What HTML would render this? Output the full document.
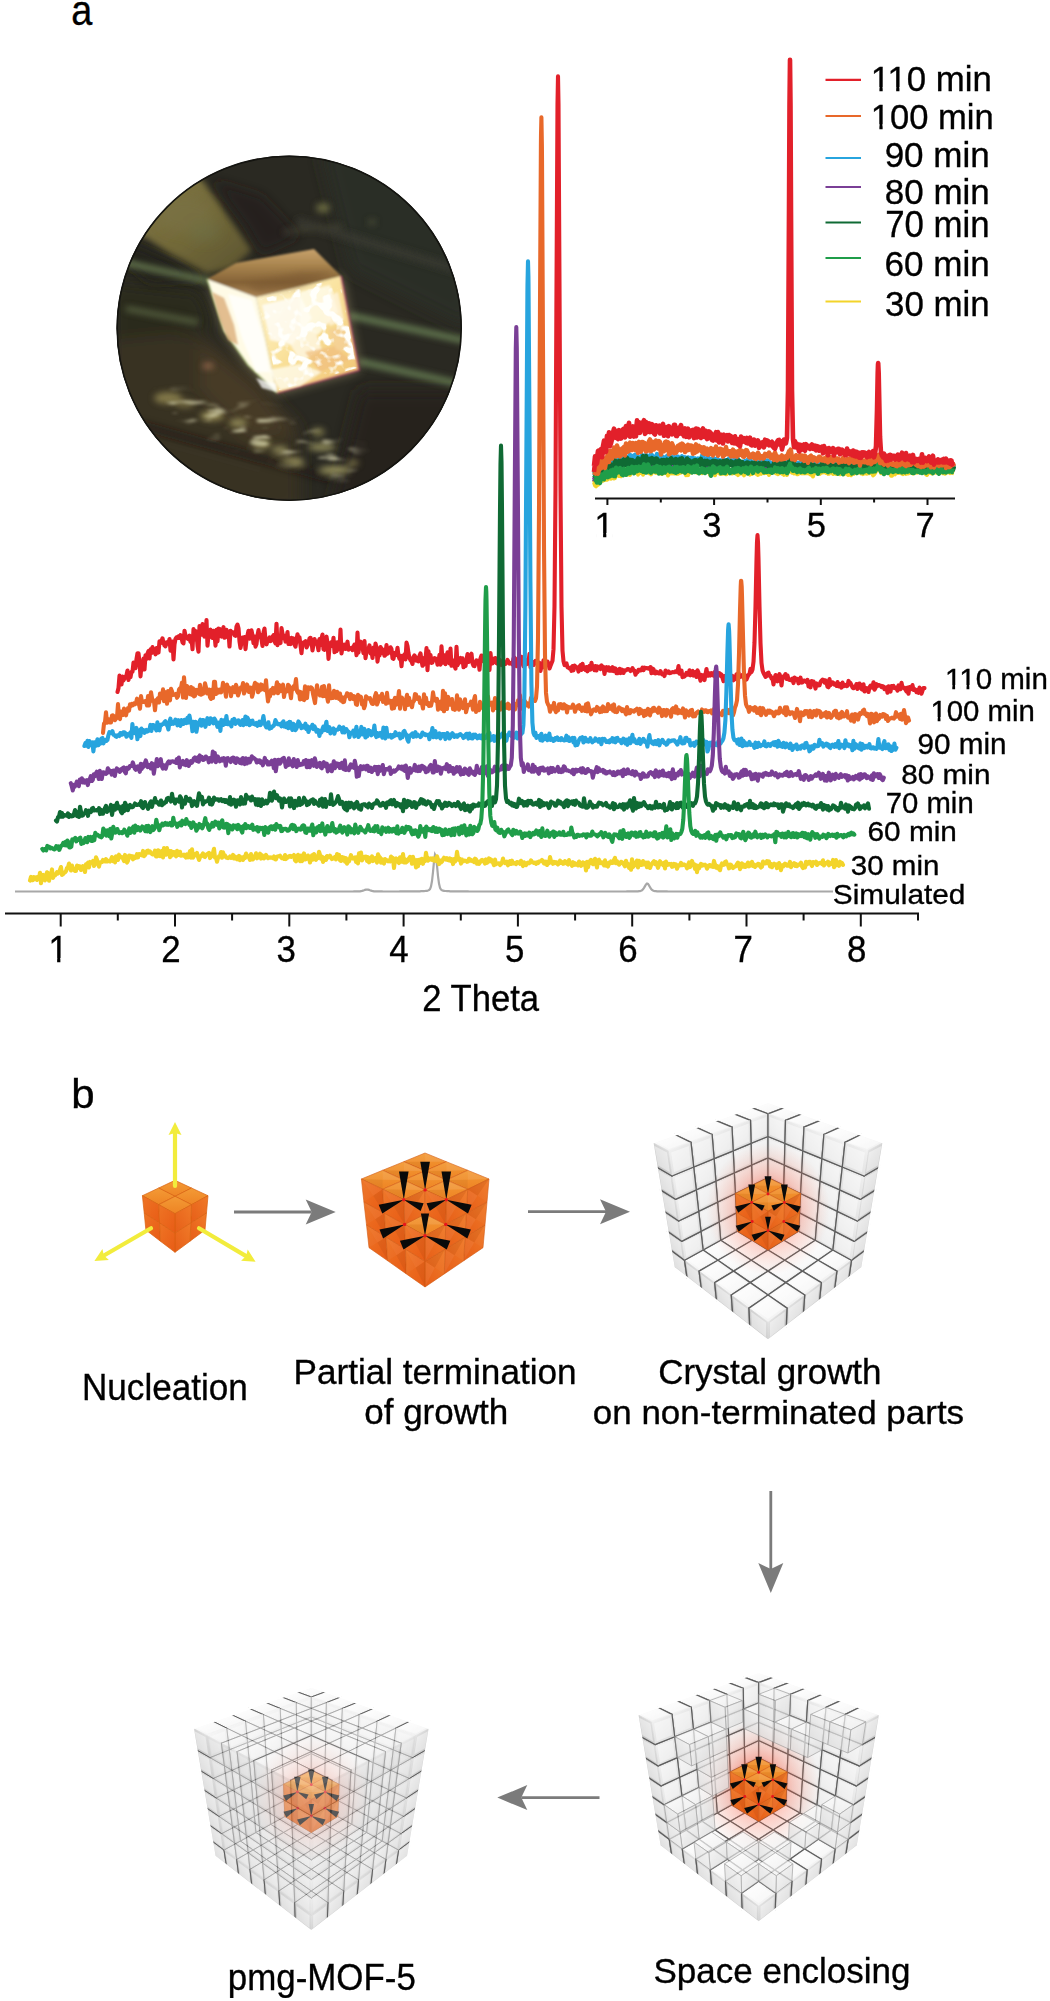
<!DOCTYPE html><html><head><meta charset="utf-8"><style>html,body{margin:0;padding:0;background:#fff;width:1050px;height:2001px;overflow:hidden}svg{display:block}text{font-family:"Liberation Sans",sans-serif;fill:#000;stroke:#000;stroke-width:0.35px}</style></head><body>
<svg width="1050" height="2001" viewBox="0 0 1050 2001">
<defs><linearGradient id="ot" x1="0" y1="0" x2="0" y2="1"><stop offset="0" stop-color="#f39a35"/><stop offset="1" stop-color="#ee8424"/></linearGradient>
<linearGradient id="ol" x1="0" y1="0" x2="1" y2="1"><stop offset="0" stop-color="#ee7424"/><stop offset="1" stop-color="#e85c16"/></linearGradient>
<linearGradient id="or" x1="1" y1="0" x2="0" y2="1"><stop offset="0" stop-color="#f07a28"/><stop offset="1" stop-color="#e65e18"/></linearGradient>
<linearGradient id="wt" x1="0" y1="0" x2="1" y2="1"><stop offset="0" stop-color="#ffffff"/><stop offset="1" stop-color="#eeeeee"/></linearGradient>
<linearGradient id="wl" x1="1" y1="0" x2="0" y2="1"><stop offset="0" stop-color="#f4f4f4"/><stop offset="1" stop-color="#d8d8d8"/></linearGradient>
<linearGradient id="wr" x1="0" y1="0" x2="1" y2="1"><stop offset="0" stop-color="#f4f4f4"/><stop offset="1" stop-color="#d8d8d8"/></linearGradient>
<linearGradient id="wlo" x1="1" y1="0" x2="0" y2="1"><stop offset="0" stop-color="#ececec"/><stop offset="1" stop-color="#b4b4b4"/></linearGradient>
<linearGradient id="wro" x1="0" y1="0" x2="1" y2="1"><stop offset="0" stop-color="#efefef"/><stop offset="1" stop-color="#b8b8b8"/></linearGradient>
<radialGradient id="glow" cx="0.5" cy="0.5" r="0.5"><stop offset="0" stop-color="#ff3010" stop-opacity="0.7"/><stop offset="0.55" stop-color="#ff5030" stop-opacity="0.25"/><stop offset="1" stop-color="#ff8060" stop-opacity="0"/></radialGradient></defs>
<rect width="1050" height="2001" fill="#fff"/>
<text x="71.29" y="25.00" font-size="42.05" textLength="21.06" lengthAdjust="spacingAndGlyphs">a</text>
<defs>
<clipPath id="pc"><circle cx="289.2" cy="328.2" r="172.6"/></clipPath>
<filter id="b12" x="-50%" y="-50%" width="200%" height="200%"><feGaussianBlur stdDeviation="12"/></filter>
<filter id="b8" x="-50%" y="-50%" width="200%" height="200%"><feGaussianBlur stdDeviation="8"/></filter>
<filter id="b6" x="-50%" y="-50%" width="200%" height="200%"><feGaussianBlur stdDeviation="6"/></filter>
<filter id="b4" x="-50%" y="-50%" width="200%" height="200%"><feGaussianBlur stdDeviation="4"/></filter>
<filter id="b3" x="-50%" y="-50%" width="200%" height="200%"><feGaussianBlur stdDeviation="3"/></filter>
<filter id="b2" x="-50%" y="-50%" width="200%" height="200%"><feGaussianBlur stdDeviation="1.8"/></filter>
<filter id="b1" x="-50%" y="-50%" width="200%" height="200%"><feGaussianBlur stdDeviation="1.0"/></filter>
<linearGradient id="fface" x1="0" y1="0" x2="1" y2="1"><stop offset="0" stop-color="#fff6d4"/><stop offset="0.5" stop-color="#f9e098"/><stop offset="1" stop-color="#f0c070"/></linearGradient>
<linearGradient id="tface" x1="0" y1="0" x2="0" y2="1"><stop offset="0" stop-color="#c8a26c"/><stop offset="0.35" stop-color="#a8844e"/><stop offset="0.7" stop-color="#846236"/><stop offset="1" stop-color="#b08a5a"/></linearGradient>
<linearGradient id="hold" x1="0" y1="0" x2="1" y2="1"><stop offset="0" stop-color="#857a46"/><stop offset="0.6" stop-color="#716838"/><stop offset="1" stop-color="#5a5230"/></linearGradient>
<filter id="blotch" x="0" y="0" width="100%" height="100%"><feTurbulence type="fractalNoise" baseFrequency="0.09" numOctaves="2" seed="7" result="t"/><feColorMatrix in="t" type="matrix" values="0 0 0 0 1  0 0 0 0 1  0 0 0 0 0.96  9 0 0 0 -4.6" result="m"/><feComposite in="m" in2="SourceGraphic" operator="in"/><feGaussianBlur stdDeviation="0.6"/></filter>
<filter id="grain" x="0" y="0" width="100%" height="100%"><feTurbulence type="fractalNoise" baseFrequency="0.5" numOctaves="1" seed="2" result="t"/><feColorMatrix in="t" type="matrix" values="0 0 0 0 0.5  0 0 0 0 0.5  0 0 0 0 0.4  0 0 0 0.5 -0.15" result="m"/><feComposite in="m" in2="SourceGraphic" operator="in"/></filter>
<filter id="streak" x="-10%" y="-10%" width="120%" height="120%"><feGaussianBlur in="SourceAlpha" stdDeviation="7" result="msk"/><feTurbulence type="fractalNoise" baseFrequency="0.04 0.13" numOctaves="2" seed="11" result="t"/><feColorMatrix in="t" type="matrix" values="0 0 0 0 0.64  0 0 0 0 0.62  0 0 0 0 0.40  6 0 0 0 -3.45" result="m"/><feComposite in="m" in2="msk" operator="in"/><feGaussianBlur stdDeviation="1.6"/></filter>
</defs>
<g clip-path="url(#pc)">
<rect x="110" y="150" width="360" height="360" fill="#2a2922"/>
<g filter="url(#b8)">
<path d="M110 330 L200 335 L260 380 L300 440 L300 510 L110 510Z" fill="#383022"/>
<path d="M200 340 L260 390 L300 430 L250 440 L200 390 Z" fill="#463a26"/>
<path d="M320 150 L470 150 L470 330 L350 270 Z" fill="#2c2d28"/>
<path d="M360 390 L470 390 L470 510 L330 510 Z" fill="#26241d"/>
<path d="M110 280 L200 290 L215 330 L110 340 Z" fill="#2b2a1f"/>
</g>
<g filter="url(#b3)">
<path d="M120 205 L150 180 L180 165 L204 182 L232 222 L252 250 L232 268 L206 274 L172 256 L146 238 L120 232 Z" fill="url(#hold)"/>
</g>
<g filter="url(#b6)">
<ellipse cx="185" cy="215" rx="28" ry="18" fill="#7a7448" opacity="0.5"/>
<ellipse cx="205" cy="232" rx="16" ry="10" fill="#6e7048" opacity="0.5"/>
<path d="M130 242 L175 262 L206 280 L150 282 L125 262 Z" fill="#221e15" opacity="0.8"/>
<path d="M212 180 L262 196 L300 236 L262 254 L245 225 Z" fill="#241f17" opacity="0.7"/>
</g>
<g filter="url(#b3)" stroke-linecap="round" fill="none">
<path d="M122 262 L208 281" stroke="#718658" stroke-width="6" opacity="0.85"/>
<path d="M128 309 L196 322" stroke="#66744c" stroke-width="5" opacity="0.75"/>
<path d="M352 316 L462 340" stroke="#728c5c" stroke-width="6" opacity="0.85"/>
<path d="M362 362 L460 384" stroke="#728c5c" stroke-width="6" opacity="0.85"/>
<path d="M285 232 L340 226" stroke="#50503c" stroke-width="4" opacity="0.6"/>
<path d="M300 222 L465 272" stroke="#3c3c32" stroke-width="9" opacity="0.7"/>
<ellipse cx="323" cy="208" rx="7" ry="5" fill="#6e6e42" opacity="0.9"/>
<ellipse cx="372" cy="222" rx="4" ry="3" fill="#4e5038" opacity="0.8"/>
</g>
<g filter="url(#b3)">
<ellipse cx="168" cy="398" rx="14" ry="6" fill="#8e8450" opacity="0.85"/>
<ellipse cx="185" cy="404" rx="10" ry="4" fill="#7a7044" opacity="0.85"/>
<ellipse cx="212" cy="416" rx="12" ry="5" fill="#9c9258" opacity="0.85"/>
<ellipse cx="238" cy="423" rx="9" ry="4" fill="#a09a60" opacity="0.85"/>
<ellipse cx="262" cy="444" rx="9" ry="4" fill="#a8a266" opacity="0.85"/>
<ellipse cx="280" cy="450" rx="8" ry="4" fill="#9a9460" opacity="0.85"/>
<ellipse cx="292" cy="462" rx="12" ry="4" fill="#b0a86c" opacity="0.85"/>
<ellipse cx="322" cy="447" rx="14" ry="4" fill="#9c9660" opacity="0.85"/>
<ellipse cx="335" cy="470" rx="16" ry="4" fill="#aca66a" opacity="0.85"/>
<ellipse cx="318" cy="432" rx="7" ry="4" fill="#8a8452" opacity="0.85"/>
<ellipse cx="208" cy="366" rx="6" ry="3" fill="#a06c52" opacity="0.85"/>
<ellipse cx="353" cy="463" rx="6" ry="3" fill="#8a8050" opacity="0.85"/>
<path d="M140 425 L330 478" stroke="#1c1a14" stroke-width="9" opacity="0.55"/>
</g>
<g>
<path d="M160 392 L260 410 L360 452 L352 478 L250 448 L160 410 Z" fill="#000" filter="url(#streak)" opacity="0.85"/>
<path d="M150 440 L260 470" stroke="#3a3426" stroke-width="6" opacity="0.5"/>
</g>
<path d="M210 282 L256 297 L341 276 L359 370 L277 393 L248 365 L224 331 Z" fill="#f0e0a0" opacity="0.45" filter="url(#b6)"/>
<g filter="url(#b1)">
<path d="M207 279 L236 263 L314 249 L341 276 L256 297 Z" fill="url(#tface)"/>
<path d="M256 297 L341 276 L359 370 L277 393 Z" fill="url(#fface)"/>
<path d="M207 279 L256 297 L277 393 L248 365 L224 331 Z" fill="#fffbe6"/>
<path d="M207 279 L224 331 L248 365 L277 393" stroke="#a8c070" stroke-width="1.6" fill="none" opacity="0.8"/>
<path d="M341 276 L359 370 L277 393" stroke="#b03466" stroke-width="1.8" fill="none" opacity="0.85"/>
</g>
<path d="M245 284 L300 272 L335 272 L300 287 L258 293 Z" fill="#7a5830" opacity="0.55" filter="url(#b3)"/>
<g filter="url(#b1)">
<path d="M212 292 L224 298 L234 325 L238 345 L228 340 L220 320 Z" fill="#d9aa74" opacity="0.75"/>
<path d="M228 294 L252 300 L264 340 L270 372 L256 372 L242 338 Z" fill="#ffffff" opacity="0.75"/>
<path d="M262 305 L300 296 L312 318 L292 345 L270 340 Z" fill="#ffffff" opacity="0.75"/>
<path d="M300 292 L330 285 L338 312 L318 335 L300 325 Z" fill="#fffdf2" opacity="0.75"/>
<path d="M285 335 L315 330 L322 350 L300 362 Z" fill="#fffaea" opacity="0.75"/>
<path d="M318 300 L338 292 L344 320 L330 326 Z" fill="#fff6e0" opacity="0.75"/>
<path d="M268 370 L300 364 L322 372 L300 386 L280 390 Z" fill="#fffdf2" opacity="0.75"/>
<path d="M305 352 L335 346 L350 360 L320 372 Z" fill="#f0c080" opacity="0.75"/>
<path d="M328 330 L345 326 L352 352 L336 350 Z" fill="#f4d098" opacity="0.75"/>
<path d="M256 378 L276 384 L277 392 L262 388 Z" fill="#ffffff" opacity="0.75"/>
</g>
<path d="M258 300 L339 278 L357 368 L279 390 Z" fill="#000" filter="url(#blotch)"/>
</g>
<circle cx="289.2" cy="328.2" r="172.0" fill="none" stroke="#141410" stroke-width="1.6"/>
<path d="M594.0 480.4L595.0 483.4L596.0 484.3L597.0 481.5L598.0 483.0L599.0 481.6L600.0 480.5L601.0 477.9L602.0 478.7L603.0 478.8L604.0 477.2L605.0 478.1L606.0 476.0L607.0 477.8L608.0 477.2L609.0 475.6L610.0 474.5L611.0 476.7L612.0 474.0L613.0 472.6L614.0 476.6L615.0 476.1L616.0 473.0L617.0 471.8L618.0 473.1L619.0 474.0L620.0 473.5L621.0 474.3L622.0 471.5L623.0 472.0L624.0 472.1L625.0 469.4L626.0 470.4L627.0 472.8L628.0 472.6L629.0 470.7L630.0 473.2L631.0 468.6L632.0 469.1L633.0 469.2L634.0 470.2L635.0 469.9L636.0 470.9L637.0 469.9L638.0 472.8L639.0 468.1L640.0 469.2L641.0 471.2L642.0 468.2L643.0 472.9L644.0 468.8L645.0 469.8L646.0 469.2L647.0 469.4L648.0 470.8L649.0 471.4L650.0 469.4L651.0 472.6L652.0 470.6L653.0 469.4L654.0 469.4L655.0 470.8L656.0 471.1L657.0 470.8L658.0 468.3L659.0 469.2L660.0 471.7L661.0 471.9L662.0 472.4L663.0 468.7L664.0 468.2L665.0 471.4L666.0 470.4L667.0 469.9L668.0 473.9L669.0 470.1L670.0 472.0L671.0 469.1L672.0 471.8L673.0 469.4L674.0 472.0L675.0 472.0L676.0 468.8L677.0 472.3L678.0 472.1L679.0 471.7L680.0 471.2L681.0 471.1L682.0 470.3L683.0 469.4L684.0 468.7L685.0 471.6L686.0 473.8L687.0 470.6L688.0 473.7L689.0 471.2L690.0 471.1L691.0 471.2L692.0 471.0L693.0 467.8L694.0 468.9L695.0 469.7L696.0 467.3L697.0 471.3L698.0 471.0L699.0 470.7L700.0 471.5L701.0 471.4L702.0 471.8L703.0 470.4L704.0 469.7L705.0 471.5L706.0 470.8L707.0 469.8L708.0 470.9L709.0 469.8L710.0 473.5L711.0 472.3L712.0 468.9L713.0 471.3L714.0 469.5L715.0 474.1L716.0 469.7L717.0 470.1L718.0 471.2L719.0 469.7L720.0 472.7L721.0 471.5L722.0 472.7L723.0 472.5L724.0 469.7L725.0 470.1L726.0 473.2L727.0 472.8L728.0 470.1L729.0 471.4L730.0 469.8L731.0 471.8L732.0 472.6L733.0 472.2L734.0 470.0L735.0 470.9L736.0 472.6L737.0 471.2L738.0 474.2L739.0 471.3L740.0 471.0L741.0 472.7L742.0 472.0L743.0 471.4L744.0 474.5L745.0 471.6L746.0 472.4L747.0 472.1L748.0 471.5L749.0 470.5L750.0 473.8L751.0 471.0L752.0 473.1L753.0 471.6L754.0 471.9L755.0 471.3L756.0 472.8L757.0 470.1L758.0 474.1L759.0 470.3L760.0 472.1L761.0 473.0L762.0 469.7L763.0 471.9L764.0 472.3L765.0 470.1L766.0 472.2L767.0 471.2L768.0 471.9L769.0 474.2L770.0 472.6L771.0 472.0L772.0 471.6L773.0 470.5L774.0 471.5L775.0 471.8L776.0 472.5L777.0 470.9L778.0 473.4L779.0 471.8L780.0 471.3L781.0 471.4L782.0 472.9L783.0 472.6L784.0 474.1L785.0 472.7L786.0 473.4L787.0 474.3L788.0 470.8L789.0 469.2L789.5 466.6L790.0 467.2L790.5 466.2L791.0 470.2L792.0 471.9L793.0 471.0L794.0 472.7L795.0 471.6L796.0 472.2L797.0 473.5L798.0 473.6L799.0 470.2L800.0 472.4L801.0 471.7L802.0 472.7L803.0 471.7L804.0 472.6L805.0 470.5L806.0 472.5L807.0 471.2L808.0 472.5L809.0 471.9L810.0 473.4L811.0 473.9L812.0 471.4L813.0 475.8L814.0 472.5L815.0 472.4L816.0 471.7L817.0 470.5L818.0 471.4L819.0 471.9L820.0 473.1L821.0 471.0L822.0 470.9L823.0 471.8L824.0 471.4L825.0 471.0L826.0 472.1L827.0 471.4L828.0 473.2L829.0 473.0L830.0 469.6L831.0 471.7L832.0 471.9L833.0 473.3L834.0 471.4L835.0 471.7L836.0 473.2L837.0 473.3L838.0 472.8L839.0 470.7L840.0 473.6L841.0 471.8L842.0 471.6L843.0 472.5L844.0 473.5L845.0 472.3L846.0 472.0L847.0 472.9L848.0 474.4L849.0 471.0L850.0 472.1L851.0 474.7L852.0 472.4L853.0 470.0L854.0 473.3L855.0 471.5L856.0 470.7L857.0 472.6L858.0 471.7L859.0 471.6L860.0 471.4L861.0 472.8L862.0 472.0L863.0 473.5L864.0 472.4L865.0 471.5L866.0 473.0L867.0 473.1L868.0 469.8L869.0 472.7L870.0 471.7L871.0 472.4L872.0 472.4L873.0 474.7L874.0 474.0L875.0 472.6L876.0 470.8L877.0 468.2L877.7 466.5L878.0 466.6L878.2 465.7L878.7 465.8L879.0 469.2L880.0 469.6L881.0 472.6L882.0 470.7L883.0 472.1L884.0 471.0L885.0 472.0L886.0 471.0L887.0 470.0L888.0 472.1L889.0 471.4L890.0 471.9L891.0 475.1L892.0 475.3L893.0 473.5L894.0 472.9L895.0 473.8L896.0 471.6L897.0 472.4L898.0 470.8L899.0 472.5L900.0 472.0L901.0 472.3L902.0 473.2L903.0 473.6L904.0 471.6L905.0 472.0L906.0 473.4L907.0 471.8L908.0 472.9L909.0 472.8L910.0 472.0L911.0 470.6L912.0 472.1L913.0 473.1L914.0 471.4L915.0 470.7L916.0 472.1L917.0 472.2L918.0 471.7L919.0 471.3L920.0 471.3L921.0 470.9L922.0 472.3L923.0 470.5L924.0 470.2L925.0 472.0L926.0 474.0L927.0 474.5L928.0 469.9L929.0 472.4L930.0 472.4L931.0 472.8L932.0 473.1L933.0 471.6L934.0 471.6L935.0 471.8L936.0 472.3L937.0 469.9L938.0 471.3L939.0 470.7L940.0 471.8L941.0 472.1L942.0 471.5L943.0 472.7L944.0 471.6L945.0 473.3L946.0 471.4L947.0 472.1L948.0 471.2L949.0 471.8L950.0 472.8L951.0 471.7L952.0 471.6L953.0 472.6L954.0 472.9M594.0 482.4L595.0 485.4L596.0 486.3L597.0 483.5L598.0 484.9L599.0 483.6L600.0 482.5L601.0 479.9L602.0 480.7L603.0 480.8L604.0 479.1L605.0 480.0L606.0 477.9L607.0 479.7L608.0 479.1L609.0 477.5L610.0 476.5L611.0 478.6L612.0 475.9L613.0 474.5L614.0 478.5L615.0 478.1L616.0 474.9L617.0 473.7L618.0 475.0L619.0 475.9L620.0 475.4L621.0 476.2L622.0 473.4L623.0 473.9L624.0 474.0L625.0 471.3L626.0 472.3L627.0 474.7L628.0 474.5L629.0 472.6L630.0 475.0L631.0 470.5L632.0 470.9L633.0 471.1L634.0 472.0L635.0 471.8L636.0 472.7L637.0 471.7L638.0 474.6L639.0 469.9L640.0 471.0L641.0 473.0L642.0 470.0L643.0 474.7L644.0 470.6L645.0 471.6L646.0 471.0L647.0 471.2L648.0 472.6L649.0 473.2L650.0 471.2L651.0 474.4L652.0 472.4L653.0 471.2L654.0 471.2L655.0 472.5L656.0 472.9L657.0 472.5L658.0 470.1L659.0 471.0L660.0 473.4L661.0 473.6L662.0 474.0L663.0 470.4L664.0 469.8L665.0 473.1L666.0 472.1L667.0 471.5L668.0 475.5L669.0 471.8L670.0 473.6L671.0 470.7L672.0 473.4L673.0 471.0L674.0 473.6L675.0 473.6L676.0 470.3L677.0 473.9L678.0 473.7L679.0 473.2L680.0 472.8L681.0 472.6L682.0 471.8L683.0 470.9L684.0 470.2L685.0 473.1L686.0 475.2L687.0 472.1L688.0 475.2L689.0 472.6L690.0 472.5L691.0 472.6L692.0 472.4L693.0 469.3L694.0 470.3L695.0 471.1L696.0 468.6L697.0 472.7L698.0 472.3L699.0 472.1L700.0 472.8L701.0 472.7L702.0 473.1L703.0 471.7L704.0 471.0L705.0 472.8L706.0 472.1L707.0 471.1L708.0 472.2L709.0 471.0L710.0 474.8L711.0 473.6L712.0 470.2L713.0 472.5L714.0 470.7L715.0 475.3L716.0 470.9L717.0 471.3L718.0 472.4L719.0 470.9L720.0 473.9L721.0 472.7L722.0 473.8L723.0 473.7L724.0 470.8L725.0 471.2L726.0 474.3L727.0 473.9L728.0 471.2L729.0 472.5L730.0 470.9L731.0 472.8L732.0 473.6L733.0 473.2L734.0 471.0L735.0 471.9L736.0 473.7L737.0 472.2L738.0 475.2L739.0 472.3L740.0 472.0L741.0 473.6L742.0 473.0L743.0 472.3L744.0 475.4L745.0 472.5L746.0 473.3L747.0 473.1L748.0 472.4L749.0 471.4L750.0 474.7L751.0 471.9L752.0 474.0L753.0 472.5L754.0 472.7L755.0 472.1L756.0 473.6L757.0 470.9L758.0 474.9L759.0 471.1L760.0 472.9L761.0 473.8L762.0 470.5L763.0 472.7L764.0 473.1L765.0 470.9L766.0 473.0L767.0 472.0L768.0 472.7L769.0 475.0L770.0 473.4L771.0 472.8L772.0 472.3L773.0 471.3L774.0 472.2L775.0 472.6L776.0 473.3L777.0 471.6L778.0 474.2L779.0 472.6L780.0 472.1L781.0 472.2L782.0 473.7L783.0 473.3L784.0 474.8L785.0 473.4L786.0 474.1L787.0 475.0L788.0 471.5L789.0 469.9L789.5 467.4L790.0 468.0L790.5 466.9L791.0 470.9L792.0 472.7L793.0 471.7L794.0 473.5L795.0 472.3L796.0 472.9L797.0 474.2L798.0 474.3L799.0 470.9L800.0 473.1L801.0 472.4L802.0 473.4L803.0 472.4L804.0 473.3L805.0 471.2L806.0 473.2L807.0 471.9L808.0 473.2L809.0 472.6L810.0 474.1L811.0 474.6L812.0 472.1L813.0 476.5L814.0 473.2L815.0 473.1L816.0 472.4L817.0 471.2L818.0 472.1L819.0 472.6L820.0 473.8L821.0 471.7L822.0 471.6L823.0 472.5L824.0 472.1L825.0 471.7L826.0 472.8L827.0 472.1L828.0 473.9L829.0 473.7L830.0 470.3L831.0 472.3L832.0 472.5L833.0 474.0L834.0 472.0L835.0 472.4L836.0 473.9L837.0 473.9L838.0 473.4L839.0 471.3L840.0 474.3L841.0 472.5L842.0 472.3L843.0 473.1L844.0 474.2L845.0 472.9L846.0 472.6L847.0 473.5L848.0 475.0L849.0 471.6L850.0 472.7L851.0 475.3L852.0 473.0L853.0 470.6L854.0 473.9L855.0 472.1L856.0 471.3L857.0 473.2L858.0 472.3L859.0 472.2L860.0 472.0L861.0 473.4L862.0 472.6L863.0 474.1L864.0 472.9L865.0 472.1L866.0 473.6L867.0 473.7L868.0 470.3L869.0 473.3L870.0 472.2L871.0 473.0L872.0 473.0L873.0 475.3L874.0 474.6L875.0 473.2L876.0 471.3L877.0 468.8L877.7 467.0L878.0 467.1L878.2 466.2L878.7 466.3L879.0 469.7L880.0 470.2L881.0 473.1L882.0 471.2L883.0 472.6L884.0 471.6L885.0 472.6L886.0 471.5L887.0 470.6L888.0 472.6L889.0 471.9L890.0 472.4L891.0 475.7L892.0 475.8L893.0 474.1L894.0 473.5L895.0 474.3L896.0 472.1L897.0 472.9L898.0 471.3L899.0 473.0L900.0 472.5L901.0 472.8L902.0 473.7L903.0 474.1L904.0 472.1L905.0 472.5L906.0 473.9L907.0 472.3L908.0 473.4L909.0 473.3L910.0 472.5L911.0 471.1L912.0 472.6L913.0 473.6L914.0 471.9L915.0 471.2L916.0 472.6L917.0 472.7L918.0 472.2L919.0 471.8L920.0 471.8L921.0 471.4L922.0 472.7L923.0 471.0L924.0 470.6L925.0 472.5L926.0 474.4L927.0 475.0L928.0 470.4L929.0 472.8L930.0 472.8L931.0 473.2L932.0 473.5L933.0 472.1L934.0 472.0L935.0 472.3L936.0 472.7L937.0 470.4L938.0 471.7L939.0 471.1L940.0 472.2L941.0 472.6L942.0 471.9L943.0 473.1L944.0 472.0L945.0 473.7L946.0 471.8L947.0 472.5L948.0 471.6L949.0 472.2L950.0 473.2L951.0 472.1L952.0 472.0L953.0 473.0L954.0 473.3" stroke="#f3d42a" stroke-width="4.0" fill="none" stroke-linejoin="round"/>
<path d="M594.0 479.5L595.0 476.1L596.0 476.1L597.0 475.1L598.0 474.9L599.0 473.0L600.0 471.7L601.0 473.4L602.0 469.0L603.0 472.6L604.0 471.8L605.0 469.6L606.0 470.3L607.0 468.4L608.0 467.6L609.0 469.9L610.0 468.3L611.0 470.5L612.0 470.9L613.0 467.5L614.0 466.5L615.0 468.1L616.0 462.6L617.0 462.9L618.0 464.0L619.0 464.4L620.0 463.8L621.0 463.5L622.0 464.2L623.0 463.0L624.0 463.6L625.0 463.1L626.0 461.7L627.0 461.3L628.0 460.9L629.0 462.9L630.0 461.9L631.0 464.7L632.0 462.2L633.0 464.7L634.0 460.2L635.0 461.9L636.0 459.8L637.0 461.4L638.0 462.8L639.0 461.1L640.0 461.2L641.0 462.2L642.0 464.3L643.0 460.3L644.0 460.2L645.0 460.8L646.0 461.5L647.0 460.6L648.0 462.2L649.0 462.9L650.0 460.1L651.0 464.1L652.0 459.9L653.0 462.4L654.0 462.1L655.0 464.6L656.0 461.1L657.0 462.0L658.0 462.7L659.0 463.2L660.0 461.8L661.0 464.5L662.0 460.5L663.0 460.9L664.0 462.2L665.0 461.0L666.0 460.1L667.0 464.1L668.0 463.4L669.0 459.2L670.0 463.5L671.0 463.8L672.0 460.9L673.0 464.0L674.0 460.4L675.0 461.7L676.0 462.2L677.0 463.1L678.0 463.0L679.0 462.8L680.0 461.4L681.0 464.6L682.0 463.5L683.0 462.0L684.0 462.0L685.0 464.6L686.0 463.6L687.0 461.7L688.0 462.4L689.0 464.2L690.0 460.4L691.0 461.9L692.0 463.9L693.0 461.5L694.0 465.1L695.0 461.7L696.0 461.4L697.0 461.5L698.0 463.3L699.0 462.8L700.0 462.3L701.0 463.5L702.0 462.4L703.0 463.7L704.0 464.2L705.0 463.9L706.0 462.2L707.0 464.6L708.0 463.8L709.0 464.6L710.0 464.8L711.0 463.2L712.0 464.6L713.0 462.8L714.0 464.4L715.0 461.8L716.0 464.6L717.0 463.8L718.0 461.8L719.0 464.3L720.0 463.3L721.0 466.4L722.0 464.2L723.0 466.7L724.0 464.9L725.0 463.0L726.0 464.4L727.0 464.4L728.0 465.1L729.0 462.3L730.0 463.9L731.0 463.5L732.0 464.5L733.0 464.5L734.0 464.7L735.0 465.1L736.0 464.1L737.0 465.2L738.0 464.0L739.0 464.0L740.0 464.8L741.0 464.7L742.0 463.4L743.0 467.0L744.0 463.5L745.0 462.9L746.0 465.9L747.0 465.2L748.0 465.1L749.0 464.0L750.0 463.2L751.0 464.5L752.0 464.7L753.0 464.8L754.0 464.9L755.0 466.2L756.0 463.7L757.0 462.9L758.0 464.6L759.0 463.2L760.0 462.1L761.0 466.6L762.0 465.2L763.0 464.4L764.0 464.7L765.0 467.0L766.0 466.3L767.0 466.1L768.0 465.6L769.0 464.1L770.0 465.1L771.0 464.3L772.0 467.4L773.0 464.2L774.0 464.0L775.0 463.7L776.0 466.2L777.0 463.7L778.0 466.1L779.0 465.8L780.0 465.3L781.0 468.1L782.0 465.0L783.0 466.1L784.0 464.3L785.0 464.8L786.0 466.4L787.0 464.7L788.0 464.8L789.0 462.7L789.5 460.5L790.0 459.3L790.5 460.5L791.0 459.9L792.0 464.6L793.0 466.7L794.0 467.5L795.0 466.5L796.0 465.9L797.0 465.9L798.0 465.0L799.0 466.8L800.0 466.7L801.0 465.3L802.0 464.3L803.0 466.3L804.0 467.1L805.0 465.4L806.0 466.2L807.0 466.3L808.0 466.9L809.0 466.5L810.0 465.0L811.0 466.8L812.0 465.7L813.0 466.0L814.0 466.9L815.0 464.2L816.0 466.9L817.0 465.0L818.0 465.5L819.0 467.3L820.0 467.3L821.0 465.3L822.0 465.1L823.0 464.6L824.0 465.3L825.0 467.7L826.0 466.3L827.0 465.2L828.0 466.0L829.0 464.9L830.0 466.1L831.0 466.9L832.0 464.8L833.0 467.1L834.0 467.8L835.0 467.2L836.0 465.7L837.0 467.2L838.0 465.3L839.0 465.3L840.0 468.5L841.0 465.1L842.0 465.6L843.0 466.1L844.0 466.5L845.0 467.7L846.0 467.2L847.0 467.8L848.0 467.2L849.0 466.7L850.0 465.1L851.0 466.6L852.0 465.8L853.0 465.8L854.0 466.2L855.0 468.6L856.0 467.5L857.0 467.6L858.0 465.5L859.0 466.6L860.0 466.4L861.0 466.9L862.0 467.4L863.0 466.5L864.0 466.8L865.0 467.3L866.0 467.1L867.0 467.5L868.0 464.0L869.0 465.7L870.0 466.6L871.0 465.7L872.0 465.7L873.0 464.3L874.0 467.4L875.0 466.4L876.0 465.3L877.0 465.5L877.7 461.1L878.0 461.8L878.2 461.0L878.7 462.1L879.0 460.5L880.0 465.5L881.0 466.3L882.0 467.5L883.0 469.5L884.0 468.3L885.0 468.1L886.0 465.5L887.0 467.1L888.0 466.7L889.0 465.6L890.0 467.3L891.0 467.9L892.0 467.3L893.0 467.9L894.0 468.3L895.0 466.7L896.0 468.9L897.0 466.3L898.0 466.9L899.0 467.0L900.0 466.7L901.0 465.7L902.0 468.1L903.0 468.9L904.0 467.6L905.0 467.3L906.0 466.8L907.0 467.6L908.0 467.8L909.0 467.1L910.0 466.7L911.0 464.9L912.0 467.2L913.0 468.6L914.0 467.3L915.0 465.9L916.0 466.5L917.0 465.8L918.0 465.4L919.0 468.7L920.0 467.5L921.0 467.8L922.0 465.3L923.0 467.9L924.0 468.1L925.0 468.6L926.0 466.5L927.0 466.3L928.0 468.6L929.0 468.1L930.0 467.2L931.0 468.2L932.0 469.1L933.0 467.8L934.0 468.0L935.0 468.4L936.0 468.3L937.0 467.5L938.0 467.7L939.0 465.9L940.0 466.4L941.0 470.0L942.0 467.1L943.0 466.1L944.0 468.9L945.0 469.3L946.0 466.5L947.0 467.7L948.0 467.5L949.0 467.5L950.0 467.0L951.0 467.0L952.0 467.3L953.0 468.3L954.0 467.6M594.0 481.5L595.0 478.1L596.0 478.1L597.0 477.1L598.0 476.9L599.0 475.0L600.0 473.7L601.0 475.4L602.0 471.0L603.0 474.6L604.0 473.8L605.0 471.6L606.0 472.3L607.0 470.4L608.0 469.6L609.0 471.9L610.0 470.3L611.0 472.4L612.0 472.8L613.0 469.5L614.0 468.4L615.0 470.0L616.0 464.5L617.0 464.9L618.0 465.9L619.0 466.3L620.0 465.7L621.0 465.4L622.0 466.1L623.0 464.9L624.0 465.5L625.0 464.9L626.0 463.6L627.0 463.1L628.0 462.8L629.0 464.7L630.0 463.8L631.0 466.6L632.0 464.1L633.0 466.5L634.0 462.1L635.0 463.7L636.0 461.7L637.0 463.3L638.0 464.7L639.0 462.9L640.0 463.0L641.0 464.0L642.0 466.1L643.0 462.2L644.0 462.0L645.0 462.6L646.0 463.3L647.0 462.5L648.0 464.0L649.0 464.7L650.0 461.9L651.0 465.9L652.0 461.7L653.0 464.2L654.0 463.9L655.0 466.3L656.0 462.9L657.0 463.8L658.0 464.4L659.0 464.9L660.0 463.5L661.0 466.2L662.0 462.2L663.0 462.6L664.0 463.9L665.0 462.7L666.0 461.8L667.0 465.7L668.0 465.1L669.0 460.9L670.0 465.2L671.0 465.5L672.0 462.5L673.0 465.6L674.0 462.0L675.0 463.3L676.0 463.8L677.0 464.7L678.0 464.6L679.0 464.4L680.0 463.0L681.0 466.2L682.0 465.0L683.0 463.5L684.0 463.5L685.0 466.1L686.0 465.1L687.0 463.1L688.0 463.8L689.0 465.7L690.0 461.8L691.0 463.3L692.0 465.4L693.0 462.9L694.0 466.5L695.0 463.1L696.0 462.8L697.0 462.9L698.0 464.7L699.0 464.1L700.0 463.7L701.0 464.8L702.0 463.7L703.0 465.0L704.0 465.6L705.0 465.2L706.0 463.5L707.0 465.9L708.0 465.0L709.0 465.9L710.0 466.1L711.0 464.4L712.0 465.9L713.0 464.1L714.0 465.6L715.0 463.0L716.0 465.8L717.0 465.0L718.0 463.0L719.0 465.4L720.0 464.4L721.0 467.6L722.0 465.3L723.0 467.8L724.0 466.0L725.0 464.1L726.0 465.5L727.0 465.5L728.0 466.2L729.0 463.4L730.0 465.0L731.0 464.6L732.0 465.6L733.0 465.5L734.0 465.7L735.0 466.1L736.0 465.2L737.0 466.3L738.0 465.0L739.0 465.0L740.0 465.8L741.0 465.7L742.0 464.4L743.0 468.0L744.0 464.4L745.0 463.9L746.0 466.8L747.0 466.1L748.0 466.0L749.0 464.9L750.0 464.1L751.0 465.4L752.0 465.6L753.0 465.7L754.0 465.8L755.0 467.0L756.0 464.6L757.0 463.7L758.0 465.4L759.0 464.0L760.0 462.9L761.0 467.4L762.0 466.0L763.0 465.2L764.0 465.5L765.0 467.7L766.0 467.1L767.0 466.9L768.0 466.3L769.0 464.9L770.0 465.9L771.0 465.1L772.0 468.2L773.0 465.0L774.0 464.8L775.0 464.5L776.0 467.0L777.0 464.5L778.0 466.8L779.0 466.5L780.0 466.0L781.0 468.9L782.0 465.7L783.0 466.8L784.0 465.1L785.0 465.5L786.0 467.1L787.0 465.5L788.0 465.5L789.0 463.5L789.5 461.2L790.0 460.0L790.5 461.2L791.0 460.6L792.0 465.3L793.0 467.4L794.0 468.2L795.0 467.2L796.0 466.6L797.0 466.7L798.0 465.7L799.0 467.5L800.0 467.5L801.0 466.0L802.0 465.0L803.0 467.0L804.0 467.9L805.0 466.1L806.0 466.9L807.0 467.0L808.0 467.6L809.0 467.2L810.0 465.7L811.0 467.5L812.0 466.4L813.0 466.7L814.0 467.6L815.0 464.8L816.0 467.6L817.0 465.6L818.0 466.1L819.0 468.0L820.0 468.0L821.0 465.9L822.0 465.7L823.0 465.3L824.0 465.9L825.0 468.4L826.0 467.0L827.0 465.8L828.0 466.7L829.0 465.5L830.0 466.8L831.0 467.6L832.0 465.5L833.0 467.8L834.0 468.5L835.0 467.8L836.0 466.4L837.0 467.9L838.0 466.0L839.0 465.9L840.0 469.1L841.0 465.7L842.0 466.2L843.0 466.8L844.0 467.1L845.0 468.3L846.0 467.8L847.0 468.4L848.0 467.8L849.0 467.4L850.0 465.7L851.0 467.2L852.0 466.4L853.0 466.4L854.0 466.8L855.0 469.2L856.0 468.1L857.0 468.2L858.0 466.1L859.0 467.2L860.0 467.0L861.0 467.5L862.0 468.0L863.0 467.1L864.0 467.3L865.0 467.9L866.0 467.6L867.0 468.0L868.0 464.6L869.0 466.3L870.0 467.1L871.0 466.3L872.0 466.3L873.0 464.8L874.0 467.9L875.0 467.0L876.0 465.9L877.0 466.1L877.7 461.6L878.0 462.3L878.2 461.6L878.7 462.7L879.0 461.1L880.0 466.0L881.0 466.8L882.0 468.0L883.0 470.1L884.0 468.9L885.0 468.7L886.0 466.1L887.0 467.7L888.0 467.3L889.0 466.1L890.0 467.8L891.0 468.5L892.0 467.8L893.0 468.4L894.0 468.8L895.0 467.2L896.0 469.4L897.0 466.8L898.0 467.4L899.0 467.6L900.0 467.2L901.0 466.2L902.0 468.6L903.0 469.4L904.0 468.1L905.0 467.8L906.0 467.3L907.0 468.1L908.0 468.3L909.0 467.5L910.0 467.2L911.0 465.4L912.0 467.7L913.0 469.1L914.0 467.8L915.0 466.3L916.0 467.0L917.0 466.3L918.0 465.9L919.0 469.2L920.0 468.0L921.0 468.3L922.0 465.8L923.0 468.4L924.0 468.5L925.0 469.0L926.0 466.9L927.0 466.7L928.0 469.1L929.0 468.5L930.0 467.7L931.0 468.6L932.0 469.6L933.0 468.3L934.0 468.5L935.0 468.9L936.0 468.7L937.0 467.9L938.0 468.1L939.0 466.3L940.0 466.9L941.0 470.4L942.0 467.5L943.0 466.5L944.0 469.3L945.0 469.7L946.0 466.9L947.0 468.2L948.0 467.9L949.0 467.9L950.0 467.4L951.0 467.4L952.0 467.7L953.0 468.7L954.0 468.0" stroke="#7a3f96" stroke-width="4.0" fill="none" stroke-linejoin="round"/>
<path d="M594.0 473.4L595.0 471.9L596.0 471.6L597.0 468.0L598.0 470.7L599.0 468.6L600.0 466.6L601.0 465.4L602.0 465.8L603.0 462.1L604.0 466.2L605.0 464.2L606.0 463.0L607.0 461.6L608.0 461.9L609.0 463.9L610.0 459.4L611.0 461.8L612.0 460.5L613.0 460.9L614.0 462.6L615.0 461.0L616.0 458.7L617.0 458.5L618.0 460.5L619.0 459.1L620.0 455.0L621.0 459.0L622.0 459.3L623.0 458.1L624.0 457.5L625.0 458.3L626.0 459.2L627.0 462.6L628.0 456.7L629.0 457.1L630.0 454.6L631.0 459.3L632.0 457.7L633.0 456.0L634.0 458.6L635.0 454.6L636.0 457.9L637.0 455.9L638.0 458.8L639.0 457.6L640.0 458.0L641.0 456.3L642.0 455.0L643.0 458.2L644.0 458.4L645.0 455.4L646.0 454.7L647.0 457.4L648.0 456.6L649.0 457.0L650.0 455.3L651.0 458.3L652.0 455.0L653.0 458.9L654.0 456.5L655.0 456.8L656.0 456.7L657.0 453.9L658.0 454.8L659.0 455.3L660.0 456.3L661.0 457.1L662.0 456.5L663.0 456.7L664.0 458.1L665.0 458.7L666.0 457.5L667.0 455.9L668.0 456.4L669.0 458.8L670.0 455.1L671.0 455.7L672.0 457.6L673.0 458.2L674.0 457.1L675.0 457.4L676.0 458.0L677.0 456.6L678.0 456.5L679.0 459.4L680.0 458.9L681.0 458.7L682.0 456.3L683.0 457.6L684.0 458.4L685.0 457.1L686.0 458.7L687.0 460.7L688.0 457.3L689.0 457.9L690.0 458.3L691.0 457.7L692.0 458.5L693.0 457.9L694.0 458.8L695.0 458.4L696.0 460.1L697.0 459.7L698.0 458.4L699.0 458.7L700.0 459.7L701.0 459.9L702.0 455.5L703.0 458.4L704.0 458.0L705.0 459.1L706.0 458.4L707.0 457.9L708.0 456.9L709.0 459.8L710.0 460.2L711.0 458.9L712.0 459.5L713.0 458.6L714.0 458.7L715.0 460.5L716.0 459.9L717.0 458.5L718.0 460.6L719.0 461.3L720.0 460.2L721.0 460.4L722.0 460.4L723.0 460.7L724.0 459.6L725.0 461.4L726.0 462.3L727.0 459.8L728.0 459.8L729.0 458.4L730.0 460.7L731.0 460.1L732.0 460.5L733.0 461.9L734.0 460.5L735.0 456.8L736.0 461.2L737.0 460.4L738.0 459.0L739.0 461.0L740.0 462.4L741.0 462.1L742.0 462.9L743.0 463.5L744.0 461.8L745.0 460.9L746.0 462.1L747.0 462.1L748.0 459.3L749.0 462.5L750.0 459.9L751.0 462.8L752.0 462.4L753.0 461.6L754.0 462.4L755.0 460.2L756.0 460.0L757.0 462.6L758.0 462.3L759.0 462.0L760.0 461.2L761.0 461.4L762.0 462.1L763.0 462.8L764.0 460.6L765.0 461.8L766.0 462.3L767.0 460.4L768.0 460.5L769.0 462.3L770.0 462.0L771.0 463.3L772.0 463.2L773.0 463.1L774.0 462.9L775.0 465.0L776.0 463.2L777.0 461.5L778.0 462.6L779.0 464.5L780.0 463.7L781.0 463.3L782.0 464.7L783.0 463.3L784.0 464.2L785.0 462.6L786.0 463.5L787.0 463.7L788.0 461.4L789.0 457.7L789.5 456.3L790.0 456.1L790.5 458.7L791.0 459.2L792.0 462.5L793.0 462.4L794.0 463.0L795.0 463.5L796.0 462.5L797.0 463.0L798.0 463.0L799.0 462.6L800.0 462.9L801.0 463.5L802.0 460.5L803.0 464.7L804.0 465.4L805.0 463.2L806.0 462.4L807.0 463.1L808.0 464.0L809.0 464.0L810.0 461.6L811.0 463.6L812.0 463.2L813.0 464.8L814.0 462.5L815.0 464.0L816.0 462.7L817.0 462.9L818.0 463.3L819.0 464.3L820.0 464.6L821.0 462.2L822.0 462.2L823.0 462.7L824.0 464.5L825.0 462.8L826.0 465.1L827.0 461.3L828.0 463.6L829.0 463.7L830.0 463.4L831.0 463.8L832.0 465.2L833.0 463.1L834.0 463.6L835.0 463.4L836.0 462.7L837.0 465.1L838.0 464.9L839.0 463.6L840.0 464.0L841.0 465.3L842.0 463.0L843.0 464.2L844.0 464.7L845.0 462.8L846.0 463.5L847.0 463.6L848.0 462.8L849.0 463.8L850.0 464.1L851.0 463.3L852.0 465.2L853.0 464.6L854.0 464.7L855.0 464.6L856.0 465.6L857.0 464.0L858.0 464.0L859.0 462.6L860.0 464.9L861.0 464.0L862.0 464.3L863.0 464.5L864.0 464.1L865.0 465.6L866.0 463.8L867.0 463.2L868.0 464.1L869.0 463.5L870.0 464.1L871.0 464.7L872.0 464.8L873.0 465.3L874.0 466.8L875.0 463.2L876.0 463.7L877.0 462.3L877.7 458.9L878.0 459.1L878.2 457.1L878.7 459.3L879.0 462.4L880.0 463.0L881.0 464.1L882.0 465.5L883.0 465.5L884.0 466.4L885.0 466.2L886.0 465.1L887.0 466.7L888.0 463.1L889.0 464.7L890.0 466.0L891.0 465.0L892.0 465.1L893.0 465.7L894.0 465.1L895.0 465.0L896.0 465.2L897.0 464.3L898.0 464.6L899.0 466.3L900.0 463.9L901.0 464.9L902.0 464.7L903.0 465.6L904.0 465.0L905.0 465.7L906.0 464.6L907.0 465.4L908.0 464.3L909.0 464.5L910.0 465.7L911.0 466.1L912.0 467.2L913.0 464.8L914.0 465.7L915.0 465.0L916.0 464.8L917.0 464.0L918.0 464.8L919.0 464.6L920.0 465.6L921.0 465.1L922.0 465.5L923.0 463.7L924.0 465.0L925.0 464.7L926.0 464.8L927.0 465.9L928.0 465.6L929.0 464.7L930.0 463.5L931.0 465.3L932.0 464.5L933.0 464.7L934.0 465.2L935.0 465.3L936.0 464.5L937.0 464.8L938.0 466.6L939.0 465.0L940.0 466.2L941.0 467.0L942.0 465.0L943.0 466.5L944.0 464.8L945.0 465.9L946.0 465.7L947.0 465.6L948.0 465.4L949.0 465.6L950.0 465.1L951.0 465.1L952.0 467.2L953.0 465.2L954.0 467.1M594.0 475.9L595.0 474.4L596.0 474.1L597.0 470.5L598.0 473.2L599.0 471.1L600.0 469.1L601.0 467.8L602.0 468.3L603.0 464.5L604.0 468.7L605.0 466.6L606.0 465.4L607.0 464.0L608.0 464.4L609.0 466.3L610.0 461.9L611.0 464.2L612.0 463.0L613.0 463.4L614.0 465.0L615.0 463.4L616.0 461.1L617.0 460.9L618.0 462.8L619.0 461.5L620.0 457.3L621.0 461.4L622.0 461.7L623.0 460.5L624.0 459.9L625.0 460.7L626.0 461.5L627.0 465.0L628.0 459.0L629.0 459.5L630.0 457.0L631.0 461.7L632.0 460.0L633.0 458.4L634.0 461.0L635.0 456.9L636.0 460.2L637.0 458.2L638.0 461.1L639.0 459.9L640.0 460.3L641.0 458.6L642.0 457.2L643.0 460.5L644.0 460.7L645.0 457.7L646.0 457.0L647.0 459.7L648.0 458.8L649.0 459.3L650.0 457.6L651.0 460.5L652.0 457.2L653.0 461.1L654.0 458.7L655.0 459.0L656.0 458.9L657.0 456.1L658.0 457.0L659.0 457.4L660.0 458.5L661.0 459.3L662.0 458.6L663.0 458.8L664.0 460.2L665.0 460.8L666.0 459.5L667.0 457.9L668.0 458.4L669.0 460.9L670.0 457.1L671.0 457.7L672.0 459.6L673.0 460.2L674.0 459.0L675.0 459.4L676.0 460.0L677.0 458.5L678.0 458.4L679.0 461.3L680.0 460.8L681.0 460.6L682.0 458.2L683.0 459.5L684.0 460.2L685.0 458.9L686.0 460.6L687.0 462.5L688.0 459.1L689.0 459.7L690.0 460.0L691.0 459.5L692.0 460.3L693.0 459.6L694.0 460.5L695.0 460.1L696.0 461.8L697.0 461.4L698.0 460.1L699.0 460.4L700.0 461.3L701.0 461.6L702.0 457.1L703.0 460.1L704.0 459.6L705.0 460.7L706.0 460.0L707.0 459.5L708.0 458.5L709.0 461.4L710.0 461.8L711.0 460.5L712.0 461.0L713.0 460.2L714.0 460.2L715.0 462.0L716.0 461.4L717.0 460.0L718.0 462.1L719.0 462.8L720.0 461.7L721.0 461.9L722.0 461.9L723.0 462.1L724.0 461.0L725.0 462.8L726.0 463.7L727.0 461.2L728.0 461.2L729.0 459.7L730.0 462.1L731.0 461.4L732.0 461.8L733.0 463.2L734.0 461.7L735.0 458.1L736.0 462.5L737.0 461.7L738.0 460.2L739.0 462.3L740.0 463.6L741.0 463.3L742.0 464.1L743.0 464.7L744.0 463.0L745.0 462.1L746.0 463.3L747.0 463.2L748.0 460.4L749.0 463.7L750.0 461.0L751.0 463.9L752.0 463.5L753.0 462.7L754.0 463.5L755.0 461.2L756.0 461.1L757.0 463.6L758.0 463.3L759.0 463.0L760.0 462.2L761.0 462.4L762.0 463.1L763.0 463.8L764.0 461.6L765.0 462.8L766.0 463.3L767.0 461.4L768.0 461.4L769.0 463.3L770.0 462.9L771.0 464.3L772.0 464.1L773.0 464.1L774.0 463.8L775.0 466.0L776.0 464.1L777.0 462.5L778.0 463.6L779.0 465.4L780.0 464.7L781.0 464.3L782.0 465.6L783.0 464.3L784.0 465.1L785.0 463.5L786.0 464.4L787.0 464.6L788.0 462.3L789.0 458.7L789.5 457.2L790.0 457.0L790.5 459.6L791.0 460.1L792.0 463.4L793.0 463.3L794.0 463.9L795.0 464.4L796.0 463.4L797.0 463.9L798.0 463.9L799.0 463.5L800.0 463.8L801.0 464.4L802.0 461.4L803.0 465.6L804.0 466.3L805.0 464.1L806.0 463.3L807.0 464.0L808.0 464.9L809.0 464.9L810.0 462.5L811.0 464.4L812.0 464.1L813.0 465.7L814.0 463.4L815.0 464.8L816.0 463.5L817.0 463.7L818.0 464.2L819.0 465.1L820.0 465.4L821.0 463.1L822.0 463.0L823.0 463.5L824.0 465.3L825.0 463.7L826.0 466.0L827.0 462.2L828.0 464.4L829.0 464.5L830.0 464.2L831.0 464.7L832.0 466.0L833.0 463.9L834.0 464.4L835.0 464.2L836.0 463.5L837.0 465.9L838.0 465.7L839.0 464.4L840.0 464.8L841.0 466.1L842.0 463.8L843.0 464.9L844.0 465.5L845.0 463.6L846.0 464.3L847.0 464.4L848.0 463.6L849.0 464.6L850.0 464.9L851.0 464.1L852.0 466.0L853.0 465.3L854.0 465.5L855.0 465.4L856.0 466.4L857.0 464.8L858.0 464.8L859.0 463.3L860.0 465.7L861.0 464.8L862.0 465.1L863.0 465.2L864.0 464.9L865.0 466.3L866.0 464.6L867.0 464.0L868.0 464.8L869.0 464.2L870.0 464.8L871.0 465.4L872.0 465.5L873.0 466.0L874.0 467.5L875.0 464.0L876.0 464.4L877.0 463.0L877.7 459.6L878.0 459.8L878.2 457.8L878.7 460.0L879.0 463.1L880.0 463.7L881.0 464.8L882.0 466.2L883.0 466.2L884.0 467.0L885.0 466.9L886.0 465.8L887.0 467.4L888.0 463.8L889.0 465.4L890.0 466.7L891.0 465.6L892.0 465.8L893.0 466.3L894.0 465.7L895.0 465.7L896.0 465.8L897.0 465.0L898.0 465.2L899.0 466.9L900.0 464.5L901.0 465.5L902.0 465.3L903.0 466.2L904.0 465.6L905.0 466.3L906.0 465.2L907.0 466.0L908.0 464.9L909.0 465.1L910.0 466.3L911.0 466.7L912.0 467.8L913.0 465.4L914.0 466.3L915.0 465.6L916.0 465.4L917.0 464.6L918.0 465.4L919.0 465.2L920.0 466.2L921.0 465.6L922.0 466.1L923.0 464.3L924.0 465.6L925.0 465.2L926.0 465.4L927.0 466.4L928.0 466.2L929.0 465.3L930.0 464.0L931.0 465.9L932.0 465.1L933.0 465.2L934.0 465.7L935.0 465.9L936.0 465.0L937.0 465.4L938.0 467.1L939.0 465.6L940.0 466.8L941.0 467.5L942.0 465.6L943.0 467.0L944.0 465.3L945.0 466.4L946.0 466.3L947.0 466.1L948.0 465.9L949.0 466.2L950.0 465.6L951.0 465.6L952.0 467.7L953.0 465.7L954.0 467.6" stroke="#27a4de" stroke-width="4.2" fill="none" stroke-linejoin="round"/>
<path d="M594.0 471.3L595.0 472.5L596.0 473.1L597.0 471.3L598.0 469.4L599.0 474.5L600.0 470.6L601.0 470.0L602.0 466.9L603.0 466.9L604.0 468.3L605.0 466.6L606.0 468.0L607.0 468.6L608.0 463.5L609.0 462.8L610.0 466.6L611.0 464.4L612.0 465.3L613.0 466.1L614.0 465.8L615.0 460.4L616.0 464.1L617.0 465.3L618.0 462.2L619.0 460.9L620.0 460.5L621.0 462.2L622.0 460.7L623.0 461.3L624.0 459.4L625.0 461.7L626.0 459.5L627.0 457.9L628.0 462.2L629.0 459.5L630.0 459.9L631.0 460.6L632.0 460.0L633.0 460.5L634.0 461.2L635.0 462.8L636.0 461.6L637.0 460.3L638.0 458.4L639.0 459.8L640.0 460.0L641.0 462.3L642.0 458.9L643.0 456.1L644.0 458.5L645.0 458.7L646.0 456.0L647.0 458.9L648.0 459.1L649.0 460.1L650.0 458.9L651.0 460.5L652.0 458.1L653.0 460.1L654.0 460.8L655.0 459.3L656.0 458.4L657.0 458.8L658.0 461.5L659.0 462.4L660.0 460.8L661.0 462.7L662.0 460.1L663.0 461.4L664.0 460.0L665.0 461.8L666.0 461.0L667.0 459.6L668.0 460.1L669.0 463.1L670.0 461.4L671.0 458.2L672.0 459.5L673.0 460.1L674.0 459.7L675.0 461.2L676.0 459.1L677.0 460.5L678.0 460.7L679.0 462.2L680.0 458.8L681.0 460.6L682.0 458.2L683.0 461.7L684.0 461.3L685.0 460.9L686.0 461.7L687.0 458.4L688.0 461.5L689.0 460.1L690.0 463.4L691.0 461.4L692.0 463.6L693.0 463.6L694.0 460.4L695.0 460.3L696.0 460.3L697.0 461.9L698.0 463.5L699.0 460.3L700.0 461.1L701.0 458.9L702.0 463.4L703.0 461.9L704.0 465.9L705.0 460.8L706.0 461.4L707.0 460.7L708.0 462.1L709.0 461.7L710.0 463.2L711.0 461.8L712.0 461.5L713.0 460.7L714.0 461.6L715.0 461.0L716.0 461.7L717.0 461.4L718.0 463.2L719.0 463.9L720.0 461.2L721.0 463.2L722.0 463.0L723.0 461.1L724.0 461.0L725.0 465.0L726.0 464.4L727.0 460.3L728.0 461.8L729.0 463.4L730.0 462.7L731.0 461.3L732.0 463.5L733.0 462.4L734.0 465.5L735.0 465.2L736.0 461.3L737.0 463.0L738.0 462.4L739.0 460.6L740.0 462.3L741.0 463.6L742.0 461.7L743.0 464.0L744.0 463.5L745.0 463.4L746.0 465.6L747.0 462.4L748.0 462.7L749.0 464.4L750.0 463.5L751.0 464.4L752.0 462.8L753.0 464.4L754.0 466.0L755.0 462.8L756.0 463.1L757.0 465.1L758.0 464.5L759.0 463.3L760.0 463.4L761.0 463.7L762.0 464.8L763.0 464.5L764.0 462.6L765.0 463.6L766.0 463.2L767.0 463.9L768.0 463.4L769.0 466.0L770.0 465.7L771.0 467.6L772.0 465.7L773.0 466.5L774.0 462.7L775.0 464.9L776.0 463.3L777.0 468.1L778.0 466.3L779.0 466.3L780.0 463.4L781.0 463.1L782.0 465.0L783.0 465.2L784.0 461.6L785.0 464.8L786.0 464.2L787.0 463.5L788.0 465.4L789.0 461.3L789.5 458.8L790.0 459.6L790.5 460.1L791.0 461.6L792.0 464.2L793.0 466.0L794.0 463.3L795.0 466.9L796.0 465.4L797.0 464.9L798.0 466.3L799.0 464.9L800.0 466.5L801.0 465.5L802.0 466.9L803.0 463.9L804.0 464.1L805.0 465.3L806.0 465.1L807.0 466.2L808.0 466.0L809.0 466.7L810.0 465.4L811.0 464.4L812.0 466.1L813.0 467.6L814.0 464.9L815.0 467.0L816.0 466.2L817.0 465.6L818.0 468.1L819.0 466.9L820.0 465.8L821.0 468.2L822.0 463.6L823.0 465.4L824.0 466.2L825.0 465.4L826.0 464.2L827.0 466.3L828.0 465.0L829.0 467.5L830.0 464.5L831.0 465.9L832.0 465.2L833.0 467.4L834.0 466.4L835.0 467.0L836.0 464.8L837.0 466.5L838.0 465.0L839.0 465.7L840.0 467.8L841.0 463.4L842.0 467.8L843.0 467.8L844.0 464.4L845.0 466.7L846.0 465.9L847.0 465.0L848.0 466.9L849.0 467.6L850.0 466.7L851.0 465.8L852.0 467.3L853.0 467.6L854.0 466.1L855.0 466.4L856.0 466.7L857.0 467.4L858.0 464.8L859.0 465.1L860.0 465.0L861.0 466.8L862.0 465.1L863.0 467.4L864.0 467.4L865.0 466.0L866.0 466.9L867.0 467.5L868.0 466.6L869.0 467.2L870.0 464.3L871.0 467.5L872.0 463.4L873.0 466.3L874.0 467.8L875.0 465.1L876.0 466.1L877.0 462.0L877.7 462.2L878.0 461.0L878.2 462.0L878.7 462.1L879.0 462.6L880.0 465.9L881.0 464.6L882.0 468.8L883.0 466.4L884.0 467.6L885.0 465.5L886.0 466.8L887.0 466.2L888.0 467.7L889.0 466.0L890.0 467.2L891.0 466.4L892.0 466.3L893.0 467.0L894.0 466.7L895.0 467.9L896.0 468.0L897.0 467.3L898.0 465.8L899.0 467.4L900.0 467.5L901.0 467.5L902.0 468.2L903.0 467.8L904.0 467.0L905.0 469.0L906.0 466.2L907.0 466.5L908.0 468.8L909.0 466.5L910.0 465.8L911.0 468.2L912.0 468.1L913.0 466.7L914.0 467.8L915.0 467.6L916.0 468.1L917.0 467.3L918.0 468.0L919.0 468.0L920.0 467.5L921.0 468.6L922.0 467.0L923.0 467.3L924.0 469.0L925.0 467.8L926.0 467.8L927.0 467.3L928.0 467.8L929.0 468.6L930.0 466.8L931.0 467.7L932.0 467.7L933.0 467.1L934.0 467.5L935.0 468.1L936.0 468.7L937.0 466.5L938.0 466.8L939.0 466.5L940.0 467.6L941.0 466.3L942.0 467.9L943.0 467.5L944.0 467.5L945.0 470.6L946.0 469.5L947.0 468.6L948.0 468.4L949.0 468.3L950.0 469.4L951.0 468.9L952.0 467.5L953.0 469.1L954.0 466.0M594.0 474.8L595.0 476.0L596.0 476.6L597.0 474.7L598.0 472.9L599.0 478.0L600.0 474.1L601.0 473.4L602.0 470.4L603.0 470.3L604.0 471.7L605.0 470.0L606.0 471.4L607.0 472.0L608.0 466.9L609.0 466.2L610.0 470.0L611.0 467.8L612.0 468.7L613.0 469.5L614.0 469.1L615.0 463.8L616.0 467.4L617.0 468.6L618.0 465.5L619.0 464.2L620.0 463.8L621.0 465.5L622.0 464.0L623.0 464.6L624.0 462.7L625.0 465.0L626.0 462.8L627.0 461.2L628.0 465.5L629.0 462.8L630.0 463.2L631.0 463.8L632.0 463.2L633.0 463.8L634.0 464.5L635.0 466.0L636.0 464.9L637.0 463.5L638.0 461.6L639.0 463.0L640.0 463.2L641.0 465.5L642.0 462.1L643.0 459.3L644.0 461.7L645.0 461.9L646.0 459.2L647.0 462.1L648.0 462.3L649.0 463.2L650.0 462.1L651.0 463.6L652.0 461.2L653.0 463.2L654.0 463.8L655.0 462.4L656.0 461.5L657.0 461.8L658.0 464.6L659.0 465.4L660.0 463.8L661.0 465.7L662.0 463.0L663.0 464.4L664.0 462.9L665.0 464.7L666.0 463.8L667.0 462.5L668.0 463.0L669.0 466.0L670.0 464.2L671.0 461.0L672.0 462.3L673.0 462.8L674.0 462.4L675.0 464.0L676.0 461.9L677.0 463.2L678.0 463.4L679.0 464.9L680.0 461.5L681.0 463.2L682.0 460.8L683.0 464.4L684.0 463.9L685.0 463.5L686.0 464.3L687.0 460.9L688.0 464.1L689.0 462.6L690.0 465.9L691.0 463.9L692.0 466.1L693.0 466.1L694.0 462.9L695.0 462.7L696.0 462.7L697.0 464.3L698.0 465.9L699.0 462.7L700.0 463.4L701.0 461.2L702.0 465.7L703.0 464.2L704.0 468.2L705.0 463.0L706.0 463.7L707.0 463.0L708.0 464.4L709.0 463.9L710.0 465.4L711.0 464.0L712.0 463.6L713.0 462.8L714.0 463.8L715.0 463.1L716.0 463.8L717.0 463.5L718.0 465.3L719.0 466.0L720.0 463.2L721.0 465.2L722.0 465.0L723.0 463.1L724.0 462.9L725.0 467.0L726.0 466.3L727.0 462.3L728.0 463.7L729.0 465.3L730.0 464.6L731.0 463.2L732.0 465.3L733.0 464.2L734.0 467.3L735.0 467.0L736.0 463.0L737.0 464.7L738.0 464.2L739.0 462.3L740.0 464.0L741.0 465.3L742.0 463.4L743.0 465.7L744.0 465.2L745.0 465.1L746.0 467.2L747.0 464.0L748.0 464.3L749.0 466.0L750.0 465.0L751.0 466.0L752.0 464.4L753.0 465.9L754.0 467.5L755.0 464.3L756.0 464.6L757.0 466.5L758.0 465.9L759.0 464.7L760.0 464.8L761.0 465.1L762.0 466.1L763.0 465.9L764.0 463.9L765.0 465.0L766.0 464.6L767.0 465.3L768.0 464.8L769.0 467.4L770.0 467.0L771.0 469.0L772.0 467.0L773.0 467.9L774.0 464.1L775.0 466.2L776.0 464.6L777.0 469.5L778.0 467.7L779.0 467.7L780.0 464.8L781.0 464.5L782.0 466.3L783.0 466.6L784.0 462.9L785.0 466.1L786.0 465.5L787.0 464.8L788.0 466.7L789.0 462.6L789.5 460.1L790.0 460.9L790.5 461.4L791.0 462.9L792.0 465.5L793.0 467.3L794.0 464.5L795.0 468.2L796.0 466.6L797.0 466.1L798.0 467.6L799.0 466.2L800.0 467.8L801.0 466.8L802.0 468.1L803.0 465.1L804.0 465.3L805.0 466.5L806.0 466.3L807.0 467.4L808.0 467.2L809.0 467.9L810.0 466.6L811.0 465.6L812.0 467.3L813.0 468.8L814.0 466.1L815.0 468.2L816.0 467.4L817.0 466.8L818.0 469.3L819.0 468.1L820.0 467.0L821.0 469.4L822.0 464.8L823.0 466.5L824.0 467.3L825.0 466.6L826.0 465.4L827.0 467.4L828.0 466.2L829.0 468.6L830.0 465.6L831.0 467.0L832.0 466.3L833.0 468.6L834.0 467.6L835.0 468.1L836.0 466.0L837.0 467.6L838.0 466.1L839.0 466.8L840.0 468.9L841.0 464.5L842.0 468.9L843.0 468.9L844.0 465.5L845.0 467.8L846.0 467.0L847.0 466.1L848.0 467.9L849.0 468.7L850.0 467.8L851.0 466.9L852.0 468.3L853.0 468.7L854.0 467.2L855.0 467.4L856.0 467.8L857.0 468.5L858.0 465.9L859.0 466.2L860.0 466.0L861.0 467.8L862.0 466.1L863.0 468.4L864.0 468.4L865.0 467.1L866.0 467.9L867.0 468.5L868.0 467.6L869.0 468.2L870.0 465.3L871.0 468.5L872.0 464.3L873.0 467.3L874.0 468.8L875.0 466.1L876.0 467.1L877.0 463.0L877.7 463.2L878.0 462.0L878.2 463.0L878.7 463.1L879.0 463.6L880.0 466.9L881.0 465.6L882.0 469.8L883.0 467.3L884.0 468.6L885.0 466.5L886.0 467.7L887.0 467.2L888.0 468.7L889.0 466.9L890.0 468.1L891.0 467.3L892.0 467.2L893.0 467.9L894.0 467.6L895.0 468.8L896.0 468.9L897.0 468.2L898.0 466.7L899.0 468.3L900.0 468.4L901.0 468.4L902.0 469.1L903.0 468.7L904.0 467.9L905.0 469.9L906.0 467.1L907.0 467.3L908.0 469.6L909.0 467.3L910.0 466.6L911.0 469.0L912.0 468.9L913.0 467.6L914.0 468.6L915.0 468.5L916.0 468.9L917.0 468.2L918.0 468.8L919.0 468.8L920.0 468.3L921.0 469.4L922.0 467.9L923.0 468.2L924.0 469.8L925.0 468.6L926.0 468.6L927.0 468.1L928.0 468.6L929.0 469.4L930.0 467.6L931.0 468.5L932.0 468.5L933.0 467.9L934.0 468.3L935.0 468.9L936.0 469.5L937.0 467.2L938.0 467.5L939.0 467.3L940.0 468.3L941.0 467.0L942.0 468.6L943.0 468.3L944.0 468.3L945.0 471.3L946.0 470.2L947.0 469.3L948.0 469.1L949.0 469.0L950.0 470.1L951.0 469.7L952.0 468.2L953.0 469.8L954.0 466.7" stroke="#0f6a34" stroke-width="4.4" fill="none" stroke-linejoin="round"/>
<path d="M594.0 477.9L595.0 477.4L596.0 476.9L597.0 479.1L598.0 478.0L599.0 475.4L600.0 479.7L601.0 475.1L602.0 474.4L603.0 474.6L604.0 475.7L605.0 472.7L606.0 470.7L607.0 472.3L608.0 473.8L609.0 472.0L610.0 472.8L611.0 470.6L612.0 472.0L613.0 469.8L614.0 472.6L615.0 472.8L616.0 467.7L617.0 469.4L618.0 468.9L619.0 468.7L620.0 468.0L621.0 469.5L622.0 471.3L623.0 471.8L624.0 468.8L625.0 469.5L626.0 471.5L627.0 470.8L628.0 467.9L629.0 468.3L630.0 469.9L631.0 469.3L632.0 466.8L633.0 467.2L634.0 469.9L635.0 467.1L636.0 467.0L637.0 467.9L638.0 467.6L639.0 466.6L640.0 467.1L641.0 467.6L642.0 466.8L643.0 468.6L644.0 464.3L645.0 468.9L646.0 469.4L647.0 468.9L648.0 464.4L649.0 466.9L650.0 468.1L651.0 469.6L652.0 468.3L653.0 467.9L654.0 467.2L655.0 468.4L656.0 468.6L657.0 466.0L658.0 467.4L659.0 470.5L660.0 466.9L661.0 469.6L662.0 470.4L663.0 469.3L664.0 467.4L665.0 469.5L666.0 467.9L667.0 467.7L668.0 467.3L669.0 466.8L670.0 468.8L671.0 468.0L672.0 468.7L673.0 468.3L674.0 469.1L675.0 467.1L676.0 470.0L677.0 466.9L678.0 469.0L679.0 468.1L680.0 467.6L681.0 467.9L682.0 468.8L683.0 467.2L684.0 467.4L685.0 470.1L686.0 468.5L687.0 468.5L688.0 466.3L689.0 467.3L690.0 469.0L691.0 467.7L692.0 469.9L693.0 468.9L694.0 466.5L695.0 469.5L696.0 468.5L697.0 465.5L698.0 470.0L699.0 470.8L700.0 470.0L701.0 469.6L702.0 468.3L703.0 469.8L704.0 469.2L705.0 470.6L706.0 469.6L707.0 469.2L708.0 469.5L709.0 468.5L710.0 469.0L711.0 473.6L712.0 469.6L713.0 466.4L714.0 467.2L715.0 470.4L716.0 468.7L717.0 468.8L718.0 468.5L719.0 468.0L720.0 467.4L721.0 471.2L722.0 470.2L723.0 468.5L724.0 470.9L725.0 471.1L726.0 467.8L727.0 466.8L728.0 468.4L729.0 469.3L730.0 471.2L731.0 470.4L732.0 469.6L733.0 470.3L734.0 470.7L735.0 468.4L736.0 468.5L737.0 469.6L738.0 468.1L739.0 468.4L740.0 469.9L741.0 470.8L742.0 469.5L743.0 468.4L744.0 469.5L745.0 470.3L746.0 467.5L747.0 468.9L748.0 471.9L749.0 468.5L750.0 468.8L751.0 466.8L752.0 467.9L753.0 471.5L754.0 468.8L755.0 468.3L756.0 468.5L757.0 467.4L758.0 470.2L759.0 468.7L760.0 468.4L761.0 468.0L762.0 468.9L763.0 468.6L764.0 470.9L765.0 470.4L766.0 470.2L767.0 470.6L768.0 470.4L769.0 469.8L770.0 470.6L771.0 469.7L772.0 471.5L773.0 470.9L774.0 470.0L775.0 467.6L776.0 468.6L777.0 470.0L778.0 468.2L779.0 469.8L780.0 470.8L781.0 468.8L782.0 468.2L783.0 470.8L784.0 469.6L785.0 470.2L786.0 468.8L787.0 471.8L788.0 470.4L789.0 466.1L789.5 466.6L790.0 463.8L790.5 465.7L791.0 467.0L792.0 467.2L793.0 469.6L794.0 469.4L795.0 468.9L796.0 469.3L797.0 470.8L798.0 470.1L799.0 469.2L800.0 468.5L801.0 470.8L802.0 469.7L803.0 470.1L804.0 470.8L805.0 471.0L806.0 470.0L807.0 469.9L808.0 468.6L809.0 467.9L810.0 470.6L811.0 470.8L812.0 470.6L813.0 469.5L814.0 469.8L815.0 469.6L816.0 468.0L817.0 470.0L818.0 472.7L819.0 468.7L820.0 469.2L821.0 469.9L822.0 469.9L823.0 468.2L824.0 469.6L825.0 469.7L826.0 468.0L827.0 468.0L828.0 471.0L829.0 469.8L830.0 469.8L831.0 470.1L832.0 469.2L833.0 468.4L834.0 469.1L835.0 471.1L836.0 470.2L837.0 468.7L838.0 472.6L839.0 469.2L840.0 469.3L841.0 470.9L842.0 470.7L843.0 473.1L844.0 470.7L845.0 470.9L846.0 468.7L847.0 470.3L848.0 469.9L849.0 469.1L850.0 470.1L851.0 470.4L852.0 472.3L853.0 471.8L854.0 470.8L855.0 469.9L856.0 470.7L857.0 471.9L858.0 468.9L859.0 470.1L860.0 468.0L861.0 471.3L862.0 470.6L863.0 471.4L864.0 470.2L865.0 470.4L866.0 469.8L867.0 469.6L868.0 469.9L869.0 471.2L870.0 468.0L871.0 469.4L872.0 470.5L873.0 470.6L874.0 468.6L875.0 470.3L876.0 468.7L877.0 467.6L877.7 467.9L878.0 463.9L878.2 461.7L878.7 465.5L879.0 466.1L880.0 468.4L881.0 470.9L882.0 469.0L883.0 469.5L884.0 473.1L885.0 470.6L886.0 471.7L887.0 471.5L888.0 472.1L889.0 468.5L890.0 469.0L891.0 470.2L892.0 470.0L893.0 471.0L894.0 470.6L895.0 469.8L896.0 468.6L897.0 470.5L898.0 471.0L899.0 470.7L900.0 468.6L901.0 469.7L902.0 471.4L903.0 468.6L904.0 470.0L905.0 471.4L906.0 470.0L907.0 469.0L908.0 470.8L909.0 470.0L910.0 470.1L911.0 470.0L912.0 471.9L913.0 470.0L914.0 472.1L915.0 471.1L916.0 470.9L917.0 470.6L918.0 471.0L919.0 470.5L920.0 471.7L921.0 470.6L922.0 472.2L923.0 471.7L924.0 471.1L925.0 471.0L926.0 472.0L927.0 470.6L928.0 470.7L929.0 468.6L930.0 470.8L931.0 470.9L932.0 469.0L933.0 472.4L934.0 470.8L935.0 469.6L936.0 470.0L937.0 469.2L938.0 472.2L939.0 472.9L940.0 470.8L941.0 469.2L942.0 470.1L943.0 471.5L944.0 471.0L945.0 470.7L946.0 471.8L947.0 469.4L948.0 470.7L949.0 470.8L950.0 469.9L951.0 470.5L952.0 471.3L953.0 470.7L954.0 471.2M594.0 481.4L595.0 480.9L596.0 480.4L597.0 482.5L598.0 481.4L599.0 478.9L600.0 483.1L601.0 478.6L602.0 477.9L603.0 478.0L604.0 479.2L605.0 476.1L606.0 474.1L607.0 475.7L608.0 477.2L609.0 475.4L610.0 476.2L611.0 474.0L612.0 475.4L613.0 473.2L614.0 476.0L615.0 476.2L616.0 471.1L617.0 472.7L618.0 472.2L619.0 472.0L620.0 471.3L621.0 472.8L622.0 474.6L623.0 475.2L624.0 472.1L625.0 472.8L626.0 474.8L627.0 474.0L628.0 471.2L629.0 471.6L630.0 473.2L631.0 472.5L632.0 470.0L633.0 470.4L634.0 473.2L635.0 470.3L636.0 470.3L637.0 471.2L638.0 470.8L639.0 469.8L640.0 470.3L641.0 470.8L642.0 470.0L643.0 471.8L644.0 467.5L645.0 472.0L646.0 472.6L647.0 472.1L648.0 467.6L649.0 470.1L650.0 471.2L651.0 472.7L652.0 471.5L653.0 471.0L654.0 470.3L655.0 471.5L656.0 471.6L657.0 469.0L658.0 470.4L659.0 473.5L660.0 469.9L661.0 472.6L662.0 473.4L663.0 472.3L664.0 470.3L665.0 472.4L666.0 470.8L667.0 470.6L668.0 470.1L669.0 469.7L670.0 471.6L671.0 470.8L672.0 471.5L673.0 471.0L674.0 471.9L675.0 469.9L676.0 472.7L677.0 469.6L678.0 471.7L679.0 470.8L680.0 470.3L681.0 470.6L682.0 471.5L683.0 469.9L684.0 470.1L685.0 472.7L686.0 471.0L687.0 471.0L688.0 468.9L689.0 469.8L690.0 471.5L691.0 470.2L692.0 472.4L693.0 471.4L694.0 468.9L695.0 472.0L696.0 470.9L697.0 467.9L698.0 472.4L699.0 473.2L700.0 472.4L701.0 471.9L702.0 470.7L703.0 472.1L704.0 471.5L705.0 472.9L706.0 471.9L707.0 471.5L708.0 471.7L709.0 470.7L710.0 471.2L711.0 475.8L712.0 471.8L713.0 468.5L714.0 469.3L715.0 472.5L716.0 470.8L717.0 470.8L718.0 470.6L719.0 470.1L720.0 469.4L721.0 473.2L722.0 472.2L723.0 470.4L724.0 472.9L725.0 473.0L726.0 469.7L727.0 468.8L728.0 470.3L729.0 471.2L730.0 473.1L731.0 472.3L732.0 471.5L733.0 472.2L734.0 472.5L735.0 470.2L736.0 470.3L737.0 471.4L738.0 469.9L739.0 470.1L740.0 471.6L741.0 472.5L742.0 471.2L743.0 470.0L744.0 471.1L745.0 471.9L746.0 469.1L747.0 470.5L748.0 473.5L749.0 470.1L750.0 470.3L751.0 468.4L752.0 469.4L753.0 473.0L754.0 470.3L755.0 469.8L756.0 470.0L757.0 468.9L758.0 471.6L759.0 470.1L760.0 469.8L761.0 469.4L762.0 470.3L763.0 470.0L764.0 472.3L765.0 471.8L766.0 471.6L767.0 472.0L768.0 471.7L769.0 471.2L770.0 471.9L771.0 471.0L772.0 472.8L773.0 472.2L774.0 471.3L775.0 468.9L776.0 470.0L777.0 471.3L778.0 469.5L779.0 471.1L780.0 472.1L781.0 470.1L782.0 469.5L783.0 472.1L784.0 470.9L785.0 471.5L786.0 470.1L787.0 473.1L788.0 471.7L789.0 467.4L789.5 467.9L790.0 465.1L790.5 467.0L791.0 468.3L792.0 468.4L793.0 470.9L794.0 470.7L795.0 470.2L796.0 470.6L797.0 472.1L798.0 471.4L799.0 470.4L800.0 469.8L801.0 472.1L802.0 470.9L803.0 471.3L804.0 472.1L805.0 472.2L806.0 471.2L807.0 471.1L808.0 469.9L809.0 469.1L810.0 471.8L811.0 472.0L812.0 471.9L813.0 470.7L814.0 471.0L815.0 470.8L816.0 469.2L817.0 471.1L818.0 473.8L819.0 469.8L820.0 470.4L821.0 471.1L822.0 471.0L823.0 469.4L824.0 470.7L825.0 470.9L826.0 469.2L827.0 469.2L828.0 472.1L829.0 470.9L830.0 471.0L831.0 471.2L832.0 470.3L833.0 469.6L834.0 470.2L835.0 472.3L836.0 471.3L837.0 469.8L838.0 473.7L839.0 470.3L840.0 470.4L841.0 472.0L842.0 471.8L843.0 474.2L844.0 471.8L845.0 472.0L846.0 469.8L847.0 471.3L848.0 471.0L849.0 470.2L850.0 471.2L851.0 471.5L852.0 473.4L853.0 472.9L854.0 471.8L855.0 470.9L856.0 471.8L857.0 472.9L858.0 470.0L859.0 471.1L860.0 469.1L861.0 472.3L862.0 471.6L863.0 472.4L864.0 471.2L865.0 471.4L866.0 470.8L867.0 470.6L868.0 470.9L869.0 472.2L870.0 469.0L871.0 470.4L872.0 471.5L873.0 471.6L874.0 469.6L875.0 471.3L876.0 469.7L877.0 468.6L877.7 468.9L878.0 464.9L878.2 462.7L878.7 466.4L879.0 467.0L880.0 469.4L881.0 471.9L882.0 469.9L883.0 470.5L884.0 474.1L885.0 471.5L886.0 472.7L887.0 472.5L888.0 473.0L889.0 469.5L890.0 469.9L891.0 471.2L892.0 470.9L893.0 471.9L894.0 471.5L895.0 470.8L896.0 469.5L897.0 471.4L898.0 471.9L899.0 471.6L900.0 469.5L901.0 470.6L902.0 472.3L903.0 469.5L904.0 470.9L905.0 472.3L906.0 470.9L907.0 469.9L908.0 471.6L909.0 470.8L910.0 470.9L911.0 470.9L912.0 472.8L913.0 470.8L914.0 472.9L915.0 471.9L916.0 471.7L917.0 471.4L918.0 471.8L919.0 471.3L920.0 472.5L921.0 471.4L922.0 473.0L923.0 472.5L924.0 471.9L925.0 471.8L926.0 472.8L927.0 471.4L928.0 471.5L929.0 469.4L930.0 471.6L931.0 471.7L932.0 469.8L933.0 473.2L934.0 471.5L935.0 470.3L936.0 470.7L937.0 470.0L938.0 472.9L939.0 473.7L940.0 471.5L941.0 469.9L942.0 470.9L943.0 472.2L944.0 471.7L945.0 471.5L946.0 472.5L947.0 470.1L948.0 471.4L949.0 471.6L950.0 470.6L951.0 471.2L952.0 472.0L953.0 471.5L954.0 471.9" stroke="#1f9d49" stroke-width="4.4" fill="none" stroke-linejoin="round"/>
<path d="M594.0 470.2L595.0 468.6L596.0 467.4L597.0 467.9L598.0 468.7L599.0 464.9L600.0 460.5L601.0 463.5L602.0 459.9L603.0 459.4L604.0 462.3L605.0 463.1L606.0 457.7L607.0 457.7L608.0 451.8L609.0 457.2L610.0 450.7L611.0 453.1L612.0 453.6L613.0 450.9L614.0 447.5L615.0 450.9L616.0 451.6L617.0 445.4L618.0 448.4L619.0 451.2L620.0 451.6L621.0 450.6L622.0 448.3L623.0 448.1L624.0 446.8L625.0 450.8L626.0 443.4L627.0 446.2L628.0 447.1L629.0 446.2L630.0 442.6L631.0 445.6L632.0 445.4L633.0 443.1L634.0 444.0L635.0 445.3L636.0 443.0L637.0 444.8L638.0 448.3L639.0 441.8L640.0 443.7L641.0 447.2L642.0 441.9L643.0 442.2L644.0 444.5L645.0 443.2L646.0 447.1L647.0 444.4L648.0 446.2L649.0 441.1L650.0 439.4L651.0 446.9L652.0 443.2L653.0 441.8L654.0 445.1L655.0 443.0L656.0 440.5L657.0 441.2L658.0 444.1L659.0 441.0L660.0 442.1L661.0 450.4L662.0 445.1L663.0 446.5L664.0 447.0L665.0 442.3L666.0 441.5L667.0 445.9L668.0 442.1L669.0 450.3L670.0 449.9L671.0 445.2L672.0 443.3L673.0 445.7L674.0 449.3L675.0 449.1L676.0 449.0L677.0 447.3L678.0 445.7L679.0 445.9L680.0 444.5L681.0 446.6L682.0 443.5L683.0 444.4L684.0 445.3L685.0 448.4L686.0 447.1L687.0 446.8L688.0 444.8L689.0 446.2L690.0 445.7L691.0 445.4L692.0 446.0L693.0 450.3L694.0 448.0L695.0 449.3L696.0 444.3L697.0 448.3L698.0 446.6L699.0 445.9L700.0 447.0L701.0 447.1L702.0 448.5L703.0 449.8L704.0 447.3L705.0 450.8L706.0 449.6L707.0 448.6L708.0 451.6L709.0 450.1L710.0 450.9L711.0 448.0L712.0 450.4L713.0 452.4L714.0 449.0L715.0 449.1L716.0 446.5L717.0 450.4L718.0 452.7L719.0 449.9L720.0 448.7L721.0 448.9L722.0 449.4L723.0 453.9L724.0 451.2L725.0 452.1L726.0 446.9L727.0 451.1L728.0 451.7L729.0 451.3L730.0 451.3L731.0 453.8L732.0 451.4L733.0 449.6L734.0 453.8L735.0 451.2L736.0 452.7L737.0 454.1L738.0 451.3L739.0 452.7L740.0 449.8L741.0 452.3L742.0 450.8L743.0 454.3L744.0 454.6L745.0 451.4L746.0 450.0L747.0 450.4L748.0 452.8L749.0 454.9L750.0 455.3L751.0 454.5L752.0 454.5L753.0 453.5L754.0 456.0L755.0 454.7L756.0 456.8L757.0 454.4L758.0 452.7L759.0 454.6L760.0 456.6L761.0 456.1L762.0 456.1L763.0 456.7L764.0 456.0L765.0 453.8L766.0 454.1L767.0 454.1L768.0 454.4L769.0 452.5L770.0 454.9L771.0 456.1L772.0 454.9L773.0 456.8L774.0 458.0L775.0 452.4L776.0 455.2L777.0 458.6L778.0 456.6L779.0 456.7L780.0 457.2L781.0 457.6L782.0 455.4L783.0 457.3L784.0 457.1L785.0 457.1L786.0 456.0L787.0 456.2L788.0 453.7L789.0 451.2L789.5 453.5L790.0 451.9L790.5 449.6L791.0 450.5L792.0 457.6L793.0 457.6L794.0 456.8L795.0 458.3L796.0 455.2L797.0 456.4L798.0 456.1L799.0 456.4L800.0 455.2L801.0 457.6L802.0 455.5L803.0 456.0L804.0 459.1L805.0 455.5L806.0 458.1L807.0 457.9L808.0 461.1L809.0 457.0L810.0 456.6L811.0 455.7L812.0 458.2L813.0 458.8L814.0 457.3L815.0 458.3L816.0 458.5L817.0 459.8L818.0 459.0L819.0 456.7L820.0 456.7L821.0 458.5L822.0 458.8L823.0 458.7L824.0 458.5L825.0 459.4L826.0 457.7L827.0 456.5L828.0 460.7L829.0 458.6L830.0 457.2L831.0 457.1L832.0 459.4L833.0 460.1L834.0 457.3L835.0 458.1L836.0 458.6L837.0 458.4L838.0 458.7L839.0 461.0L840.0 459.6L841.0 459.7L842.0 460.2L843.0 457.9L844.0 459.1L845.0 460.2L846.0 460.0L847.0 459.2L848.0 459.1L849.0 461.6L850.0 458.3L851.0 459.0L852.0 459.1L853.0 460.7L854.0 461.1L855.0 457.3L856.0 460.7L857.0 459.9L858.0 458.3L859.0 458.5L860.0 464.0L861.0 457.6L862.0 460.4L863.0 460.5L864.0 460.8L865.0 460.9L866.0 460.6L867.0 458.3L868.0 461.8L869.0 458.4L870.0 460.4L871.0 462.7L872.0 461.3L873.0 459.0L874.0 460.8L875.0 460.5L876.0 457.8L877.0 458.5L877.7 457.2L878.0 455.4L878.2 457.2L878.7 454.8L879.0 457.4L880.0 461.5L881.0 459.0L882.0 461.9L883.0 458.3L884.0 463.4L885.0 461.5L886.0 461.9L887.0 458.6L888.0 464.2L889.0 462.1L890.0 461.5L891.0 462.7L892.0 463.3L893.0 463.5L894.0 463.8L895.0 463.3L896.0 464.6L897.0 464.9L898.0 461.5L899.0 462.8L900.0 463.8L901.0 462.3L902.0 462.8L903.0 462.8L904.0 463.6L905.0 462.1L906.0 464.8L907.0 460.1L908.0 463.5L909.0 463.8L910.0 461.3L911.0 463.4L912.0 462.3L913.0 461.7L914.0 461.9L915.0 462.4L916.0 463.6L917.0 464.2L918.0 464.8L919.0 462.6L920.0 462.4L921.0 465.9L922.0 465.3L923.0 461.1L924.0 465.5L925.0 461.7L926.0 464.2L927.0 463.1L928.0 464.1L929.0 463.6L930.0 463.3L931.0 466.1L932.0 464.2L933.0 465.0L934.0 466.3L935.0 464.6L936.0 462.8L937.0 463.5L938.0 463.5L939.0 464.8L940.0 463.9L941.0 463.5L942.0 464.3L943.0 462.5L944.0 462.9L945.0 464.1L946.0 466.8L947.0 464.5L948.0 464.5L949.0 466.2L950.0 465.9L951.0 464.7L952.0 464.0L953.0 463.7L954.0 465.8M594.0 475.2L595.0 473.6L596.0 472.3L597.0 472.9L598.0 473.7L599.0 469.9L600.0 465.4L601.0 468.4L602.0 464.8L603.0 464.3L604.0 467.2L605.0 468.0L606.0 462.6L607.0 462.6L608.0 456.7L609.0 462.1L610.0 455.5L611.0 457.9L612.0 458.5L613.0 455.7L614.0 452.3L615.0 455.7L616.0 456.4L617.0 450.2L618.0 453.2L619.0 456.0L620.0 456.4L621.0 455.4L622.0 453.0L623.0 452.9L624.0 451.5L625.0 455.5L626.0 448.1L627.0 450.9L628.0 451.8L629.0 450.8L630.0 447.2L631.0 450.2L632.0 450.0L633.0 447.7L634.0 448.6L635.0 449.9L636.0 447.6L637.0 449.4L638.0 452.9L639.0 446.4L640.0 448.2L641.0 451.8L642.0 446.5L643.0 446.8L644.0 449.0L645.0 447.8L646.0 451.6L647.0 448.9L648.0 450.7L649.0 445.6L650.0 443.9L651.0 451.4L652.0 447.6L653.0 446.3L654.0 449.6L655.0 447.4L656.0 444.8L657.0 445.6L658.0 448.4L659.0 445.3L660.0 446.4L661.0 454.6L662.0 449.3L663.0 450.7L664.0 451.2L665.0 446.5L666.0 445.6L667.0 450.0L668.0 446.2L669.0 454.4L670.0 453.9L671.0 449.2L672.0 447.3L673.0 449.7L674.0 453.2L675.0 453.0L676.0 452.9L677.0 451.2L678.0 449.6L679.0 449.8L680.0 448.3L681.0 450.4L682.0 447.2L683.0 448.1L684.0 449.0L685.0 452.1L686.0 450.8L687.0 450.4L688.0 448.5L689.0 449.9L690.0 449.3L691.0 449.0L692.0 449.5L693.0 453.8L694.0 451.5L695.0 452.8L696.0 447.8L697.0 451.7L698.0 450.0L699.0 449.3L700.0 450.3L701.0 450.4L702.0 451.8L703.0 453.1L704.0 450.6L705.0 454.1L706.0 452.8L707.0 451.8L708.0 454.8L709.0 453.2L710.0 454.0L711.0 451.1L712.0 453.5L713.0 455.5L714.0 452.1L715.0 452.1L716.0 449.5L717.0 453.4L718.0 455.7L719.0 452.8L720.0 451.6L721.0 451.8L722.0 452.3L723.0 456.7L724.0 454.0L725.0 454.9L726.0 449.7L727.0 453.8L728.0 454.4L729.0 454.0L730.0 454.0L731.0 456.5L732.0 454.0L733.0 452.2L734.0 456.4L735.0 453.8L736.0 455.2L737.0 456.6L738.0 453.8L739.0 455.2L740.0 452.3L741.0 454.7L742.0 453.2L743.0 456.7L744.0 456.9L745.0 453.8L746.0 452.3L747.0 452.7L748.0 455.0L749.0 457.1L750.0 457.5L751.0 456.8L752.0 456.7L753.0 455.7L754.0 458.1L755.0 456.8L756.0 458.9L757.0 456.4L758.0 454.8L759.0 456.6L760.0 458.6L761.0 458.1L762.0 458.1L763.0 458.6L764.0 458.0L765.0 455.8L766.0 456.1L767.0 456.0L768.0 456.3L769.0 454.4L770.0 456.8L771.0 458.0L772.0 456.8L773.0 458.8L774.0 459.9L775.0 454.4L776.0 457.1L777.0 460.5L778.0 458.6L779.0 458.6L780.0 459.1L781.0 459.5L782.0 457.2L783.0 459.2L784.0 458.9L785.0 458.9L786.0 457.9L787.0 458.1L788.0 455.5L789.0 453.1L789.5 455.3L790.0 453.8L790.5 451.4L791.0 452.3L792.0 459.4L793.0 459.4L794.0 458.6L795.0 460.2L796.0 457.0L797.0 458.2L798.0 458.0L799.0 458.2L800.0 456.9L801.0 459.4L802.0 457.3L803.0 457.7L804.0 460.9L805.0 457.3L806.0 459.9L807.0 459.6L808.0 462.8L809.0 458.7L810.0 458.4L811.0 457.4L812.0 459.9L813.0 460.6L814.0 459.1L815.0 460.0L816.0 460.2L817.0 461.5L818.0 460.7L819.0 458.4L820.0 458.4L821.0 460.2L822.0 460.5L823.0 460.3L824.0 460.2L825.0 461.1L826.0 459.4L827.0 458.1L828.0 462.4L829.0 460.3L830.0 458.8L831.0 458.7L832.0 461.0L833.0 461.7L834.0 458.9L835.0 459.7L836.0 460.2L837.0 460.0L838.0 460.3L839.0 462.6L840.0 461.2L841.0 461.3L842.0 461.8L843.0 459.4L844.0 460.7L845.0 461.8L846.0 461.6L847.0 460.7L848.0 460.6L849.0 463.2L850.0 459.9L851.0 460.5L852.0 460.6L853.0 462.2L854.0 462.6L855.0 458.8L856.0 462.2L857.0 461.4L858.0 459.8L859.0 460.0L860.0 465.5L861.0 459.1L862.0 461.9L863.0 462.0L864.0 462.2L865.0 462.3L866.0 462.1L867.0 459.7L868.0 463.3L869.0 459.8L870.0 461.8L871.0 464.2L872.0 462.8L873.0 460.4L874.0 462.2L875.0 461.9L876.0 459.2L877.0 459.9L877.7 458.6L878.0 456.8L878.2 458.6L878.7 456.2L879.0 458.8L880.0 462.9L881.0 460.4L882.0 463.3L883.0 459.7L884.0 464.8L885.0 462.9L886.0 463.3L887.0 459.9L888.0 465.6L889.0 463.5L890.0 462.9L891.0 464.0L892.0 464.6L893.0 464.8L894.0 465.1L895.0 464.6L896.0 465.9L897.0 466.2L898.0 462.8L899.0 464.0L900.0 465.1L901.0 463.5L902.0 464.1L903.0 464.1L904.0 464.9L905.0 463.4L906.0 466.1L907.0 461.3L908.0 464.7L909.0 465.1L910.0 462.5L911.0 464.7L912.0 463.5L913.0 462.9L914.0 463.1L915.0 463.6L916.0 464.8L917.0 465.4L918.0 466.0L919.0 463.8L920.0 463.6L921.0 467.1L922.0 466.4L923.0 462.3L924.0 466.7L925.0 462.8L926.0 465.4L927.0 464.2L928.0 465.2L929.0 464.7L930.0 464.4L931.0 467.2L932.0 465.3L933.0 466.1L934.0 467.4L935.0 465.7L936.0 463.9L937.0 464.6L938.0 464.5L939.0 465.9L940.0 464.9L941.0 464.5L942.0 465.3L943.0 463.6L944.0 464.0L945.0 465.2L946.0 467.9L947.0 465.6L948.0 465.5L949.0 467.2L950.0 466.9L951.0 465.7L952.0 465.1L953.0 464.7L954.0 466.8" stroke="#e8682a" stroke-width="4.4" fill="none" stroke-linejoin="round"/>
<path d="M594.0 465.9L595.0 456.4L596.0 458.6L597.0 457.5L598.0 450.9L599.0 450.5L600.0 451.0L601.0 449.2L602.0 451.3L603.0 446.0L604.0 440.7L605.0 443.0L606.0 446.0L607.0 435.8L608.0 440.5L609.0 432.3L610.0 440.5L611.0 437.5L612.0 433.7L613.0 432.3L614.0 428.7L615.0 430.9L616.0 432.0L617.0 431.1L618.0 433.4L619.0 430.1L620.0 431.1L621.0 432.9L622.0 430.9L623.0 429.4L624.0 428.6L625.0 431.8L626.0 426.0L627.0 429.4L628.0 429.7L629.0 422.8L630.0 431.2L631.0 428.8L632.0 427.9L633.0 426.4L634.0 431.0L635.0 427.2L636.0 430.6L637.0 420.4L638.0 426.9L639.0 422.2L640.0 427.3L641.0 423.1L642.0 424.8L643.0 422.1L644.0 420.2L645.0 428.6L646.0 422.0L647.0 426.8L648.0 425.0L649.0 423.3L650.0 426.7L651.0 425.6L652.0 424.3L653.0 425.2L654.0 428.3L655.0 429.3L656.0 425.3L657.0 425.8L658.0 426.2L659.0 425.7L660.0 428.3L661.0 426.3L662.0 426.5L663.0 423.8L664.0 430.8L665.0 428.4L666.0 428.9L667.0 427.1L668.0 431.3L669.0 426.2L670.0 429.2L671.0 429.1L672.0 429.5L673.0 428.5L674.0 424.9L675.0 424.9L676.0 431.2L677.0 431.5L678.0 428.2L679.0 429.1L680.0 427.2L681.0 425.1L682.0 429.4L683.0 429.6L684.0 431.7L685.0 428.4L686.0 432.4L687.0 432.2L688.0 428.7L689.0 432.9L690.0 430.4L691.0 430.9L692.0 430.3L693.0 429.8L694.0 433.9L695.0 433.3L696.0 428.5L697.0 433.4L698.0 429.1L699.0 432.5L700.0 430.9L701.0 434.0L702.0 430.0L703.0 428.4L704.0 433.1L705.0 433.0L706.0 430.9L707.0 435.2L708.0 434.7L709.0 431.4L710.0 432.1L711.0 433.2L712.0 436.3L713.0 437.0L714.0 434.8L715.0 434.2L716.0 432.2L717.0 436.8L718.0 432.1L719.0 439.0L720.0 434.5L721.0 435.2L722.0 435.1L723.0 440.1L724.0 434.7L725.0 436.9L726.0 436.3L727.0 435.3L728.0 438.1L729.0 435.0L730.0 437.0L731.0 436.2L732.0 439.9L733.0 439.3L734.0 440.1L735.0 436.3L736.0 439.7L737.0 441.0L738.0 439.5L739.0 442.6L740.0 443.3L741.0 436.6L742.0 439.2L743.0 438.7L744.0 438.0L745.0 438.8L746.0 440.0L747.0 438.0L748.0 440.6L749.0 439.2L750.0 437.7L751.0 442.3L752.0 442.7L753.0 441.6L754.0 439.6L755.0 443.1L756.0 440.7L757.0 442.0L758.0 440.4L759.0 445.3L760.0 443.1L761.0 443.7L762.0 442.5L763.0 442.2L764.0 445.1L765.0 439.7L766.0 442.2L767.0 440.4L768.0 440.8L769.0 443.0L770.0 442.8L771.0 442.8L772.0 441.8L773.0 444.6L774.0 445.8L775.0 446.4L776.0 443.7L777.0 441.9L778.0 440.2L779.0 439.9L780.0 442.4L781.0 441.2L782.0 447.2L783.0 443.0L784.0 439.5L785.0 440.2L786.0 441.8L787.0 436.9L788.0 390.0L789.0 211.6L789.5 105.2L790.0 59.7L790.5 105.5L791.0 212.3L792.0 390.8L793.0 438.4L794.0 445.9L795.0 441.2L796.0 445.4L797.0 443.7L798.0 445.6L799.0 449.4L800.0 444.7L801.0 448.1L802.0 445.2L803.0 445.9L804.0 444.5L805.0 448.6L806.0 444.2L807.0 445.7L808.0 445.8L809.0 445.7L810.0 446.8L811.0 446.1L812.0 444.4L813.0 446.7L814.0 446.9L815.0 445.8L816.0 448.2L817.0 446.1L818.0 446.6L819.0 448.6L820.0 447.2L821.0 447.8L822.0 446.6L823.0 451.3L824.0 446.1L825.0 450.2L826.0 448.4L827.0 448.5L828.0 453.2L829.0 448.1L830.0 449.9L831.0 450.0L832.0 449.9L833.0 448.1L834.0 453.6L835.0 449.6L836.0 450.4L837.0 450.3L838.0 448.7L839.0 448.7L840.0 452.5L841.0 450.7L842.0 449.7L843.0 451.0L844.0 451.6L845.0 453.2L846.0 453.3L847.0 448.5L848.0 452.0L849.0 452.4L850.0 451.3L851.0 452.1L852.0 453.3L853.0 450.5L854.0 454.1L855.0 451.5L856.0 454.7L857.0 451.8L858.0 453.6L859.0 455.9L860.0 452.9L861.0 456.1L862.0 452.3L863.0 454.1L864.0 452.4L865.0 452.7L866.0 454.0L867.0 455.5L868.0 453.3L869.0 452.0L870.0 454.7L871.0 452.8L872.0 454.1L873.0 451.1L874.0 456.2L875.0 453.2L876.0 446.1L877.0 410.6L877.7 373.9L878.0 364.5L878.2 363.0L878.7 373.7L879.0 388.4L880.0 436.5L881.0 452.6L882.0 454.9L883.0 456.1L884.0 453.7L885.0 456.9L886.0 459.3L887.0 455.9L888.0 458.9L889.0 455.4L890.0 454.9L891.0 458.0L892.0 455.7L893.0 456.1L894.0 455.8L895.0 458.0L896.0 456.1L897.0 457.0L898.0 454.7L899.0 458.3L900.0 457.0L901.0 457.1L902.0 452.7L903.0 456.5L904.0 457.5L905.0 458.4L906.0 453.0L907.0 457.5L908.0 457.0L909.0 458.1L910.0 455.6L911.0 458.0L912.0 460.7L913.0 454.9L914.0 461.1L915.0 458.6L916.0 458.9L917.0 459.4L918.0 459.3L919.0 458.9L920.0 459.5L921.0 461.1L922.0 454.2L923.0 461.2L924.0 457.7L925.0 457.8L926.0 459.1L927.0 459.8L928.0 458.9L929.0 456.3L930.0 459.0L931.0 461.2L932.0 461.2L933.0 455.7L934.0 463.3L935.0 460.4L936.0 460.5L937.0 461.1L938.0 459.3L939.0 461.1L940.0 460.9L941.0 460.4L942.0 459.6L943.0 461.0L944.0 459.0L945.0 461.1L946.0 458.6L947.0 460.9L948.0 461.4L949.0 460.7L950.0 462.4L951.0 460.3L952.0 463.4L953.0 461.6L954.0 461.4M594.0 471.9L595.0 462.4L596.0 464.6L597.0 463.4L598.0 456.8L599.0 456.5L600.0 456.9L601.0 455.1L602.0 457.2L603.0 451.9L604.0 446.6L605.0 448.9L606.0 451.9L607.0 441.6L608.0 446.3L609.0 438.1L610.0 446.3L611.0 443.3L612.0 439.5L613.0 438.1L614.0 434.4L615.0 436.7L616.0 437.8L617.0 436.8L618.0 439.1L619.0 435.9L620.0 436.8L621.0 438.6L622.0 436.6L623.0 435.1L624.0 434.3L625.0 437.4L626.0 431.7L627.0 435.0L628.0 435.3L629.0 428.4L630.0 436.8L631.0 434.4L632.0 433.5L633.0 431.9L634.0 436.6L635.0 432.8L636.0 436.2L637.0 425.9L638.0 432.5L639.0 427.7L640.0 432.8L641.0 428.6L642.0 430.3L643.0 427.6L644.0 425.6L645.0 434.0L646.0 427.5L647.0 432.3L648.0 430.4L649.0 428.7L650.0 432.1L651.0 431.0L652.0 429.6L653.0 430.6L654.0 433.6L655.0 434.5L656.0 430.6L657.0 431.0L658.0 431.3L659.0 430.9L660.0 433.4L661.0 431.4L662.0 431.6L663.0 428.9L664.0 435.8L665.0 433.4L666.0 433.9L667.0 432.0L668.0 436.2L669.0 431.1L670.0 434.1L671.0 433.9L672.0 434.3L673.0 433.3L674.0 429.7L675.0 429.6L676.0 435.9L677.0 436.1L678.0 432.8L679.0 433.7L680.0 431.8L681.0 429.7L682.0 433.9L683.0 434.1L684.0 436.2L685.0 432.9L686.0 436.8L687.0 436.6L688.0 433.1L689.0 437.3L690.0 434.7L691.0 435.2L692.0 434.5L693.0 434.0L694.0 438.1L695.0 437.4L696.0 432.7L697.0 437.5L698.0 433.2L699.0 436.6L700.0 434.9L701.0 438.0L702.0 434.0L703.0 432.3L704.0 437.0L705.0 436.9L706.0 434.8L707.0 439.1L708.0 438.5L709.0 435.2L710.0 435.8L711.0 436.9L712.0 440.0L713.0 440.6L714.0 438.4L715.0 437.9L716.0 435.8L717.0 440.4L718.0 435.6L719.0 442.5L720.0 438.0L721.0 438.6L722.0 438.6L723.0 443.5L724.0 438.1L725.0 440.2L726.0 439.7L727.0 438.6L728.0 441.4L729.0 438.2L730.0 440.2L731.0 439.4L732.0 443.0L733.0 442.4L734.0 443.2L735.0 439.4L736.0 442.8L737.0 444.0L738.0 442.5L739.0 445.5L740.0 446.3L741.0 439.5L742.0 442.1L743.0 441.5L744.0 440.8L745.0 441.6L746.0 442.7L747.0 440.8L748.0 443.3L749.0 441.9L750.0 440.3L751.0 444.9L752.0 445.4L753.0 444.2L754.0 442.2L755.0 445.7L756.0 443.2L757.0 444.5L758.0 442.9L759.0 447.8L760.0 445.5L761.0 446.1L762.0 444.9L763.0 444.6L764.0 447.4L765.0 442.0L766.0 444.6L767.0 442.7L768.0 443.1L769.0 445.4L770.0 445.1L771.0 445.2L772.0 444.1L773.0 446.9L774.0 448.1L775.0 448.7L776.0 446.0L777.0 444.2L778.0 442.5L779.0 442.2L780.0 444.7L781.0 443.4L782.0 449.4L783.0 445.2L784.0 441.5L785.0 442.0L786.0 443.2L787.0 437.8L788.0 390.5L789.0 211.7L789.5 105.3L790.0 59.7L790.5 105.5L791.0 212.4L792.0 391.2L793.0 439.4L794.0 447.3L795.0 443.0L796.0 447.4L797.0 445.7L798.0 447.7L799.0 451.5L800.0 446.8L801.0 450.2L802.0 447.4L803.0 448.0L804.0 446.6L805.0 450.8L806.0 446.3L807.0 447.8L808.0 447.9L809.0 447.8L810.0 448.9L811.0 448.1L812.0 446.5L813.0 448.7L814.0 449.0L815.0 447.9L816.0 450.3L817.0 448.1L818.0 448.7L819.0 450.6L820.0 449.2L821.0 449.9L822.0 448.6L823.0 453.3L824.0 448.1L825.0 452.2L826.0 450.3L827.0 450.5L828.0 455.2L829.0 450.1L830.0 451.9L831.0 452.0L832.0 451.9L833.0 450.0L834.0 455.5L835.0 451.5L836.0 452.3L837.0 452.2L838.0 450.6L839.0 450.6L840.0 454.4L841.0 452.6L842.0 451.6L843.0 452.9L844.0 453.5L845.0 455.1L846.0 455.2L847.0 450.4L848.0 453.9L849.0 454.2L850.0 453.1L851.0 454.0L852.0 455.1L853.0 452.3L854.0 455.9L855.0 453.3L856.0 456.5L857.0 453.6L858.0 455.4L859.0 457.7L860.0 454.7L861.0 457.9L862.0 454.1L863.0 455.8L864.0 454.2L865.0 454.5L866.0 455.8L867.0 457.2L868.0 455.0L869.0 453.7L870.0 456.4L871.0 454.4L872.0 455.6L873.0 452.5L874.0 457.3L875.0 454.0L876.0 446.6L877.0 410.7L877.7 374.0L878.0 364.6L878.2 363.0L878.7 373.8L879.0 388.5L880.0 436.8L881.0 453.2L882.0 455.8L883.0 457.4L884.0 455.1L885.0 458.4L886.0 460.8L887.0 457.5L888.0 460.5L889.0 457.0L890.0 456.5L891.0 459.6L892.0 457.3L893.0 457.6L894.0 457.4L895.0 459.6L896.0 457.7L897.0 458.6L898.0 456.3L899.0 459.8L900.0 458.6L901.0 458.6L902.0 454.2L903.0 458.0L904.0 459.0L905.0 459.9L906.0 454.5L907.0 459.0L908.0 458.5L909.0 459.5L910.0 457.1L911.0 459.5L912.0 462.2L913.0 456.3L914.0 462.5L915.0 460.0L916.0 460.3L917.0 460.9L918.0 460.8L919.0 460.3L920.0 460.9L921.0 462.5L922.0 455.6L923.0 462.6L924.0 459.1L925.0 459.2L926.0 460.4L927.0 461.2L928.0 460.2L929.0 457.6L930.0 460.3L931.0 462.6L932.0 462.5L933.0 457.1L934.0 464.6L935.0 461.7L936.0 461.8L937.0 462.4L938.0 460.6L939.0 462.4L940.0 462.2L941.0 461.7L942.0 460.9L943.0 462.3L944.0 460.3L945.0 462.4L946.0 459.8L947.0 462.2L948.0 462.6L949.0 461.9L950.0 463.6L951.0 461.5L952.0 464.6L953.0 462.8L954.0 462.6" stroke="#e2202a" stroke-width="4.6" fill="none" stroke-linejoin="round"/>
<path d="M595 498.4H955" stroke="#111" stroke-width="2"/>
<path d="M607.4 498.4V505.0M660.8 498.4V502.5M714.1 498.4V505.0M767.5 498.4V502.5M820.8 498.4V505.0M874.1 498.4V502.5M927.5 498.4V505.0" stroke="#111" stroke-width="2"/>
<text x="594.54" y="537.30" font-size="34.50" textLength="19.19" lengthAdjust="spacingAndGlyphs">1</text><rect x="596.38" y="533" width="6.72" height="6" fill="#fff"/><rect x="606.33" y="533" width="6.55" height="6" fill="#fff"/>
<text x="702.21" y="537.30" font-size="34.50" textLength="19.19" lengthAdjust="spacingAndGlyphs">3</text>
<text x="806.73" y="537.30" font-size="34.50" textLength="19.19" lengthAdjust="spacingAndGlyphs">5</text>
<text x="915.43" y="537.30" font-size="34.50" textLength="19.19" lengthAdjust="spacingAndGlyphs">7</text>
<path d="M825.5 79.8H861" stroke="#e2202a" stroke-width="2.2"/>
<text x="870.79" y="91.10" font-size="35.93" textLength="121.12" lengthAdjust="spacingAndGlyphs">110 min</text><rect x="872.65" y="87" width="6.77" height="6" fill="#fff"/><rect x="882.68" y="87" width="6.60" height="6" fill="#fff"/><rect x="889.41" y="87" width="6.77" height="6" fill="#fff"/><rect x="899.43" y="87" width="6.60" height="6" fill="#fff"/>
<path d="M825.5 116.0H861" stroke="#e8682a" stroke-width="2.2"/>
<text x="870.81" y="128.80" font-size="35.93" textLength="122.96" lengthAdjust="spacingAndGlyphs">100 min</text><rect x="872.65" y="124" width="6.73" height="6" fill="#fff"/><rect x="882.62" y="124" width="6.56" height="6" fill="#fff"/>
<path d="M825.5 158.0H861" stroke="#27a4de" stroke-width="2.2"/>
<text x="884.64" y="166.50" font-size="35.84" textLength="105.11" lengthAdjust="spacingAndGlyphs">90 min</text>
<path d="M825.5 187.0H861" stroke="#7a3f96" stroke-width="2.2"/>
<text x="884.81" y="203.50" font-size="35.84" textLength="104.93" lengthAdjust="spacingAndGlyphs">80 min</text>
<path d="M825.5 222.5H861" stroke="#0f6a34" stroke-width="2.2"/>
<text x="885.16" y="236.80" font-size="36.36" textLength="104.57" lengthAdjust="spacingAndGlyphs">70 min</text>
<path d="M825.5 258.0H861" stroke="#1f9d49" stroke-width="2.2"/>
<text x="884.55" y="275.70" font-size="35.84" textLength="105.20" lengthAdjust="spacingAndGlyphs">60 min</text>
<path d="M825.5 301.5H861" stroke="#f3d42a" stroke-width="2.2"/>
<text x="884.99" y="316.20" font-size="35.84" textLength="104.74" lengthAdjust="spacingAndGlyphs">30 min</text>
<path d="M15.0 891.5L16.0 891.5L17.0 891.5L18.0 891.5L19.0 891.5L20.0 891.5L21.0 891.5L22.0 891.5L23.0 891.5L24.0 891.5L25.0 891.5L26.0 891.5L27.0 891.5L28.0 891.5L29.0 891.5L30.0 891.5L31.0 891.5L32.0 891.5L33.0 891.5L34.0 891.5L35.0 891.5L36.0 891.5L37.0 891.5L38.0 891.5L39.0 891.5L40.0 891.5L41.0 891.5L42.0 891.5L43.0 891.5L44.0 891.5L45.0 891.5L46.0 891.5L47.0 891.5L48.0 891.5L49.0 891.5L50.0 891.5L51.0 891.5L52.0 891.5L53.0 891.5L54.0 891.5L55.0 891.5L56.0 891.5L57.0 891.5L58.0 891.5L59.0 891.5L60.0 891.5L61.0 891.5L62.0 891.5L63.0 891.5L64.0 891.5L65.0 891.5L66.0 891.5L67.0 891.5L68.0 891.5L69.0 891.5L70.0 891.5L71.0 891.5L72.0 891.5L73.0 891.5L74.0 891.5L75.0 891.5L76.0 891.5L77.0 891.5L78.0 891.5L79.0 891.5L80.0 891.5L81.0 891.5L82.0 891.5L83.0 891.5L84.0 891.5L85.0 891.5L86.0 891.5L87.0 891.5L88.0 891.5L89.0 891.5L90.0 891.5L91.0 891.5L92.0 891.5L93.0 891.5L94.0 891.5L95.0 891.5L96.0 891.5L97.0 891.5L98.0 891.5L99.0 891.5L100.0 891.5L101.0 891.5L102.0 891.5L103.0 891.5L104.0 891.5L105.0 891.5L106.0 891.5L107.0 891.5L108.0 891.5L109.0 891.5L110.0 891.5L111.0 891.5L112.0 891.5L113.0 891.5L114.0 891.5L115.0 891.5L116.0 891.5L117.0 891.5L118.0 891.5L119.0 891.5L120.0 891.5L121.0 891.5L122.0 891.5L123.0 891.5L124.0 891.5L125.0 891.5L126.0 891.5L127.0 891.5L128.0 891.5L129.0 891.5L130.0 891.5L131.0 891.5L132.0 891.5L133.0 891.5L134.0 891.5L135.0 891.5L136.0 891.5L137.0 891.5L138.0 891.5L139.0 891.5L140.0 891.5L141.0 891.5L142.0 891.5L143.0 891.5L144.0 891.5L145.0 891.5L146.0 891.5L147.0 891.5L148.0 891.5L149.0 891.5L150.0 891.5L151.0 891.5L152.0 891.5L153.0 891.5L154.0 891.5L155.0 891.5L156.0 891.5L157.0 891.5L158.0 891.5L159.0 891.5L160.0 891.5L161.0 891.5L162.0 891.5L163.0 891.5L164.0 891.5L165.0 891.5L166.0 891.5L167.0 891.5L168.0 891.5L169.0 891.5L170.0 891.5L171.0 891.5L172.0 891.5L173.0 891.5L174.0 891.5L175.0 891.5L176.0 891.5L177.0 891.5L178.0 891.5L179.0 891.5L180.0 891.5L181.0 891.5L182.0 891.5L183.0 891.5L184.0 891.5L185.0 891.5L186.0 891.5L187.0 891.5L188.0 891.5L189.0 891.5L190.0 891.5L191.0 891.5L192.0 891.5L193.0 891.5L194.0 891.5L195.0 891.5L196.0 891.5L197.0 891.5L198.0 891.5L199.0 891.5L200.0 891.5L201.0 891.5L202.0 891.5L203.0 891.5L204.0 891.5L205.0 891.5L206.0 891.5L207.0 891.5L208.0 891.5L209.0 891.5L210.0 891.5L211.0 891.5L212.0 891.5L213.0 891.5L214.0 891.5L215.0 891.5L216.0 891.5L217.0 891.5L218.0 891.5L219.0 891.5L220.0 891.5L221.0 891.5L222.0 891.5L223.0 891.5L224.0 891.5L225.0 891.5L226.0 891.5L227.0 891.5L228.0 891.5L229.0 891.5L230.0 891.5L231.0 891.5L232.0 891.5L233.0 891.5L234.0 891.5L235.0 891.5L236.0 891.5L237.0 891.5L238.0 891.5L239.0 891.5L240.0 891.5L241.0 891.5L242.0 891.5L243.0 891.5L244.0 891.5L245.0 891.5L246.0 891.5L247.0 891.5L248.0 891.5L249.0 891.5L250.0 891.5L251.0 891.5L252.0 891.5L253.0 891.5L254.0 891.5L255.0 891.5L256.0 891.5L257.0 891.5L258.0 891.5L259.0 891.5L260.0 891.5L261.0 891.5L262.0 891.5L263.0 891.5L264.0 891.5L265.0 891.5L266.0 891.5L267.0 891.5L268.0 891.5L269.0 891.5L270.0 891.5L271.0 891.5L272.0 891.5L273.0 891.5L274.0 891.5L275.0 891.5L276.0 891.5L277.0 891.5L278.0 891.5L279.0 891.5L280.0 891.5L281.0 891.5L282.0 891.5L283.0 891.5L284.0 891.5L285.0 891.5L286.0 891.5L287.0 891.5L288.0 891.5L289.0 891.5L290.0 891.5L291.0 891.5L292.0 891.5L293.0 891.5L294.0 891.5L295.0 891.5L296.0 891.5L297.0 891.5L298.0 891.5L299.0 891.5L300.0 891.5L301.0 891.5L302.0 891.5L303.0 891.5L304.0 891.5L305.0 891.5L306.0 891.5L307.0 891.5L308.0 891.5L309.0 891.5L310.0 891.5L311.0 891.5L312.0 891.5L313.0 891.5L314.0 891.5L315.0 891.5L316.0 891.5L317.0 891.5L318.0 891.5L319.0 891.5L320.0 891.5L321.0 891.5L322.0 891.5L323.0 891.5L324.0 891.5L325.0 891.5L326.0 891.5L327.0 891.5L328.0 891.5L329.0 891.5L330.0 891.5L331.0 891.5L332.0 891.5L333.0 891.5L334.0 891.5L335.0 891.5L336.0 891.5L337.0 891.5L338.0 891.5L339.0 891.5L340.0 891.5L341.0 891.5L342.0 891.5L343.0 891.5L344.0 891.5L345.0 891.5L346.0 891.5L347.0 891.5L348.0 891.5L349.0 891.5L350.0 891.5L351.0 891.5L352.0 891.5L353.0 891.5L354.0 891.4L355.0 891.4L356.0 891.4L357.0 891.4L358.0 891.4L359.0 891.3L360.0 891.3L361.0 891.1L362.0 890.9L363.0 890.6L364.0 890.3L365.0 889.9L366.0 889.6L367.0 889.5L368.0 889.6L369.0 889.9L370.0 890.3L371.0 890.6L372.0 890.9L373.0 891.1L374.0 891.3L375.0 891.3L376.0 891.4L377.0 891.4L378.0 891.4L379.0 891.4L380.0 891.4L381.0 891.4L382.0 891.4L383.0 891.5L384.0 891.5L385.0 891.5L386.0 891.5L387.0 891.5L388.0 891.5L389.0 891.5L390.0 891.5L391.0 891.5L392.0 891.5L393.0 891.5L394.0 891.5L395.0 891.5L396.0 891.5L397.0 891.5L398.0 891.5L399.0 891.5L400.0 891.4L401.0 891.4L402.0 891.4L403.0 891.4L404.0 891.4L405.0 891.4L406.0 891.4L407.0 891.4L408.0 891.4L409.0 891.4L410.0 891.4L411.0 891.4L412.0 891.4L413.0 891.4L414.0 891.4L415.0 891.4L416.0 891.4L417.0 891.3L418.0 891.3L419.0 891.3L420.0 891.3L421.0 891.2L422.0 891.2L423.0 891.2L424.0 891.1L425.0 891.0L426.0 890.9L427.0 890.8L428.0 890.5L429.0 890.1L430.0 889.1L431.0 886.5L432.0 881.0L433.0 872.1L434.0 861.5L435.0 854.5L436.0 856.4L437.0 865.7L438.0 876.1L439.0 883.6L440.0 887.8L441.0 889.6L442.0 890.3L443.0 890.7L444.0 890.8L445.0 891.0L446.0 891.0L447.0 891.1L448.0 891.2L449.0 891.2L450.0 891.3L451.0 891.3L452.0 891.3L453.0 891.3L454.0 891.3L455.0 891.4L456.0 891.4L457.0 891.4L458.0 891.4L459.0 891.4L460.0 891.4L461.0 891.4L462.0 891.4L463.0 891.4L464.0 891.4L465.0 891.4L466.0 891.4L467.0 891.4L468.0 891.4L469.0 891.5L470.0 891.5L471.0 891.5L472.0 891.5L473.0 891.5L474.0 891.5L475.0 891.5L476.0 891.5L477.0 891.5L478.0 891.5L479.0 891.5L480.0 891.5L481.0 891.5L482.0 891.5L483.0 891.5L484.0 891.5L485.0 891.5L486.0 891.5L487.0 891.5L488.0 891.5L489.0 891.5L490.0 891.5L491.0 891.5L492.0 891.5L493.0 891.5L494.0 891.5L495.0 891.5L496.0 891.5L497.0 891.5L498.0 891.5L499.0 891.5L500.0 891.5L501.0 891.5L502.0 891.5L503.0 891.5L504.0 891.5L505.0 891.5L506.0 891.5L507.0 891.5L508.0 891.5L509.0 891.5L510.0 891.5L511.0 891.5L512.0 891.5L513.0 891.5L514.0 891.5L515.0 891.5L516.0 891.5L517.0 891.5L518.0 891.5L519.0 891.5L520.0 891.5L521.0 891.5L522.0 891.5L523.0 891.5L524.0 891.5L525.0 891.5L526.0 891.5L527.0 891.5L528.0 891.5L529.0 891.5L530.0 891.5L531.0 891.5L532.0 891.5L533.0 891.5L534.0 891.5L535.0 891.5L536.0 891.5L537.0 891.5L538.0 891.5L539.0 891.5L540.0 891.5L541.0 891.5L542.0 891.5L543.0 891.5L544.0 891.5L545.0 891.5L546.0 891.5L547.0 891.5L548.0 891.5L549.0 891.5L550.0 891.5L551.0 891.5L552.0 891.5L553.0 891.5L554.0 891.5L555.0 891.5L556.0 891.5L557.0 891.5L558.0 891.5L559.0 891.5L560.0 891.5L561.0 891.5L562.0 891.5L563.0 891.5L564.0 891.5L565.0 891.5L566.0 891.5L567.0 891.5L568.0 891.5L569.0 891.5L570.0 891.5L571.0 891.5L572.0 891.5L573.0 891.5L574.0 891.5L575.0 891.5L576.0 891.5L577.0 891.5L578.0 891.5L579.0 891.5L580.0 891.5L581.0 891.5L582.0 891.5L583.0 891.5L584.0 891.5L585.0 891.5L586.0 891.5L587.0 891.5L588.0 891.5L589.0 891.5L590.0 891.5L591.0 891.5L592.0 891.5L593.0 891.5L594.0 891.5L595.0 891.5L596.0 891.5L597.0 891.5L598.0 891.5L599.0 891.5L600.0 891.5L601.0 891.5L602.0 891.5L603.0 891.5L604.0 891.5L605.0 891.5L606.0 891.5L607.0 891.5L608.0 891.5L609.0 891.5L610.0 891.5L611.0 891.5L612.0 891.5L613.0 891.5L614.0 891.5L615.0 891.5L616.0 891.5L617.0 891.5L618.0 891.5L619.0 891.5L620.0 891.5L621.0 891.5L622.0 891.5L623.0 891.5L624.0 891.5L625.0 891.5L626.0 891.5L627.0 891.4L628.0 891.4L629.0 891.4L630.0 891.4L631.0 891.4L632.0 891.4L633.0 891.4L634.0 891.4L635.0 891.4L636.0 891.3L637.0 891.3L638.0 891.3L639.0 891.2L640.0 891.1L641.0 890.8L642.0 890.3L643.0 889.3L644.0 887.9L645.0 886.1L646.0 884.4L647.0 883.5L648.0 883.9L649.0 885.4L650.0 887.2L651.0 888.8L652.0 889.9L653.0 890.6L654.0 891.0L655.0 891.1L656.0 891.2L657.0 891.3L658.0 891.3L659.0 891.4L660.0 891.4L661.0 891.4L662.0 891.4L663.0 891.4L664.0 891.4L665.0 891.4L666.0 891.4L667.0 891.4L668.0 891.5L669.0 891.5L670.0 891.5L671.0 891.5L672.0 891.5L673.0 891.5L674.0 891.5L675.0 891.5L676.0 891.5L677.0 891.5L678.0 891.5L679.0 891.5L680.0 891.5L681.0 891.5L682.0 891.5L683.0 891.5L684.0 891.5L685.0 891.5L686.0 891.5L687.0 891.5L688.0 891.5L689.0 891.5L690.0 891.5L691.0 891.5L692.0 891.5L693.0 891.5L694.0 891.5L695.0 891.5L696.0 891.5L697.0 891.5L698.0 891.5L699.0 891.5L700.0 891.5L701.0 891.5L702.0 891.5L703.0 891.5L704.0 891.5L705.0 891.5L706.0 891.5L707.0 891.5L708.0 891.5L709.0 891.5L710.0 891.5L711.0 891.5L712.0 891.5L713.0 891.5L714.0 891.5L715.0 891.5L716.0 891.5L717.0 891.5L718.0 891.5L719.0 891.5L720.0 891.5L721.0 891.5L722.0 891.5L723.0 891.5L724.0 891.5L725.0 891.5L726.0 891.5L727.0 891.5L728.0 891.5L729.0 891.5L730.0 891.5L731.0 891.5L732.0 891.5L733.0 891.5L734.0 891.5L735.0 891.5L736.0 891.5L737.0 891.5L738.0 891.5L739.0 891.5L740.0 891.5L741.0 891.5L742.0 891.5L743.0 891.5L744.0 891.5L745.0 891.5L746.0 891.5L747.0 891.5L748.0 891.5L749.0 891.5L750.0 891.5L751.0 891.5L752.0 891.5L753.0 891.5L754.0 891.5L755.0 891.5L756.0 891.5L757.0 891.5L758.0 891.5L759.0 891.5L760.0 891.5L761.0 891.5L762.0 891.5L763.0 891.5L764.0 891.5L765.0 891.5L766.0 891.5L767.0 891.5L768.0 891.5L769.0 891.5L770.0 891.5L771.0 891.5L772.0 891.5L773.0 891.5L774.0 891.5L775.0 891.5L776.0 891.5L777.0 891.5L778.0 891.5L779.0 891.5L780.0 891.5L781.0 891.5L782.0 891.5L783.0 891.5L784.0 891.5L785.0 891.5L786.0 891.5L787.0 891.5L788.0 891.5L789.0 891.5L790.0 891.5L791.0 891.5L792.0 891.5L793.0 891.5L794.0 891.5L795.0 891.5L796.0 891.5L797.0 891.5L798.0 891.5L799.0 891.5L800.0 891.5L801.0 891.5L802.0 891.5L803.0 891.5L804.0 891.5L805.0 891.5L806.0 891.5L807.0 891.5L808.0 891.5L809.0 891.5L810.0 891.5L811.0 891.5L812.0 891.5L813.0 891.5L814.0 891.5L815.0 891.5L816.0 891.5L817.0 891.5L818.0 891.5L819.0 891.5L820.0 891.5L821.0 891.5L822.0 891.5L823.0 891.5L824.0 891.5L825.0 891.5L826.0 891.5L827.0 891.5L828.0 891.5L829.0 891.5L830.0 891.5L831.0 891.5L832.0 891.5L833.0 891.5" stroke="#a8a8a8" stroke-width="2.2" fill="none"/>
<path d="M117.5 692.0L118.5 688.0L119.5 675.6L120.5 682.3L121.5 684.4L122.5 676.5L123.5 680.4L124.5 678.5L125.5 677.0L126.5 675.1L127.5 670.5L128.5 680.0L129.5 674.5L130.5 677.0L131.5 671.8L132.5 671.7L133.5 662.5L134.5 667.7L135.5 668.2L136.5 659.0L137.5 653.2L138.5 653.2L139.5 662.3L140.5 676.4L141.5 665.0L142.5 667.2L143.5 658.6L144.5 669.5L145.5 655.2L146.5 658.9L147.5 653.5L148.5 651.1L149.5 658.5L150.5 649.4L151.5 653.1L152.5 647.1L153.5 651.3L154.5 651.3L155.5 654.4L156.5 648.1L157.5 650.4L158.5 652.5L159.5 641.3L160.5 643.1L161.5 641.0L162.5 638.3L163.5 642.6L164.5 645.5L165.5 646.3L166.5 642.3L167.5 642.5L168.5 643.6L169.5 639.0L170.5 650.7L171.5 645.2L172.5 641.6L173.5 659.4L174.5 644.4L175.5 638.9L176.5 637.4L177.5 637.9L178.5 636.3L179.5 637.9L180.5 635.1L181.5 638.1L182.5 642.3L183.5 643.4L184.5 630.7L185.5 635.7L186.5 636.6L187.5 638.6L188.5 639.1L189.5 635.6L190.5 641.8L191.5 638.4L192.5 649.3L193.5 629.0L194.5 639.6L195.5 631.0L196.5 632.0L197.5 645.9L198.5 651.7L199.5 626.1L200.5 630.0L201.5 634.7L202.5 624.1L203.5 634.4L204.5 636.5L205.5 635.4L206.5 620.1L207.5 645.7L208.5 635.2L209.5 633.4L210.5 629.7L211.5 637.0L212.5 637.9L213.5 630.8L214.5 633.8L215.5 645.6L216.5 629.9L217.5 641.4L218.5 628.6L219.5 629.0L220.5 635.9L221.5 636.6L222.5 631.4L223.5 627.2L224.5 637.8L225.5 637.2L226.5 629.9L227.5 635.5L228.5 631.8L229.5 646.5L230.5 630.7L231.5 632.9L232.5 632.7L233.5 632.3L234.5 635.2L235.5 635.9L236.5 626.4L237.5 624.6L238.5 628.2L239.5 641.4L240.5 647.9L241.5 642.6L242.5 637.6L243.5 641.2L244.5 637.0L245.5 649.1L246.5 639.7L247.5 635.3L248.5 630.8L249.5 638.7L250.5 638.2L251.5 630.3L252.5 635.3L253.5 643.2L254.5 636.6L255.5 646.6L256.5 644.0L257.5 635.3L258.5 630.1L259.5 636.9L260.5 634.9L261.5 639.5L262.5 646.0L263.5 632.4L264.5 628.5L265.5 640.1L266.5 644.3L267.5 641.2L268.5 640.7L269.5 637.4L270.5 641.1L271.5 637.4L272.5 638.9L273.5 635.0L274.5 641.3L275.5 643.4L276.5 623.7L277.5 645.2L278.5 639.0L279.5 641.8L280.5 643.0L281.5 628.1L282.5 633.8L283.5 638.2L284.5 636.0L285.5 641.6L286.5 637.8L287.5 632.0L288.5 644.0L289.5 638.6L290.5 644.1L291.5 637.8L292.5 640.1L293.5 638.5L294.5 644.5L295.5 646.6L296.5 639.9L297.5 634.2L298.5 638.0L299.5 637.4L300.5 645.5L301.5 653.3L302.5 642.9L303.5 643.9L304.5 642.1L305.5 641.2L306.5 647.5L307.5 645.5L308.5 642.8L309.5 638.5L310.5 637.8L311.5 642.1L312.5 650.4L313.5 644.5L314.5 639.0L315.5 643.7L316.5 641.4L317.5 644.9L318.5 650.3L319.5 639.0L320.5 645.0L321.5 638.5L322.5 634.5L323.5 649.4L324.5 649.8L325.5 640.5L326.5 636.7L327.5 642.8L328.5 658.9L329.5 647.2L330.5 643.4L331.5 642.1L332.5 646.1L333.5 637.7L334.5 652.3L335.5 642.2L336.5 651.3L337.5 642.3L338.5 649.4L339.5 648.6L340.5 629.5L341.5 653.4L342.5 647.5L343.5 647.4L344.5 644.7L345.5 649.0L346.5 646.6L347.5 641.7L348.5 649.8L349.5 648.0L350.5 648.3L351.5 647.8L352.5 650.1L353.5 646.9L354.5 644.5L355.5 645.6L356.5 655.2L357.5 632.6L358.5 652.6L359.5 642.5L360.5 641.6L361.5 644.5L362.5 648.2L363.5 653.2L364.5 641.0L365.5 658.1L366.5 651.8L367.5 649.3L368.5 648.6L369.5 645.4L370.5 653.4L371.5 651.0L372.5 658.0L373.5 647.5L374.5 654.0L375.5 643.5L376.5 647.4L377.5 661.6L378.5 653.6L379.5 655.5L380.5 647.1L381.5 648.9L382.5 653.1L383.5 649.8L384.5 655.8L385.5 655.0L386.5 645.0L387.5 653.7L388.5 652.8L389.5 652.1L390.5 647.3L391.5 649.1L392.5 658.4L393.5 658.8L394.5 652.9L395.5 654.3L396.5 654.9L397.5 647.7L398.5 655.9L399.5 658.9L400.5 655.8L401.5 666.2L402.5 655.9L403.5 658.8L404.5 654.4L405.5 659.4L406.5 642.5L407.5 646.1L408.5 653.2L409.5 657.9L410.5 660.3L411.5 661.2L412.5 664.0L413.5 657.1L414.5 655.4L415.5 657.2L416.5 660.7L417.5 660.5L418.5 661.3L419.5 655.7L420.5 653.3L421.5 660.5L422.5 665.8L423.5 664.7L424.5 657.7L425.5 658.9L426.5 648.1L427.5 670.2L428.5 651.4L429.5 662.4L430.5 655.0L431.5 662.9L432.5 662.5L433.5 659.0L434.5 658.1L435.5 658.5L436.5 659.0L437.5 664.7L438.5 661.1L439.5 654.8L440.5 664.6L441.5 646.3L442.5 659.9L443.5 662.7L444.5 655.2L445.5 664.2L446.5 657.1L447.5 652.3L448.5 657.2L449.5 663.4L450.5 648.6L451.5 665.8L452.5 664.8L453.5 660.6L454.5 665.5L455.5 668.6L456.5 646.9L457.5 665.3L458.5 663.0L459.5 658.9L460.5 657.9L461.5 662.4L462.5 658.3L463.5 667.3L464.5 661.5L465.5 666.1L466.5 659.9L467.5 654.0L468.5 662.0L469.5 660.0L470.5 655.6L471.5 653.7L472.5 663.2L473.5 665.8L474.5 666.2L475.5 662.6L476.5 660.4L477.5 661.2L478.5 660.6L479.5 669.7L480.5 658.5L481.5 655.5L482.5 659.6L483.5 661.3L484.5 659.5L485.5 660.7L486.5 669.2L487.5 664.2L488.5 655.6L489.5 670.0L490.5 653.0L491.5 663.7L492.5 663.3L493.5 661.8L494.5 658.2L495.5 658.1L496.5 663.2L497.5 659.5L498.5 664.8L499.5 659.7L500.5 660.9L501.5 665.0L502.5 662.4L503.5 662.0L504.5 663.6L505.5 664.0L506.5 662.3L507.5 660.0L508.5 662.0L509.5 663.6L510.5 663.0L511.5 663.6L512.5 664.5L513.5 658.5L514.5 657.6L515.5 661.3L516.5 666.2L517.5 663.7L518.5 658.2L519.5 662.6L520.5 663.2L521.5 656.7L522.5 663.2L523.5 666.3L524.5 662.7L525.5 660.0L526.5 664.3L527.5 663.0L528.5 661.8L529.5 653.8L530.5 667.3L531.5 661.4L532.5 662.0L533.5 665.0L534.5 662.9L535.5 661.0L536.5 662.3L537.5 664.2L538.5 664.5L539.5 662.7L540.5 670.9L541.5 665.4L542.5 667.4L543.5 660.4L544.5 663.8L545.5 664.3L546.5 661.5L547.5 661.5L548.5 664.0L549.5 668.5L550.5 665.8L551.5 663.2L552.5 660.7L553.5 649.4L554.5 606.3L555.5 488.8L556.5 286.4L557.5 104.0L558.0 76.3L558.5 104.9L559.5 287.0L560.5 489.5L561.5 606.9L562.5 650.6L563.5 661.2L564.5 665.1L565.5 664.0L566.5 663.4L567.5 667.3L568.5 667.7L569.5 668.6L570.5 667.6L571.5 670.9L572.5 666.1L573.5 670.3L574.5 665.6L575.5 666.4L576.5 667.1L577.5 667.5L578.5 671.6L579.5 666.6L580.5 665.2L581.5 669.9L582.5 663.7L583.5 669.0L584.5 668.8L585.5 670.1L586.5 667.0L587.5 671.3L588.5 667.5L589.5 666.0L590.5 669.6L591.5 662.8L592.5 668.1L593.5 666.1L594.5 670.2L595.5 666.1L596.5 670.5L597.5 666.4L598.5 667.3L599.5 666.7L600.5 669.0L601.5 665.4L602.5 666.9L603.5 667.1L604.5 673.9L605.5 668.3L606.5 667.2L607.5 670.2L608.5 667.3L609.5 670.7L610.5 668.4L611.5 670.7L612.5 667.2L613.5 671.1L614.5 668.3L615.5 668.5L616.5 673.3L617.5 673.2L618.5 672.2L619.5 668.8L620.5 673.1L621.5 669.5L622.5 670.1L623.5 673.0L624.5 670.4L625.5 670.6L626.5 670.0L627.5 669.1L628.5 669.0L629.5 669.8L630.5 671.0L631.5 670.0L632.5 668.1L633.5 670.6L634.5 670.6L635.5 674.7L636.5 672.4L637.5 672.2L638.5 669.7L639.5 669.8L640.5 670.5L641.5 669.8L642.5 667.7L643.5 670.1L644.5 667.7L645.5 668.0L646.5 668.0L647.5 668.4L648.5 668.3L649.5 668.9L650.5 667.1L651.5 673.3L652.5 668.6L653.5 669.3L654.5 673.3L655.5 673.4L656.5 671.7L657.5 672.7L658.5 673.5L659.5 673.5L660.5 671.1L661.5 673.5L662.5 674.5L663.5 674.0L664.5 676.0L665.5 670.6L666.5 672.2L667.5 672.7L668.5 671.4L669.5 673.1L670.5 673.0L671.5 672.4L672.5 672.1L673.5 672.2L674.5 672.3L675.5 671.3L676.5 671.2L677.5 672.2L678.5 666.0L679.5 673.7L680.5 672.5L681.5 670.6L682.5 677.2L683.5 675.2L684.5 676.5L685.5 675.3L686.5 672.8L687.5 674.6L688.5 674.6L689.5 670.3L690.5 675.3L691.5 671.5L692.5 671.0L693.5 675.6L694.5 672.7L695.5 672.0L696.5 677.0L697.5 670.3L698.5 672.6L699.5 677.0L700.5 680.7L701.5 674.9L702.5 677.0L703.5 675.5L704.5 680.1L705.5 674.1L706.5 669.0L707.5 675.7L708.5 675.6L709.5 673.3L710.5 675.5L711.5 673.1L712.5 674.0L713.5 675.5L714.5 672.0L715.5 677.5L716.5 675.3L717.5 672.8L718.5 674.6L719.5 673.2L720.5 675.8L721.5 674.5L722.5 677.8L723.5 681.2L724.5 676.1L725.5 677.6L726.5 676.7L727.5 675.0L728.5 677.5L729.5 678.7L730.5 678.5L731.5 679.7L732.5 675.9L733.5 680.3L734.5 678.0L735.5 679.0L736.5 674.3L737.5 679.2L738.5 672.7L739.5 677.3L740.5 676.3L741.5 676.5L742.5 675.0L743.5 677.8L744.5 676.6L745.5 675.5L746.5 679.6L747.5 677.0L748.5 674.8L749.5 674.0L750.5 668.9L751.5 672.1L752.5 669.5L753.5 661.8L754.5 642.7L755.5 606.4L756.5 560.0L757.0 541.9L757.5 535.1L758.0 542.4L758.5 559.4L759.5 606.6L760.5 643.1L761.5 663.0L762.5 670.3L763.5 673.1L764.5 674.9L765.5 676.9L766.5 676.1L767.5 673.1L768.5 672.7L769.5 675.8L770.5 675.9L771.5 678.6L772.5 678.1L773.5 684.5L774.5 678.3L775.5 675.0L776.5 679.7L777.5 681.3L778.5 676.6L779.5 674.1L780.5 676.9L781.5 685.4L782.5 676.9L783.5 677.5L784.5 675.9L785.5 674.1L786.5 678.9L787.5 675.5L788.5 679.4L789.5 679.9L790.5 679.5L791.5 680.3L792.5 678.6L793.5 683.1L794.5 677.6L795.5 678.4L796.5 680.1L797.5 678.8L798.5 683.3L799.5 680.1L800.5 677.7L801.5 682.6L802.5 682.4L803.5 680.8L804.5 680.5L805.5 681.0L806.5 682.1L807.5 679.9L808.5 686.5L809.5 682.1L810.5 687.3L811.5 681.1L812.5 681.7L813.5 681.5L814.5 684.5L815.5 688.6L816.5 683.4L817.5 685.4L818.5 685.5L819.5 685.3L820.5 682.2L821.5 680.6L822.5 679.6L823.5 680.0L824.5 682.6L825.5 680.3L826.5 683.0L827.5 686.7L828.5 687.3L829.5 679.0L830.5 685.3L831.5 682.9L832.5 682.3L833.5 682.9L834.5 684.7L835.5 683.8L836.5 685.9L837.5 682.1L838.5 686.2L839.5 686.5L840.5 684.0L841.5 687.6L842.5 682.6L843.5 686.2L844.5 684.8L845.5 685.0L846.5 686.2L847.5 685.9L848.5 680.9L849.5 682.5L850.5 683.1L851.5 685.1L852.5 687.5L853.5 688.2L854.5 687.5L855.5 686.5L856.5 684.0L857.5 689.0L858.5 686.6L859.5 683.5L860.5 684.9L861.5 689.1L862.5 689.6L863.5 684.3L864.5 691.4L865.5 688.8L866.5 688.1L867.5 688.9L868.5 692.0L869.5 687.1L870.5 685.7L871.5 686.7L872.5 687.7L873.5 682.2L874.5 689.7L875.5 688.0L876.5 684.2L877.5 685.9L878.5 685.0L879.5 685.3L880.5 685.7L881.5 687.2L882.5 686.1L883.5 686.6L884.5 689.3L885.5 689.2L886.5 687.3L887.5 692.8L888.5 686.4L889.5 688.5L890.5 691.6L891.5 686.0L892.5 686.4L893.5 685.9L894.5 688.0L895.5 687.5L896.5 688.6L897.5 690.6L898.5 685.4L899.5 687.2L900.5 689.2L901.5 682.7L902.5 687.5L903.5 687.9L904.5 687.7L905.5 689.8L906.5 691.6L907.5 687.7L908.5 693.8L909.5 687.0L910.5 688.4L911.5 689.0L912.5 685.1L913.5 689.9L914.5 689.1L915.5 689.7L916.5 692.1L917.5 690.1L918.5 692.9L919.5 687.5L920.5 690.1L921.5 693.7L922.5 690.6L923.5 688.0L924.5 688.1" stroke="#e2202a" stroke-width="4.1" fill="none" stroke-linejoin="round" stroke-linecap="round"/>
<path d="M103.0 732.9L104.0 723.6L105.0 722.1L106.0 712.3L107.0 722.8L108.0 720.9L109.0 719.5L110.0 722.5L111.0 722.4L112.0 715.5L113.0 715.4L114.0 716.3L115.0 720.2L116.0 718.7L117.0 717.3L118.0 704.1L119.0 716.5L120.0 719.1L121.0 711.6L122.0 712.0L123.0 715.0L124.0 708.6L125.0 712.4L126.0 715.4L127.0 711.0L128.0 708.2L129.0 710.6L130.0 704.4L131.0 706.0L132.0 703.9L133.0 705.1L134.0 703.5L135.0 704.2L136.0 702.9L137.0 698.7L138.0 703.8L139.0 704.4L140.0 708.7L141.0 696.1L142.0 702.1L143.0 701.3L144.0 701.9L145.0 701.1L146.0 701.8L147.0 705.5L148.0 696.1L149.0 705.5L150.0 700.1L151.0 692.2L152.0 698.2L153.0 701.1L154.0 701.3L155.0 710.3L156.0 700.3L157.0 699.6L158.0 698.2L159.0 702.5L160.0 693.6L161.0 696.2L162.0 698.0L163.0 689.4L164.0 701.1L165.0 692.0L166.0 694.7L167.0 703.8L168.0 691.0L169.0 697.8L170.0 700.3L171.0 688.8L172.0 691.2L173.0 694.9L174.0 694.5L175.0 694.9L176.0 693.8L177.0 697.8L178.0 696.1L179.0 689.6L180.0 688.3L181.0 687.8L182.0 682.5L183.0 697.5L184.0 677.2L185.0 690.1L186.0 698.0L187.0 686.0L188.0 687.7L189.0 688.7L190.0 694.2L191.0 687.1L192.0 694.9L193.0 688.3L194.0 696.4L195.0 695.7L196.0 689.7L197.0 690.5L198.0 691.3L199.0 693.8L200.0 684.9L201.0 694.8L202.0 692.0L203.0 693.8L204.0 690.4L205.0 683.3L206.0 687.4L207.0 693.5L208.0 690.1L209.0 689.6L210.0 697.2L211.0 698.9L212.0 689.6L213.0 698.0L214.0 681.8L215.0 681.7L216.0 694.0L217.0 689.3L218.0 692.7L219.0 692.3L220.0 689.5L221.0 692.4L222.0 690.0L223.0 682.8L224.0 690.1L225.0 689.9L226.0 696.8L227.0 684.5L228.0 689.3L229.0 687.5L230.0 688.8L231.0 696.2L232.0 690.8L233.0 687.2L234.0 689.6L235.0 692.2L236.0 684.8L237.0 687.9L238.0 695.5L239.0 692.8L240.0 689.1L241.0 687.3L242.0 688.7L243.0 683.0L244.0 693.5L245.0 691.0L246.0 690.3L247.0 684.4L248.0 686.9L249.0 692.0L250.0 690.9L251.0 687.7L252.0 696.8L253.0 693.4L254.0 686.5L255.0 682.8L256.0 685.4L257.0 684.1L258.0 692.3L259.0 686.6L260.0 690.5L261.0 684.4L262.0 685.0L263.0 689.2L264.0 687.8L265.0 690.1L266.0 680.2L267.0 692.2L268.0 701.4L269.0 695.9L270.0 696.2L271.0 689.7L272.0 693.3L273.0 687.9L274.0 693.4L275.0 688.1L276.0 687.8L277.0 682.2L278.0 693.2L279.0 684.9L280.0 691.3L281.0 691.0L282.0 687.1L283.0 684.7L284.0 697.0L285.0 690.4L286.0 691.9L287.0 690.8L288.0 684.8L289.0 685.8L290.0 691.7L291.0 698.2L292.0 687.5L293.0 689.4L294.0 685.8L295.0 685.7L296.0 679.1L297.0 691.2L298.0 692.8L299.0 691.4L300.0 699.4L301.0 692.2L302.0 694.4L303.0 699.5L304.0 700.0L305.0 686.3L306.0 696.5L307.0 698.0L308.0 687.4L309.0 689.3L310.0 687.6L311.0 687.3L312.0 688.2L313.0 693.7L314.0 698.4L315.0 703.1L316.0 693.4L317.0 685.3L318.0 693.5L319.0 692.5L320.0 695.5L321.0 693.7L322.0 686.9L323.0 696.3L324.0 686.0L325.0 691.9L326.0 696.2L327.0 696.5L328.0 701.7L329.0 685.3L330.0 696.7L331.0 698.2L332.0 693.9L333.0 698.0L334.0 690.8L335.0 693.5L336.0 697.9L337.0 691.7L338.0 693.2L339.0 698.9L340.0 693.5L341.0 700.7L342.0 697.3L343.0 702.2L344.0 701.8L345.0 697.3L346.0 696.3L347.0 693.3L348.0 694.0L349.0 694.2L350.0 699.2L351.0 694.2L352.0 698.4L353.0 698.9L354.0 696.1L355.0 697.4L356.0 704.2L357.0 704.9L358.0 694.8L359.0 697.3L360.0 696.5L361.0 696.9L362.0 704.4L363.0 700.9L364.0 708.3L365.0 705.5L366.0 696.3L367.0 697.4L368.0 698.5L369.0 698.6L370.0 698.2L371.0 701.4L372.0 703.8L373.0 704.0L374.0 701.2L375.0 696.2L376.0 693.1L377.0 704.5L378.0 701.9L379.0 696.3L380.0 698.4L381.0 698.8L382.0 693.8L383.0 701.9L384.0 697.6L385.0 699.5L386.0 703.7L387.0 692.9L388.0 702.8L389.0 702.4L390.0 700.8L391.0 701.1L392.0 708.8L393.0 700.5L394.0 708.2L395.0 697.8L396.0 704.8L397.0 702.6L398.0 698.9L399.0 691.0L400.0 708.7L401.0 697.2L402.0 697.8L403.0 702.2L404.0 701.6L405.0 709.3L406.0 700.0L407.0 694.8L408.0 704.9L409.0 697.7L410.0 702.8L411.0 704.5L412.0 707.2L413.0 701.4L414.0 701.0L415.0 694.1L416.0 694.4L417.0 698.9L418.0 697.9L419.0 697.3L420.0 702.9L421.0 701.0L422.0 703.9L423.0 708.5L424.0 694.3L425.0 702.6L426.0 697.8L427.0 704.3L428.0 702.7L429.0 706.0L430.0 703.6L431.0 705.7L432.0 701.4L433.0 692.4L434.0 698.0L435.0 699.5L436.0 701.0L437.0 698.9L438.0 709.6L439.0 702.3L440.0 708.1L441.0 701.4L442.0 709.3L443.0 690.9L444.0 711.3L445.0 693.2L446.0 704.3L447.0 709.0L448.0 696.7L449.0 700.0L450.0 704.7L451.0 703.3L452.0 699.1L453.0 709.1L454.0 705.0L455.0 709.8L456.0 706.1L457.0 695.4L458.0 702.8L459.0 709.6L460.0 699.2L461.0 702.6L462.0 706.5L463.0 708.1L464.0 707.5L465.0 699.2L466.0 712.3L467.0 708.3L468.0 705.0L469.0 705.0L470.0 704.3L471.0 701.7L472.0 703.9L473.0 709.6L474.0 700.0L475.0 696.1L476.0 711.9L477.0 705.5L478.0 706.8L479.0 710.2L480.0 701.8L481.0 704.9L482.0 706.0L483.0 708.6L484.0 708.0L485.0 702.0L486.0 700.4L487.0 704.2L488.0 696.5L489.0 705.3L490.0 704.1L491.0 704.2L492.0 702.6L493.0 710.5L494.0 706.7L495.0 698.1L496.0 708.0L497.0 705.9L498.0 708.1L499.0 710.4L500.0 705.4L501.0 707.9L502.0 702.2L503.0 709.9L504.0 708.4L505.0 706.9L506.0 704.9L507.0 707.8L508.0 703.7L509.0 708.7L510.0 706.7L511.0 708.0L512.0 704.8L513.0 703.9L514.0 703.6L515.0 709.4L516.0 705.4L517.0 705.1L518.0 700.4L519.0 705.1L520.0 695.3L521.0 708.6L522.0 704.1L523.0 704.7L524.0 700.6L525.0 701.3L526.0 705.6L527.0 703.1L528.0 704.5L529.0 706.5L530.0 704.7L531.0 697.8L532.0 700.2L533.0 699.7L534.0 700.1L535.0 700.9L536.0 698.3L537.0 686.5L538.0 638.6L539.0 511.6L540.0 305.3L540.9 146.6L541.0 135.4L541.4 117.2L541.9 146.6L542.0 158.6L543.0 349.0L544.0 546.5L545.0 655.0L546.0 692.9L547.0 701.7L548.0 704.4L549.0 706.0L550.0 711.7L551.0 709.0L552.0 706.0L553.0 708.4L554.0 702.9L555.0 709.9L556.0 712.1L557.0 708.3L558.0 710.5L559.0 704.3L560.0 707.1L561.0 704.2L562.0 708.2L563.0 708.5L564.0 704.3L565.0 705.4L566.0 705.9L567.0 712.4L568.0 706.8L569.0 707.2L570.0 707.8L571.0 707.8L572.0 706.8L573.0 704.7L574.0 706.4L575.0 711.8L576.0 709.0L577.0 707.9L578.0 705.8L579.0 705.1L580.0 709.0L581.0 707.5L582.0 710.9L583.0 707.7L584.0 708.7L585.0 710.9L586.0 704.3L587.0 711.5L588.0 703.4L589.0 708.1L590.0 710.1L591.0 714.3L592.0 711.9L593.0 710.2L594.0 709.3L595.0 710.4L596.0 710.8L597.0 706.9L598.0 709.1L599.0 708.7L600.0 712.1L601.0 708.4L602.0 711.7L603.0 706.4L604.0 708.9L605.0 711.2L606.0 708.1L607.0 711.1L608.0 704.0L609.0 708.6L610.0 708.9L611.0 708.5L612.0 705.7L613.0 710.7L614.0 704.4L615.0 711.9L616.0 710.5L617.0 712.1L618.0 709.3L619.0 707.3L620.0 708.5L621.0 708.6L622.0 711.1L623.0 709.3L624.0 711.3L625.0 711.9L626.0 714.3L627.0 707.1L628.0 710.7L629.0 713.2L630.0 713.1L631.0 710.2L632.0 710.8L633.0 711.1L634.0 711.6L635.0 710.0L636.0 709.8L637.0 708.7L638.0 710.3L639.0 714.1L640.0 708.9L641.0 713.0L642.0 710.4L643.0 711.3L644.0 716.1L645.0 710.8L646.0 714.9L647.0 711.3L648.0 708.9L649.0 712.3L650.0 715.5L651.0 709.7L652.0 711.6L653.0 708.0L654.0 707.9L655.0 710.7L656.0 709.3L657.0 711.0L658.0 712.8L659.0 707.7L660.0 709.1L661.0 710.9L662.0 716.1L663.0 710.3L664.0 710.0L665.0 712.0L666.0 715.7L667.0 709.9L668.0 710.7L669.0 711.7L670.0 713.4L671.0 716.7L672.0 709.1L673.0 708.1L674.0 712.0L675.0 712.6L676.0 706.4L677.0 709.9L678.0 713.4L679.0 710.2L680.0 712.6L681.0 712.0L682.0 713.1L683.0 708.4L684.0 712.2L685.0 717.5L686.0 710.4L687.0 711.9L688.0 714.2L689.0 715.5L690.0 711.0L691.0 710.2L692.0 709.9L693.0 716.4L694.0 716.0L695.0 716.1L696.0 713.7L697.0 712.3L698.0 711.5L699.0 712.7L700.0 711.8L701.0 713.6L702.0 709.4L703.0 711.4L704.0 711.8L705.0 710.3L706.0 710.3L707.0 712.1L708.0 712.3L709.0 711.0L710.0 711.4L711.0 710.5L712.0 713.3L713.0 712.1L714.0 709.2L715.0 712.2L716.0 714.4L717.0 713.7L718.0 711.0L719.0 714.3L720.0 713.8L721.0 713.5L722.0 715.2L723.0 710.8L724.0 712.7L725.0 710.8L726.0 713.5L727.0 709.6L728.0 712.6L729.0 713.1L730.0 709.6L731.0 712.6L732.0 708.3L733.0 715.3L734.0 712.4L735.0 707.4L736.0 704.9L737.0 700.4L738.0 684.5L739.0 654.0L740.0 610.6L740.7 586.8L741.0 580.8L741.2 580.8L741.7 586.6L742.0 596.0L743.0 636.3L744.0 674.9L745.0 695.4L746.0 704.2L747.0 706.7L748.0 708.0L749.0 711.8L750.0 707.1L751.0 709.3L752.0 709.4L753.0 708.1L754.0 710.6L755.0 707.2L756.0 707.9L757.0 712.8L758.0 709.4L759.0 713.1L760.0 707.8L761.0 715.3L762.0 713.1L763.0 708.2L764.0 710.8L765.0 711.3L766.0 714.8L767.0 712.7L768.0 710.7L769.0 712.6L770.0 710.7L771.0 712.6L772.0 711.8L773.0 713.9L774.0 716.2L775.0 713.8L776.0 711.6L777.0 713.3L778.0 711.4L779.0 713.3L780.0 707.7L781.0 711.7L782.0 711.1L783.0 711.4L784.0 713.2L785.0 707.2L786.0 715.2L787.0 707.3L788.0 712.2L789.0 711.9L790.0 714.2L791.0 713.0L792.0 712.3L793.0 712.6L794.0 714.7L795.0 718.0L796.0 713.9L797.0 708.9L798.0 712.8L799.0 714.8L800.0 721.2L801.0 712.2L802.0 713.1L803.0 715.1L804.0 714.6L805.0 711.0L806.0 713.5L807.0 711.1L808.0 713.4L809.0 716.8L810.0 710.8L811.0 712.8L812.0 717.2L813.0 712.8L814.0 711.1L815.0 712.2L816.0 715.5L817.0 710.4L818.0 712.6L819.0 710.9L820.0 711.7L821.0 717.2L822.0 714.2L823.0 713.6L824.0 715.6L825.0 713.2L826.0 712.2L827.0 717.5L828.0 716.8L829.0 712.9L830.0 716.2L831.0 717.8L832.0 715.6L833.0 715.6L834.0 711.8L835.0 710.9L836.0 710.8L837.0 717.5L838.0 714.8L839.0 718.3L840.0 713.7L841.0 717.4L842.0 711.9L843.0 714.4L844.0 716.4L845.0 715.8L846.0 714.8L847.0 711.2L848.0 717.7L849.0 716.3L850.0 717.5L851.0 720.6L852.0 714.6L853.0 716.5L854.0 721.7L855.0 714.1L856.0 716.9L857.0 714.6L858.0 719.6L859.0 716.0L860.0 713.2L861.0 714.1L862.0 712.4L863.0 710.6L864.0 709.7L865.0 714.2L866.0 713.3L867.0 716.2L868.0 714.0L869.0 716.5L870.0 723.5L871.0 713.8L872.0 714.0L873.0 719.2L874.0 722.4L875.0 715.3L876.0 713.6L877.0 721.2L878.0 716.3L879.0 718.8L880.0 714.9L881.0 716.7L882.0 716.8L883.0 714.1L884.0 714.2L885.0 714.9L886.0 719.0L887.0 715.9L888.0 721.0L889.0 719.4L890.0 718.2L891.0 718.3L892.0 717.6L893.0 718.3L894.0 718.6L895.0 716.8L896.0 712.2L897.0 716.6L898.0 715.3L899.0 714.7L900.0 718.9L901.0 713.8L902.0 719.7L903.0 716.5L904.0 710.0L905.0 715.9L906.0 723.1L907.0 721.3L908.0 717.4L909.0 720.6" stroke="#e8682a" stroke-width="4.1" fill="none" stroke-linejoin="round" stroke-linecap="round"/>
<path d="M84.4 746.0L85.4 743.2L86.4 745.6L87.4 740.8L88.4 746.9L89.4 741.0L90.4 744.8L91.4 744.3L92.4 742.4L93.4 751.4L94.4 742.3L95.4 744.5L96.4 745.6L97.4 739.2L98.4 745.2L99.4 741.1L100.4 743.7L101.4 738.5L102.4 738.0L103.4 743.4L104.4 741.2L105.4 739.9L106.4 740.8L107.4 740.0L108.4 735.3L109.4 732.2L110.4 733.1L111.4 732.5L112.4 731.1L113.4 734.8L114.4 735.0L115.4 736.2L116.4 736.8L117.4 735.2L118.4 735.4L119.4 736.0L120.4 733.0L121.4 733.3L122.4 734.7L123.4 732.4L124.4 732.3L125.4 733.3L126.4 736.7L127.4 734.1L128.4 735.3L129.4 735.7L130.4 732.3L131.4 737.9L132.4 724.0L133.4 732.9L134.4 731.8L135.4 733.2L136.4 727.9L137.4 739.3L138.4 733.0L139.4 730.3L140.4 736.1L141.4 728.6L142.4 730.6L143.4 730.1L144.4 732.8L145.4 731.2L146.4 729.9L147.4 731.6L148.4 731.0L149.4 729.8L150.4 724.9L151.4 730.9L152.4 725.0L153.4 725.1L154.4 727.1L155.4 728.3L156.4 730.4L157.4 722.3L158.4 730.1L159.4 730.3L160.4 724.8L161.4 725.3L162.4 724.3L163.4 724.1L164.4 722.2L165.4 721.2L166.4 724.8L167.4 725.8L168.4 729.4L169.4 721.9L170.4 718.7L171.4 723.9L172.4 722.0L173.4 723.8L174.4 721.8L175.4 719.7L176.4 721.3L177.4 725.3L178.4 720.2L179.4 721.2L180.4 725.9L181.4 720.0L182.4 722.2L183.4 723.9L184.4 719.8L185.4 720.1L186.4 723.1L187.4 717.9L188.4 722.6L189.4 715.5L190.4 720.7L191.4 721.6L192.4 731.2L193.4 721.9L194.4 727.2L195.4 721.8L196.4 731.8L197.4 726.2L198.4 724.3L199.4 721.5L200.4 719.7L201.4 725.7L202.4 720.0L203.4 720.0L204.4 722.0L205.4 726.8L206.4 723.2L207.4 718.2L208.4 721.4L209.4 723.9L210.4 718.3L211.4 719.0L212.4 720.8L213.4 723.3L214.4 718.6L215.4 720.1L216.4 722.9L217.4 726.8L218.4 722.9L219.4 722.5L220.4 730.9L221.4 719.9L222.4 720.8L223.4 724.9L224.4 720.1L225.4 723.9L226.4 716.0L227.4 724.3L228.4 724.0L229.4 722.5L230.4 724.2L231.4 726.4L232.4 719.9L233.4 721.1L234.4 719.0L235.4 723.9L236.4 721.8L237.4 722.0L238.4 720.3L239.4 723.7L240.4 724.8L241.4 724.0L242.4 720.1L243.4 725.2L244.4 723.7L245.4 716.6L246.4 724.3L247.4 717.5L248.4 719.7L249.4 725.2L250.4 724.2L251.4 721.0L252.4 720.6L253.4 723.9L254.4 724.1L255.4 724.6L256.4 723.0L257.4 725.8L258.4 723.8L259.4 721.6L260.4 725.1L261.4 723.9L262.4 721.4L263.4 716.0L264.4 722.8L265.4 725.6L266.4 727.4L267.4 725.3L268.4 722.3L269.4 728.8L270.4 726.6L271.4 727.9L272.4 726.6L273.4 726.0L274.4 724.5L275.4 720.1L276.4 722.3L277.4 724.1L278.4 724.2L279.4 724.4L280.4 723.9L281.4 726.3L282.4 722.9L283.4 721.3L284.4 726.6L285.4 723.7L286.4 727.1L287.4 723.0L288.4 728.3L289.4 721.9L290.4 722.1L291.4 727.0L292.4 730.0L293.4 723.8L294.4 724.9L295.4 730.2L296.4 728.6L297.4 726.2L298.4 721.4L299.4 722.9L300.4 724.9L301.4 728.2L302.4 726.6L303.4 725.6L304.4 727.7L305.4 723.7L306.4 729.2L307.4 726.1L308.4 732.0L309.4 729.3L310.4 727.1L311.4 727.6L312.4 724.8L313.4 729.1L314.4 726.1L315.4 728.3L316.4 731.6L317.4 729.7L318.4 730.3L319.4 736.0L320.4 731.3L321.4 732.5L322.4 729.1L323.4 726.6L324.4 730.1L325.4 726.5L326.4 721.8L327.4 730.9L328.4 730.4L329.4 727.1L330.4 733.4L331.4 730.2L332.4 729.4L333.4 728.4L334.4 733.8L335.4 729.9L336.4 729.7L337.4 729.8L338.4 729.0L339.4 726.6L340.4 728.9L341.4 728.4L342.4 732.3L343.4 727.3L344.4 732.5L345.4 729.7L346.4 729.2L347.4 731.0L348.4 731.7L349.4 737.3L350.4 733.3L351.4 732.5L352.4 733.0L353.4 730.6L354.4 736.6L355.4 732.4L356.4 726.8L357.4 733.2L358.4 737.0L359.4 735.6L360.4 732.8L361.4 726.9L362.4 734.4L363.4 732.6L364.4 728.9L365.4 737.5L366.4 732.6L367.4 736.3L368.4 730.0L369.4 732.1L370.4 731.2L371.4 735.3L372.4 732.7L373.4 732.8L374.4 725.6L375.4 734.9L376.4 737.0L377.4 733.1L378.4 736.1L379.4 734.5L380.4 733.0L381.4 735.3L382.4 737.7L383.4 727.6L384.4 735.8L385.4 738.4L386.4 727.8L387.4 736.0L388.4 736.6L389.4 735.5L390.4 734.9L391.4 737.6L392.4 737.1L393.4 734.8L394.4 736.0L395.4 732.2L396.4 734.3L397.4 735.3L398.4 735.0L399.4 733.6L400.4 738.5L401.4 736.2L402.4 737.2L403.4 732.0L404.4 730.9L405.4 733.5L406.4 734.8L407.4 739.5L408.4 741.6L409.4 735.6L410.4 736.0L411.4 734.4L412.4 733.4L413.4 736.9L414.4 733.6L415.4 732.1L416.4 736.4L417.4 734.4L418.4 735.6L419.4 735.6L420.4 737.1L421.4 736.1L422.4 732.5L423.4 734.0L424.4 733.9L425.4 735.1L426.4 734.6L427.4 735.2L428.4 734.8L429.4 739.2L430.4 733.2L431.4 734.9L432.4 728.0L433.4 737.2L434.4 732.2L435.4 731.2L436.4 737.5L437.4 736.7L438.4 735.5L439.4 733.3L440.4 738.4L441.4 736.5L442.4 734.0L443.4 734.4L444.4 734.0L445.4 739.1L446.4 735.3L447.4 733.2L448.4 734.3L449.4 738.5L450.4 737.4L451.4 734.3L452.4 733.2L453.4 734.7L454.4 736.9L455.4 735.4L456.4 735.2L457.4 736.8L458.4 735.5L459.4 734.5L460.4 734.0L461.4 735.2L462.4 735.8L463.4 738.0L464.4 737.5L465.4 735.1L466.4 733.8L467.4 733.8L468.4 738.6L469.4 733.6L470.4 735.4L471.4 738.2L472.4 738.4L473.4 734.7L474.4 737.1L475.4 734.6L476.4 736.9L477.4 738.4L478.4 736.1L479.4 735.5L480.4 738.1L481.4 738.4L482.4 735.4L483.4 736.2L484.4 736.9L485.4 738.0L486.4 737.4L487.4 734.7L488.4 733.7L489.4 733.0L490.4 740.4L491.4 738.4L492.4 739.3L493.4 736.0L494.4 740.8L495.4 737.5L496.4 736.9L497.4 735.2L498.4 733.3L499.4 737.8L500.4 736.6L501.4 736.5L502.4 733.8L503.4 732.6L504.4 734.5L505.4 738.7L506.4 740.7L507.4 735.1L508.4 735.4L509.4 732.5L510.4 733.4L511.4 735.9L512.4 733.5L513.4 735.2L514.4 737.6L515.4 734.7L516.4 732.7L517.4 738.5L518.4 736.3L519.4 735.3L520.4 735.3L521.4 733.6L522.4 732.9L523.4 724.9L524.4 694.9L525.4 607.4L526.4 448.5L527.4 293.9L527.5 283.9L528.0 261.4L528.4 275.9L528.5 283.9L529.4 413.4L530.4 581.6L531.4 683.6L532.4 722.6L533.4 732.7L534.4 735.3L535.4 732.7L536.4 737.9L537.4 735.8L538.4 737.0L539.4 735.8L540.4 740.1L541.4 733.8L542.4 740.8L543.4 737.1L544.4 739.2L545.4 735.5L546.4 739.0L547.4 740.2L548.4 736.6L549.4 733.7L550.4 740.0L551.4 738.4L552.4 738.7L553.4 740.9L554.4 740.4L555.4 738.0L556.4 739.3L557.4 737.5L558.4 739.9L559.4 739.1L560.4 740.2L561.4 738.2L562.4 739.8L563.4 740.1L564.4 740.5L565.4 739.6L566.4 735.7L567.4 740.2L568.4 737.1L569.4 741.0L570.4 739.1L571.4 739.1L572.4 738.0L573.4 742.4L574.4 737.9L575.4 745.4L576.4 742.2L577.4 745.0L578.4 741.8L579.4 739.3L580.4 737.9L581.4 738.4L582.4 737.2L583.4 742.4L584.4 740.6L585.4 737.9L586.4 741.2L587.4 740.0L588.4 741.7L589.4 740.6L590.4 738.2L591.4 740.7L592.4 742.3L593.4 741.0L594.4 741.0L595.4 738.4L596.4 739.4L597.4 740.4L598.4 741.6L599.4 739.1L600.4 739.5L601.4 744.2L602.4 738.7L603.4 740.1L604.4 738.9L605.4 740.6L606.4 742.0L607.4 741.9L608.4 741.0L609.4 742.4L610.4 740.0L611.4 741.1L612.4 738.1L613.4 741.7L614.4 738.8L615.4 742.3L616.4 738.2L617.4 737.8L618.4 740.8L619.4 740.8L620.4 740.1L621.4 743.2L622.4 741.2L623.4 738.6L624.4 739.9L625.4 743.3L626.4 739.7L627.4 744.8L628.4 740.9L629.4 738.3L630.4 743.2L631.4 739.9L632.4 734.8L633.4 741.5L634.4 739.2L635.4 741.9L636.4 743.0L637.4 743.2L638.4 741.3L639.4 738.8L640.4 743.9L641.4 741.7L642.4 741.6L643.4 738.9L644.4 740.6L645.4 742.2L646.4 741.6L647.4 746.6L648.4 740.0L649.4 735.1L650.4 742.1L651.4 741.2L652.4 743.5L653.4 744.0L654.4 741.4L655.4 741.0L656.4 744.1L657.4 743.4L658.4 740.2L659.4 745.3L660.4 742.5L661.4 741.9L662.4 739.8L663.4 741.6L664.4 743.2L665.4 742.8L666.4 744.7L667.4 743.9L668.4 740.3L669.4 741.7L670.4 741.4L671.4 740.6L672.4 740.6L673.4 740.3L674.4 740.3L675.4 742.0L676.4 742.9L677.4 744.6L678.4 741.1L679.4 741.8L680.4 737.2L681.4 742.6L682.4 743.4L683.4 742.1L684.4 743.1L685.4 737.9L686.4 737.7L687.4 740.6L688.4 741.2L689.4 739.9L690.4 745.5L691.4 744.9L692.4 743.5L693.4 743.0L694.4 745.8L695.4 743.9L696.4 741.5L697.4 742.8L698.4 743.2L699.4 743.2L700.4 743.4L701.4 740.0L702.4 741.9L703.4 740.0L704.4 744.4L705.4 743.3L706.4 741.8L707.4 751.5L708.4 749.4L709.4 742.8L710.4 745.1L711.4 742.5L712.4 745.4L713.4 745.2L714.4 743.0L715.4 744.9L716.4 743.9L717.4 745.3L718.4 741.1L719.4 743.5L720.4 743.6L721.4 742.0L722.4 740.8L723.4 738.4L724.4 732.7L725.4 720.1L726.4 691.3L727.4 652.6L728.1 630.2L728.4 626.2L728.6 624.2L729.1 630.6L729.4 638.5L730.4 676.8L731.4 710.8L732.4 729.5L733.4 737.4L734.4 740.0L735.4 740.6L736.4 740.1L737.4 743.4L738.4 739.3L739.4 745.0L740.4 743.9L741.4 738.5L742.4 746.2L743.4 740.8L744.4 742.4L745.4 745.2L746.4 743.5L747.4 745.2L748.4 743.7L749.4 742.0L750.4 744.8L751.4 744.4L752.4 745.0L753.4 745.1L754.4 747.9L755.4 742.6L756.4 743.3L757.4 747.0L758.4 742.8L759.4 744.5L760.4 746.2L761.4 745.0L762.4 745.2L763.4 744.4L764.4 741.4L765.4 746.1L766.4 746.4L767.4 745.6L768.4 744.0L769.4 745.0L770.4 745.9L771.4 743.8L772.4 743.5L773.4 742.4L774.4 745.1L775.4 742.0L776.4 743.4L777.4 746.7L778.4 740.7L779.4 743.0L780.4 746.2L781.4 744.2L782.4 746.9L783.4 742.8L784.4 743.4L785.4 747.3L786.4 743.6L787.4 745.6L788.4 745.1L789.4 748.1L790.4 743.6L791.4 745.8L792.4 749.9L793.4 748.0L794.4 746.0L795.4 747.2L796.4 744.5L797.4 749.2L798.4 746.5L799.4 746.9L800.4 748.7L801.4 745.9L802.4 745.4L803.4 746.8L804.4 748.0L805.4 743.2L806.4 742.9L807.4 747.4L808.4 746.1L809.4 751.3L810.4 750.3L811.4 746.3L812.4 746.4L813.4 748.7L814.4 744.8L815.4 746.4L816.4 745.6L817.4 746.1L818.4 746.0L819.4 739.7L820.4 744.5L821.4 744.3L822.4 743.2L823.4 746.6L824.4 744.9L825.4 744.2L826.4 743.6L827.4 745.7L828.4 744.5L829.4 747.2L830.4 748.1L831.4 745.3L832.4 744.6L833.4 745.0L834.4 746.9L835.4 744.2L836.4 746.5L837.4 744.2L838.4 741.0L839.4 748.2L840.4 746.7L841.4 744.6L842.4 745.3L843.4 745.3L844.4 748.1L845.4 740.2L846.4 745.8L847.4 745.0L848.4 744.4L849.4 746.5L850.4 746.6L851.4 744.9L852.4 750.3L853.4 740.9L854.4 748.8L855.4 744.1L856.4 744.7L857.4 747.3L858.4 747.8L859.4 748.5L860.4 743.4L861.4 749.7L862.4 744.0L863.4 746.4L864.4 748.1L865.4 745.9L866.4 745.7L867.4 747.5L868.4 746.1L869.4 744.1L870.4 748.3L871.4 748.4L872.4 747.5L873.4 747.2L874.4 748.6L875.4 748.4L876.4 748.8L877.4 747.3L878.4 739.1L879.4 747.8L880.4 747.6L881.4 748.0L882.4 749.1L883.4 743.9L884.4 741.1L885.4 748.3L886.4 747.8L887.4 746.6L888.4 744.4L889.4 749.9L890.4 746.2L891.4 751.0L892.4 748.0L893.4 749.8L894.4 743.5L895.4 749.7L896.4 747.8" stroke="#27a4de" stroke-width="4.1" fill="none" stroke-linejoin="round" stroke-linecap="round"/>
<path d="M70.8 783.1L71.8 786.5L72.8 790.4L73.8 784.9L74.8 786.7L75.8 784.4L76.8 781.7L77.8 784.8L78.8 786.1L79.8 779.5L80.8 779.8L81.8 778.3L82.8 782.5L83.8 780.1L84.8 782.7L85.8 780.9L86.8 780.2L87.8 785.1L88.8 780.9L89.8 778.9L90.8 776.1L91.8 781.0L92.8 779.9L93.8 774.2L94.8 776.1L95.8 773.5L96.8 771.7L97.8 774.9L98.8 778.9L99.8 770.9L100.8 775.9L101.8 779.0L102.8 772.2L103.8 772.2L104.8 773.5L105.8 773.9L106.8 773.3L107.8 768.3L108.8 770.1L109.8 772.2L110.8 771.0L111.8 774.6L112.8 770.8L113.8 770.6L114.8 776.0L115.8 770.9L116.8 768.4L117.8 770.6L118.8 769.7L119.8 771.8L120.8 770.8L121.8 768.6L122.8 768.2L123.8 767.5L124.8 771.9L125.8 773.3L126.8 767.8L127.8 769.1L128.8 768.4L129.8 766.1L130.8 765.9L131.8 766.0L132.8 762.4L133.8 765.4L134.8 768.6L135.8 769.8L136.8 766.9L137.8 766.3L138.8 768.6L139.8 771.8L140.8 763.8L141.8 768.9L142.8 764.4L143.8 766.7L144.8 763.1L145.8 760.4L146.8 763.6L147.8 767.1L148.8 765.1L149.8 765.0L150.8 768.3L151.8 763.2L152.8 764.1L153.8 773.6L154.8 767.3L155.8 765.5L156.8 759.1L157.8 766.2L158.8 765.1L159.8 763.3L160.8 759.2L161.8 766.2L162.8 768.5L163.8 765.3L164.8 767.4L165.8 768.6L166.8 764.7L167.8 762.6L168.8 761.4L169.8 763.2L170.8 761.5L171.8 761.6L172.8 761.2L173.8 761.9L174.8 761.9L175.8 762.8L176.8 759.1L177.8 762.9L178.8 757.5L179.8 767.4L180.8 762.1L181.8 761.6L182.8 760.9L183.8 764.4L184.8 762.7L185.8 765.2L186.8 760.2L187.8 762.2L188.8 765.9L189.8 763.2L190.8 761.2L191.8 762.8L192.8 761.4L193.8 758.3L194.8 757.5L195.8 758.6L196.8 760.8L197.8 757.4L198.8 761.7L199.8 755.4L200.8 758.6L201.8 756.8L202.8 760.0L203.8 759.7L204.8 759.1L205.8 756.5L206.8 757.6L207.8 758.2L208.8 762.3L209.8 758.0L210.8 760.7L211.8 761.5L212.8 751.6L213.8 757.4L214.8 753.0L215.8 762.1L216.8 760.4L217.8 756.4L218.8 759.9L219.8 761.3L220.8 760.5L221.8 758.7L222.8 760.5L223.8 758.2L224.8 758.8L225.8 765.8L226.8 758.5L227.8 758.1L228.8 760.3L229.8 760.7L230.8 762.0L231.8 758.3L232.8 757.6L233.8 757.8L234.8 762.1L235.8 762.9L236.8 758.3L237.8 759.0L238.8 760.3L239.8 762.8L240.8 759.6L241.8 763.4L242.8 758.0L243.8 762.0L244.8 764.0L245.8 758.2L246.8 763.5L247.8 760.6L248.8 759.0L249.8 762.4L250.8 760.2L251.8 756.3L252.8 758.5L253.8 757.9L254.8 758.8L255.8 759.7L256.8 762.5L257.8 760.3L258.8 761.9L259.8 760.5L260.8 762.9L261.8 761.7L262.8 765.3L263.8 762.8L264.8 757.9L265.8 761.8L266.8 761.0L267.8 764.5L268.8 762.2L269.8 764.4L270.8 764.1L271.8 760.6L272.8 761.5L273.8 768.1L274.8 759.7L275.8 771.2L276.8 764.1L277.8 759.9L278.8 759.7L279.8 763.7L280.8 762.4L281.8 759.2L282.8 758.6L283.8 757.8L284.8 761.2L285.8 766.9L286.8 762.0L287.8 765.3L288.8 758.2L289.8 764.6L290.8 761.4L291.8 761.4L292.8 766.3L293.8 759.1L294.8 763.8L295.8 763.0L296.8 766.9L297.8 760.1L298.8 764.7L299.8 765.1L300.8 764.1L301.8 764.7L302.8 764.3L303.8 761.2L304.8 763.6L305.8 760.0L306.8 767.2L307.8 767.0L308.8 760.8L309.8 767.2L310.8 763.6L311.8 760.2L312.8 762.3L313.8 765.8L314.8 758.3L315.8 762.2L316.8 766.9L317.8 764.9L318.8 764.5L319.8 762.8L320.8 767.4L321.8 768.3L322.8 763.6L323.8 762.2L324.8 765.6L325.8 766.7L326.8 763.6L327.8 771.4L328.8 767.0L329.8 768.5L330.8 765.3L331.8 771.3L332.8 767.0L333.8 761.3L334.8 768.3L335.8 765.7L336.8 763.3L337.8 765.9L338.8 763.9L339.8 768.0L340.8 764.7L341.8 762.9L342.8 768.2L343.8 769.2L344.8 760.4L345.8 770.0L346.8 768.3L347.8 768.7L348.8 770.2L349.8 766.4L350.8 764.3L351.8 767.4L352.8 766.1L353.8 767.8L354.8 760.9L355.8 765.8L356.8 776.7L357.8 768.1L358.8 776.0L359.8 768.0L360.8 766.2L361.8 769.2L362.8 769.0L363.8 766.3L364.8 766.9L365.8 769.3L366.8 765.8L367.8 765.8L368.8 771.0L369.8 771.0L370.8 767.6L371.8 772.0L372.8 770.2L373.8 769.1L374.8 766.9L375.8 770.2L376.8 767.0L377.8 774.1L378.8 766.7L379.8 771.1L380.8 768.2L381.8 767.7L382.8 765.0L383.8 774.1L384.8 770.7L385.8 769.0L386.8 769.0L387.8 769.6L388.8 768.2L389.8 767.3L390.8 774.0L391.8 771.6L392.8 771.9L393.8 770.4L394.8 771.5L395.8 770.5L396.8 769.6L397.8 768.6L398.8 766.5L399.8 767.1L400.8 768.7L401.8 766.6L402.8 769.7L403.8 766.6L404.8 770.9L405.8 765.5L406.8 770.0L407.8 778.0L408.8 771.5L409.8 768.0L410.8 772.7L411.8 769.4L412.8 770.2L413.8 769.2L414.8 764.9L415.8 770.7L416.8 770.3L417.8 771.0L418.8 766.5L419.8 770.9L420.8 767.2L421.8 765.8L422.8 766.1L423.8 769.1L424.8 767.4L425.8 772.2L426.8 770.3L427.8 771.3L428.8 768.2L429.8 766.1L430.8 765.0L431.8 768.6L432.8 772.4L433.8 772.4L434.8 761.1L435.8 769.8L436.8 770.9L437.8 766.6L438.8 769.1L439.8 767.3L440.8 773.8L441.8 769.5L442.8 768.1L443.8 768.5L444.8 767.1L445.8 769.0L446.8 764.2L447.8 766.1L448.8 771.6L449.8 766.1L450.8 769.0L451.8 771.0L452.8 768.0L453.8 773.8L454.8 769.8L455.8 771.9L456.8 767.0L457.8 770.9L458.8 771.7L459.8 767.2L460.8 774.6L461.8 773.7L462.8 770.3L463.8 773.9L464.8 768.5L465.8 769.3L466.8 770.4L467.8 773.9L468.8 774.9L469.8 768.3L470.8 770.3L471.8 771.8L472.8 773.6L473.8 771.8L474.8 775.0L475.8 772.7L476.8 765.9L477.8 771.1L478.8 772.3L479.8 773.0L480.8 771.4L481.8 767.1L482.8 772.4L483.8 769.1L484.8 769.4L485.8 773.1L486.8 766.4L487.8 775.8L488.8 773.0L489.8 769.5L490.8 770.6L491.8 772.3L492.8 771.9L493.8 770.8L494.8 766.7L495.8 770.6L496.8 770.0L497.8 771.3L498.8 770.1L499.8 769.8L500.8 769.6L501.8 766.1L502.8 765.4L503.8 769.0L504.8 767.5L505.8 769.7L506.8 765.7L507.8 766.7L508.8 768.8L509.8 766.7L510.8 765.3L511.8 757.7L512.8 725.6L513.8 636.8L514.8 484.9L515.8 348.6L516.3 327.0L516.8 348.5L517.8 484.9L518.8 636.2L519.8 725.6L520.8 757.7L521.8 765.6L522.8 763.2L523.8 771.9L524.8 767.8L525.8 767.8L526.8 768.3L527.8 764.4L528.8 770.1L529.8 770.2L530.8 770.4L531.8 771.7L532.8 764.9L533.8 771.8L534.8 766.8L535.8 770.5L536.8 768.8L537.8 772.0L538.8 773.8L539.8 768.2L540.8 767.9L541.8 770.0L542.8 767.5L543.8 770.7L544.8 770.5L545.8 769.4L546.8 769.7L547.8 768.5L548.8 773.3L549.8 771.4L550.8 767.9L551.8 771.9L552.8 768.1L553.8 770.7L554.8 771.3L555.8 769.7L556.8 769.3L557.8 767.0L558.8 771.9L559.8 771.5L560.8 772.0L561.8 769.1L562.8 771.7L563.8 766.2L564.8 767.1L565.8 770.1L566.8 770.5L567.8 770.2L568.8 771.1L569.8 771.3L570.8 771.5L571.8 772.7L572.8 769.8L573.8 774.2L574.8 770.5L575.8 769.7L576.8 771.5L577.8 770.1L578.8 770.0L579.8 771.1L580.8 768.5L581.8 772.5L582.8 768.2L583.8 769.5L584.8 772.7L585.8 773.0L586.8 771.8L587.8 769.0L588.8 771.1L589.8 771.0L590.8 771.0L591.8 771.6L592.8 777.7L593.8 773.5L594.8 772.3L595.8 770.2L596.8 767.1L597.8 772.1L598.8 768.3L599.8 770.6L600.8 770.9L601.8 770.6L602.8 769.8L603.8 772.5L604.8 770.9L605.8 773.5L606.8 773.4L607.8 772.0L608.8 772.5L609.8 771.5L610.8 772.7L611.8 772.8L612.8 774.9L613.8 772.2L614.8 775.2L615.8 774.7L616.8 774.2L617.8 771.5L618.8 771.8L619.8 773.4L620.8 773.5L621.8 770.9L622.8 776.1L623.8 769.5L624.8 772.7L625.8 773.9L626.8 771.6L627.8 769.4L628.8 773.1L629.8 772.2L630.8 773.7L631.8 774.2L632.8 771.1L633.8 772.6L634.8 775.6L635.8 771.7L636.8 773.9L637.8 774.3L638.8 774.8L639.8 774.7L640.8 779.0L641.8 777.4L642.8 773.3L643.8 774.0L644.8 776.7L645.8 775.9L646.8 776.7L647.8 776.3L648.8 773.5L649.8 772.7L650.8 772.1L651.8 773.1L652.8 774.8L653.8 772.8L654.8 777.1L655.8 770.4L656.8 772.7L657.8 775.0L658.8 776.6L659.8 771.7L660.8 774.1L661.8 775.1L662.8 770.5L663.8 775.7L664.8 774.7L665.8 773.7L666.8 776.2L667.8 774.5L668.8 773.0L669.8 776.6L670.8 772.9L671.8 779.1L672.8 769.4L673.8 775.2L674.8 778.2L675.8 774.0L676.8 773.8L677.8 775.4L678.8 772.1L679.8 773.4L680.8 770.0L681.8 774.6L682.8 773.7L683.8 774.1L684.8 774.2L685.8 770.6L686.8 773.2L687.8 773.9L688.8 774.1L689.8 778.2L690.8 775.2L691.8 776.0L692.8 772.7L693.8 774.9L694.8 776.6L695.8 772.5L696.8 767.7L697.8 770.6L698.8 770.9L699.8 776.2L700.8 765.9L701.8 772.8L702.8 774.3L703.8 773.1L704.8 773.1L705.8 772.3L706.8 774.0L707.8 769.3L708.8 770.6L709.8 771.3L710.8 769.3L711.8 765.8L712.8 755.5L713.8 733.2L714.8 698.1L715.7 671.4L715.8 669.1L716.2 666.5L716.7 671.6L716.8 673.5L717.8 706.4L718.8 738.9L719.8 759.1L720.8 767.1L721.8 770.7L722.8 772.0L723.8 772.3L724.8 773.5L725.8 766.9L726.8 772.6L727.8 771.6L728.8 771.4L729.8 775.9L730.8 773.5L731.8 775.9L732.8 778.9L733.8 777.7L734.8 774.5L735.8 775.0L736.8 774.1L737.8 775.0L738.8 777.7L739.8 777.2L740.8 773.1L741.8 771.4L742.8 775.7L743.8 769.7L744.8 774.9L745.8 769.9L746.8 774.8L747.8 774.5L748.8 773.3L749.8 772.1L750.8 775.2L751.8 779.2L752.8 774.6L753.8 778.7L754.8 774.1L755.8 773.8L756.8 777.5L757.8 780.7L758.8 774.2L759.8 775.0L760.8 774.5L761.8 775.8L762.8 776.6L763.8 773.6L764.8 774.2L765.8 772.8L766.8 774.7L767.8 773.8L768.8 775.0L769.8 773.9L770.8 774.7L771.8 771.5L772.8 773.5L773.8 774.1L774.8 775.3L775.8 773.2L776.8 774.4L777.8 777.3L778.8 776.4L779.8 774.5L780.8 775.5L781.8 774.8L782.8 775.6L783.8 774.5L784.8 773.1L785.8 774.8L786.8 771.8L787.8 775.6L788.8 776.2L789.8 776.0L790.8 772.0L791.8 774.1L792.8 775.8L793.8 774.5L794.8 774.4L795.8 774.0L796.8 775.1L797.8 773.5L798.8 771.1L799.8 774.9L800.8 778.8L801.8 776.8L802.8 777.1L803.8 779.9L804.8 775.3L805.8 775.1L806.8 776.2L807.8 777.7L808.8 779.9L809.8 778.4L810.8 776.1L811.8 778.7L812.8 776.5L813.8 776.4L814.8 775.6L815.8 774.4L816.8 775.8L817.8 774.5L818.8 772.7L819.8 775.0L820.8 778.8L821.8 775.9L822.8 773.8L823.8 776.5L824.8 780.5L825.8 776.0L826.8 780.7L827.8 777.3L828.8 772.7L829.8 777.1L830.8 780.4L831.8 777.6L832.8 774.7L833.8 777.5L834.8 779.1L835.8 773.8L836.8 776.7L837.8 776.8L838.8 777.9L839.8 775.1L840.8 774.1L841.8 776.8L842.8 776.3L843.8 775.7L844.8 775.1L845.8 777.6L846.8 775.4L847.8 780.5L848.8 776.0L849.8 779.1L850.8 778.8L851.8 777.9L852.8 777.0L853.8 779.4L854.8 777.7L855.8 776.0L856.8 777.8L857.8 778.4L858.8 774.5L859.8 779.6L860.8 774.1L861.8 777.9L862.8 777.3L863.8 774.4L864.8 774.2L865.8 775.7L866.8 778.2L867.8 776.3L868.8 777.8L869.8 777.9L870.8 779.1L871.8 775.4L872.8 780.0L873.8 773.3L874.8 775.1L875.8 776.3L876.8 774.2L877.8 774.1L878.8 777.9L879.8 774.2L880.8 776.1L881.8 779.3L882.8 780.2L883.8 777.7" stroke="#7a3f96" stroke-width="4.1" fill="none" stroke-linejoin="round" stroke-linecap="round"/>
<path d="M56.0 820.5L57.0 821.6L58.0 817.1L59.0 816.4L60.0 812.0L61.0 816.7L62.0 813.0L63.0 816.7L64.0 815.0L65.0 815.2L66.0 815.6L67.0 815.9L68.0 813.3L69.0 816.9L70.0 814.8L71.0 816.3L72.0 816.4L73.0 816.1L74.0 813.8L75.0 810.1L76.0 811.6L77.0 816.0L78.0 816.4L79.0 816.9L80.0 806.7L81.0 811.6L82.0 815.7L83.0 815.4L84.0 813.4L85.0 813.2L86.0 810.1L87.0 812.5L88.0 815.8L89.0 810.7L90.0 811.4L91.0 812.0L92.0 808.5L93.0 807.9L94.0 810.5L95.0 810.1L96.0 810.4L97.0 809.9L98.0 810.6L99.0 808.2L100.0 814.1L101.0 809.7L102.0 813.6L103.0 813.7L104.0 810.9L105.0 808.0L106.0 805.9L107.0 811.9L108.0 809.7L109.0 810.4L110.0 808.0L111.0 804.9L112.0 814.9L113.0 809.3L114.0 805.8L115.0 809.7L116.0 806.1L117.0 802.8L118.0 808.4L119.0 806.3L120.0 808.1L121.0 811.9L122.0 813.1L123.0 805.9L124.0 811.2L125.0 802.7L126.0 804.6L127.0 810.0L128.0 810.1L129.0 806.0L130.0 805.0L131.0 807.3L132.0 807.3L133.0 806.9L134.0 805.4L135.0 803.5L136.0 804.6L137.0 805.0L138.0 804.8L139.0 804.0L140.0 805.0L141.0 801.2L142.0 807.1L143.0 808.1L144.0 803.8L145.0 802.1L146.0 805.9L147.0 806.2L148.0 808.9L149.0 806.6L150.0 802.9L151.0 801.3L152.0 806.9L153.0 802.2L154.0 802.3L155.0 798.1L156.0 802.3L157.0 801.8L158.0 803.2L159.0 804.7L160.0 803.6L161.0 800.5L162.0 805.2L163.0 803.5L164.0 803.7L165.0 802.0L166.0 802.1L167.0 798.5L168.0 797.9L169.0 799.7L170.0 799.5L171.0 801.5L172.0 793.7L173.0 799.8L174.0 799.2L175.0 803.4L176.0 799.6L177.0 799.6L178.0 800.9L179.0 801.7L180.0 796.3L181.0 797.9L182.0 807.5L183.0 801.3L184.0 800.5L185.0 803.7L186.0 796.8L187.0 800.4L188.0 799.0L189.0 800.8L190.0 798.6L191.0 800.8L192.0 806.1L193.0 801.8L194.0 801.1L195.0 804.3L196.0 802.4L197.0 805.9L198.0 799.4L199.0 793.3L200.0 796.8L201.0 799.2L202.0 796.9L203.0 804.4L204.0 801.2L205.0 802.1L206.0 801.3L207.0 801.0L208.0 800.4L209.0 797.6L210.0 804.3L211.0 800.0L212.0 804.6L213.0 802.1L214.0 797.5L215.0 799.6L216.0 799.6L217.0 799.3L218.0 799.4L219.0 800.6L220.0 799.5L221.0 799.2L222.0 801.1L223.0 801.0L224.0 799.8L225.0 801.9L226.0 800.1L227.0 802.0L228.0 801.1L229.0 803.7L230.0 797.0L231.0 804.8L232.0 800.0L233.0 803.6L234.0 799.7L235.0 800.7L236.0 806.8L237.0 800.4L238.0 800.2L239.0 800.9L240.0 804.5L241.0 797.1L242.0 800.6L243.0 803.7L244.0 799.6L245.0 803.5L246.0 794.9L247.0 796.7L248.0 798.5L249.0 797.5L250.0 797.7L251.0 800.5L252.0 796.6L253.0 799.8L254.0 799.9L255.0 799.1L256.0 804.6L257.0 799.3L258.0 805.1L259.0 799.2L260.0 801.9L261.0 805.9L262.0 799.2L263.0 802.6L264.0 803.8L265.0 802.4L266.0 800.7L267.0 803.4L268.0 801.6L269.0 800.5L270.0 792.7L271.0 798.5L272.0 800.6L273.0 795.9L274.0 791.6L275.0 796.5L276.0 798.2L277.0 795.2L278.0 798.4L279.0 800.7L280.0 798.3L281.0 799.5L282.0 807.5L283.0 800.9L284.0 798.5L285.0 801.8L286.0 802.0L287.0 800.6L288.0 800.1L289.0 798.5L290.0 806.5L291.0 798.3L292.0 801.0L293.0 802.2L294.0 808.1L295.0 800.8L296.0 802.5L297.0 805.5L298.0 802.9L299.0 798.0L300.0 805.0L301.0 803.0L302.0 803.9L303.0 801.9L304.0 797.7L305.0 800.0L306.0 801.4L307.0 805.1L308.0 801.7L309.0 804.2L310.0 802.1L311.0 800.3L312.0 801.2L313.0 799.3L314.0 803.9L315.0 800.6L316.0 802.8L317.0 803.0L318.0 804.5L319.0 805.7L320.0 799.9L321.0 801.0L322.0 798.6L323.0 806.8L324.0 802.8L325.0 799.0L326.0 807.0L327.0 801.6L328.0 802.3L329.0 802.7L330.0 803.9L331.0 794.2L332.0 802.4L333.0 804.8L334.0 804.1L335.0 803.0L336.0 801.9L337.0 799.7L338.0 796.1L339.0 798.9L340.0 803.9L341.0 803.5L342.0 801.8L343.0 803.7L344.0 807.7L345.0 809.0L346.0 802.7L347.0 810.5L348.0 804.3L349.0 802.7L350.0 807.3L351.0 802.8L352.0 804.7L353.0 805.5L354.0 808.3L355.0 803.6L356.0 806.9L357.0 801.9L358.0 804.9L359.0 808.7L360.0 805.8L361.0 809.7L362.0 804.7L363.0 804.6L364.0 804.2L365.0 804.3L366.0 806.0L367.0 805.3L368.0 807.3L369.0 803.5L370.0 805.8L371.0 805.1L372.0 808.0L373.0 804.4L374.0 803.9L375.0 803.0L376.0 803.3L377.0 800.4L378.0 801.7L379.0 804.1L380.0 805.7L381.0 805.8L382.0 804.1L383.0 802.8L384.0 805.0L385.0 804.1L386.0 807.8L387.0 802.5L388.0 802.3L389.0 804.1L390.0 800.9L391.0 800.1L392.0 804.4L393.0 801.3L394.0 800.0L395.0 804.3L396.0 806.2L397.0 802.9L398.0 804.0L399.0 804.1L400.0 806.2L401.0 807.3L402.0 804.1L403.0 811.3L404.0 799.7L405.0 801.9L406.0 807.2L407.0 806.5L408.0 800.9L409.0 804.9L410.0 801.6L411.0 804.6L412.0 806.9L413.0 806.5L414.0 802.1L415.0 802.5L416.0 807.9L417.0 805.3L418.0 803.5L419.0 804.1L420.0 801.1L421.0 799.2L422.0 799.5L423.0 803.5L424.0 800.5L425.0 804.0L426.0 804.6L427.0 803.5L428.0 801.4L429.0 802.3L430.0 802.2L431.0 804.6L432.0 807.2L433.0 805.2L434.0 809.0L435.0 805.5L436.0 803.3L437.0 801.2L438.0 802.4L439.0 801.1L440.0 805.3L441.0 804.1L442.0 808.5L443.0 806.0L444.0 806.2L445.0 802.7L446.0 803.2L447.0 805.8L448.0 804.9L449.0 802.9L450.0 803.5L451.0 805.0L452.0 806.1L453.0 805.4L454.0 803.9L455.0 804.0L456.0 806.0L457.0 805.0L458.0 802.1L459.0 803.6L460.0 806.8L461.0 809.0L462.0 807.7L463.0 804.4L464.0 803.5L465.0 810.2L466.0 806.2L467.0 809.7L468.0 805.7L469.0 806.6L470.0 811.5L471.0 805.8L472.0 808.8L473.0 804.6L474.0 804.8L475.0 806.3L476.0 805.5L477.0 805.0L478.0 805.7L479.0 803.5L480.0 805.3L481.0 803.9L482.0 807.8L483.0 803.4L484.0 804.4L485.0 805.9L486.0 802.5L487.0 803.7L488.0 801.1L489.0 801.1L490.0 800.9L491.0 801.0L492.0 805.9L493.0 797.3L494.0 802.2L495.0 802.4L496.0 799.1L497.0 785.5L498.0 740.2L499.0 639.0L500.0 510.8L500.5 463.4L501.0 445.5L501.5 462.4L502.0 510.0L503.0 639.1L504.0 739.5L505.0 785.6L506.0 798.4L507.0 801.8L508.0 800.8L509.0 802.8L510.0 803.8L511.0 802.7L512.0 805.3L513.0 803.6L514.0 805.9L515.0 804.2L516.0 806.9L517.0 807.0L518.0 803.8L519.0 798.7L520.0 802.1L521.0 803.2L522.0 800.9L523.0 802.2L524.0 805.6L525.0 802.0L526.0 802.9L527.0 805.5L528.0 800.8L529.0 801.0L530.0 803.2L531.0 800.8L532.0 803.4L533.0 804.6L534.0 804.5L535.0 803.1L536.0 802.8L537.0 804.6L538.0 804.0L539.0 799.9L540.0 806.9L541.0 800.9L542.0 805.7L543.0 802.7L544.0 805.2L545.0 803.6L546.0 803.4L547.0 803.4L548.0 805.9L549.0 808.0L550.0 805.9L551.0 801.6L552.0 802.7L553.0 802.5L554.0 803.3L555.0 805.6L556.0 805.7L557.0 803.2L558.0 800.7L559.0 803.3L560.0 801.7L561.0 802.5L562.0 804.5L563.0 804.6L564.0 807.1L565.0 801.9L566.0 801.0L567.0 800.3L568.0 806.2L569.0 801.2L570.0 803.6L571.0 802.6L572.0 801.5L573.0 804.1L574.0 801.2L575.0 804.8L576.0 800.6L577.0 802.2L578.0 802.4L579.0 803.1L580.0 805.5L581.0 805.9L582.0 806.5L583.0 806.7L584.0 798.3L585.0 804.9L586.0 807.7L587.0 807.7L588.0 807.0L589.0 804.9L590.0 801.6L591.0 805.4L592.0 804.4L593.0 807.6L594.0 806.1L595.0 805.9L596.0 806.8L597.0 806.8L598.0 804.3L599.0 802.6L600.0 803.6L601.0 803.0L602.0 804.1L603.0 805.3L604.0 804.2L605.0 804.4L606.0 803.0L607.0 806.1L608.0 805.3L609.0 806.9L610.0 807.7L611.0 806.7L612.0 805.4L613.0 803.1L614.0 809.3L615.0 804.0L616.0 807.2L617.0 807.3L618.0 807.1L619.0 806.5L620.0 804.7L621.0 805.4L622.0 807.7L623.0 804.2L624.0 809.6L625.0 804.2L626.0 806.9L627.0 807.6L628.0 803.4L629.0 804.0L630.0 800.3L631.0 806.7L632.0 807.3L633.0 810.7L634.0 798.0L635.0 805.9L636.0 808.5L637.0 802.9L638.0 803.5L639.0 806.8L640.0 803.6L641.0 806.2L642.0 803.5L643.0 804.4L644.0 802.1L645.0 804.3L646.0 806.1L647.0 806.1L648.0 808.1L649.0 807.5L650.0 805.8L651.0 808.4L652.0 808.6L653.0 806.3L654.0 807.2L655.0 807.8L656.0 801.7L657.0 805.8L658.0 807.4L659.0 807.3L660.0 804.8L661.0 806.7L662.0 807.5L663.0 806.0L664.0 804.0L665.0 810.6L666.0 809.7L667.0 809.9L668.0 808.6L669.0 806.8L670.0 802.1L671.0 808.8L672.0 809.4L673.0 803.9L674.0 806.3L675.0 805.3L676.0 808.1L677.0 803.0L678.0 808.0L679.0 806.2L680.0 802.9L681.0 802.6L682.0 806.4L683.0 807.9L684.0 804.1L685.0 804.8L686.0 804.6L687.0 806.8L688.0 805.0L689.0 803.9L690.0 803.4L691.0 803.1L692.0 805.4L693.0 805.8L694.0 803.1L695.0 803.3L696.0 801.1L697.0 796.5L698.0 783.5L699.0 759.1L700.0 727.4L700.5 716.7L701.0 711.9L701.5 716.3L702.0 728.0L703.0 758.7L704.0 783.7L705.0 796.6L706.0 801.5L707.0 803.7L708.0 804.7L709.0 803.8L710.0 805.1L711.0 805.4L712.0 807.1L713.0 810.7L714.0 806.2L715.0 808.6L716.0 803.1L717.0 803.8L718.0 804.2L719.0 805.5L720.0 805.2L721.0 807.8L722.0 805.4L723.0 805.6L724.0 807.5L725.0 804.1L726.0 806.1L727.0 808.0L728.0 805.7L729.0 809.9L730.0 807.8L731.0 806.6L732.0 807.1L733.0 807.9L734.0 802.2L735.0 807.5L736.0 804.8L737.0 809.2L738.0 803.7L739.0 806.4L740.0 808.6L741.0 810.3L742.0 806.6L743.0 806.8L744.0 806.6L745.0 804.9L746.0 804.7L747.0 804.1L748.0 806.3L749.0 807.5L750.0 800.9L751.0 807.3L752.0 807.0L753.0 804.1L754.0 808.0L755.0 805.3L756.0 808.1L757.0 807.7L758.0 806.7L759.0 806.7L760.0 805.1L761.0 803.3L762.0 807.0L763.0 804.3L764.0 808.2L765.0 807.6L766.0 803.1L767.0 803.6L768.0 807.2L769.0 805.9L770.0 804.9L771.0 804.3L772.0 805.1L773.0 805.2L774.0 803.5L775.0 805.0L776.0 804.3L777.0 805.6L778.0 804.3L779.0 807.9L780.0 806.2L781.0 804.3L782.0 804.2L783.0 811.7L784.0 808.2L785.0 806.6L786.0 803.3L787.0 805.0L788.0 805.8L789.0 804.3L790.0 806.6L791.0 806.9L792.0 806.7L793.0 808.1L794.0 806.1L795.0 805.4L796.0 804.1L797.0 807.2L798.0 802.7L799.0 808.9L800.0 807.3L801.0 806.3L802.0 803.7L803.0 804.9L804.0 803.0L805.0 803.7L806.0 805.4L807.0 804.1L808.0 803.7L809.0 805.4L810.0 804.6L811.0 805.5L812.0 806.3L813.0 804.7L814.0 806.1L815.0 808.2L816.0 808.8L817.0 805.8L818.0 807.0L819.0 805.4L820.0 806.9L821.0 803.0L822.0 806.5L823.0 809.6L824.0 804.9L825.0 807.4L826.0 805.8L827.0 809.3L828.0 806.0L829.0 810.4L830.0 807.9L831.0 809.2L832.0 807.4L833.0 805.4L834.0 805.9L835.0 806.3L836.0 809.5L837.0 808.0L838.0 810.4L839.0 807.8L840.0 808.3L841.0 802.7L842.0 806.5L843.0 807.5L844.0 806.5L845.0 808.7L846.0 804.4L847.0 807.0L848.0 811.7L849.0 805.4L850.0 806.5L851.0 806.9L852.0 808.9L853.0 808.6L854.0 809.3L855.0 808.2L856.0 804.7L857.0 805.5L858.0 803.5L859.0 807.0L860.0 809.0L861.0 806.4L862.0 807.0L863.0 807.2L864.0 805.4L865.0 808.3L866.0 805.5L867.0 806.8L868.0 803.4L869.0 808.7" stroke="#0f6a34" stroke-width="4.1" fill="none" stroke-linejoin="round" stroke-linecap="round"/>
<path d="M42.3 848.9L43.3 850.5L44.3 849.5L45.3 848.8L46.3 850.4L47.3 845.9L48.3 847.1L49.3 846.9L50.3 848.4L51.3 847.8L52.3 848.1L53.3 849.0L54.3 849.5L55.3 848.6L56.3 846.1L57.3 848.4L58.3 846.4L59.3 849.9L60.3 847.5L61.3 845.7L62.3 845.1L63.3 842.8L64.3 845.1L65.3 842.2L66.3 845.5L67.3 840.5L68.3 842.0L69.3 847.5L70.3 847.5L71.3 846.7L72.3 839.4L73.3 839.6L74.3 839.1L75.3 837.9L76.3 841.4L77.3 839.2L78.3 839.8L79.3 838.4L80.3 837.6L81.3 843.9L82.3 840.8L83.3 843.2L84.3 842.3L85.3 838.1L86.3 838.8L87.3 842.2L88.3 836.9L89.3 837.6L90.3 836.9L91.3 840.9L92.3 841.0L93.3 836.7L94.3 840.2L95.3 832.8L96.3 835.3L97.3 834.5L98.3 835.3L99.3 836.6L100.3 836.4L101.3 837.3L102.3 836.2L103.3 828.6L104.3 830.1L105.3 833.0L106.3 835.6L107.3 830.2L108.3 832.0L109.3 836.2L110.3 828.8L111.3 838.5L112.3 832.8L113.3 826.7L114.3 830.3L115.3 832.7L116.3 831.4L117.3 829.0L118.3 831.5L119.3 833.1L120.3 832.6L121.3 832.0L122.3 833.2L123.3 832.3L124.3 829.7L125.3 832.5L126.3 832.8L127.3 835.7L128.3 831.2L129.3 828.4L130.3 832.9L131.3 831.6L132.3 828.4L133.3 826.7L134.3 832.7L135.3 825.5L136.3 827.9L137.3 830.0L138.3 827.1L139.3 829.1L140.3 830.6L141.3 828.6L142.3 826.5L143.3 827.8L144.3 828.7L145.3 831.1L146.3 826.0L147.3 831.4L148.3 825.8L149.3 830.5L150.3 832.0L151.3 829.8L152.3 826.2L153.3 830.1L154.3 828.7L155.3 827.0L156.3 819.7L157.3 824.6L158.3 825.0L159.3 830.3L160.3 826.1L161.3 825.8L162.3 823.6L163.3 825.3L164.3 823.9L165.3 822.9L166.3 824.7L167.3 823.5L168.3 824.8L169.3 824.2L170.3 822.8L171.3 825.4L172.3 825.4L173.3 817.8L174.3 823.5L175.3 823.7L176.3 823.5L177.3 826.9L178.3 824.2L179.3 823.1L180.3 822.4L181.3 825.5L182.3 820.7L183.3 823.8L184.3 823.3L185.3 824.0L186.3 819.0L187.3 822.3L188.3 822.3L189.3 824.8L190.3 823.0L191.3 827.9L192.3 825.6L193.3 822.4L194.3 826.1L195.3 824.6L196.3 830.7L197.3 828.9L198.3 827.7L199.3 823.9L200.3 827.1L201.3 825.1L202.3 828.3L203.3 826.0L204.3 822.5L205.3 818.2L206.3 824.2L207.3 823.7L208.3 828.2L209.3 829.9L210.3 825.3L211.3 826.9L212.3 822.9L213.3 826.5L214.3 823.8L215.3 821.6L216.3 824.3L217.3 824.9L218.3 822.7L219.3 828.4L220.3 825.5L221.3 822.2L222.3 820.3L223.3 827.5L224.3 827.6L225.3 827.3L226.3 823.9L227.3 824.0L228.3 833.1L229.3 825.4L230.3 826.5L231.3 828.2L232.3 829.4L233.3 825.3L234.3 826.6L235.3 827.6L236.3 825.6L237.3 829.2L238.3 824.9L239.3 828.5L240.3 826.7L241.3 830.5L242.3 832.5L243.3 826.0L244.3 826.5L245.3 824.1L246.3 828.2L247.3 826.2L248.3 826.1L249.3 827.7L250.3 828.0L251.3 826.1L252.3 824.6L253.3 829.8L254.3 828.4L255.3 827.9L256.3 829.6L257.3 827.2L258.3 831.5L259.3 827.7L260.3 827.8L261.3 828.8L262.3 827.9L263.3 828.4L264.3 834.9L265.3 827.1L266.3 829.5L267.3 828.6L268.3 832.7L269.3 827.6L270.3 826.6L271.3 826.3L272.3 829.2L273.3 828.8L274.3 826.0L275.3 829.7L276.3 824.1L277.3 825.5L278.3 826.5L279.3 827.5L280.3 825.9L281.3 831.1L282.3 830.9L283.3 828.9L284.3 829.1L285.3 828.8L286.3 829.0L287.3 830.6L288.3 830.7L289.3 829.9L290.3 827.9L291.3 825.4L292.3 824.9L293.3 829.1L294.3 825.4L295.3 827.4L296.3 831.1L297.3 829.4L298.3 828.7L299.3 828.6L300.3 829.6L301.3 829.5L302.3 825.9L303.3 825.3L304.3 826.0L305.3 832.5L306.3 832.8L307.3 828.5L308.3 828.5L309.3 830.8L310.3 830.8L311.3 827.4L312.3 824.5L313.3 835.2L314.3 828.8L315.3 828.5L316.3 832.4L317.3 827.3L318.3 828.7L319.3 826.0L320.3 831.2L321.3 827.4L322.3 823.4L323.3 830.9L324.3 828.9L325.3 834.6L326.3 829.3L327.3 826.0L328.3 831.3L329.3 831.3L330.3 831.3L331.3 827.5L332.3 823.0L333.3 829.0L334.3 831.4L335.3 829.2L336.3 832.6L337.3 831.7L338.3 831.3L339.3 828.1L340.3 825.6L341.3 829.9L342.3 832.6L343.3 831.3L344.3 827.2L345.3 830.7L346.3 829.0L347.3 834.6L348.3 826.3L349.3 826.9L350.3 829.0L351.3 832.4L352.3 829.3L353.3 830.5L354.3 833.3L355.3 824.6L356.3 829.3L357.3 828.8L358.3 832.8L359.3 828.9L360.3 826.9L361.3 828.5L362.3 830.4L363.3 830.2L364.3 831.1L365.3 832.4L366.3 830.2L367.3 828.3L368.3 825.1L369.3 829.8L370.3 831.0L371.3 830.5L372.3 830.9L373.3 828.4L374.3 831.3L375.3 826.2L376.3 826.9L377.3 826.2L378.3 832.0L379.3 831.7L380.3 831.7L381.3 834.0L382.3 827.4L383.3 830.7L384.3 829.2L385.3 828.5L386.3 831.8L387.3 829.2L388.3 827.7L389.3 831.7L390.3 828.9L391.3 829.5L392.3 831.5L393.3 828.8L394.3 828.7L395.3 830.3L396.3 833.2L397.3 826.2L398.3 833.6L399.3 832.4L400.3 831.3L401.3 831.8L402.3 827.8L403.3 831.4L404.3 832.8L405.3 830.6L406.3 826.7L407.3 829.4L408.3 827.0L409.3 827.4L410.3 827.9L411.3 832.4L412.3 834.3L413.3 830.7L414.3 833.8L415.3 830.3L416.3 830.8L417.3 834.6L418.3 836.7L419.3 834.5L420.3 826.1L421.3 830.6L422.3 831.8L423.3 831.7L424.3 828.9L425.3 836.9L426.3 826.5L427.3 830.6L428.3 828.5L429.3 829.7L430.3 830.5L431.3 829.0L432.3 831.0L433.3 827.1L434.3 828.7L435.3 831.8L436.3 828.2L437.3 832.0L438.3 829.9L439.3 828.6L440.3 831.3L441.3 829.7L442.3 835.2L443.3 831.6L444.3 834.9L445.3 829.2L446.3 833.5L447.3 834.1L448.3 832.5L449.3 829.8L450.3 833.3L451.3 835.2L452.3 828.9L453.3 828.6L454.3 835.0L455.3 828.2L456.3 830.4L457.3 829.6L458.3 827.8L459.3 834.4L460.3 830.8L461.3 826.3L462.3 833.2L463.3 831.0L464.3 825.2L465.3 830.8L466.3 835.4L467.3 828.9L468.3 831.2L469.3 834.5L470.3 825.9L471.3 833.2L472.3 834.2L473.3 833.1L474.3 826.9L475.3 830.6L476.3 828.1L477.3 831.0L478.3 829.3L479.3 824.9L480.3 823.9L481.3 818.6L482.3 804.2L483.3 765.7L484.3 693.1L485.3 611.1L485.5 599.5L486.0 587.0L486.3 591.6L486.5 599.9L487.3 658.2L488.3 741.3L489.3 793.5L490.3 815.7L491.3 822.6L492.3 825.9L493.3 826.2L494.3 822.0L495.3 829.3L496.3 830.4L497.3 827.6L498.3 832.1L499.3 832.7L500.3 832.9L501.3 829.8L502.3 831.9L503.3 831.8L504.3 836.3L505.3 834.2L506.3 832.1L507.3 830.2L508.3 829.5L509.3 831.7L510.3 832.0L511.3 833.8L512.3 835.1L513.3 829.7L514.3 832.7L515.3 833.6L516.3 830.9L517.3 832.4L518.3 833.6L519.3 833.3L520.3 831.7L521.3 833.8L522.3 838.0L523.3 834.0L524.3 833.5L525.3 835.9L526.3 833.6L527.3 833.9L528.3 835.6L529.3 832.6L530.3 837.1L531.3 833.7L532.3 834.8L533.3 832.9L534.3 834.4L535.3 832.2L536.3 830.5L537.3 832.6L538.3 834.6L539.3 831.0L540.3 834.8L541.3 836.9L542.3 828.4L543.3 835.4L544.3 833.6L545.3 836.0L546.3 834.0L547.3 830.7L548.3 833.7L549.3 836.7L550.3 834.1L551.3 832.9L552.3 834.6L553.3 831.5L554.3 836.9L555.3 832.4L556.3 835.1L557.3 834.8L558.3 833.8L559.3 832.3L560.3 834.7L561.3 834.6L562.3 834.8L563.3 831.8L564.3 835.2L565.3 834.9L566.3 835.0L567.3 834.7L568.3 833.2L569.3 834.5L570.3 834.4L571.3 827.5L572.3 832.4L573.3 834.2L574.3 837.5L575.3 835.8L576.3 836.9L577.3 834.7L578.3 834.7L579.3 835.9L580.3 835.5L581.3 835.3L582.3 835.6L583.3 834.3L584.3 834.7L585.3 834.6L586.3 837.3L587.3 834.2L588.3 834.4L589.3 835.6L590.3 835.6L591.3 835.6L592.3 831.5L593.3 834.3L594.3 834.2L595.3 834.4L596.3 835.3L597.3 836.3L598.3 835.5L599.3 834.0L600.3 834.4L601.3 832.2L602.3 833.4L603.3 837.3L604.3 835.2L605.3 832.8L606.3 835.1L607.3 836.4L608.3 836.9L609.3 834.4L610.3 835.9L611.3 839.2L612.3 841.8L613.3 836.7L614.3 834.3L615.3 834.9L616.3 834.6L617.3 835.2L618.3 837.0L619.3 838.2L620.3 831.4L621.3 834.4L622.3 838.8L623.3 830.1L624.3 833.9L625.3 833.9L626.3 837.0L627.3 835.3L628.3 833.5L629.3 837.9L630.3 836.3L631.3 832.5L632.3 832.7L633.3 834.8L634.3 835.4L635.3 832.5L636.3 836.8L637.3 835.4L638.3 836.3L639.3 832.5L640.3 832.1L641.3 835.8L642.3 835.3L643.3 837.3L644.3 834.6L645.3 836.8L646.3 831.7L647.3 834.4L648.3 836.7L649.3 836.1L650.3 833.3L651.3 834.2L652.3 835.3L653.3 836.1L654.3 832.3L655.3 832.2L656.3 837.1L657.3 838.6L658.3 838.0L659.3 834.0L660.3 836.2L661.3 836.6L662.3 832.9L663.3 837.6L664.3 832.5L665.3 834.5L666.3 826.4L667.3 837.4L668.3 836.8L669.3 837.1L670.3 829.3L671.3 840.0L672.3 833.4L673.3 836.0L674.3 838.3L675.3 836.5L676.3 833.9L677.3 837.7L678.3 834.2L679.3 834.5L680.3 834.0L681.3 832.1L682.3 828.9L683.3 819.5L684.3 800.0L685.3 773.8L686.0 758.8L686.3 755.7L686.5 755.0L687.0 759.0L687.3 764.3L688.3 789.9L689.3 813.0L690.3 826.1L691.3 831.0L692.3 833.3L693.3 833.9L694.3 833.3L695.3 830.9L696.3 835.8L697.3 832.3L698.3 835.1L699.3 835.0L700.3 837.6L701.3 836.0L702.3 837.7L703.3 835.8L704.3 835.2L705.3 837.8L706.3 834.8L707.3 833.2L708.3 832.5L709.3 838.4L710.3 837.7L711.3 836.0L712.3 838.4L713.3 839.1L714.3 836.6L715.3 835.0L716.3 840.8L717.3 834.5L718.3 836.5L719.3 834.7L720.3 832.3L721.3 835.7L722.3 835.6L723.3 837.7L724.3 836.6L725.3 836.1L726.3 839.3L727.3 836.3L728.3 835.1L729.3 835.6L730.3 835.1L731.3 835.1L732.3 838.1L733.3 836.3L734.3 837.6L735.3 837.0L736.3 833.4L737.3 835.2L738.3 834.1L739.3 834.3L740.3 837.9L741.3 838.3L742.3 834.3L743.3 831.8L744.3 837.2L745.3 840.2L746.3 837.9L747.3 834.5L748.3 832.6L749.3 833.2L750.3 837.2L751.3 837.7L752.3 837.2L753.3 834.3L754.3 836.3L755.3 831.7L756.3 834.6L757.3 837.3L758.3 835.4L759.3 835.9L760.3 834.7L761.3 838.0L762.3 834.8L763.3 837.2L764.3 834.9L765.3 834.4L766.3 835.4L767.3 837.4L768.3 835.6L769.3 835.6L770.3 836.0L771.3 836.4L772.3 835.5L773.3 835.3L774.3 834.2L775.3 842.2L776.3 831.9L777.3 832.2L778.3 835.1L779.3 835.2L780.3 834.2L781.3 836.8L782.3 833.5L783.3 834.1L784.3 837.4L785.3 833.6L786.3 837.4L787.3 836.0L788.3 831.9L789.3 835.8L790.3 836.6L791.3 837.2L792.3 833.2L793.3 833.1L794.3 836.9L795.3 834.9L796.3 833.5L797.3 837.5L798.3 834.1L799.3 836.1L800.3 834.5L801.3 836.0L802.3 832.7L803.3 832.9L804.3 837.1L805.3 833.2L806.3 837.7L807.3 838.4L808.3 834.2L809.3 835.3L810.3 839.7L811.3 834.2L812.3 832.2L813.3 833.5L814.3 833.7L815.3 837.8L816.3 836.9L817.3 834.2L818.3 836.7L819.3 838.6L820.3 836.6L821.3 836.4L822.3 836.8L823.3 834.7L824.3 835.4L825.3 835.3L826.3 838.2L827.3 837.0L828.3 833.9L829.3 835.1L830.3 836.0L831.3 835.1L832.3 834.6L833.3 835.9L834.3 834.8L835.3 834.7L836.3 837.7L837.3 833.8L838.3 836.4L839.3 835.5L840.3 835.3L841.3 835.0L842.3 836.4L843.3 837.4L844.3 834.8L845.3 835.6L846.3 836.3L847.3 834.8L848.3 833.9L849.3 835.2L850.3 833.4L851.3 832.7L852.3 834.3L853.3 833.4L854.3 834.6" stroke="#1f9d49" stroke-width="4.1" fill="none" stroke-linejoin="round" stroke-linecap="round"/>
<path d="M30.0 880.6L31.0 876.9L32.0 878.8L33.0 880.2L34.0 877.1L35.0 878.2L36.0 877.3L37.0 880.0L38.0 876.8L39.0 878.5L40.0 872.7L41.0 883.2L42.0 875.6L43.0 874.8L44.0 875.9L45.0 880.4L46.0 875.2L47.0 872.3L48.0 872.9L49.0 880.8L50.0 874.6L51.0 874.7L52.0 869.4L53.0 878.0L54.0 875.7L55.0 875.4L56.0 874.1L57.0 872.2L58.0 873.5L59.0 872.3L60.0 869.7L61.0 867.0L62.0 875.0L63.0 874.2L64.0 872.9L65.0 872.3L66.0 871.2L67.0 867.9L68.0 867.3L69.0 863.6L70.0 867.8L71.0 870.5L72.0 865.6L73.0 869.5L74.0 869.1L75.0 871.0L76.0 871.0L77.0 865.6L78.0 867.8L79.0 866.1L80.0 866.5L81.0 870.0L82.0 868.9L83.0 866.1L84.0 867.1L85.0 872.0L86.0 864.2L87.0 864.0L88.0 862.7L89.0 867.5L90.0 861.9L91.0 862.7L92.0 862.8L93.0 861.0L94.0 866.0L95.0 863.5L96.0 857.2L97.0 859.8L98.0 863.9L99.0 866.6L100.0 862.2L101.0 862.3L102.0 862.0L103.0 860.0L104.0 861.3L105.0 861.4L106.0 859.1L107.0 861.5L108.0 860.8L109.0 860.9L110.0 861.5L111.0 859.4L112.0 857.1L113.0 861.1L114.0 860.0L115.0 862.3L116.0 856.2L117.0 859.3L118.0 859.8L119.0 854.7L120.0 857.4L121.0 856.7L122.0 857.3L123.0 858.6L124.0 861.1L125.0 854.9L126.0 859.9L127.0 862.6L128.0 860.7L129.0 855.6L130.0 855.8L131.0 857.3L132.0 856.1L133.0 859.3L134.0 856.6L135.0 858.1L136.0 857.0L137.0 854.1L138.0 857.4L139.0 854.0L140.0 854.9L141.0 854.1L142.0 855.3L143.0 850.9L144.0 856.2L145.0 855.1L146.0 853.4L147.0 851.0L148.0 850.6L149.0 852.5L150.0 851.5L151.0 853.2L152.0 854.1L153.0 854.5L154.0 853.2L155.0 850.6L156.0 856.4L157.0 856.5L158.0 850.2L159.0 850.9L160.0 856.2L161.0 854.1L162.0 851.2L163.0 857.5L164.0 848.0L165.0 851.4L166.0 854.7L167.0 848.1L168.0 854.1L169.0 850.9L170.0 857.3L171.0 851.0L172.0 855.5L173.0 852.1L174.0 852.0L175.0 854.0L176.0 856.3L177.0 850.8L178.0 852.8L179.0 854.9L180.0 851.8L181.0 855.7L182.0 855.4L183.0 855.6L184.0 854.6L185.0 856.2L186.0 857.6L187.0 854.4L188.0 857.3L189.0 855.1L190.0 851.1L191.0 857.6L192.0 849.3L193.0 857.6L194.0 854.0L195.0 855.3L196.0 854.4L197.0 852.9L198.0 856.8L199.0 860.0L200.0 857.1L201.0 856.0L202.0 855.0L203.0 853.4L204.0 856.4L205.0 857.0L206.0 854.6L207.0 854.3L208.0 853.7L209.0 852.8L210.0 858.1L211.0 856.8L212.0 855.3L213.0 852.7L214.0 848.8L215.0 857.8L216.0 857.8L217.0 861.7L218.0 857.9L219.0 856.3L220.0 856.0L221.0 852.0L222.0 857.8L223.0 852.3L224.0 855.9L225.0 855.4L226.0 857.3L227.0 857.8L228.0 858.1L229.0 857.7L230.0 856.5L231.0 857.9L232.0 857.4L233.0 854.9L234.0 858.5L235.0 856.5L236.0 858.4L237.0 859.3L238.0 857.0L239.0 855.8L240.0 860.2L241.0 857.3L242.0 857.9L243.0 859.9L244.0 856.6L245.0 858.0L246.0 853.6L247.0 855.4L248.0 856.1L249.0 857.6L250.0 859.9L251.0 854.1L252.0 859.2L253.0 859.5L254.0 856.3L255.0 856.8L256.0 853.3L257.0 858.3L258.0 855.2L259.0 857.0L260.0 853.7L261.0 858.6L262.0 855.2L263.0 856.4L264.0 858.4L265.0 857.2L266.0 854.9L267.0 857.0L268.0 858.2L269.0 857.3L270.0 857.7L271.0 857.4L272.0 857.6L273.0 858.1L274.0 856.5L275.0 859.2L276.0 859.4L277.0 856.7L278.0 856.3L279.0 856.3L280.0 855.6L281.0 857.3L282.0 858.3L283.0 858.0L284.0 858.8L285.0 855.1L286.0 859.1L287.0 856.6L288.0 857.4L289.0 856.2L290.0 855.9L291.0 856.9L292.0 856.0L293.0 856.3L294.0 855.0L295.0 860.4L296.0 861.4L297.0 858.3L298.0 854.8L299.0 858.1L300.0 861.2L301.0 855.5L302.0 861.2L303.0 859.2L304.0 853.4L305.0 859.5L306.0 859.1L307.0 858.0L308.0 855.5L309.0 857.7L310.0 862.5L311.0 857.5L312.0 855.4L313.0 859.6L314.0 854.0L315.0 857.0L316.0 859.8L317.0 857.2L318.0 858.1L319.0 851.7L320.0 854.9L321.0 858.7L322.0 856.6L323.0 861.9L324.0 859.3L325.0 857.8L326.0 859.9L327.0 856.1L328.0 857.4L329.0 857.2L330.0 855.7L331.0 857.4L332.0 859.1L333.0 858.5L334.0 858.5L335.0 856.9L336.0 859.4L337.0 854.1L338.0 856.8L339.0 854.8L340.0 860.3L341.0 860.8L342.0 857.0L343.0 860.1L344.0 857.6L345.0 861.6L346.0 858.2L347.0 863.7L348.0 861.4L349.0 861.5L350.0 858.1L351.0 855.1L352.0 857.8L353.0 858.6L354.0 858.4L355.0 857.5L356.0 861.9L357.0 857.0L358.0 863.4L359.0 853.2L360.0 857.7L361.0 852.5L362.0 860.5L363.0 858.2L364.0 857.2L365.0 856.7L366.0 856.6L367.0 860.8L368.0 857.2L369.0 862.3L370.0 861.2L371.0 858.4L372.0 856.3L373.0 861.1L374.0 858.6L375.0 858.2L376.0 860.0L377.0 862.6L378.0 854.3L379.0 856.5L380.0 857.5L381.0 862.7L382.0 859.2L383.0 862.5L384.0 863.5L385.0 859.0L386.0 859.9L387.0 860.4L388.0 861.3L389.0 860.3L390.0 861.4L391.0 856.6L392.0 859.3L393.0 858.0L394.0 868.0L395.0 859.3L396.0 858.4L397.0 859.5L398.0 861.7L399.0 863.0L400.0 857.2L401.0 858.9L402.0 861.7L403.0 854.1L404.0 862.4L405.0 859.1L406.0 862.5L407.0 861.7L408.0 860.0L409.0 858.4L410.0 856.8L411.0 859.1L412.0 863.7L413.0 856.9L414.0 860.9L415.0 860.1L416.0 867.4L417.0 860.1L418.0 866.3L419.0 859.7L420.0 863.0L421.0 859.1L422.0 858.8L423.0 863.8L424.0 859.7L425.0 861.1L426.0 852.8L427.0 858.6L428.0 860.6L429.0 858.5L430.0 859.5L431.0 858.4L432.0 859.8L433.0 858.3L434.0 860.6L435.0 860.4L436.0 861.0L437.0 856.3L438.0 859.6L439.0 864.1L440.0 860.5L441.0 862.4L442.0 861.5L443.0 859.4L444.0 857.7L445.0 858.5L446.0 859.6L447.0 858.2L448.0 860.0L449.0 860.4L450.0 858.5L451.0 861.0L452.0 859.2L453.0 864.1L454.0 859.1L455.0 861.5L456.0 860.1L457.0 851.9L458.0 858.2L459.0 859.9L460.0 858.9L461.0 863.6L462.0 859.6L463.0 861.5L464.0 860.8L465.0 860.6L466.0 860.9L467.0 861.9L468.0 861.6L469.0 858.8L470.0 860.6L471.0 859.8L472.0 861.0L473.0 860.3L474.0 862.1L475.0 858.6L476.0 859.4L477.0 863.7L478.0 861.5L479.0 863.8L480.0 862.4L481.0 860.7L482.0 859.9L483.0 861.2L484.0 860.4L485.0 863.6L486.0 859.4L487.0 862.8L488.0 861.3L489.0 858.4L490.0 861.3L491.0 859.5L492.0 860.9L493.0 862.8L494.0 865.1L495.0 859.5L496.0 864.3L497.0 863.4L498.0 863.5L499.0 863.3L500.0 865.1L501.0 864.1L502.0 862.5L503.0 858.5L504.0 862.1L505.0 863.1L506.0 863.2L507.0 861.7L508.0 865.3L509.0 862.9L510.0 861.1L511.0 864.0L512.0 860.6L513.0 863.6L514.0 863.4L515.0 863.1L516.0 864.2L517.0 862.0L518.0 862.2L519.0 862.5L520.0 863.9L521.0 860.8L522.0 863.3L523.0 866.1L524.0 862.3L525.0 863.5L526.0 865.2L527.0 863.1L528.0 862.6L529.0 863.3L530.0 862.6L531.0 860.3L532.0 862.2L533.0 862.3L534.0 863.0L535.0 862.5L536.0 863.8L537.0 862.3L538.0 863.2L539.0 861.5L540.0 861.4L541.0 861.0L542.0 860.0L543.0 860.8L544.0 863.5L545.0 863.7L546.0 861.7L547.0 865.0L548.0 863.5L549.0 863.3L550.0 857.0L551.0 861.3L552.0 861.9L553.0 863.8L554.0 861.8L555.0 863.2L556.0 862.1L557.0 863.6L558.0 864.5L559.0 862.5L560.0 860.6L561.0 862.8L562.0 862.1L563.0 863.8L564.0 863.5L565.0 861.1L566.0 862.5L567.0 863.7L568.0 864.5L569.0 860.1L570.0 862.8L571.0 863.0L572.0 865.9L573.0 862.2L574.0 864.8L575.0 863.2L576.0 864.6L577.0 863.8L578.0 865.4L579.0 861.5L580.0 863.0L581.0 865.9L582.0 864.3L583.0 862.3L584.0 864.8L585.0 863.1L586.0 870.5L587.0 861.7L588.0 867.2L589.0 862.5L590.0 861.0L591.0 859.8L592.0 863.4L593.0 864.2L594.0 862.2L595.0 858.8L596.0 863.0L597.0 867.5L598.0 860.3L599.0 859.7L600.0 863.0L601.0 863.1L602.0 862.4L603.0 863.3L604.0 865.3L605.0 860.3L606.0 865.7L607.0 865.3L608.0 866.5L609.0 862.5L610.0 863.6L611.0 861.5L612.0 862.9L613.0 862.9L614.0 859.9L615.0 857.8L616.0 863.3L617.0 861.2L618.0 863.2L619.0 864.7L620.0 863.3L621.0 861.8L622.0 862.1L623.0 863.5L624.0 864.7L625.0 866.3L626.0 860.7L627.0 864.0L628.0 863.9L629.0 867.8L630.0 866.2L631.0 869.7L632.0 859.2L633.0 867.1L634.0 865.8L635.0 864.4L636.0 862.3L637.0 860.6L638.0 867.4L639.0 860.9L640.0 865.1L641.0 863.4L642.0 864.8L643.0 861.1L644.0 864.5L645.0 862.7L646.0 862.6L647.0 867.2L648.0 862.5L649.0 864.4L650.0 868.0L651.0 865.2L652.0 863.7L653.0 862.3L654.0 861.2L655.0 864.2L656.0 862.2L657.0 864.7L658.0 867.9L659.0 865.1L660.0 861.2L661.0 863.2L662.0 863.3L663.0 865.1L664.0 862.9L665.0 868.4L666.0 861.6L667.0 865.1L668.0 864.6L669.0 863.8L670.0 864.6L671.0 864.0L672.0 866.8L673.0 866.5L674.0 863.8L675.0 864.4L676.0 864.4L677.0 868.7L678.0 866.0L679.0 865.0L680.0 865.3L681.0 862.9L682.0 865.3L683.0 865.1L684.0 864.3L685.0 865.1L686.0 865.6L687.0 868.3L688.0 864.9L689.0 862.4L690.0 867.1L691.0 865.2L692.0 860.9L693.0 864.4L694.0 864.0L695.0 868.8L696.0 865.2L697.0 872.1L698.0 865.8L699.0 868.3L700.0 866.1L701.0 863.8L702.0 865.7L703.0 864.7L704.0 865.3L705.0 864.7L706.0 865.6L707.0 868.7L708.0 867.0L709.0 865.4L710.0 865.0L711.0 866.4L712.0 866.5L713.0 866.9L714.0 860.9L715.0 865.0L716.0 867.6L717.0 865.9L718.0 868.5L719.0 866.7L720.0 870.2L721.0 865.6L722.0 863.5L723.0 864.9L724.0 864.8L725.0 862.1L726.0 861.5L727.0 864.4L728.0 865.0L729.0 868.4L730.0 864.5L731.0 864.7L732.0 867.2L733.0 868.1L734.0 867.2L735.0 866.2L736.0 866.3L737.0 863.9L738.0 862.6L739.0 863.6L740.0 869.2L741.0 866.3L742.0 863.4L743.0 866.7L744.0 864.6L745.0 867.0L746.0 866.6L747.0 864.3L748.0 862.6L749.0 866.3L750.0 865.6L751.0 864.0L752.0 861.9L753.0 866.0L754.0 864.5L755.0 867.0L756.0 865.4L757.0 865.5L758.0 863.8L759.0 864.0L760.0 866.3L761.0 867.5L762.0 866.7L763.0 861.5L764.0 863.4L765.0 863.5L766.0 863.3L767.0 861.1L768.0 863.2L769.0 861.5L770.0 866.4L771.0 863.9L772.0 867.2L773.0 864.6L774.0 863.7L775.0 864.8L776.0 864.4L777.0 868.1L778.0 866.4L779.0 863.0L780.0 865.8L781.0 870.2L782.0 865.3L783.0 866.7L784.0 864.8L785.0 863.6L786.0 864.3L787.0 865.7L788.0 865.8L789.0 865.0L790.0 861.9L791.0 867.2L792.0 864.0L793.0 864.1L794.0 863.1L795.0 865.9L796.0 864.0L797.0 866.1L798.0 864.9L799.0 865.0L800.0 864.2L801.0 862.7L802.0 866.6L803.0 868.0L804.0 866.1L805.0 867.4L806.0 861.7L807.0 864.4L808.0 862.8L809.0 861.7L810.0 861.7L811.0 864.2L812.0 866.0L813.0 862.0L814.0 863.1L815.0 863.1L816.0 861.7L817.0 865.0L818.0 864.0L819.0 863.2L820.0 862.8L821.0 863.1L822.0 864.0L823.0 860.3L824.0 865.5L825.0 863.0L826.0 863.7L827.0 863.3L828.0 861.7L829.0 865.3L830.0 862.8L831.0 863.5L832.0 864.1L833.0 859.9L834.0 867.3L835.0 865.9L836.0 860.1L837.0 865.0L838.0 862.6L839.0 865.8L840.0 861.7L841.0 864.1L842.0 863.0L843.0 864.9" stroke="#f3d42a" stroke-width="4.1" fill="none" stroke-linejoin="round" stroke-linecap="round"/>
<path d="M5 913.5H919" stroke="#111" stroke-width="2.2"/>
<path d="M60.7 913.5V926.5M117.8 913.5V920.5M175.0 913.5V926.5M232.1 913.5V920.5M289.3 913.5V926.5M346.4 913.5V920.5M403.6 913.5V926.5M460.8 913.5V920.5M517.9 913.5V926.5M575.1 913.5V920.5M632.2 913.5V926.5M689.4 913.5V920.5M746.5 913.5V926.5M803.6 913.5V920.5M860.8 913.5V926.5M918.0 913.5V920.5" stroke="#111" stroke-width="2"/>
<text x="48.46" y="962.30" font-size="36.70" textLength="19.39" lengthAdjust="spacingAndGlyphs">1</text><rect x="50.33" y="958" width="6.79" height="6" fill="#fff"/><rect x="60.38" y="958" width="6.61" height="6" fill="#fff"/>
<text x="161.32" y="962.30" font-size="36.70" textLength="19.39" lengthAdjust="spacingAndGlyphs">2</text>
<text x="276.51" y="962.30" font-size="36.70" textLength="19.39" lengthAdjust="spacingAndGlyphs">3</text>
<text x="389.31" y="962.30" font-size="36.70" textLength="19.39" lengthAdjust="spacingAndGlyphs">4</text>
<text x="504.92" y="962.30" font-size="36.70" textLength="19.39" lengthAdjust="spacingAndGlyphs">5</text>
<text x="618.19" y="962.30" font-size="36.70" textLength="19.39" lengthAdjust="spacingAndGlyphs">6</text>
<text x="733.62" y="962.30" font-size="36.70" textLength="19.39" lengthAdjust="spacingAndGlyphs">7</text>
<text x="847.12" y="962.30" font-size="36.70" textLength="19.39" lengthAdjust="spacingAndGlyphs">8</text>
<text x="422.27" y="1010.70" font-size="36.07" textLength="116.77" lengthAdjust="spacingAndGlyphs">2 Theta</text>
<text x="944.98" y="689.10" font-size="29.38" textLength="102.89" lengthAdjust="spacingAndGlyphs">110 min</text><rect x="946.50" y="685" width="5.79" height="6" fill="#fff"/><rect x="955.10" y="685" width="5.64" height="6" fill="#fff"/><rect x="960.74" y="685" width="5.79" height="6" fill="#fff"/><rect x="969.34" y="685" width="5.64" height="6" fill="#fff"/>
<text x="930.40" y="721.20" font-size="28.95" textLength="104.44" lengthAdjust="spacingAndGlyphs">100 min</text><rect x="931.91" y="717" width="5.75" height="6" fill="#fff"/><rect x="940.46" y="717" width="5.61" height="6" fill="#fff"/>
<text x="917.49" y="754.20" font-size="28.67" textLength="89.11" lengthAdjust="spacingAndGlyphs">90 min</text>
<text x="901.24" y="784.00" font-size="27.38" textLength="89.27" lengthAdjust="spacingAndGlyphs">80 min</text>
<text x="885.74" y="812.60" font-size="29.53" textLength="87.94" lengthAdjust="spacingAndGlyphs">70 min</text>
<text x="867.51" y="841.10" font-size="28.39" textLength="89.40" lengthAdjust="spacingAndGlyphs">60 min</text>
<text x="850.79" y="874.60" font-size="28.39" textLength="88.60" lengthAdjust="spacingAndGlyphs">30 min</text>
<text x="832.86" y="903.50" font-size="28.39" textLength="132.56" lengthAdjust="spacingAndGlyphs">Simulated</text>
<text x="71.27" y="1107.60" font-size="40.83" textLength="23.36" lengthAdjust="spacingAndGlyphs">b</text>
<style>.sm0{fill:none;stroke:#5c5c5c;stroke-width:1.30px;stroke-linecap:round}.sm1{fill:none;stroke:#5c5c5c;stroke-width:1.20px;stroke-linecap:round}.sm2{fill:none;stroke:#5c5c5c;stroke-width:1.00px;stroke-linecap:round}.sm3{fill:none;stroke:#666666;stroke-width:0.90px;stroke-linecap:round}.fwt{fill:url(#wt);stroke:url(#wt);stroke-width:.6px}.fwl{fill:url(#wl);stroke:url(#wl);stroke-width:.6px}.fwr{fill:url(#wr);stroke:url(#wr);stroke-width:.6px}.fwlo{fill:url(#wlo);stroke:url(#wlo);stroke-width:.6px}.fwro{fill:url(#wro);stroke:url(#wro);stroke-width:.6px}.fot{fill:url(#ot);stroke:url(#ot);stroke-width:.6px}.fol{fill:url(#ol);stroke:url(#ol);stroke-width:.6px}.for{fill:url(#or);stroke:url(#or);stroke-width:.6px}.bv30{fill:#fff;fill-opacity:0.30}.bv45{fill:#fff;fill-opacity:0.45}</style>
<path d="M145.9 1230L160.4 1241.2L159.6 1222.9L144.2 1212.8Z" fill="url(#ol)" stroke="#d8600f" stroke-width="0.70"/>
<path d="M205 1230L190 1241.2L190.8 1222.9L206.5 1212.8Z" fill="url(#or)" stroke="#d8600f" stroke-width="0.70"/>
<path d="M175 1180.3L191.5 1188L175.1 1196.3L158.7 1188Z" fill="url(#ot)" stroke="#d8600f" stroke-width="0.70"/>
<path d="M190 1241.2L175 1252.3L175 1233L190.8 1222.9Z" fill="url(#or)" stroke="#d8600f" stroke-width="0.70"/>
<path d="M160.4 1241.2L175 1252.3L175 1233L159.6 1222.9Z" fill="url(#ol)" stroke="#d8600f" stroke-width="0.70"/>
<path d="M158.7 1188L175.1 1196.3L158.7 1204.7L142.4 1195.7Z" fill="url(#ot)" stroke="#d8600f" stroke-width="0.70"/>
<path d="M144.2 1212.8L159.6 1222.9L158.7 1204.7L142.4 1195.7Z" fill="url(#ol)" stroke="#d8600f" stroke-width="0.70"/>
<path d="M191.5 1188L208 1195.7L191.5 1204.7L175.1 1196.3Z" fill="url(#ot)" stroke="#d8600f" stroke-width="0.70"/>
<path d="M206.5 1212.8L190.8 1222.9L191.5 1204.7L208 1195.7Z" fill="url(#or)" stroke="#d8600f" stroke-width="0.70"/>
<path d="M175.1 1196.3L191.5 1204.7L175 1213.7L158.7 1204.7Z" fill="url(#ot)" stroke="#d8600f" stroke-width="0.70"/>
<path d="M190.8 1222.9L175 1233L175 1213.7L191.5 1204.7Z" fill="url(#or)" stroke="#d8600f" stroke-width="0.70"/>
<path d="M159.6 1222.9L175 1233L175 1213.7L158.7 1204.7Z" fill="url(#ol)" stroke="#d8600f" stroke-width="0.70"/>
<path d="M175.0 1186.0L175.0 1133.0" stroke="#f2ec3c" stroke-width="4.2" stroke-linecap="round"/>
<path d="M175.0 1122.0L181.5 1135.0L175.0 1133.0L168.5 1135.0Z" fill="#f2ec3c"/>
<path d="M151.0 1228.3L103.9 1255.5" stroke="#f2ec3c" stroke-width="4.2" stroke-linecap="round"/>
<path d="M94.4 1261.0L102.4 1248.9L103.9 1255.5L108.9 1260.1Z" fill="#f2ec3c"/>
<path d="M199.0 1228.3L246.1 1256.1" stroke="#f2ec3c" stroke-width="4.2" stroke-linecap="round"/>
<path d="M255.6 1261.7L241.1 1260.7L246.1 1256.1L247.7 1249.5Z" fill="#f2ec3c"/>
<path d="M234.0 1212.0L311.7 1212.0" stroke="#7b7b7b" stroke-width="2.8"/>
<path d="M335.7 1212.0L305.7 1224.5L311.7 1212.0L305.7 1199.5Z" fill="#7b7b7b"/>
<path d="M528.0 1211.7L606.0 1211.7" stroke="#7b7b7b" stroke-width="2.8"/>
<path d="M630.0 1211.7L600.0 1224.2L606.0 1211.7L600.0 1199.2Z" fill="#7b7b7b"/>
<path d="M770.8 1491.0L770.8 1569.0" stroke="#7b7b7b" stroke-width="2.8"/>
<path d="M770.8 1593.0L758.3 1563.0L770.8 1569.0L783.3 1563.0Z" fill="#7b7b7b"/>
<path d="M599.5 1797.6L521.3 1797.6" stroke="#7b7b7b" stroke-width="2.8"/>
<path d="M497.3 1797.6L527.3 1785.1L521.3 1797.6L527.3 1810.1Z" fill="#7b7b7b"/>
<g>
<path d="M369 1247.7L387.7 1260.8L386 1237L366.5 1224.8Z" fill="url(#ol)" stroke="#d2580f" stroke-width="0.60"/>
<path d="M387.7 1260.8L386.0 1237.0L377.3 1242.6Z" fill="#000000" fill-opacity="0.05"/>
<path d="M386.0 1237.0L366.5 1224.8L377.3 1242.6Z" fill="#ffffff" fill-opacity="0.06"/>
<path d="M366.5 1224.8L369.0 1247.7L377.3 1242.6Z" fill="#ffffff" fill-opacity="0.03"/>
<path d="M483 1247.7L463.7 1260.8L465 1237L485 1224.8Z" fill="url(#or)" stroke="#d2580f" stroke-width="0.60"/>
<path d="M463.7 1260.8L465.0 1237.0L474.2 1242.6Z" fill="#ffffff" fill-opacity="0.06"/>
<path d="M465.0 1237.0L485.0 1224.8L474.2 1242.6Z" fill="#000000" fill-opacity="0.05"/>
<path d="M485.0 1224.8L483.0 1247.7L474.2 1242.6Z" fill="#ffffff" fill-opacity="0.03"/>
<path d="M425 1153L446.3 1161.7L425.1 1170.9L403.8 1161.7Z" fill="url(#ot)" stroke="#d2580f" stroke-width="0.60"/>
<path d="M425.0 1153.0L446.3 1161.7L425.1 1161.8Z" fill="#ffffff" fill-opacity="0.10"/>
<path d="M425.1 1170.9L403.8 1161.7L425.1 1161.8Z" fill="#000000" fill-opacity="0.04"/>
<path d="M403.8 1161.7L425.0 1153.0L425.1 1161.8Z" fill="#ffffff" fill-opacity="0.05"/>
<path d="M387.7 1260.8L406.3 1273.9L405.5 1249.2L386 1237Z" fill="url(#ol)" stroke="#d2580f" stroke-width="0.60"/>
<path d="M406.3 1273.9L405.5 1249.2L396.4 1255.2Z" fill="#000000" fill-opacity="0.05"/>
<path d="M405.5 1249.2L386.0 1237.0L396.4 1255.2Z" fill="#ffffff" fill-opacity="0.06"/>
<path d="M386.0 1237.0L387.7 1260.8L396.4 1255.2Z" fill="#ffffff" fill-opacity="0.03"/>
<path d="M463.7 1260.8L444.3 1273.9L445 1249.2L465 1237Z" fill="url(#or)" stroke="#d2580f" stroke-width="0.60"/>
<path d="M444.3 1273.9L445.0 1249.2L454.5 1255.2Z" fill="#ffffff" fill-opacity="0.06"/>
<path d="M445.0 1249.2L465.0 1237.0L454.5 1255.2Z" fill="#000000" fill-opacity="0.05"/>
<path d="M465.0 1237.0L463.7 1260.8L454.5 1255.2Z" fill="#ffffff" fill-opacity="0.03"/>
<path d="M366.5 1224.8L386 1237L384.3 1213.2L363.9 1201.9Z" fill="url(#ol)" stroke="#d2580f" stroke-width="0.60"/>
<path d="M386.0 1237.0L384.3 1213.2L375.2 1219.2Z" fill="#000000" fill-opacity="0.05"/>
<path d="M384.3 1213.2L363.9 1201.9L375.2 1219.2Z" fill="#ffffff" fill-opacity="0.06"/>
<path d="M363.9 1201.9L366.5 1224.8L375.2 1219.2Z" fill="#ffffff" fill-opacity="0.03"/>
<path d="M485 1224.8L465 1237L466.3 1213.2L487 1201.9Z" fill="url(#or)" stroke="#d2580f" stroke-width="0.60"/>
<path d="M465.0 1237.0L466.3 1213.2L475.8 1219.2Z" fill="#ffffff" fill-opacity="0.06"/>
<path d="M466.3 1213.2L487.0 1201.9L475.8 1219.2Z" fill="#000000" fill-opacity="0.05"/>
<path d="M487.0 1201.9L485.0 1224.8L475.8 1219.2Z" fill="#ffffff" fill-opacity="0.03"/>
<path d="M403.8 1161.7L425.1 1170.9L403.8 1180.1L382.6 1170.3Z" fill="url(#ot)" stroke="#d2580f" stroke-width="0.60"/>
<path d="M403.8 1161.7L425.1 1170.9L403.8 1170.8Z" fill="#ffffff" fill-opacity="0.10"/>
<path d="M403.8 1180.1L382.6 1170.3L403.8 1170.8Z" fill="#000000" fill-opacity="0.04"/>
<path d="M382.6 1170.3L403.8 1161.7L403.8 1170.8Z" fill="#ffffff" fill-opacity="0.05"/>
<path d="M446.3 1161.7L467.7 1170.3L446.4 1180.1L425.1 1170.9Z" fill="url(#ot)" stroke="#d2580f" stroke-width="0.60"/>
<path d="M446.3 1161.7L467.7 1170.3L446.4 1170.8Z" fill="#ffffff" fill-opacity="0.10"/>
<path d="M446.4 1180.1L425.1 1170.9L446.4 1170.8Z" fill="#000000" fill-opacity="0.04"/>
<path d="M425.1 1170.9L446.3 1161.7L446.4 1170.8Z" fill="#ffffff" fill-opacity="0.05"/>
<path d="M444.3 1273.9L425 1287L425 1261.3L445 1249.2Z" fill="url(#or)" stroke="#d2580f" stroke-width="0.60"/>
<path d="M425.0 1287.0L425.0 1261.3L434.8 1267.8Z" fill="#ffffff" fill-opacity="0.06"/>
<path d="M425.0 1261.3L445.0 1249.2L434.8 1267.8Z" fill="#000000" fill-opacity="0.05"/>
<path d="M445.0 1249.2L444.3 1273.9L434.8 1267.8Z" fill="#ffffff" fill-opacity="0.03"/>
<path d="M406.3 1273.9L425 1287L425 1261.3L405.5 1249.2Z" fill="url(#ol)" stroke="#d2580f" stroke-width="0.60"/>
<path d="M425.0 1287.0L425.0 1261.3L415.5 1267.8Z" fill="#000000" fill-opacity="0.05"/>
<path d="M425.0 1261.3L405.5 1249.2L415.5 1267.8Z" fill="#ffffff" fill-opacity="0.06"/>
<path d="M405.5 1249.2L406.3 1273.9L415.5 1267.8Z" fill="#ffffff" fill-opacity="0.03"/>
<path d="M386 1237L405.5 1249.2L404.6 1224.4L384.3 1213.2Z" fill="url(#ol)" stroke="#d2580f" stroke-width="0.60"/>
<path d="M405.5 1249.2L404.6 1224.4L395.1 1230.9Z" fill="#000000" fill-opacity="0.05"/>
<path d="M404.6 1224.4L384.3 1213.2L395.1 1230.9Z" fill="#ffffff" fill-opacity="0.06"/>
<path d="M384.3 1213.2L386.0 1237.0L395.1 1230.9Z" fill="#ffffff" fill-opacity="0.03"/>
<path d="M465 1237L445 1249.2L445.7 1224.4L466.3 1213.2Z" fill="url(#or)" stroke="#d2580f" stroke-width="0.60"/>
<path d="M445.0 1249.2L445.7 1224.4L455.5 1230.9Z" fill="#ffffff" fill-opacity="0.06"/>
<path d="M445.7 1224.4L466.3 1213.2L455.5 1230.9Z" fill="#000000" fill-opacity="0.05"/>
<path d="M466.3 1213.2L465.0 1237.0L455.5 1230.9Z" fill="#ffffff" fill-opacity="0.03"/>
<path d="M382.6 1170.3L403.8 1180.1L382.6 1189.3L361.4 1179Z" fill="url(#ot)" stroke="#d2580f" stroke-width="0.60"/>
<path d="M382.6 1170.3L403.8 1180.1L382.6 1179.7Z" fill="#ffffff" fill-opacity="0.10"/>
<path d="M382.6 1189.3L361.4 1179.0L382.6 1179.7Z" fill="#000000" fill-opacity="0.04"/>
<path d="M361.4 1179.0L382.6 1170.3L382.6 1179.7Z" fill="#ffffff" fill-opacity="0.05"/>
<path d="M363.9 1201.9L384.3 1213.2L382.6 1189.3L361.4 1179Z" fill="url(#ol)" stroke="#d2580f" stroke-width="0.60"/>
<path d="M384.3 1213.2L382.6 1189.3L373.1 1195.8Z" fill="#000000" fill-opacity="0.05"/>
<path d="M382.6 1189.3L361.4 1179.0L373.1 1195.8Z" fill="#ffffff" fill-opacity="0.06"/>
<path d="M361.4 1179.0L363.9 1201.9L373.1 1195.8Z" fill="#ffffff" fill-opacity="0.03"/>
<path d="M425.1 1170.9L446.4 1180.1L425.1 1189.9L403.8 1180.1Z" fill="url(#ot)" stroke="#d2580f" stroke-width="0.60"/>
<path d="M425.1 1170.9L446.4 1180.1L425.1 1180.2Z" fill="#ffffff" fill-opacity="0.10"/>
<path d="M425.1 1189.9L403.8 1180.1L425.1 1180.2Z" fill="#000000" fill-opacity="0.04"/>
<path d="M403.8 1180.1L425.1 1170.9L425.1 1180.2Z" fill="#ffffff" fill-opacity="0.05"/>
<path d="M467.7 1170.3L489 1179L467.7 1189.3L446.4 1180.1Z" fill="url(#ot)" stroke="#d2580f" stroke-width="0.60"/>
<path d="M467.7 1170.3L489.0 1179.0L467.7 1179.7Z" fill="#ffffff" fill-opacity="0.10"/>
<path d="M467.7 1189.3L446.4 1180.1L467.7 1179.7Z" fill="#000000" fill-opacity="0.04"/>
<path d="M446.4 1180.1L467.7 1170.3L467.7 1179.7Z" fill="#ffffff" fill-opacity="0.05"/>
<path d="M487 1201.9L466.3 1213.2L467.7 1189.3L489 1179Z" fill="url(#or)" stroke="#d2580f" stroke-width="0.60"/>
<path d="M466.3 1213.2L467.7 1189.3L477.5 1195.8Z" fill="#ffffff" fill-opacity="0.06"/>
<path d="M467.7 1189.3L489.0 1179.0L477.5 1195.8Z" fill="#000000" fill-opacity="0.05"/>
<path d="M489.0 1179.0L487.0 1201.9L477.5 1195.8Z" fill="#ffffff" fill-opacity="0.03"/>
<path d="M425.2 1214L445.7 1224.4L425 1235.7L404.6 1224.4Z" fill="url(#ot)" stroke="#d2580f" stroke-width="0.60"/>
<path d="M425.2 1214.0L445.7 1224.4L425.1 1224.6Z" fill="#ffffff" fill-opacity="0.10"/>
<path d="M425.0 1235.7L404.6 1224.4L425.1 1224.6Z" fill="#000000" fill-opacity="0.04"/>
<path d="M404.6 1224.4L425.2 1214.0L425.1 1224.6Z" fill="#ffffff" fill-opacity="0.05"/>
<path d="M445 1249.2L425 1261.3L425 1235.7L445.7 1224.4Z" fill="url(#or)" stroke="#d2580f" stroke-width="0.60"/>
<path d="M425.0 1261.3L425.0 1235.7L435.2 1242.6Z" fill="#ffffff" fill-opacity="0.06"/>
<path d="M425.0 1235.7L445.7 1224.4L435.2 1242.6Z" fill="#000000" fill-opacity="0.05"/>
<path d="M445.7 1224.4L445.0 1249.2L435.2 1242.6Z" fill="#ffffff" fill-opacity="0.03"/>
<path d="M405.5 1249.2L425 1261.3L425 1235.7L404.6 1224.4Z" fill="url(#ol)" stroke="#d2580f" stroke-width="0.60"/>
<path d="M425.0 1261.3L425.0 1235.7L415.0 1242.6Z" fill="#000000" fill-opacity="0.05"/>
<path d="M425.0 1235.7L404.6 1224.4L415.0 1242.6Z" fill="#ffffff" fill-opacity="0.06"/>
<path d="M404.6 1224.4L405.5 1249.2L415.0 1242.6Z" fill="#ffffff" fill-opacity="0.03"/>
<path d="M403.8 1180.1L425.1 1189.9L403.8 1199.7L382.6 1189.3Z" fill="url(#ot)" stroke="#d2580f" stroke-width="0.60"/>
<path d="M403.8 1180.1L425.1 1189.9L403.8 1189.8Z" fill="#ffffff" fill-opacity="0.10"/>
<path d="M403.8 1199.7L382.6 1189.3L403.8 1189.8Z" fill="#000000" fill-opacity="0.04"/>
<path d="M382.6 1189.3L403.8 1180.1L403.8 1189.8Z" fill="#ffffff" fill-opacity="0.05"/>
<path d="M425.2 1214L404.6 1224.4L403.8 1199.7L425.1 1189.9Z" fill="url(#or)" stroke="#d2580f" stroke-width="0.60"/>
<path d="M404.6 1224.4L403.8 1199.7L414.7 1207.0Z" fill="#ffffff" fill-opacity="0.06"/>
<path d="M403.8 1199.7L425.1 1189.9L414.7 1207.0Z" fill="#000000" fill-opacity="0.05"/>
<path d="M425.1 1189.9L425.2 1214.0L414.7 1207.0Z" fill="#ffffff" fill-opacity="0.03"/>
<path d="M384.3 1213.2L404.6 1224.4L403.8 1199.7L382.6 1189.3Z" fill="url(#ol)" stroke="#d2580f" stroke-width="0.60"/>
<path d="M404.6 1224.4L403.8 1199.7L393.8 1206.6Z" fill="#000000" fill-opacity="0.05"/>
<path d="M403.8 1199.7L382.6 1189.3L393.8 1206.6Z" fill="#ffffff" fill-opacity="0.06"/>
<path d="M382.6 1189.3L384.3 1213.2L393.8 1206.6Z" fill="#ffffff" fill-opacity="0.03"/>
<path d="M446.4 1180.1L467.7 1189.3L446.3 1199.7L425.1 1189.9Z" fill="url(#ot)" stroke="#d2580f" stroke-width="0.60"/>
<path d="M446.4 1180.1L467.7 1189.3L446.4 1189.8Z" fill="#ffffff" fill-opacity="0.10"/>
<path d="M446.3 1199.7L425.1 1189.9L446.4 1189.8Z" fill="#000000" fill-opacity="0.04"/>
<path d="M425.1 1189.9L446.4 1180.1L446.4 1189.8Z" fill="#ffffff" fill-opacity="0.05"/>
<path d="M466.3 1213.2L445.7 1224.4L446.3 1199.7L467.7 1189.3Z" fill="url(#or)" stroke="#d2580f" stroke-width="0.60"/>
<path d="M445.7 1224.4L446.3 1199.7L456.5 1206.6Z" fill="#ffffff" fill-opacity="0.06"/>
<path d="M446.3 1199.7L467.7 1189.3L456.5 1206.6Z" fill="#000000" fill-opacity="0.05"/>
<path d="M467.7 1189.3L466.3 1213.2L456.5 1206.6Z" fill="#ffffff" fill-opacity="0.03"/>
<path d="M425.2 1214L445.7 1224.4L446.3 1199.7L425.1 1189.9Z" fill="url(#ol)" stroke="#d2580f" stroke-width="0.60"/>
<path d="M445.7 1224.4L446.3 1199.7L435.6 1207.0Z" fill="#000000" fill-opacity="0.05"/>
<path d="M446.3 1199.7L425.1 1189.9L435.6 1207.0Z" fill="#ffffff" fill-opacity="0.06"/>
<path d="M425.1 1189.9L425.2 1214.0L435.6 1207.0Z" fill="#ffffff" fill-opacity="0.03"/>
<path d="M425.1 1189.9L429.9 1161.7L420.3 1161.7Z" fill="#0a0a0a"/>
<path d="M403.8 1199.7L408.6 1171.4L399.0 1171.4Z" fill="#0a0a0a"/>
<path d="M403.8 1199.7L420.6 1210.9L423.6 1203.3Z" fill="#0a0a0a"/>
<path d="M403.8 1199.7L378.7 1204.8L382.3 1213.6Z" fill="#0a0a0a"/>
<path d="M446.3 1199.7L451.1 1171.4L441.5 1171.4Z" fill="#0a0a0a"/>
<path d="M446.3 1199.7L468.0 1213.6L471.6 1204.8Z" fill="#0a0a0a"/>
<path d="M446.3 1199.7L426.6 1203.3L429.7 1210.9Z" fill="#0a0a0a"/>
<path d="M404.6 1224.4L379.5 1229.5L383.1 1238.4Z" fill="#0a0a0a"/>
<path d="M445.7 1224.4L467.3 1238.4L470.9 1229.5Z" fill="#0a0a0a"/>
<path d="M425.0 1235.7L429.1 1213.6L420.9 1213.6Z" fill="#0a0a0a"/>
<path d="M425.0 1235.7L446.7 1249.6L450.3 1240.8Z" fill="#0a0a0a"/>
<path d="M425.0 1235.7L399.9 1240.8L403.5 1249.6Z" fill="#0a0a0a"/>
<circle cx="425.1" cy="1189.9" r="1.7" fill="#e8141c"/>
<circle cx="403.8" cy="1199.7" r="1.7" fill="#e8141c"/>
<circle cx="446.3" cy="1199.7" r="1.7" fill="#e8141c"/>
<circle cx="404.6" cy="1224.4" r="1.7" fill="#e8141c"/>
<circle cx="445.7" cy="1224.4" r="1.7" fill="#e8141c"/>
<circle cx="425.0" cy="1235.7" r="1.7" fill="#e8141c"/>
</g>
<path d="M768 1214.3L782.9 1222.5L768 1231.2L753.1 1222.5Z" class="fwt"/>
<path d="M768 1216.2L779.6 1222.6L768 1229.3L756.4 1222.6Z" class="bv45"/>
<path d="M768 1214.3L782.9 1222.5L768 1231.2L753.1 1222.5L768 1214.3" class="sm0"/>
<path d="M768 1214.3L753.1 1222.5L752.6 1204.5L768 1196.6Z" class="fwr"/>
<path d="M766.3 1213.3L754.7 1219.7L754.3 1205.6L766.3 1199.4Z" class="bv45"/>
<path d="M768 1214.3L753.1 1222.5L752.6 1204.5L768 1196.6L768 1214.3" class="sm0"/>
<path d="M768 1214.3L782.9 1222.5L783.4 1204.5L768 1196.6Z" class="fwl"/>
<path d="M769.7 1213.3L781.3 1219.7L781.7 1205.6L769.7 1199.4Z" class="bv45"/>
<path d="M768 1214.3L782.9 1222.5L783.4 1204.5L768 1196.6L768 1214.3" class="sm0"/>
<path d="M753.1 1222.5L768 1231.2L752.2 1240.3L737.3 1231.2Z" class="fwt"/>
<path d="M753 1224.5L764.6 1231.2L752.3 1238.3L740.7 1231.2Z" class="bv45"/>
<path d="M753.1 1222.5L768 1231.2L752.2 1240.3L737.3 1231.2L753.1 1222.5" class="sm0"/>
<path d="M782.9 1222.5L798.7 1231.2L783.8 1240.3L768 1231.2Z" class="fwt"/>
<path d="M783 1224.5L795.3 1231.2L783.7 1238.3L771.4 1231.2Z" class="bv45"/>
<path d="M782.9 1222.5L798.7 1231.2L783.8 1240.3L768 1231.2L782.9 1222.5" class="sm0"/>
<path d="M753.1 1222.5L737.3 1231.2L736.4 1212.9L752.6 1204.5Z" class="fwr"/>
<path d="M751.3 1221.5L739 1228.2L738.3 1214L750.9 1207.5Z" class="bv45"/>
<path d="M753.1 1222.5L737.3 1231.2L736.4 1212.9L752.6 1204.5L753.1 1222.5" class="sm0"/>
<path d="M782.9 1222.5L798.7 1231.2L799.6 1212.9L783.4 1204.5Z" class="fwl"/>
<path d="M784.7 1221.5L797 1228.2L797.7 1214L785.1 1207.5Z" class="bv45"/>
<path d="M782.9 1222.5L798.7 1231.2L799.6 1212.9L783.4 1204.5L782.9 1222.5" class="sm0"/>
<path d="M768 1196.6L752.6 1204.5L752.2 1185.4L768 1177.7Z" class="fwr"/>
<path d="M766.3 1195.4L754.3 1201.6L753.9 1186.7L766.3 1180.7Z" class="bv45"/>
<path d="M768 1196.6L752.6 1204.5L752.2 1185.4L768 1177.7L768 1196.6" class="sm0"/>
<path d="M768 1196.6L783.4 1204.5L783.8 1185.4L768 1177.7Z" class="fwl"/>
<path d="M769.7 1195.4L781.7 1201.6L782.1 1186.7L769.7 1180.7Z" class="bv45"/>
<path d="M768 1196.6L783.4 1204.5L783.8 1185.4L768 1177.7L768 1196.6" class="sm0"/>
<path d="M737.3 1231.2L752.2 1240.3L735.6 1250L720.7 1240.3Z" class="fwt"/>
<path d="M737.1 1233.2L748.8 1240.3L735.8 1247.9L724.2 1240.3Z" class="bv45"/>
<path d="M737.3 1231.2L752.2 1240.3L735.6 1250L720.7 1240.3L737.3 1231.2" class="sm0"/>
<path d="M768 1231.2L783.8 1240.3L768 1250L752.2 1240.3Z" class="fwt"/>
<path d="M768 1233.2L780.3 1240.3L768 1247.9L755.7 1240.3Z" class="bv45"/>
<path d="M768 1231.2L783.8 1240.3L768 1250L752.2 1240.3L768 1231.2" class="sm0"/>
<path d="M798.7 1231.2L815.3 1240.3L800.4 1250L783.8 1240.3Z" class="fwt"/>
<path d="M798.9 1233.2L811.8 1240.3L800.2 1247.9L787.2 1240.3Z" class="bv45"/>
<path d="M798.7 1231.2L815.3 1240.3L800.4 1250L783.8 1240.3L798.7 1231.2" class="sm0"/>
<path d="M737.3 1231.2L720.7 1240.3L719.2 1221.8L736.4 1212.9Z" class="fwr"/>
<path d="M735.4 1230.2L722.4 1237.3L721.2 1222.9L734.6 1215.9Z" class="bv45"/>
<path d="M737.3 1231.2L720.7 1240.3L719.2 1221.8L736.4 1212.9L737.3 1231.2" class="sm0"/>
<path d="M798.7 1231.2L815.3 1240.3L816.8 1221.8L799.6 1212.9Z" class="fwl"/>
<path d="M800.6 1230.2L813.6 1237.3L814.8 1222.9L801.4 1215.9Z" class="bv45"/>
<path d="M798.7 1231.2L815.3 1240.3L816.8 1221.8L799.6 1212.9L798.7 1231.2" class="sm0"/>
<path d="M752.6 1204.5L736.4 1212.9L735.4 1193.5L752.2 1185.4Z" class="fwr"/>
<path d="M750.8 1203.3L738.1 1209.9L737.3 1194.8L750.4 1188.4Z" class="bv45"/>
<path d="M752.6 1204.5L736.4 1212.9L735.4 1193.5L752.2 1185.4L752.6 1204.5" class="sm0"/>
<path d="M783.4 1204.5L799.6 1212.9L800.6 1193.5L783.8 1185.4Z" class="fwl"/>
<path d="M785.2 1203.3L797.9 1209.9L798.7 1194.8L785.6 1188.4Z" class="bv45"/>
<path d="M783.4 1204.5L799.6 1212.9L800.6 1193.5L783.8 1185.4L783.4 1204.5" class="sm0"/>
<path d="M768 1177.7L752.2 1185.4L751.6 1165.1L768 1157.8Z" class="fwr"/>
<path d="M766.2 1176.4L753.9 1182.4L753.5 1166.5L766.2 1160.8Z" class="bv45"/>
<path d="M768 1177.7L752.2 1185.4L751.6 1165.1L768 1157.8L768 1177.7" class="sm0"/>
<path d="M768 1177.7L783.8 1185.4L784.4 1165.1L768 1157.8Z" class="fwl"/>
<path d="M769.8 1176.4L782.1 1182.4L782.5 1166.5L769.8 1160.8Z" class="bv45"/>
<path d="M768 1177.7L783.8 1185.4L784.4 1165.1L768 1157.8L768 1177.7" class="sm0"/>
<path d="M673.7 1267.5L687.1 1278L684.5 1260.2L670.7 1250Z" class="fwlo"/>
<path d="M674.8 1266.8L685.3 1274.9L683.3 1261L672.5 1253.1Z" class="bv45"/>
<path d="M687.1 1278L684.5 1260.2L670.7 1250" class="sm0"/>
<path d="M720.7 1240.3L735.6 1250L717.9 1260.2L703.1 1250Z" class="fwt"/>
<path d="M720.4 1242.5L732 1250L718.2 1258L706.7 1250Z" class="bv45"/>
<path d="M720.7 1240.3L735.6 1250L717.9 1260.2L703.1 1250L720.7 1240.3" class="sm0"/>
<path d="M752.2 1240.3L768 1250L751.3 1260.2L735.6 1250Z" class="fwt"/>
<path d="M752.1 1242.5L764.4 1250L751.4 1258L739.1 1250Z" class="bv45"/>
<path d="M752.2 1240.3L768 1250L751.3 1260.2L735.6 1250L752.2 1240.3" class="sm0"/>
<path d="M783.8 1240.3L800.4 1250L784.7 1260.2L768 1250Z" class="fwt"/>
<path d="M783.9 1242.5L796.9 1250L784.6 1258L771.6 1250Z" class="bv45"/>
<path d="M783.8 1240.3L800.4 1250L784.7 1260.2L768 1250L783.8 1240.3" class="sm0"/>
<path d="M815.3 1240.3L832.9 1250L818.1 1260.2L800.4 1250Z" class="fwt"/>
<path d="M815.6 1242.5L829.3 1250L817.8 1258L804 1250Z" class="bv45"/>
<path d="M815.3 1240.3L832.9 1250L818.1 1260.2L800.4 1250L815.3 1240.3" class="sm0"/>
<path d="M862.3 1267.5L848.9 1278L851.5 1260.2L865.3 1250Z" class="fwro"/>
<path d="M861.2 1266.8L850.7 1274.9L852.7 1261L863.5 1253.1Z" class="bv45"/>
<path d="M848.9 1278L851.5 1260.2L865.3 1250" class="sm0"/>
<path d="M720.7 1240.3L703.1 1250L701 1231.3L719.2 1221.8Z" class="fwr"/>
<path d="M718.6 1239.3L704.9 1246.9L703.2 1232.3L717.4 1224.9Z" class="bv45"/>
<path d="M720.7 1240.3L703.1 1250L701 1231.3L719.2 1221.8L720.7 1240.3" class="sm0"/>
<path d="M815.3 1240.3L832.9 1250L835 1231.3L816.8 1221.8Z" class="fwl"/>
<path d="M817.4 1239.3L831.1 1246.9L832.8 1232.3L818.6 1224.9Z" class="bv45"/>
<path d="M815.3 1240.3L832.9 1250L835 1231.3L816.8 1221.8L815.3 1240.3" class="sm0"/>
<path d="M736.4 1212.9L719.2 1221.8L717.6 1202.2L735.4 1193.5Z" class="fwr"/>
<path d="M734.4 1211.8L721 1218.7L719.7 1203.4L733.6 1196.6Z" class="bv45"/>
<path d="M736.4 1212.9L719.2 1221.8L717.6 1202.2L735.4 1193.5L736.4 1212.9" class="sm0"/>
<path d="M799.6 1212.9L816.8 1221.8L818.4 1202.2L800.6 1193.5Z" class="fwl"/>
<path d="M801.6 1211.8L815 1218.7L816.3 1203.4L802.4 1196.6Z" class="bv45"/>
<path d="M799.6 1212.9L816.8 1221.8L818.4 1202.2L800.6 1193.5L799.6 1212.9" class="sm0"/>
<path d="M752.2 1185.4L735.4 1193.5L734.3 1172.9L751.6 1165.1Z" class="fwr"/>
<path d="M750.2 1184.1L737.1 1190.4L736.3 1174.3L749.8 1168.2Z" class="bv45"/>
<path d="M752.2 1185.4L735.4 1193.5L734.3 1172.9L751.6 1165.1L752.2 1185.4" class="sm0"/>
<path d="M783.8 1185.4L800.6 1193.5L801.7 1172.9L784.4 1165.1Z" class="fwl"/>
<path d="M785.8 1184.1L798.9 1190.4L799.7 1174.3L786.2 1168.2Z" class="bv45"/>
<path d="M783.8 1185.4L800.6 1193.5L801.7 1172.9L784.4 1165.1L783.8 1185.4" class="sm0"/>
<path d="M768 1157.8L751.6 1165.1L751.1 1143.4L768 1136.5Z" class="fwr"/>
<path d="M766.2 1156.2L753.4 1161.9L753 1145L766.2 1139.6Z" class="bv45"/>
<path d="M768 1157.8L751.6 1165.1L751.1 1143.4L768 1136.5L768 1157.8" class="sm0"/>
<path d="M768 1157.8L784.4 1165.1L784.9 1143.4L768 1136.5Z" class="fwl"/>
<path d="M769.8 1156.2L782.6 1161.9L783 1145L769.8 1139.6Z" class="bv45"/>
<path d="M768 1157.8L784.4 1165.1L784.9 1143.4L768 1136.5L768 1157.8" class="sm0"/>
<path d="M768 1102L784.4 1107.7L768 1113.8L751.6 1107.7Z" class="fwt"/>
<path d="M768 1103.3L780.8 1107.8L768 1112.5L755.2 1107.8Z" class="bv45"/>
<path d="M784.4 1107.7L768 1113.8L751.6 1107.7" class="sm0"/>
<path d="M703.1 1250L717.9 1260.2L699.1 1271.1L684.5 1260.2Z" class="fwt"/>
<path d="M702.7 1252.3L714.2 1260.3L699.6 1268.7L688.2 1260.3Z" class="bv45"/>
<path d="M703.1 1250L717.9 1260.2L699.1 1271.1M684.5 1260.2L703.1 1250" class="sm0"/>
<path d="M687.1 1278L701.4 1289L699.1 1271.1L684.5 1260.2Z" class="fwlo"/>
<path d="M688.4 1277.2L699.5 1285.8L697.8 1271.9L686.4 1263.4Z" class="bv45"/>
<path d="M701.4 1289L699.1 1271.1M684.5 1260.2L687.1 1278" class="sm0"/>
<path d="M735.6 1250L751.3 1260.2L733.6 1271.1L717.9 1260.2Z" class="fwt"/>
<path d="M735.3 1252.3L747.6 1260.3L733.8 1268.7L721.6 1260.3Z" class="bv45"/>
<path d="M735.6 1250L751.3 1260.2L733.6 1271.1L717.9 1260.2L735.6 1250" class="sm0"/>
<path d="M768 1250L784.7 1260.2L768 1271.1L751.3 1260.2Z" class="fwt"/>
<path d="M768 1252.3L781 1260.3L768 1268.7L755 1260.3Z" class="bv45"/>
<path d="M768 1250L784.7 1260.2L768 1271.1L751.3 1260.2L768 1250" class="sm0"/>
<path d="M800.4 1250L818.1 1260.2L802.4 1271.1L784.7 1260.2Z" class="fwt"/>
<path d="M800.7 1252.3L814.4 1260.3L802.2 1268.7L788.4 1260.3Z" class="bv45"/>
<path d="M800.4 1250L818.1 1260.2L802.4 1271.1L784.7 1260.2L800.4 1250" class="sm0"/>
<path d="M832.9 1250L851.5 1260.2L836.9 1271.1L818.1 1260.2Z" class="fwt"/>
<path d="M833.3 1252.3L847.8 1260.3L836.4 1268.7L821.8 1260.3Z" class="bv45"/>
<path d="M832.9 1250L851.5 1260.2M836.9 1271.1L818.1 1260.2L832.9 1250" class="sm0"/>
<path d="M848.9 1278L834.6 1289L836.9 1271.1L851.5 1260.2Z" class="fwro"/>
<path d="M847.6 1277.2L836.5 1285.8L838.2 1271.9L849.6 1263.4Z" class="bv45"/>
<path d="M834.6 1289L836.9 1271.1M851.5 1260.2L848.9 1278" class="sm0"/>
<path d="M703.1 1250L684.5 1260.2L681.7 1241.3L701 1231.3Z" class="fwr"/>
<path d="M700.8 1249L686.3 1257L684.1 1242.2L699.2 1234.4Z" class="bv45"/>
<path d="M703.1 1250L684.5 1260.2M681.7 1241.3L701 1231.3L703.1 1250" class="sm0"/>
<path d="M670.7 1250L684.5 1260.2L681.7 1241.3L667.5 1231.3Z" class="fwlo"/>
<path d="M671.9 1249L682.6 1257L680.5 1242.2L669.4 1234.4Z" class="bv45"/>
<path d="M670.7 1250L684.5 1260.2M681.7 1241.3L667.5 1231.3" class="sm0"/>
<path d="M865.3 1250L851.5 1260.2L854.3 1241.3L868.5 1231.3Z" class="fwro"/>
<path d="M864.1 1249L853.4 1257L855.5 1242.2L866.6 1234.4Z" class="bv45"/>
<path d="M865.3 1250L851.5 1260.2M854.3 1241.3L868.5 1231.3" class="sm0"/>
<path d="M832.9 1250L851.5 1260.2L854.3 1241.3L835 1231.3Z" class="fwl"/>
<path d="M835.2 1249L849.7 1257L851.9 1242.2L836.8 1234.4Z" class="bv45"/>
<path d="M832.9 1250L851.5 1260.2M854.3 1241.3L835 1231.3L832.9 1250" class="sm0"/>
<path d="M719.2 1221.8L701 1231.3L698.7 1211.3L717.6 1202.2Z" class="fwr"/>
<path d="M717 1220.7L702.8 1228.1L701 1212.5L715.8 1205.3Z" class="bv45"/>
<path d="M719.2 1221.8L701 1231.3L698.7 1211.3L717.6 1202.2L719.2 1221.8" class="sm0"/>
<path d="M816.8 1221.8L835 1231.3L837.3 1211.3L818.4 1202.2Z" class="fwl"/>
<path d="M819 1220.7L833.2 1228.1L835 1212.5L820.2 1205.3Z" class="bv45"/>
<path d="M816.8 1221.8L835 1231.3L837.3 1211.3L818.4 1202.2L816.8 1221.8" class="sm0"/>
<path d="M735.4 1193.5L717.6 1202.2L715.9 1181.1L734.3 1172.9Z" class="fwr"/>
<path d="M733.3 1192.2L719.4 1198.9L718.1 1182.5L732.4 1176.1Z" class="bv45"/>
<path d="M735.4 1193.5L717.6 1202.2L715.9 1181.1L734.3 1172.9L735.4 1193.5" class="sm0"/>
<path d="M800.6 1193.5L818.4 1202.2L820.1 1181.1L801.7 1172.9Z" class="fwl"/>
<path d="M802.7 1192.2L816.6 1198.9L817.9 1182.5L803.6 1176.1Z" class="bv45"/>
<path d="M800.6 1193.5L818.4 1202.2L820.1 1181.1L801.7 1172.9L800.6 1193.5" class="sm0"/>
<path d="M751.6 1165.1L734.3 1172.9L733.2 1150.8L751.1 1143.4Z" class="fwr"/>
<path d="M749.6 1163.6L736.1 1169.6L735.2 1152.4L749.2 1146.7Z" class="bv45"/>
<path d="M751.6 1165.1L734.3 1172.9L733.2 1150.8L751.1 1143.4L751.6 1165.1" class="sm0"/>
<path d="M784.4 1165.1L801.7 1172.9L802.8 1150.8L784.9 1143.4Z" class="fwl"/>
<path d="M786.4 1163.6L799.9 1169.6L800.8 1152.4L786.8 1146.7Z" class="bv45"/>
<path d="M784.4 1165.1L801.7 1172.9L802.8 1150.8L784.9 1143.4L784.4 1165.1" class="sm0"/>
<path d="M751.6 1107.7L768 1113.8L750.5 1120.3L734.1 1113.8Z" class="fwt"/>
<path d="M751.4 1109.1L764.3 1113.9L750.7 1118.9L737.9 1113.9Z" class="bv45"/>
<path d="M751.6 1107.7L768 1113.8M750.5 1120.3L734.1 1113.8" class="sm0"/>
<path d="M768 1136.5L751.1 1143.4L750.5 1120.3L768 1113.8Z" class="fwr"/>
<path d="M766.1 1134.7L752.9 1140.2L752.5 1122.1L766.1 1117.1Z" class="bv45"/>
<path d="M768 1136.5L751.1 1143.4L750.5 1120.3M768 1113.8L768 1136.5" class="sm0"/>
<path d="M784.4 1107.7L801.9 1113.8L785.5 1120.3L768 1113.8Z" class="fwt"/>
<path d="M784.6 1109.1L798.1 1113.9L785.3 1118.9L771.7 1113.9Z" class="bv45"/>
<path d="M801.9 1113.8L785.5 1120.3M768 1113.8L784.4 1107.7" class="sm0"/>
<path d="M768 1136.5L784.9 1143.4L785.5 1120.3L768 1113.8Z" class="fwl"/>
<path d="M769.9 1134.7L783.1 1140.2L783.5 1122.1L769.9 1117.1Z" class="bv45"/>
<path d="M768 1136.5L784.9 1143.4L785.5 1120.3M768 1113.8L768 1136.5" class="sm0"/>
<path d="M717.9 1260.2L733.6 1271.1L714.7 1282.6L699.1 1271.1Z" class="fwt"/>
<path d="M717.6 1262.7L729.8 1271.1L715.1 1280.1L702.9 1271.1Z" class="bv45"/>
<path d="M717.9 1260.2L733.6 1271.1L714.7 1282.6M699.1 1271.1L717.9 1260.2" class="sm0"/>
<path d="M701.4 1289L716.5 1300.7L714.7 1282.6L699.1 1271.1Z" class="fwlo"/>
<path d="M702.8 1288.3L714.6 1297.5L713.2 1283.4L701.1 1274.3Z" class="bv45"/>
<path d="M716.5 1300.7L714.7 1282.6M699.1 1271.1L701.4 1289" class="sm0"/>
<path d="M751.3 1260.2L768 1271.1L750.2 1282.6L733.6 1271.1Z" class="fwt"/>
<path d="M751.2 1262.7L764.2 1271.1L750.4 1280.1L737.4 1271.1Z" class="bv45"/>
<path d="M751.3 1260.2L768 1271.1L750.2 1282.6L733.6 1271.1L751.3 1260.2" class="sm0"/>
<path d="M784.7 1260.2L802.4 1271.1L785.8 1282.6L768 1271.1Z" class="fwt"/>
<path d="M784.8 1262.7L798.6 1271.1L785.6 1280.1L771.8 1271.1Z" class="bv45"/>
<path d="M784.7 1260.2L802.4 1271.1L785.8 1282.6L768 1271.1L784.7 1260.2" class="sm0"/>
<path d="M818.1 1260.2L836.9 1271.1L821.3 1282.6L802.4 1271.1Z" class="fwt"/>
<path d="M818.4 1262.7L833.1 1271.1L820.9 1280.1L806.2 1271.1Z" class="bv45"/>
<path d="M818.1 1260.2L836.9 1271.1M821.3 1282.6L802.4 1271.1L818.1 1260.2" class="sm0"/>
<path d="M834.6 1289L819.5 1300.7L821.3 1282.6L836.9 1271.1Z" class="fwro"/>
<path d="M833.2 1288.3L821.4 1297.5L822.8 1283.4L834.9 1274.3Z" class="bv45"/>
<path d="M819.5 1300.7L821.3 1282.6M836.9 1271.1L834.6 1289" class="sm0"/>
<path d="M701 1231.3L681.7 1241.3L678.7 1221L698.7 1211.3Z" class="fwr"/>
<path d="M698.6 1230.2L683.5 1238L681.2 1222.2L696.8 1214.6Z" class="bv45"/>
<path d="M701 1231.3L681.7 1241.3M678.7 1221L698.7 1211.3L701 1231.3" class="sm0"/>
<path d="M667.5 1231.3L681.7 1241.3L678.7 1221L664.1 1211.3Z" class="fwlo"/>
<path d="M668.7 1230.2L679.8 1238L677.4 1222.2L666.1 1214.6Z" class="bv45"/>
<path d="M667.5 1231.3L681.7 1241.3M678.7 1221L664.1 1211.3" class="sm0"/>
<path d="M868.5 1231.3L854.3 1241.3L857.3 1221L871.9 1211.3Z" class="fwro"/>
<path d="M867.3 1230.2L856.2 1238L858.6 1222.2L869.9 1214.6Z" class="bv45"/>
<path d="M868.5 1231.3L854.3 1241.3M857.3 1221L871.9 1211.3" class="sm0"/>
<path d="M835 1231.3L854.3 1241.3L857.3 1221L837.3 1211.3Z" class="fwl"/>
<path d="M837.4 1230.2L852.5 1238L854.8 1222.2L839.2 1214.6Z" class="bv45"/>
<path d="M835 1231.3L854.3 1241.3M857.3 1221L837.3 1211.3L835 1231.3" class="sm0"/>
<path d="M717.6 1202.2L698.7 1211.3L696.3 1189.9L715.9 1181.1Z" class="fwr"/>
<path d="M715.3 1200.8L700.6 1208L698.7 1191.3L714 1184.4Z" class="bv45"/>
<path d="M717.6 1202.2L698.7 1211.3L696.3 1189.9L715.9 1181.1L717.6 1202.2" class="sm0"/>
<path d="M818.4 1202.2L837.3 1211.3L839.7 1189.9L820.1 1181.1Z" class="fwl"/>
<path d="M820.7 1200.8L835.4 1208L837.3 1191.3L822 1184.4Z" class="bv45"/>
<path d="M818.4 1202.2L837.3 1211.3L839.7 1189.9L820.1 1181.1L818.4 1202.2" class="sm0"/>
<path d="M734.3 1172.9L715.9 1181.1L714.1 1158.7L733.2 1150.8Z" class="fwr"/>
<path d="M732.1 1171.3L717.8 1177.8L716.3 1160.2L731.2 1154.1Z" class="bv45"/>
<path d="M734.3 1172.9L715.9 1181.1L714.1 1158.7L733.2 1150.8L734.3 1172.9" class="sm0"/>
<path d="M801.7 1172.9L820.1 1181.1L821.9 1158.7L802.8 1150.8Z" class="fwl"/>
<path d="M803.9 1171.3L818.2 1177.8L819.7 1160.2L804.8 1154.1Z" class="bv45"/>
<path d="M801.7 1172.9L820.1 1181.1L821.9 1158.7L802.8 1150.8L801.7 1172.9" class="sm0"/>
<path d="M734.1 1113.8L750.5 1120.3L732 1127.2L715.6 1120.3Z" class="fwt"/>
<path d="M733.9 1115.3L746.7 1120.3L732.2 1125.7L719.4 1120.3Z" class="bv45"/>
<path d="M734.1 1113.8L750.5 1120.3M732 1127.2L715.6 1120.3" class="sm0"/>
<path d="M751.1 1143.4L733.2 1150.8L732 1127.2L750.5 1120.3Z" class="fwr"/>
<path d="M749 1141.7L735 1147.4L734.1 1129L748.6 1123.6Z" class="bv45"/>
<path d="M751.1 1143.4L733.2 1150.8L732 1127.2M750.5 1120.3L751.1 1143.4" class="sm0"/>
<path d="M801.9 1113.8L820.4 1120.3L804 1127.2L785.5 1120.3Z" class="fwt"/>
<path d="M802.1 1115.3L816.6 1120.3L803.8 1125.7L789.3 1120.3Z" class="bv45"/>
<path d="M820.4 1120.3L804 1127.2M785.5 1120.3L801.9 1113.8" class="sm0"/>
<path d="M784.9 1143.4L802.8 1150.8L804 1127.2L785.5 1120.3Z" class="fwl"/>
<path d="M787 1141.7L801 1147.4L801.9 1129L787.4 1123.6Z" class="bv45"/>
<path d="M784.9 1143.4L802.8 1150.8L804 1127.2M785.5 1120.3L784.9 1143.4" class="sm0"/>
<path d="M733.6 1271.1L750.2 1282.6L731.3 1295L714.7 1282.6Z" class="fwt"/>
<path d="M733.3 1273.7L746.3 1282.7L731.6 1292.3L718.6 1282.7Z" class="bv45"/>
<path d="M733.6 1271.1L750.2 1282.6L731.3 1295M714.7 1282.6L733.6 1271.1" class="sm0"/>
<path d="M716.5 1300.7L732.6 1313.2L731.3 1295L714.7 1282.6Z" class="fwlo"/>
<path d="M718.1 1300.1L730.6 1309.8L729.7 1295.6L716.7 1286Z" class="bv45"/>
<path d="M732.6 1313.2L731.3 1295M714.7 1282.6L716.5 1300.7" class="sm0"/>
<path d="M768 1271.1L785.8 1282.6L768 1295L750.2 1282.6Z" class="fwt"/>
<path d="M768 1273.7L781.9 1282.7L768 1292.3L754.1 1282.7Z" class="bv45"/>
<path d="M768 1271.1L785.8 1282.6L768 1295L750.2 1282.6L768 1271.1" class="sm0"/>
<path d="M802.4 1271.1L821.3 1282.6L804.7 1295L785.8 1282.6Z" class="fwt"/>
<path d="M802.7 1273.7L817.4 1282.7L804.4 1292.3L789.7 1282.7Z" class="bv45"/>
<path d="M802.4 1271.1L821.3 1282.6M804.7 1295L785.8 1282.6L802.4 1271.1" class="sm0"/>
<path d="M819.5 1300.7L803.4 1313.2L804.7 1295L821.3 1282.6Z" class="fwro"/>
<path d="M817.9 1300.1L805.4 1309.8L806.3 1295.6L819.3 1286Z" class="bv45"/>
<path d="M803.4 1313.2L804.7 1295M821.3 1282.6L819.5 1300.7" class="sm0"/>
<path d="M698.7 1211.3L678.7 1221L675.5 1199.3L696.3 1189.9Z" class="fwr"/>
<path d="M696.2 1210L680.6 1217.6L678.1 1200.6L694.3 1193.3Z" class="bv45"/>
<path d="M698.7 1211.3L678.7 1221M675.5 1199.3L696.3 1189.9L698.7 1211.3" class="sm0"/>
<path d="M664.1 1211.3L678.7 1221L675.5 1199.3L660.5 1189.9Z" class="fwlo"/>
<path d="M665.3 1210L676.7 1217.6L674.2 1200.6L662.5 1193.3Z" class="bv45"/>
<path d="M664.1 1211.3L678.7 1221M675.5 1199.3L660.5 1189.9" class="sm0"/>
<path d="M871.9 1211.3L857.3 1221L860.5 1199.3L875.5 1189.9Z" class="fwro"/>
<path d="M870.7 1210L859.3 1217.6L861.8 1200.6L873.5 1193.3Z" class="bv45"/>
<path d="M871.9 1211.3L857.3 1221M860.5 1199.3L875.5 1189.9" class="sm0"/>
<path d="M837.3 1211.3L857.3 1221L860.5 1199.3L839.7 1189.9Z" class="fwl"/>
<path d="M839.8 1210L855.4 1217.6L857.9 1200.6L841.7 1193.3Z" class="bv45"/>
<path d="M837.3 1211.3L857.3 1221M860.5 1199.3L839.7 1189.9L837.3 1211.3" class="sm0"/>
<path d="M715.9 1181.1L696.3 1189.9L693.7 1167L714.1 1158.7Z" class="fwr"/>
<path d="M713.5 1179.6L698.2 1186.5L696.2 1168.6L712.1 1162.1Z" class="bv45"/>
<path d="M715.9 1181.1L696.3 1189.9L693.7 1167L714.1 1158.7L715.9 1181.1" class="sm0"/>
<path d="M820.1 1181.1L839.7 1189.9L842.3 1167L821.9 1158.7Z" class="fwl"/>
<path d="M822.5 1179.6L837.8 1186.5L839.8 1168.6L823.9 1162.1Z" class="bv45"/>
<path d="M820.1 1181.1L839.7 1189.9L842.3 1167L821.9 1158.7L820.1 1181.1" class="sm0"/>
<path d="M715.6 1120.3L732 1127.2L712.1 1134.5L695.9 1127.2Z" class="fwt"/>
<path d="M715.2 1121.8L728 1127.2L712.5 1132.9L699.9 1127.2Z" class="bv45"/>
<path d="M715.6 1120.3L732 1127.2M712.1 1134.5L695.9 1127.2" class="sm0"/>
<path d="M733.2 1150.8L714.1 1158.7L712.1 1134.5L732 1127.2Z" class="fwr"/>
<path d="M730.9 1149L716 1155.2L714.5 1136.4L729.9 1130.6Z" class="bv45"/>
<path d="M733.2 1150.8L714.1 1158.7L712.1 1134.5M732 1127.2L733.2 1150.8" class="sm0"/>
<path d="M820.4 1120.3L840.1 1127.2L823.9 1134.5L804 1127.2Z" class="fwt"/>
<path d="M820.8 1121.8L836.1 1127.2L823.5 1132.9L808 1127.2Z" class="bv45"/>
<path d="M840.1 1127.2L823.9 1134.5M804 1127.2L820.4 1120.3" class="sm0"/>
<path d="M802.8 1150.8L821.9 1158.7L823.9 1134.5L804 1127.2Z" class="fwl"/>
<path d="M805.1 1149L820 1155.2L821.5 1136.4L806.1 1130.6Z" class="bv45"/>
<path d="M802.8 1150.8L821.9 1158.7L823.9 1134.5M804 1127.2L802.8 1150.8" class="sm0"/>
<path d="M750.2 1282.6L768 1295L749 1308.1L731.3 1295Z" class="fwt"/>
<path d="M750.1 1285.4L764 1295L749.2 1305.3L735.4 1295Z" class="bv45"/>
<path d="M750.2 1282.6L768 1295L749 1308.1M731.3 1295L750.2 1282.6" class="sm0"/>
<path d="M732.6 1313.2L749.7 1326.5L749 1308.1L731.3 1295Z" class="fwlo"/>
<path d="M734.4 1312.6L747.7 1323L747.2 1308.7L733.4 1298.4Z" class="bv45"/>
<path d="M749.7 1326.5L749 1308.1M731.3 1295L732.6 1313.2" class="sm0"/>
<path d="M785.8 1282.6L804.7 1295L787 1308.1L768 1295Z" class="fwt"/>
<path d="M785.9 1285.4L800.6 1295L786.8 1305.3L772 1295Z" class="bv45"/>
<path d="M785.8 1282.6L804.7 1295M787 1308.1L768 1295L785.8 1282.6" class="sm0"/>
<path d="M803.4 1313.2L786.3 1326.5L787 1308.1L804.7 1295Z" class="fwro"/>
<path d="M801.6 1312.6L788.3 1323L788.8 1308.7L802.6 1298.4Z" class="bv45"/>
<path d="M786.3 1326.5L787 1308.1M804.7 1295L803.4 1313.2" class="sm0"/>
<path d="M696.3 1189.9L675.5 1199.3L672 1176L693.7 1167Z" class="fwr"/>
<path d="M693.7 1188.4L677.4 1195.7L674.7 1177.5L691.7 1170.5Z" class="bv45"/>
<path d="M696.3 1189.9L675.5 1199.3M672 1176L693.7 1167L696.3 1189.9" class="sm0"/>
<path d="M660.5 1189.9L675.5 1199.3L672 1176L656.6 1167Z" class="fwlo"/>
<path d="M661.7 1188.4L673.4 1195.7L670.7 1177.5L658.7 1170.5Z" class="bv45"/>
<path d="M660.5 1189.9L675.5 1199.3M672 1176L656.6 1167" class="sm0"/>
<path d="M875.5 1189.9L860.5 1199.3L864 1176L879.4 1167Z" class="fwro"/>
<path d="M874.3 1188.4L862.6 1195.7L865.3 1177.5L877.3 1170.5Z" class="bv45"/>
<path d="M875.5 1189.9L860.5 1199.3M864 1176L879.4 1167" class="sm0"/>
<path d="M839.7 1189.9L860.5 1199.3L864 1176L842.3 1167Z" class="fwl"/>
<path d="M842.3 1188.4L858.6 1195.7L861.3 1177.5L844.3 1170.5Z" class="bv45"/>
<path d="M839.7 1189.9L860.5 1199.3M864 1176L842.3 1167L839.7 1189.9" class="sm0"/>
<path d="M695.9 1127.2L712.1 1134.5L691 1142.4L674.9 1134.5Z" class="fwt"/>
<path d="M695.4 1128.8L708 1134.6L691.5 1140.7L679 1134.6Z" class="bv45"/>
<path d="M695.9 1127.2L712.1 1134.5M691 1142.4L674.9 1134.5" class="sm0"/>
<path d="M714.1 1158.7L693.7 1167L691 1142.4L712.1 1134.5Z" class="fwr"/>
<path d="M711.6 1156.9L695.7 1163.4L693.5 1144.2L710.1 1138.1Z" class="bv45"/>
<path d="M714.1 1158.7L693.7 1167L691 1142.4M712.1 1134.5L714.1 1158.7" class="sm0"/>
<path d="M840.1 1127.2L861.1 1134.5L845 1142.4L823.9 1134.5Z" class="fwt"/>
<path d="M840.6 1128.8L857 1134.6L844.5 1140.7L828 1134.6Z" class="bv45"/>
<path d="M861.1 1134.5L845 1142.4M823.9 1134.5L840.1 1127.2" class="sm0"/>
<path d="M821.9 1158.7L842.3 1167L845 1142.4L823.9 1134.5Z" class="fwl"/>
<path d="M824.4 1156.9L840.3 1163.4L842.5 1144.2L825.9 1138.1Z" class="bv45"/>
<path d="M821.9 1158.7L842.3 1167L845 1142.4M823.9 1134.5L821.9 1158.7" class="sm0"/>
<path d="M768 1295L787 1308.1L768 1322.2L749 1308.1Z" class="fwt"/>
<path d="M768 1297.9L782.8 1308.2L768 1319.1L753.2 1308.2Z" class="bv45"/>
<path d="M768 1295L787 1308.1M749 1308.1L768 1295" class="sm0"/>
<path d="M786.3 1326.5L768 1340.6L768 1322.2L787 1308.1Z" class="fwro"/>
<path d="M784.3 1326L770 1337L770 1322.6L784.8 1311.7Z" class="bv45"/>
<path d="M787 1308.1L786.3 1326.5" class="sm0"/>
<path d="M749.7 1326.5L768 1340.6L768 1322.2L749 1308.1Z" class="fwlo"/>
<path d="M751.7 1326L766 1337L766 1322.6L751.2 1311.7Z" class="bv45"/>
<path d="M749 1308.1L749.7 1326.5" class="sm0"/>
<path d="M674.9 1134.5L691 1142.4L668.3 1150.8L652.4 1142.4Z" class="fwt"/>
<path d="M674.2 1136.3L686.7 1142.4L669 1149L656.7 1142.4Z" class="bv45"/>
<path d="M674.9 1134.5L691 1142.4" class="sm0"/>
<path d="M693.7 1167L672 1176L668.3 1150.8L691 1142.4Z" class="fwr"/>
<path d="M691 1165.3L674 1172.2L671.1 1152.6L688.8 1146Z" class="bv45"/>
<path d="M693.7 1167L672 1176M691 1142.4L693.7 1167" class="sm0"/>
<path d="M656.6 1167L672 1176L668.3 1150.8L652.4 1142.4Z" class="fwlo"/>
<path d="M657.9 1165.3L669.9 1172.2L667 1152.6L654.6 1146Z" class="bv45"/>
<path d="M656.6 1167L672 1176" class="sm0"/>
<path d="M861.1 1134.5L883.6 1142.4L867.7 1150.8L845 1142.4Z" class="fwt"/>
<path d="M861.8 1136.3L879.3 1142.4L867 1149L849.3 1142.4Z" class="bv45"/>
<path d="M845 1142.4L861.1 1134.5" class="sm0"/>
<path d="M879.4 1167L864 1176L867.7 1150.8L883.6 1142.4Z" class="fwro"/>
<path d="M878.1 1165.3L866.1 1172.2L869 1152.6L881.4 1146Z" class="bv45"/>
<path d="M879.4 1167L864 1176" class="sm0"/>
<path d="M842.3 1167L864 1176L867.7 1150.8L845 1142.4Z" class="fwl"/>
<path d="M845 1165.3L862 1172.2L864.9 1152.6L847.2 1146Z" class="bv45"/>
<path d="M842.3 1167L864 1176M845 1142.4L842.3 1167" class="sm0"/>
<path d="M768 1102L652.4 1142.4L673.7 1267.5L768 1340.6L862.3 1267.5L883.6 1142.4Z" fill="none" stroke="#ffffff" stroke-width="2.2" stroke-linejoin="round"/>
<ellipse cx="768.0" cy="1209.2" rx="62.0" ry="66.0" fill="url(#glow)"/>
<g>
<path d="M737.3 1231.2L752.7 1240.6L752.2 1221.5L736.4 1212.4Z" fill="url(#ol)" stroke="#d2580f" stroke-width="0.51"/>
<path d="M752.7 1240.6L752.2 1221.5L744.6 1226.4Z" fill="#000000" fill-opacity="0.05"/>
<path d="M752.2 1221.5L736.4 1212.4L744.6 1226.4Z" fill="#ffffff" fill-opacity="0.06"/>
<path d="M736.4 1212.4L737.3 1231.2L744.6 1226.4Z" fill="#ffffff" fill-opacity="0.03"/>
<path d="M798.7 1231.2L783.3 1240.6L783.8 1221.5L799.6 1212.4Z" fill="url(#or)" stroke="#d2580f" stroke-width="0.51"/>
<path d="M783.3 1240.6L783.8 1221.5L791.4 1226.4Z" fill="#ffffff" fill-opacity="0.06"/>
<path d="M783.8 1221.5L799.6 1212.4L791.4 1226.4Z" fill="#000000" fill-opacity="0.05"/>
<path d="M799.6 1212.4L798.7 1231.2L791.4 1226.4Z" fill="#ffffff" fill-opacity="0.03"/>
<path d="M768 1177.7L784.3 1185.6L768 1194L751.7 1185.6Z" fill="url(#ot)" stroke="#d2580f" stroke-width="0.51"/>
<path d="M768.0 1177.7L784.3 1185.6L768.0 1185.8Z" fill="#ffffff" fill-opacity="0.10"/>
<path d="M768.0 1194.0L751.7 1185.6L768.0 1185.8Z" fill="#000000" fill-opacity="0.04"/>
<path d="M751.7 1185.6L768.0 1177.7L768.0 1185.8Z" fill="#ffffff" fill-opacity="0.05"/>
<path d="M783.3 1240.6L768 1250L768 1230.6L783.8 1221.5Z" fill="url(#or)" stroke="#d2580f" stroke-width="0.51"/>
<path d="M768.0 1250.0L768.0 1230.6L775.8 1235.7Z" fill="#ffffff" fill-opacity="0.06"/>
<path d="M768.0 1230.6L783.8 1221.5L775.8 1235.7Z" fill="#000000" fill-opacity="0.05"/>
<path d="M783.8 1221.5L783.3 1240.6L775.8 1235.7Z" fill="#ffffff" fill-opacity="0.03"/>
<path d="M752.7 1240.6L768 1250L768 1230.6L752.2 1221.5Z" fill="url(#ol)" stroke="#d2580f" stroke-width="0.51"/>
<path d="M768.0 1250.0L768.0 1230.6L760.2 1235.7Z" fill="#000000" fill-opacity="0.05"/>
<path d="M768.0 1230.6L752.2 1221.5L760.2 1235.7Z" fill="#ffffff" fill-opacity="0.06"/>
<path d="M752.2 1221.5L752.7 1240.6L760.2 1235.7Z" fill="#ffffff" fill-opacity="0.03"/>
<path d="M751.7 1185.6L768 1194L751.7 1202.4L735.4 1193.5Z" fill="url(#ot)" stroke="#d2580f" stroke-width="0.51"/>
<path d="M751.7 1185.6L768.0 1194.0L751.7 1193.9Z" fill="#ffffff" fill-opacity="0.10"/>
<path d="M751.7 1202.4L735.4 1193.5L751.7 1193.9Z" fill="#000000" fill-opacity="0.04"/>
<path d="M735.4 1193.5L751.7 1185.6L751.7 1193.9Z" fill="#ffffff" fill-opacity="0.05"/>
<path d="M736.4 1212.4L752.2 1221.5L751.7 1202.4L735.4 1193.5Z" fill="url(#ol)" stroke="#d2580f" stroke-width="0.51"/>
<path d="M752.2 1221.5L751.7 1202.4L743.9 1207.5Z" fill="#000000" fill-opacity="0.05"/>
<path d="M751.7 1202.4L735.4 1193.5L743.9 1207.5Z" fill="#ffffff" fill-opacity="0.06"/>
<path d="M735.4 1193.5L736.4 1212.4L743.9 1207.5Z" fill="#ffffff" fill-opacity="0.03"/>
<path d="M784.3 1185.6L800.6 1193.5L784.3 1202.4L768 1194Z" fill="url(#ot)" stroke="#d2580f" stroke-width="0.51"/>
<path d="M784.3 1185.6L800.6 1193.5L784.3 1193.9Z" fill="#ffffff" fill-opacity="0.10"/>
<path d="M784.3 1202.4L768.0 1194.0L784.3 1193.9Z" fill="#000000" fill-opacity="0.04"/>
<path d="M768.0 1194.0L784.3 1185.6L784.3 1193.9Z" fill="#ffffff" fill-opacity="0.05"/>
<path d="M799.6 1212.4L783.8 1221.5L784.3 1202.4L800.6 1193.5Z" fill="url(#or)" stroke="#d2580f" stroke-width="0.51"/>
<path d="M783.8 1221.5L784.3 1202.4L792.1 1207.5Z" fill="#ffffff" fill-opacity="0.06"/>
<path d="M784.3 1202.4L800.6 1193.5L792.1 1207.5Z" fill="#000000" fill-opacity="0.05"/>
<path d="M800.6 1193.5L799.6 1212.4L792.1 1207.5Z" fill="#ffffff" fill-opacity="0.03"/>
<path d="M768 1194L784.3 1202.4L768 1211.3L751.7 1202.4Z" fill="url(#ot)" stroke="#d2580f" stroke-width="0.51"/>
<path d="M768.0 1194.0L784.3 1202.4L768.0 1202.5Z" fill="#ffffff" fill-opacity="0.10"/>
<path d="M768.0 1211.3L751.7 1202.4L768.0 1202.5Z" fill="#000000" fill-opacity="0.04"/>
<path d="M751.7 1202.4L768.0 1194.0L768.0 1202.5Z" fill="#ffffff" fill-opacity="0.05"/>
<path d="M783.8 1221.5L768 1230.6L768 1211.3L784.3 1202.4Z" fill="url(#or)" stroke="#d2580f" stroke-width="0.51"/>
<path d="M768.0 1230.6L768.0 1211.3L776.0 1216.5Z" fill="#ffffff" fill-opacity="0.06"/>
<path d="M768.0 1211.3L784.3 1202.4L776.0 1216.5Z" fill="#000000" fill-opacity="0.05"/>
<path d="M784.3 1202.4L783.8 1221.5L776.0 1216.5Z" fill="#ffffff" fill-opacity="0.03"/>
<path d="M752.2 1221.5L768 1230.6L768 1211.3L751.7 1202.4Z" fill="url(#ol)" stroke="#d2580f" stroke-width="0.51"/>
<path d="M768.0 1230.6L768.0 1211.3L760.0 1216.5Z" fill="#000000" fill-opacity="0.05"/>
<path d="M768.0 1211.3L751.7 1202.4L760.0 1216.5Z" fill="#ffffff" fill-opacity="0.06"/>
<path d="M751.7 1202.4L752.2 1221.5L760.0 1216.5Z" fill="#ffffff" fill-opacity="0.03"/>
<path d="M768.0 1194.0L771.4 1176.2L764.6 1176.2Z" fill="#0a0a0a"/>
<path d="M751.7 1202.4L755.1 1184.6L748.3 1184.6Z" fill="#0a0a0a"/>
<path d="M751.7 1202.4L762.1 1210.7L764.7 1205.5Z" fill="#0a0a0a"/>
<path d="M751.7 1202.4L735.2 1206.6L738.2 1212.8Z" fill="#0a0a0a"/>
<path d="M784.3 1202.4L787.7 1184.6L780.9 1184.6Z" fill="#0a0a0a"/>
<path d="M784.3 1202.4L797.8 1212.8L800.8 1206.6Z" fill="#0a0a0a"/>
<path d="M784.3 1202.4L771.3 1205.5L773.9 1210.7Z" fill="#0a0a0a"/>
<path d="M752.2 1221.5L735.7 1225.7L738.7 1231.8Z" fill="#0a0a0a"/>
<path d="M783.8 1221.5L797.3 1231.8L800.3 1225.7Z" fill="#0a0a0a"/>
<path d="M768.0 1230.6L770.9 1216.8L765.1 1216.8Z" fill="#0a0a0a"/>
<path d="M768.0 1230.6L781.5 1241.0L784.5 1234.8Z" fill="#0a0a0a"/>
<path d="M768.0 1230.6L751.5 1234.8L754.5 1241.0Z" fill="#0a0a0a"/>
<circle cx="768.0" cy="1194.0" r="1.4" fill="#e8141c"/>
<circle cx="751.7" cy="1202.4" r="1.4" fill="#e8141c"/>
<circle cx="784.3" cy="1202.4" r="1.4" fill="#e8141c"/>
<circle cx="752.2" cy="1221.5" r="1.4" fill="#e8141c"/>
<circle cx="783.8" cy="1221.5" r="1.4" fill="#e8141c"/>
<circle cx="768.0" cy="1230.6" r="1.4" fill="#e8141c"/>
</g>
<path d="M758.7 1790.1L771.9 1797.4L758.7 1805L745.5 1797.4Z" class="fwt"/>
<path d="M758.7 1791.7L769 1797.4L758.7 1803.4L748.4 1797.4Z" class="bv45"/>
<path d="M758.7 1790.1L771.9 1797.4L758.7 1805L745.5 1797.4L758.7 1790.1" class="sm1"/>
<path d="M758.7 1790.1L745.5 1797.4L745.1 1781.5L758.7 1774.4Z" class="fwr"/>
<path d="M757.2 1789.2L746.9 1794.9L746.7 1782.5L757.2 1776.9Z" class="bv45"/>
<path d="M758.7 1790.1L745.5 1797.4L745.1 1781.5L758.7 1774.4L758.7 1790.1" class="sm1"/>
<path d="M758.7 1790.1L771.9 1797.4L772.3 1781.5L758.7 1774.4Z" class="fwl"/>
<path d="M760.2 1789.2L770.5 1794.9L770.7 1782.5L760.2 1776.9Z" class="bv45"/>
<path d="M758.7 1790.1L771.9 1797.4L772.3 1781.5L758.7 1774.4L758.7 1790.1" class="sm1"/>
<path d="M745.5 1797.4L758.7 1805L744.9 1813L731.6 1805Z" class="fwt"/>
<path d="M745.4 1799.1L755.7 1805L744.9 1811.2L734.6 1805Z" class="bv45"/>
<path d="M745.5 1797.4L758.7 1805L744.9 1813L731.6 1805L745.5 1797.4" class="sm1"/>
<path d="M771.9 1797.4L785.8 1805L772.5 1813L758.7 1805Z" class="fwt"/>
<path d="M772 1799.1L782.8 1805L772.5 1811.2L761.7 1805Z" class="bv45"/>
<path d="M771.9 1797.4L785.8 1805L772.5 1813L758.7 1805L771.9 1797.4" class="sm1"/>
<path d="M745.5 1797.4L731.6 1805L730.9 1788.9L745.1 1781.5Z" class="fwr"/>
<path d="M743.9 1796.5L733.1 1802.4L732.6 1789.9L743.6 1784.1Z" class="bv45"/>
<path d="M745.5 1797.4L731.6 1805L730.9 1788.9L745.1 1781.5L745.5 1797.4" class="sm1"/>
<path d="M771.9 1797.4L785.8 1805L786.5 1788.9L772.3 1781.5Z" class="fwl"/>
<path d="M773.5 1796.5L784.3 1802.4L784.8 1789.9L773.8 1784.1Z" class="bv45"/>
<path d="M771.9 1797.4L785.8 1805L786.5 1788.9L772.3 1781.5L771.9 1797.4" class="sm1"/>
<path d="M758.7 1774.4L745.1 1781.5L744.8 1764.8L758.7 1757.9Z" class="fwr"/>
<path d="M757.2 1773.4L746.6 1778.9L746.3 1765.8L757.2 1760.5Z" class="bv45"/>
<path d="M758.7 1774.4L745.1 1781.5L744.8 1764.8L758.7 1757.9L758.7 1774.4" class="sm1"/>
<path d="M758.7 1774.4L772.3 1781.5L772.6 1764.8L758.7 1757.9Z" class="fwl"/>
<path d="M760.2 1773.4L770.8 1778.9L771.1 1765.8L760.2 1760.5Z" class="bv45"/>
<path d="M758.7 1774.4L772.3 1781.5L772.6 1764.8L758.7 1757.9L758.7 1774.4" class="sm1"/>
<path d="M731.6 1805L744.9 1813L730.3 1821.3L717.2 1813Z" class="fwt"/>
<path d="M731.5 1806.8L741.8 1813L730.5 1819.5L720.2 1813Z" class="bv45"/>
<path d="M731.6 1805L744.9 1813L730.3 1821.3L717.2 1813L731.6 1805" class="sm1"/>
<path d="M758.7 1805L772.5 1813L758.7 1821.3L744.9 1813Z" class="fwt"/>
<path d="M758.7 1806.8L769.5 1813L758.7 1819.5L747.9 1813Z" class="bv45"/>
<path d="M758.7 1805L772.5 1813L758.7 1821.3L744.9 1813L758.7 1805" class="sm1"/>
<path d="M785.8 1805L800.2 1813L787.1 1821.3L772.5 1813Z" class="fwt"/>
<path d="M785.9 1806.8L797.2 1813L786.9 1819.5L775.6 1813Z" class="bv45"/>
<path d="M785.8 1805L800.2 1813L787.1 1821.3L772.5 1813L785.8 1805" class="sm1"/>
<path d="M731.6 1805L717.2 1813L716.1 1796.7L730.9 1788.9Z" class="fwr"/>
<path d="M729.9 1804.1L718.6 1810.3L717.8 1797.6L729.4 1791.6Z" class="bv45"/>
<path d="M731.6 1805L717.2 1813L716.1 1796.7L730.9 1788.9L731.6 1805" class="sm1"/>
<path d="M785.8 1805L800.2 1813L801.3 1796.7L786.5 1788.9Z" class="fwl"/>
<path d="M787.5 1804.1L798.8 1810.3L799.6 1797.6L788 1791.6Z" class="bv45"/>
<path d="M785.8 1805L800.2 1813L801.3 1796.7L786.5 1788.9L785.8 1805" class="sm1"/>
<path d="M745.1 1781.5L730.9 1788.9L730.2 1772L744.8 1764.8Z" class="fwr"/>
<path d="M743.5 1780.5L732.4 1786.3L731.9 1773.1L743.2 1767.4Z" class="bv45"/>
<path d="M745.1 1781.5L730.9 1788.9L730.2 1772L744.8 1764.8L745.1 1781.5" class="sm1"/>
<path d="M772.3 1781.5L786.5 1788.9L787.2 1772L772.6 1764.8Z" class="fwl"/>
<path d="M773.9 1780.5L785 1786.3L785.5 1773.1L774.2 1767.4Z" class="bv45"/>
<path d="M772.3 1781.5L786.5 1788.9L787.2 1772L772.6 1764.8L772.3 1781.5" class="sm1"/>
<path d="M758.7 1757.9L744.8 1764.8L744.4 1747.2L758.7 1740.5Z" class="fwr"/>
<path d="M757.1 1756.7L746.3 1762.1L746 1748.4L757.1 1743.2Z" class="bv45"/>
<path d="M758.7 1757.9L744.8 1764.8L744.4 1747.2L758.7 1740.5L758.7 1757.9" class="sm1"/>
<path d="M758.7 1757.9L772.6 1764.8L773 1747.2L758.7 1740.5Z" class="fwl"/>
<path d="M760.3 1756.7L771.1 1762.1L771.4 1748.4L760.3 1743.2Z" class="bv45"/>
<path d="M758.7 1757.9L772.6 1764.8L773 1747.2L758.7 1740.5L758.7 1757.9" class="sm1"/>
<path d="M717.2 1813L730.3 1821.3L715.1 1830.1L702 1821.3Z" class="fwt"/>
<path d="M716.9 1814.8L727.2 1821.3L715.3 1828.2L705.1 1821.3Z" class="bv45"/>
<path d="M717.2 1813L730.3 1821.3L715.1 1830.1L702 1821.3L717.2 1813" class="sm1"/>
<path d="M744.9 1813L758.7 1821.3L744.2 1830.1L730.3 1821.3Z" class="fwt"/>
<path d="M744.8 1814.8L755.6 1821.3L744.2 1828.2L733.5 1821.3Z" class="bv45"/>
<path d="M744.9 1813L758.7 1821.3L744.2 1830.1L730.3 1821.3L744.9 1813" class="sm1"/>
<path d="M772.5 1813L787.1 1821.3L773.2 1830.1L758.7 1821.3Z" class="fwt"/>
<path d="M772.6 1814.8L783.9 1821.3L773.2 1828.2L761.8 1821.3Z" class="bv45"/>
<path d="M772.5 1813L787.1 1821.3L773.2 1830.1L758.7 1821.3L772.5 1813" class="sm1"/>
<path d="M800.2 1813L815.4 1821.3L802.3 1830.1L787.1 1821.3Z" class="fwt"/>
<path d="M800.5 1814.8L812.3 1821.3L802.1 1828.2L790.2 1821.3Z" class="bv45"/>
<path d="M800.2 1813L815.4 1821.3L802.3 1830.1L787.1 1821.3L800.2 1813" class="sm1"/>
<path d="M717.2 1813L702 1821.3L700.4 1804.9L716.1 1796.7Z" class="fwr"/>
<path d="M715.3 1812.1L703.5 1818.6L702.3 1805.8L714.5 1799.4Z" class="bv45"/>
<path d="M717.2 1813L702 1821.3L700.4 1804.9L716.1 1796.7L717.2 1813" class="sm1"/>
<path d="M800.2 1813L815.4 1821.3L817 1804.9L801.3 1796.7Z" class="fwl"/>
<path d="M802.1 1812.1L813.9 1818.6L815.1 1805.8L802.9 1799.4Z" class="bv45"/>
<path d="M800.2 1813L815.4 1821.3L817 1804.9L801.3 1796.7L800.2 1813" class="sm1"/>
<path d="M730.9 1788.9L716.1 1796.7L714.9 1779.6L730.2 1772Z" class="fwr"/>
<path d="M729.2 1787.9L717.6 1794L716.7 1780.6L728.6 1774.7Z" class="bv45"/>
<path d="M730.9 1788.9L716.1 1796.7L714.9 1779.6L730.2 1772L730.9 1788.9" class="sm1"/>
<path d="M786.5 1788.9L801.3 1796.7L802.5 1779.6L787.2 1772Z" class="fwl"/>
<path d="M788.2 1787.9L799.8 1794L800.7 1780.6L788.8 1774.7Z" class="bv45"/>
<path d="M786.5 1788.9L801.3 1796.7L802.5 1779.6L787.2 1772L786.5 1788.9" class="sm1"/>
<path d="M744.8 1764.8L730.2 1772L729.4 1754.1L744.4 1747.2Z" class="fwr"/>
<path d="M743.1 1763.6L731.7 1769.3L731.1 1755.3L742.8 1749.9Z" class="bv45"/>
<path d="M744.8 1764.8L730.2 1772L729.4 1754.1L744.4 1747.2L744.8 1764.8" class="sm1"/>
<path d="M772.6 1764.8L787.2 1772L788 1754.1L773 1747.2Z" class="fwl"/>
<path d="M774.3 1763.6L785.7 1769.3L786.3 1755.3L774.6 1749.9Z" class="bv45"/>
<path d="M772.6 1764.8L787.2 1772L788 1754.1L773 1747.2L772.6 1764.8" class="sm1"/>
<path d="M758.7 1740.5L744.4 1747.2L744 1728.6L758.7 1722.2Z" class="fwr"/>
<path d="M757.1 1739.2L746 1744.4L745.7 1729.9L757.1 1725Z" class="bv45"/>
<path d="M758.7 1740.5L744.4 1747.2L744 1728.6L758.7 1722.2L758.7 1740.5" class="sm1"/>
<path d="M758.7 1740.5L773 1747.2L773.4 1728.6L758.7 1722.2Z" class="fwl"/>
<path d="M760.3 1739.2L771.4 1744.4L771.7 1729.9L760.3 1725Z" class="bv45"/>
<path d="M758.7 1740.5L773 1747.2L773.4 1728.6L758.7 1722.2L758.7 1740.5" class="sm1"/>
<path d="M659.6 1845.8L671.7 1855.2L669.3 1839.3L657 1830.1Z" class="fwlo"/>
<path d="M660.7 1845.1L670.1 1852.4L668.2 1840L658.6 1832.8Z" class="bv45"/>
<path d="M671.7 1855.2L669.3 1839.3L657 1830.1" class="sm1"/>
<path d="M702 1821.3L715.1 1830.1L699.1 1839.3L686 1830.1Z" class="fwt"/>
<path d="M701.7 1823.3L711.9 1830.1L699.4 1837.3L689.2 1830.1Z" class="bv45"/>
<path d="M702 1821.3L715.1 1830.1L699.1 1839.3L686 1830.1L702 1821.3" class="sm1"/>
<path d="M730.3 1821.3L744.2 1830.1L728.9 1839.3L715.1 1830.1Z" class="fwt"/>
<path d="M730.2 1823.3L741 1830.1L729.1 1837.3L718.3 1830.1Z" class="bv45"/>
<path d="M730.3 1821.3L744.2 1830.1L728.9 1839.3L715.1 1830.1L730.3 1821.3" class="sm1"/>
<path d="M758.7 1821.3L773.2 1830.1L758.7 1839.3L744.2 1830.1Z" class="fwt"/>
<path d="M758.7 1823.3L770 1830.1L758.7 1837.3L747.4 1830.1Z" class="bv45"/>
<path d="M758.7 1821.3L773.2 1830.1L758.7 1839.3L744.2 1830.1L758.7 1821.3" class="sm1"/>
<path d="M787.1 1821.3L802.3 1830.1L788.5 1839.3L773.2 1830.1Z" class="fwt"/>
<path d="M787.2 1823.3L799.1 1830.1L788.3 1837.3L776.4 1830.1Z" class="bv45"/>
<path d="M787.1 1821.3L802.3 1830.1L788.5 1839.3L773.2 1830.1L787.1 1821.3" class="sm1"/>
<path d="M815.4 1821.3L831.4 1830.1L818.3 1839.3L802.3 1830.1Z" class="fwt"/>
<path d="M815.7 1823.3L828.2 1830.1L818 1837.3L805.5 1830.1Z" class="bv45"/>
<path d="M815.4 1821.3L831.4 1830.1L818.3 1839.3L802.3 1830.1L815.4 1821.3" class="sm1"/>
<path d="M857.8 1845.8L845.7 1855.2L848.1 1839.3L860.4 1830.1Z" class="fwro"/>
<path d="M856.7 1845.1L847.3 1852.4L849.2 1840L858.8 1832.8Z" class="bv45"/>
<path d="M845.7 1855.2L848.1 1839.3L860.4 1830.1" class="sm1"/>
<path d="M702 1821.3L686 1830.1L684 1813.5L700.4 1804.9Z" class="fwr"/>
<path d="M700 1820.5L687.6 1827.3L686 1814.3L698.8 1807.7Z" class="bv45"/>
<path d="M702 1821.3L686 1830.1L684 1813.5L700.4 1804.9L702 1821.3" class="sm1"/>
<path d="M815.4 1821.3L831.4 1830.1L833.4 1813.5L817 1804.9Z" class="fwl"/>
<path d="M817.4 1820.5L829.8 1827.3L831.4 1814.3L818.6 1807.7Z" class="bv45"/>
<path d="M815.4 1821.3L831.4 1830.1L833.4 1813.5L817 1804.9L815.4 1821.3" class="sm1"/>
<path d="M716.1 1796.7L700.4 1804.9L698.8 1787.5L714.9 1779.6Z" class="fwr"/>
<path d="M714.2 1795.7L702 1802.1L700.7 1788.6L713.3 1782.4Z" class="bv45"/>
<path d="M716.1 1796.7L700.4 1804.9L698.8 1787.5L714.9 1779.6L716.1 1796.7" class="sm1"/>
<path d="M801.3 1796.7L817 1804.9L818.6 1787.5L802.5 1779.6Z" class="fwl"/>
<path d="M803.2 1795.7L815.4 1802.1L816.7 1788.6L804.1 1782.4Z" class="bv45"/>
<path d="M801.3 1796.7L817 1804.9L818.6 1787.5L802.5 1779.6L801.3 1796.7" class="sm1"/>
<path d="M730.2 1772L714.9 1779.6L713.7 1761.5L729.4 1754.1Z" class="fwr"/>
<path d="M728.4 1770.9L716.5 1776.8L715.5 1762.7L727.8 1756.9Z" class="bv45"/>
<path d="M730.2 1772L714.9 1779.6L713.7 1761.5L729.4 1754.1L730.2 1772" class="sm1"/>
<path d="M787.2 1772L802.5 1779.6L803.7 1761.5L788 1754.1Z" class="fwl"/>
<path d="M789 1770.9L800.9 1776.8L801.9 1762.7L789.6 1756.9Z" class="bv45"/>
<path d="M787.2 1772L802.5 1779.6L803.7 1761.5L788 1754.1L787.2 1772" class="sm1"/>
<path d="M744.4 1747.2L729.4 1754.1L728.6 1735.3L744 1728.6Z" class="fwr"/>
<path d="M742.7 1745.9L731 1751.3L730.4 1736.6L742.4 1731.4Z" class="bv45"/>
<path d="M744.4 1747.2L729.4 1754.1L728.6 1735.3L744 1728.6L744.4 1747.2" class="sm1"/>
<path d="M773 1747.2L788 1754.1L788.8 1735.3L773.4 1728.6Z" class="fwl"/>
<path d="M774.7 1745.9L786.4 1751.3L787 1736.6L775 1731.4Z" class="bv45"/>
<path d="M773 1747.2L788 1754.1L788.8 1735.3L773.4 1728.6L773 1747.2" class="sm1"/>
<path d="M758.7 1722.2L744 1728.6L743.6 1709L758.7 1702.9Z" class="fwr"/>
<path d="M757.1 1720.8L745.6 1725.8L745.3 1710.5L757.1 1705.7Z" class="bv45"/>
<path d="M758.7 1722.2L744 1728.6L743.6 1709L758.7 1702.9L758.7 1722.2" class="sm1"/>
<path d="M758.7 1722.2L773.4 1728.6L773.8 1709L758.7 1702.9Z" class="fwl"/>
<path d="M760.3 1720.8L771.8 1725.8L772.1 1710.5L760.3 1705.7Z" class="bv45"/>
<path d="M758.7 1722.2L773.4 1728.6L773.8 1709L758.7 1702.9L758.7 1722.2" class="sm1"/>
<path d="M758.7 1672L773.4 1677.1L758.7 1682.6L744 1677.1Z" class="fwt"/>
<path d="M758.7 1673.1L770.2 1677.2L758.7 1681.4L747.2 1677.2Z" class="bv45"/>
<path d="M773.4 1677.1L758.7 1682.6L744 1677.1" class="sm1"/>
<path d="M686 1830.1L699.1 1839.3L682.3 1849L669.3 1839.3Z" class="fwt"/>
<path d="M685.6 1832.1L695.8 1839.3L682.7 1846.9L672.6 1839.3Z" class="bv45"/>
<path d="M686 1830.1L699.1 1839.3L682.3 1849M669.3 1839.3L686 1830.1" class="sm1"/>
<path d="M671.7 1855.2L684.4 1865L682.3 1849L669.3 1839.3Z" class="fwlo"/>
<path d="M672.9 1854.5L682.7 1862.1L681.1 1849.7L671 1842.1Z" class="bv45"/>
<path d="M684.4 1865L682.3 1849M669.3 1839.3L671.7 1855.2" class="sm1"/>
<path d="M715.1 1830.1L728.9 1839.3L712.8 1849L699.1 1839.3Z" class="fwt"/>
<path d="M714.9 1832.1L725.6 1839.3L713.1 1846.9L702.4 1839.3Z" class="bv45"/>
<path d="M715.1 1830.1L728.9 1839.3L712.8 1849L699.1 1839.3L715.1 1830.1" class="sm1"/>
<path d="M744.2 1830.1L758.7 1839.3L743.4 1849L728.9 1839.3Z" class="fwt"/>
<path d="M744.1 1832.1L755.4 1839.3L743.5 1846.9L732.2 1839.3Z" class="bv45"/>
<path d="M744.2 1830.1L758.7 1839.3L743.4 1849L728.9 1839.3L744.2 1830.1" class="sm1"/>
<path d="M773.2 1830.1L788.5 1839.3L774 1849L758.7 1839.3Z" class="fwt"/>
<path d="M773.3 1832.1L785.2 1839.3L773.9 1846.9L762 1839.3Z" class="bv45"/>
<path d="M773.2 1830.1L788.5 1839.3L774 1849L758.7 1839.3L773.2 1830.1" class="sm1"/>
<path d="M802.3 1830.1L818.3 1839.3L804.6 1849L788.5 1839.3Z" class="fwt"/>
<path d="M802.5 1832.1L815 1839.3L804.3 1846.9L791.8 1839.3Z" class="bv45"/>
<path d="M802.3 1830.1L818.3 1839.3L804.6 1849L788.5 1839.3L802.3 1830.1" class="sm1"/>
<path d="M831.4 1830.1L848.1 1839.3L835.1 1849L818.3 1839.3Z" class="fwt"/>
<path d="M831.8 1832.1L844.8 1839.3L834.7 1846.9L821.6 1839.3Z" class="bv45"/>
<path d="M831.4 1830.1L848.1 1839.3M835.1 1849L818.3 1839.3L831.4 1830.1" class="sm1"/>
<path d="M845.7 1855.2L833 1865L835.1 1849L848.1 1839.3Z" class="fwro"/>
<path d="M844.5 1854.5L834.7 1862.1L836.3 1849.7L846.4 1842.1Z" class="bv45"/>
<path d="M833 1865L835.1 1849M848.1 1839.3L845.7 1855.2" class="sm1"/>
<path d="M686 1830.1L669.3 1839.3L666.8 1822.5L684 1813.5Z" class="fwr"/>
<path d="M683.9 1829.3L670.9 1836.4L668.9 1823.4L682.4 1816.3Z" class="bv45"/>
<path d="M686 1830.1L669.3 1839.3M666.8 1822.5L684 1813.5L686 1830.1" class="sm1"/>
<path d="M657 1830.1L669.3 1839.3L666.8 1822.5L654.2 1813.5Z" class="fwlo"/>
<path d="M658 1829.3L667.7 1836.4L665.7 1823.4L655.8 1816.3Z" class="bv45"/>
<path d="M657 1830.1L669.3 1839.3M666.8 1822.5L654.2 1813.5" class="sm1"/>
<path d="M860.4 1830.1L848.1 1839.3L850.6 1822.5L863.2 1813.5Z" class="fwro"/>
<path d="M859.4 1829.3L849.7 1836.4L851.7 1823.4L861.6 1816.3Z" class="bv45"/>
<path d="M860.4 1830.1L848.1 1839.3M850.6 1822.5L863.2 1813.5" class="sm1"/>
<path d="M831.4 1830.1L848.1 1839.3L850.6 1822.5L833.4 1813.5Z" class="fwl"/>
<path d="M833.5 1829.3L846.5 1836.4L848.5 1823.4L835 1816.3Z" class="bv45"/>
<path d="M831.4 1830.1L848.1 1839.3M850.6 1822.5L833.4 1813.5L831.4 1830.1" class="sm1"/>
<path d="M700.4 1804.9L684 1813.5L681.9 1795.9L698.8 1787.5Z" class="fwr"/>
<path d="M698.4 1803.9L685.6 1810.6L684 1796.9L697.2 1790.4Z" class="bv45"/>
<path d="M700.4 1804.9L684 1813.5L681.9 1795.9L698.8 1787.5L700.4 1804.9" class="sm1"/>
<path d="M817 1804.9L833.4 1813.5L835.5 1795.9L818.6 1787.5Z" class="fwl"/>
<path d="M819 1803.9L831.8 1810.6L833.4 1796.9L820.2 1790.4Z" class="bv45"/>
<path d="M817 1804.9L833.4 1813.5L835.5 1795.9L818.6 1787.5L817 1804.9" class="sm1"/>
<path d="M714.9 1779.6L698.8 1787.5L697.1 1769.2L713.7 1761.5Z" class="fwr"/>
<path d="M713 1778.4L700.4 1784.7L699.1 1770.4L712 1764.3Z" class="bv45"/>
<path d="M714.9 1779.6L698.8 1787.5L697.1 1769.2L713.7 1761.5L714.9 1779.6" class="sm1"/>
<path d="M802.5 1779.6L818.6 1787.5L820.3 1769.2L803.7 1761.5Z" class="fwl"/>
<path d="M804.4 1778.4L817 1784.7L818.3 1770.4L805.4 1764.3Z" class="bv45"/>
<path d="M802.5 1779.6L818.6 1787.5L820.3 1769.2L803.7 1761.5L802.5 1779.6" class="sm1"/>
<path d="M729.4 1754.1L713.7 1761.5L712.4 1742.4L728.6 1735.3Z" class="fwr"/>
<path d="M727.6 1752.9L715.3 1758.6L714.3 1743.7L726.9 1738.2Z" class="bv45"/>
<path d="M729.4 1754.1L713.7 1761.5L712.4 1742.4L728.6 1735.3L729.4 1754.1" class="sm1"/>
<path d="M788 1754.1L803.7 1761.5L805 1742.4L788.8 1735.3Z" class="fwl"/>
<path d="M789.8 1752.9L802.1 1758.6L803.1 1743.7L790.5 1738.2Z" class="bv45"/>
<path d="M788 1754.1L803.7 1761.5L805 1742.4L788.8 1735.3L788 1754.1" class="sm1"/>
<path d="M744 1728.6L728.6 1735.3L727.8 1715.4L743.6 1709Z" class="fwr"/>
<path d="M742.3 1727.2L730.2 1732.4L729.6 1716.8L741.9 1711.9Z" class="bv45"/>
<path d="M744 1728.6L728.6 1735.3L727.8 1715.4L743.6 1709L744 1728.6" class="sm1"/>
<path d="M773.4 1728.6L788.8 1735.3L789.6 1715.4L773.8 1709Z" class="fwl"/>
<path d="M775.1 1727.2L787.2 1732.4L787.8 1716.8L775.5 1711.9Z" class="bv45"/>
<path d="M773.4 1728.6L788.8 1735.3L789.6 1715.4L773.8 1709L773.4 1728.6" class="sm1"/>
<path d="M744 1677.1L758.7 1682.6L743.2 1688.3L728.5 1682.6Z" class="fwt"/>
<path d="M743.9 1678.4L755.4 1682.6L743.3 1687L731.8 1682.6Z" class="bv45"/>
<path d="M744 1677.1L758.7 1682.6M743.2 1688.3L728.5 1682.6" class="sm1"/>
<path d="M758.7 1702.9L743.6 1709L743.2 1688.3L758.7 1682.6Z" class="fwr"/>
<path d="M757 1701.3L745.3 1706.1L744.9 1689.9L757 1685.4Z" class="bv45"/>
<path d="M758.7 1702.9L743.6 1709L743.2 1688.3M758.7 1682.6L758.7 1702.9" class="sm1"/>
<path d="M773.4 1677.1L788.9 1682.6L774.2 1688.3L758.7 1682.6Z" class="fwt"/>
<path d="M773.5 1678.4L785.6 1682.6L774.1 1687L762 1682.6Z" class="bv45"/>
<path d="M788.9 1682.6L774.2 1688.3M758.7 1682.6L773.4 1677.1" class="sm1"/>
<path d="M758.7 1702.9L773.8 1709L774.2 1688.3L758.7 1682.6Z" class="fwl"/>
<path d="M760.4 1701.3L772.1 1706.1L772.5 1689.9L760.4 1685.4Z" class="bv45"/>
<path d="M758.7 1702.9L773.8 1709L774.2 1688.3M758.7 1682.6L758.7 1702.9" class="sm1"/>
<path d="M699.1 1839.3L712.8 1849L695.9 1859.2L682.3 1849Z" class="fwt"/>
<path d="M698.8 1841.4L709.5 1849L696.3 1857L685.6 1849Z" class="bv45"/>
<path d="M699.1 1839.3L712.8 1849L695.9 1859.2M682.3 1849L699.1 1839.3" class="sm1"/>
<path d="M684.4 1865L697.7 1875.3L695.9 1859.2L682.3 1849Z" class="fwlo"/>
<path d="M685.6 1864.3L696 1872.4L694.6 1859.8L684 1851.9Z" class="bv45"/>
<path d="M697.7 1875.3L695.9 1859.2M682.3 1849L684.4 1865" class="sm1"/>
<path d="M728.9 1839.3L743.4 1849L727.3 1859.2L712.8 1849Z" class="fwt"/>
<path d="M728.7 1841.4L740 1849L727.5 1857L716.2 1849Z" class="bv45"/>
<path d="M728.9 1839.3L743.4 1849L727.3 1859.2L712.8 1849L728.9 1839.3" class="sm1"/>
<path d="M758.7 1839.3L774 1849L758.7 1859.2L743.4 1849Z" class="fwt"/>
<path d="M758.7 1841.4L770.6 1849L758.7 1857L746.8 1849Z" class="bv45"/>
<path d="M758.7 1839.3L774 1849L758.7 1859.2L743.4 1849L758.7 1839.3" class="sm1"/>
<path d="M788.5 1839.3L804.6 1849L790.1 1859.2L774 1849Z" class="fwt"/>
<path d="M788.7 1841.4L801.2 1849L789.9 1857L777.4 1849Z" class="bv45"/>
<path d="M788.5 1839.3L804.6 1849L790.1 1859.2L774 1849L788.5 1839.3" class="sm1"/>
<path d="M818.3 1839.3L835.1 1849L821.5 1859.2L804.6 1849Z" class="fwt"/>
<path d="M818.6 1841.4L831.8 1849L821.1 1857L807.9 1849Z" class="bv45"/>
<path d="M818.3 1839.3L835.1 1849M821.5 1859.2L804.6 1849L818.3 1839.3" class="sm1"/>
<path d="M833 1865L819.7 1875.3L821.5 1859.2L835.1 1849Z" class="fwro"/>
<path d="M831.8 1864.3L821.4 1872.4L822.8 1859.8L833.4 1851.9Z" class="bv45"/>
<path d="M819.7 1875.3L821.5 1859.2M835.1 1849L833 1865" class="sm1"/>
<path d="M684 1813.5L666.8 1822.5L664.1 1804.7L681.9 1795.9Z" class="fwr"/>
<path d="M681.9 1812.5L668.4 1819.6L666.3 1805.7L680.2 1798.8Z" class="bv45"/>
<path d="M684 1813.5L666.8 1822.5M664.1 1804.7L681.9 1795.9L684 1813.5" class="sm1"/>
<path d="M654.2 1813.5L666.8 1822.5L664.1 1804.7L651.2 1795.9Z" class="fwlo"/>
<path d="M655.2 1812.5L665.1 1819.6L663 1805.7L652.9 1798.8Z" class="bv45"/>
<path d="M654.2 1813.5L666.8 1822.5M664.1 1804.7L651.2 1795.9" class="sm1"/>
<path d="M863.2 1813.5L850.6 1822.5L853.3 1804.7L866.2 1795.9Z" class="fwro"/>
<path d="M862.2 1812.5L852.3 1819.6L854.4 1805.7L864.5 1798.8Z" class="bv45"/>
<path d="M863.2 1813.5L850.6 1822.5M853.3 1804.7L866.2 1795.9" class="sm1"/>
<path d="M833.4 1813.5L850.6 1822.5L853.3 1804.7L835.5 1795.9Z" class="fwl"/>
<path d="M835.5 1812.5L849 1819.6L851.1 1805.7L837.2 1798.8Z" class="bv45"/>
<path d="M833.4 1813.5L850.6 1822.5M853.3 1804.7L835.5 1795.9L833.4 1813.5" class="sm1"/>
<path d="M698.8 1787.5L681.9 1795.9L679.6 1777.3L697.1 1769.2Z" class="fwr"/>
<path d="M696.7 1786.4L683.5 1793L681.8 1778.5L695.4 1772.1Z" class="bv45"/>
<path d="M698.8 1787.5L681.9 1795.9L679.6 1777.3L697.1 1769.2L698.8 1787.5" class="sm1"/>
<path d="M818.6 1787.5L835.5 1795.9L837.8 1777.3L820.3 1769.2Z" class="fwl"/>
<path d="M820.7 1786.4L833.9 1793L835.6 1778.5L822 1772.1Z" class="bv45"/>
<path d="M818.6 1787.5L835.5 1795.9L837.8 1777.3L820.3 1769.2L818.6 1787.5" class="sm1"/>
<path d="M713.7 1761.5L697.1 1769.2L695.3 1749.8L712.4 1742.4Z" class="fwr"/>
<path d="M711.7 1760.2L698.8 1766.2L697.4 1751.1L710.7 1745.3Z" class="bv45"/>
<path d="M713.7 1761.5L697.1 1769.2L695.3 1749.8L712.4 1742.4L713.7 1761.5" class="sm1"/>
<path d="M803.7 1761.5L820.3 1769.2L822.1 1749.8L805 1742.4Z" class="fwl"/>
<path d="M805.7 1760.2L818.6 1766.2L820 1751.1L806.7 1745.3Z" class="bv45"/>
<path d="M803.7 1761.5L820.3 1769.2L822.1 1749.8L805 1742.4L803.7 1761.5" class="sm1"/>
<path d="M728.6 1735.3L712.4 1742.4L711 1722.1L727.8 1715.4Z" class="fwr"/>
<path d="M726.7 1733.9L714.1 1739.4L713 1723.6L726 1718.3Z" class="bv45"/>
<path d="M728.6 1735.3L712.4 1742.4L711 1722.1L727.8 1715.4L728.6 1735.3" class="sm1"/>
<path d="M788.8 1735.3L805 1742.4L806.4 1722.1L789.6 1715.4Z" class="fwl"/>
<path d="M790.7 1733.9L803.3 1739.4L804.4 1723.6L791.4 1718.3Z" class="bv45"/>
<path d="M788.8 1735.3L805 1742.4L806.4 1722.1L789.6 1715.4L788.8 1735.3" class="sm1"/>
<path d="M728.5 1682.6L743.2 1688.3L726.8 1694.3L712.2 1688.3Z" class="fwt"/>
<path d="M728.3 1683.8L739.8 1688.3L727 1693L715.6 1688.3Z" class="bv45"/>
<path d="M728.5 1682.6L743.2 1688.3M726.8 1694.3L712.2 1688.3" class="sm1"/>
<path d="M743.6 1709L727.8 1715.4L726.8 1694.3L743.2 1688.3Z" class="fwr"/>
<path d="M741.8 1707.4L729.4 1712.4L728.7 1695.9L741.5 1691.2Z" class="bv45"/>
<path d="M743.6 1709L727.8 1715.4L726.8 1694.3M743.2 1688.3L743.6 1709" class="sm1"/>
<path d="M788.9 1682.6L805.2 1688.3L790.6 1694.3L774.2 1688.3Z" class="fwt"/>
<path d="M789.1 1683.8L801.8 1688.3L790.4 1693L777.6 1688.3Z" class="bv45"/>
<path d="M805.2 1688.3L790.6 1694.3M774.2 1688.3L788.9 1682.6" class="sm1"/>
<path d="M773.8 1709L789.6 1715.4L790.6 1694.3L774.2 1688.3Z" class="fwl"/>
<path d="M775.6 1707.4L788 1712.4L788.7 1695.9L775.9 1691.2Z" class="bv45"/>
<path d="M773.8 1709L789.6 1715.4L790.6 1694.3M774.2 1688.3L773.8 1709" class="sm1"/>
<path d="M712.8 1849L727.3 1859.2L710.3 1869.9L695.9 1859.2Z" class="fwt"/>
<path d="M712.6 1851.2L723.9 1859.2L710.6 1867.6L699.4 1859.2Z" class="bv45"/>
<path d="M712.8 1849L727.3 1859.2L710.3 1869.9M695.9 1859.2L712.8 1849" class="sm1"/>
<path d="M697.7 1875.3L711.7 1886.2L710.3 1869.9L695.9 1859.2Z" class="fwlo"/>
<path d="M699.1 1874.7L710 1883.2L708.9 1870.5L697.7 1862.1Z" class="bv45"/>
<path d="M711.7 1886.2L710.3 1869.9M695.9 1859.2L697.7 1875.3" class="sm1"/>
<path d="M743.4 1849L758.7 1859.2L742.6 1869.9L727.3 1859.2Z" class="fwt"/>
<path d="M743.3 1851.2L755.2 1859.2L742.7 1867.6L730.8 1859.2Z" class="bv45"/>
<path d="M743.4 1849L758.7 1859.2L742.6 1869.9L727.3 1859.2L743.4 1849" class="sm1"/>
<path d="M774 1849L790.1 1859.2L774.8 1869.9L758.7 1859.2Z" class="fwt"/>
<path d="M774.1 1851.2L786.6 1859.2L774.7 1867.6L762.2 1859.2Z" class="bv45"/>
<path d="M774 1849L790.1 1859.2L774.8 1869.9L758.7 1859.2L774 1849" class="sm1"/>
<path d="M804.6 1849L821.5 1859.2L807.1 1869.9L790.1 1859.2Z" class="fwt"/>
<path d="M804.8 1851.2L818 1859.2L806.8 1867.6L793.5 1859.2Z" class="bv45"/>
<path d="M804.6 1849L821.5 1859.2M807.1 1869.9L790.1 1859.2L804.6 1849" class="sm1"/>
<path d="M819.7 1875.3L805.7 1886.2L807.1 1869.9L821.5 1859.2Z" class="fwro"/>
<path d="M818.3 1874.7L807.4 1883.2L808.5 1870.5L819.7 1862.1Z" class="bv45"/>
<path d="M805.7 1886.2L807.1 1869.9M821.5 1859.2L819.7 1875.3" class="sm1"/>
<path d="M681.9 1795.9L664.1 1804.7L661.2 1785.9L679.6 1777.3Z" class="fwr"/>
<path d="M679.7 1794.8L665.8 1801.7L663.5 1787L677.9 1780.3Z" class="bv45"/>
<path d="M681.9 1795.9L664.1 1804.7M661.2 1785.9L679.6 1777.3L681.9 1795.9" class="sm1"/>
<path d="M651.2 1795.9L664.1 1804.7L661.2 1785.9L648 1777.3Z" class="fwlo"/>
<path d="M652.3 1794.8L662.3 1801.7L660.1 1787L649.8 1780.3Z" class="bv45"/>
<path d="M651.2 1795.9L664.1 1804.7M661.2 1785.9L648 1777.3" class="sm1"/>
<path d="M866.2 1795.9L853.3 1804.7L856.2 1785.9L869.4 1777.3Z" class="fwro"/>
<path d="M865.1 1794.8L855.1 1801.7L857.3 1787L867.6 1780.3Z" class="bv45"/>
<path d="M866.2 1795.9L853.3 1804.7M856.2 1785.9L869.4 1777.3" class="sm1"/>
<path d="M835.5 1795.9L853.3 1804.7L856.2 1785.9L837.8 1777.3Z" class="fwl"/>
<path d="M837.7 1794.8L851.6 1801.7L853.9 1787L839.5 1780.3Z" class="bv45"/>
<path d="M835.5 1795.9L853.3 1804.7M856.2 1785.9L837.8 1777.3L835.5 1795.9" class="sm1"/>
<path d="M697.1 1769.2L679.6 1777.3L677.3 1757.6L695.3 1749.8Z" class="fwr"/>
<path d="M695 1767.9L681.3 1774.3L679.5 1758.9L693.5 1752.8Z" class="bv45"/>
<path d="M697.1 1769.2L679.6 1777.3L677.3 1757.6L695.3 1749.8L697.1 1769.2" class="sm1"/>
<path d="M820.3 1769.2L837.8 1777.3L840.1 1757.6L822.1 1749.8Z" class="fwl"/>
<path d="M822.4 1767.9L836.1 1774.3L837.9 1758.9L823.9 1752.8Z" class="bv45"/>
<path d="M820.3 1769.2L837.8 1777.3L840.1 1757.6L822.1 1749.8L820.3 1769.2" class="sm1"/>
<path d="M712.4 1742.4L695.3 1749.8L693.4 1729.2L711 1722.1Z" class="fwr"/>
<path d="M710.3 1740.9L697 1746.7L695.5 1730.7L709.3 1725.1Z" class="bv45"/>
<path d="M712.4 1742.4L695.3 1749.8L693.4 1729.2L711 1722.1L712.4 1742.4" class="sm1"/>
<path d="M805 1742.4L822.1 1749.8L824 1729.2L806.4 1722.1Z" class="fwl"/>
<path d="M807.1 1740.9L820.4 1746.7L821.9 1730.7L808.1 1725.1Z" class="bv45"/>
<path d="M805 1742.4L822.1 1749.8L824 1729.2L806.4 1722.1L805 1742.4" class="sm1"/>
<path d="M712.2 1688.3L726.8 1694.3L709.6 1700.6L695 1694.3Z" class="fwt"/>
<path d="M711.9 1689.6L723.3 1694.3L709.9 1699.2L698.5 1694.3Z" class="bv45"/>
<path d="M712.2 1688.3L726.8 1694.3M709.6 1700.6L695 1694.3" class="sm1"/>
<path d="M727.8 1715.4L711 1722.1L709.6 1700.6L726.8 1694.3Z" class="fwr"/>
<path d="M725.8 1713.8L712.7 1719L711.6 1702.3L725.1 1697.3Z" class="bv45"/>
<path d="M727.8 1715.4L711 1722.1L709.6 1700.6M726.8 1694.3L727.8 1715.4" class="sm1"/>
<path d="M805.2 1688.3L822.4 1694.3L807.8 1700.6L790.6 1694.3Z" class="fwt"/>
<path d="M805.5 1689.6L818.9 1694.3L807.5 1699.2L794.1 1694.3Z" class="bv45"/>
<path d="M822.4 1694.3L807.8 1700.6M790.6 1694.3L805.2 1688.3" class="sm1"/>
<path d="M789.6 1715.4L806.4 1722.1L807.8 1700.6L790.6 1694.3Z" class="fwl"/>
<path d="M791.6 1713.8L804.7 1719L805.8 1702.3L792.3 1697.3Z" class="bv45"/>
<path d="M789.6 1715.4L806.4 1722.1L807.8 1700.6M790.6 1694.3L789.6 1715.4" class="sm1"/>
<path d="M727.3 1859.2L742.6 1869.9L725.5 1881.3L710.3 1869.9Z" class="fwt"/>
<path d="M727.1 1861.6L739 1870L725.7 1878.8L713.9 1870Z" class="bv45"/>
<path d="M727.3 1859.2L742.6 1869.9L725.5 1881.3M710.3 1869.9L727.3 1859.2" class="sm1"/>
<path d="M711.7 1886.2L726.5 1897.6L725.5 1881.3L710.3 1869.9Z" class="fwlo"/>
<path d="M713.2 1885.6L724.8 1894.6L724 1881.8L712.1 1873Z" class="bv45"/>
<path d="M726.5 1897.6L725.5 1881.3M710.3 1869.9L711.7 1886.2" class="sm1"/>
<path d="M758.7 1859.2L774.8 1869.9L758.7 1881.3L742.6 1869.9Z" class="fwt"/>
<path d="M758.7 1861.6L771.3 1870L758.7 1878.8L746.1 1870Z" class="bv45"/>
<path d="M758.7 1859.2L774.8 1869.9L758.7 1881.3L742.6 1869.9L758.7 1859.2" class="sm1"/>
<path d="M790.1 1859.2L807.1 1869.9L791.9 1881.3L774.8 1869.9Z" class="fwt"/>
<path d="M790.3 1861.6L803.5 1870L791.7 1878.8L778.4 1870Z" class="bv45"/>
<path d="M790.1 1859.2L807.1 1869.9M791.9 1881.3L774.8 1869.9L790.1 1859.2" class="sm1"/>
<path d="M805.7 1886.2L790.9 1897.6L791.9 1881.3L807.1 1869.9Z" class="fwro"/>
<path d="M804.2 1885.6L792.6 1894.6L793.4 1881.8L805.3 1873Z" class="bv45"/>
<path d="M790.9 1897.6L791.9 1881.3M807.1 1869.9L805.7 1886.2" class="sm1"/>
<path d="M679.6 1777.3L661.2 1785.9L658.2 1765.9L677.3 1757.6Z" class="fwr"/>
<path d="M677.3 1776.1L663 1782.8L660.6 1767.2L675.5 1760.7Z" class="bv45"/>
<path d="M679.6 1777.3L661.2 1785.9M658.2 1765.9L677.3 1757.6L679.6 1777.3" class="sm1"/>
<path d="M648 1777.3L661.2 1785.9L658.2 1765.9L644.7 1757.6Z" class="fwlo"/>
<path d="M649.1 1776.1L659.4 1782.8L657.1 1767.2L646.5 1760.7Z" class="bv45"/>
<path d="M648 1777.3L661.2 1785.9M658.2 1765.9L644.7 1757.6" class="sm1"/>
<path d="M869.4 1777.3L856.2 1785.9L859.2 1765.9L872.7 1757.6Z" class="fwro"/>
<path d="M868.3 1776.1L858 1782.8L860.3 1767.2L870.9 1760.7Z" class="bv45"/>
<path d="M869.4 1777.3L856.2 1785.9M859.2 1765.9L872.7 1757.6" class="sm1"/>
<path d="M837.8 1777.3L856.2 1785.9L859.2 1765.9L840.1 1757.6Z" class="fwl"/>
<path d="M840.1 1776.1L854.4 1782.8L856.8 1767.2L841.9 1760.7Z" class="bv45"/>
<path d="M837.8 1777.3L856.2 1785.9M859.2 1765.9L840.1 1757.6L837.8 1777.3" class="sm1"/>
<path d="M695.3 1749.8L677.3 1757.6L674.7 1736.7L693.4 1729.2Z" class="fwr"/>
<path d="M693.1 1748.4L679 1754.5L677 1738.1L691.6 1732.3Z" class="bv45"/>
<path d="M695.3 1749.8L677.3 1757.6L674.7 1736.7L693.4 1729.2L695.3 1749.8" class="sm1"/>
<path d="M822.1 1749.8L840.1 1757.6L842.7 1736.7L824 1729.2Z" class="fwl"/>
<path d="M824.3 1748.4L838.4 1754.5L840.4 1738.1L825.8 1732.3Z" class="bv45"/>
<path d="M822.1 1749.8L840.1 1757.6L842.7 1736.7L824 1729.2L822.1 1749.8" class="sm1"/>
<path d="M695 1694.3L709.6 1700.6L691.3 1707.3L676.8 1700.6Z" class="fwt"/>
<path d="M694.6 1695.7L706 1700.6L691.7 1705.9L680.4 1700.6Z" class="bv45"/>
<path d="M695 1694.3L709.6 1700.6M691.3 1707.3L676.8 1700.6" class="sm1"/>
<path d="M711 1722.1L693.4 1729.2L691.3 1707.3L709.6 1700.6Z" class="fwr"/>
<path d="M708.9 1720.5L695.1 1726L693.5 1709L707.8 1703.7Z" class="bv45"/>
<path d="M711 1722.1L693.4 1729.2L691.3 1707.3M709.6 1700.6L711 1722.1" class="sm1"/>
<path d="M822.4 1694.3L840.6 1700.6L826.1 1707.3L807.8 1700.6Z" class="fwt"/>
<path d="M822.8 1695.7L837 1700.6L825.7 1705.9L811.4 1700.6Z" class="bv45"/>
<path d="M840.6 1700.6L826.1 1707.3M807.8 1700.6L822.4 1694.3" class="sm1"/>
<path d="M806.4 1722.1L824 1729.2L826.1 1707.3L807.8 1700.6Z" class="fwl"/>
<path d="M808.5 1720.5L822.3 1726L823.9 1709L809.6 1703.7Z" class="bv45"/>
<path d="M806.4 1722.1L824 1729.2L826.1 1707.3M807.8 1700.6L806.4 1722.1" class="sm1"/>
<path d="M742.6 1869.9L758.7 1881.3L741.6 1893.3L725.5 1881.3Z" class="fwt"/>
<path d="M742.5 1872.5L755.1 1881.3L741.7 1890.7L729.2 1881.3Z" class="bv45"/>
<path d="M742.6 1869.9L758.7 1881.3L741.6 1893.3M725.5 1881.3L742.6 1869.9" class="sm1"/>
<path d="M726.5 1897.6L742.2 1909.8L741.6 1893.3L725.5 1881.3Z" class="fwlo"/>
<path d="M728.2 1897.2L740.4 1906.6L740 1893.8L727.4 1884.4Z" class="bv45"/>
<path d="M742.2 1909.8L741.6 1893.3M725.5 1881.3L726.5 1897.6" class="sm1"/>
<path d="M774.8 1869.9L791.9 1881.3L775.8 1893.3L758.7 1881.3Z" class="fwt"/>
<path d="M774.9 1872.5L788.2 1881.3L775.7 1890.7L762.3 1881.3Z" class="bv45"/>
<path d="M774.8 1869.9L791.9 1881.3M775.8 1893.3L758.7 1881.3L774.8 1869.9" class="sm1"/>
<path d="M790.9 1897.6L775.2 1909.8L775.8 1893.3L791.9 1881.3Z" class="fwro"/>
<path d="M789.2 1897.2L777 1906.6L777.4 1893.8L790 1884.4Z" class="bv45"/>
<path d="M775.2 1909.8L775.8 1893.3M791.9 1881.3L790.9 1897.6" class="sm1"/>
<path d="M677.3 1757.6L658.2 1765.9L655 1744.6L674.7 1736.7Z" class="fwr"/>
<path d="M674.8 1756.2L660 1762.7L657.5 1746.1L672.9 1739.9Z" class="bv45"/>
<path d="M677.3 1757.6L658.2 1765.9M655 1744.6L674.7 1736.7L677.3 1757.6" class="sm1"/>
<path d="M644.7 1757.6L658.2 1765.9L655 1744.6L641.1 1736.7Z" class="fwlo"/>
<path d="M645.8 1756.2L656.3 1762.7L653.8 1746.1L643 1739.9Z" class="bv45"/>
<path d="M644.7 1757.6L658.2 1765.9M655 1744.6L641.1 1736.7" class="sm1"/>
<path d="M872.7 1757.6L859.2 1765.9L862.4 1744.6L876.3 1736.7Z" class="fwro"/>
<path d="M871.6 1756.2L861.1 1762.7L863.6 1746.1L874.4 1739.9Z" class="bv45"/>
<path d="M872.7 1757.6L859.2 1765.9M862.4 1744.6L876.3 1736.7" class="sm1"/>
<path d="M840.1 1757.6L859.2 1765.9L862.4 1744.6L842.7 1736.7Z" class="fwl"/>
<path d="M842.6 1756.2L857.4 1762.7L859.9 1746.1L844.5 1739.9Z" class="bv45"/>
<path d="M840.1 1757.6L859.2 1765.9M862.4 1744.6L842.7 1736.7L840.1 1757.6" class="sm1"/>
<path d="M676.8 1700.6L691.3 1707.3L672 1714.4L657.7 1707.3Z" class="fwt"/>
<path d="M676.3 1702.1L687.6 1707.3L672.6 1712.9L661.4 1707.3Z" class="bv45"/>
<path d="M676.8 1700.6L691.3 1707.3M672 1714.4L657.7 1707.3" class="sm1"/>
<path d="M693.4 1729.2L674.7 1736.7L672 1714.4L691.3 1707.3Z" class="fwr"/>
<path d="M691.1 1727.6L676.5 1733.4L674.4 1716.1L689.5 1710.5Z" class="bv45"/>
<path d="M693.4 1729.2L674.7 1736.7L672 1714.4M691.3 1707.3L693.4 1729.2" class="sm1"/>
<path d="M840.6 1700.6L859.7 1707.3L845.4 1714.4L826.1 1707.3Z" class="fwt"/>
<path d="M841.1 1702.1L856 1707.3L844.8 1712.9L829.8 1707.3Z" class="bv45"/>
<path d="M859.7 1707.3L845.4 1714.4M826.1 1707.3L840.6 1700.6" class="sm1"/>
<path d="M824 1729.2L842.7 1736.7L845.4 1714.4L826.1 1707.3Z" class="fwl"/>
<path d="M826.3 1727.6L840.9 1733.4L843 1716.1L827.9 1710.5Z" class="bv45"/>
<path d="M824 1729.2L842.7 1736.7L845.4 1714.4M826.1 1707.3L824 1729.2" class="sm1"/>
<path d="M758.7 1881.3L775.8 1893.3L758.7 1906L741.6 1893.3Z" class="fwt"/>
<path d="M758.7 1884L772 1893.3L758.7 1903.3L745.4 1893.3Z" class="bv45"/>
<path d="M758.7 1881.3L775.8 1893.3M741.6 1893.3L758.7 1881.3" class="sm1"/>
<path d="M775.2 1909.8L758.7 1922.6L758.7 1906L775.8 1893.3Z" class="fwro"/>
<path d="M773.4 1909.3L760.5 1919.3L760.5 1906.5L773.9 1896.5Z" class="bv45"/>
<path d="M775.8 1893.3L775.2 1909.8" class="sm1"/>
<path d="M742.2 1909.8L758.7 1922.6L758.7 1906L741.6 1893.3Z" class="fwlo"/>
<path d="M744 1909.3L756.9 1919.3L756.9 1906.5L743.5 1896.5Z" class="bv45"/>
<path d="M741.6 1893.3L742.2 1909.8" class="sm1"/>
<path d="M657.7 1707.3L672 1714.4L651.5 1721.9L637.3 1714.4Z" class="fwt"/>
<path d="M657 1708.9L668.2 1714.4L652.2 1720.3L641.2 1714.4Z" class="bv45"/>
<path d="M657.7 1707.3L672 1714.4" class="sm1"/>
<path d="M674.7 1736.7L655 1744.6L651.5 1721.9L672 1714.4Z" class="fwr"/>
<path d="M672.2 1735.1L656.8 1741.3L654.1 1723.6L670.1 1717.7Z" class="bv45"/>
<path d="M674.7 1736.7L655 1744.6M672 1714.4L674.7 1736.7" class="sm1"/>
<path d="M641.1 1736.7L655 1744.6L651.5 1721.9L637.3 1714.4Z" class="fwlo"/>
<path d="M642.3 1735.1L653 1741.3L650.4 1723.6L639.3 1717.7Z" class="bv45"/>
<path d="M641.1 1736.7L655 1744.6" class="sm1"/>
<path d="M859.7 1707.3L880.1 1714.4L865.9 1721.9L845.4 1714.4Z" class="fwt"/>
<path d="M860.4 1708.9L876.2 1714.4L865.2 1720.3L849.2 1714.4Z" class="bv45"/>
<path d="M845.4 1714.4L859.7 1707.3" class="sm1"/>
<path d="M876.3 1736.7L862.4 1744.6L865.9 1721.9L880.1 1714.4Z" class="fwro"/>
<path d="M875.1 1735.1L864.4 1741.3L867 1723.6L878.1 1717.7Z" class="bv45"/>
<path d="M876.3 1736.7L862.4 1744.6" class="sm1"/>
<path d="M842.7 1736.7L862.4 1744.6L865.9 1721.9L845.4 1714.4Z" class="fwl"/>
<path d="M845.2 1735.1L860.6 1741.3L863.3 1723.6L847.3 1717.7Z" class="bv45"/>
<path d="M842.7 1736.7L862.4 1744.6M845.4 1714.4L842.7 1736.7" class="sm1"/>
<ellipse cx="758.7" cy="1785.6" rx="62.0" ry="66.0" fill="url(#glow)"/>
<g opacity="0.7">
<path d="M715.1 1830.1L699.1 1839.3L697.4 1822.5L713.9 1813.5Z" fill="url(#wr)" stroke="#8a8a8a" stroke-width="0.80"/>
<path d="M817 1804.9L833.4 1813.5L820 1822.5L803.5 1813.5Z" fill="url(#wt)" stroke="#8a8a8a" stroke-width="0.80"/>
<path d="M758.7 1702.9L773.8 1709L758.7 1715.4L743.6 1709Z" fill="url(#wt)" stroke="#8a8a8a" stroke-width="0.80"/>
<path d="M744 1728.6L758.7 1735.3L758.7 1715.4L743.6 1709Z" fill="url(#wl)" stroke="#8a8a8a" stroke-width="0.80"/>
<path d="M699.1 1839.3L682.3 1849L680 1832L697.4 1822.5Z" fill="url(#wr)" stroke="#8a8a8a" stroke-width="0.80"/>
<path d="M669.3 1839.3L682.3 1849L680 1832L666.8 1822.5Z" fill="url(#wl)" stroke="#8a8a8a" stroke-width="0.80"/>
<path d="M803.5 1813.5L820 1822.5L805.9 1832L789.3 1822.5Z" fill="url(#wt)" stroke="#8a8a8a" stroke-width="0.80"/>
<path d="M818.3 1839.3L804.6 1849L805.9 1832L820 1822.5Z" fill="url(#wr)" stroke="#8a8a8a" stroke-width="0.80"/>
<path d="M788.5 1839.3L804.6 1849L805.9 1832L789.3 1822.5Z" fill="url(#wl)" stroke="#8a8a8a" stroke-width="0.80"/>
<path d="M848.1 1839.3L835.1 1849L837.4 1832L850.6 1822.5Z" fill="url(#wr)" stroke="#8a8a8a" stroke-width="0.80"/>
<path d="M818.3 1839.3L835.1 1849L837.4 1832L820 1822.5Z" fill="url(#wl)" stroke="#8a8a8a" stroke-width="0.80"/>
<path d="M698.8 1787.5L712.6 1795.9L695.6 1804.7L681.9 1795.9Z" fill="url(#wt)" stroke="#8a8a8a" stroke-width="0.80"/>
<path d="M713.9 1813.5L697.4 1822.5L695.6 1804.7L712.6 1795.9Z" fill="url(#wr)" stroke="#8a8a8a" stroke-width="0.80"/>
<path d="M728.8 1787.5L712.6 1795.9L711.3 1777.3L727.9 1769.2Z" fill="url(#wr)" stroke="#8a8a8a" stroke-width="0.80"/>
<path d="M698.8 1787.5L712.6 1795.9L711.3 1777.3L697.1 1769.2Z" fill="url(#wl)" stroke="#8a8a8a" stroke-width="0.80"/>
<path d="M758.7 1735.3L774.1 1742.4L774.6 1722.1L758.7 1715.4Z" fill="url(#wl)" stroke="#8a8a8a" stroke-width="0.80"/>
<path d="M681.9 1795.9L695.6 1804.7L677.7 1814.1L664.1 1804.7Z" fill="url(#wt)" stroke="#8a8a8a" stroke-width="0.80"/>
<path d="M697.4 1822.5L680 1832L677.7 1814.1L695.6 1804.7Z" fill="url(#wr)" stroke="#8a8a8a" stroke-width="0.80"/>
<path d="M666.8 1822.5L680 1832L677.7 1814.1L664.1 1804.7Z" fill="url(#wl)" stroke="#8a8a8a" stroke-width="0.80"/>
<path d="M835.5 1795.9L853.3 1804.7L839.7 1814.1L821.8 1804.7Z" fill="url(#wt)" stroke="#8a8a8a" stroke-width="0.80"/>
<path d="M850.6 1822.5L837.4 1832L839.7 1814.1L853.3 1804.7Z" fill="url(#wr)" stroke="#8a8a8a" stroke-width="0.80"/>
<path d="M820 1822.5L837.4 1832L839.7 1814.1L821.8 1804.7Z" fill="url(#wl)" stroke="#8a8a8a" stroke-width="0.80"/>
<path d="M727.9 1769.2L711.3 1777.3L709.8 1757.6L727 1749.8Z" fill="url(#wr)" stroke="#8a8a8a" stroke-width="0.80"/>
<path d="M697.1 1769.2L711.3 1777.3L709.8 1757.6L695.3 1749.8Z" fill="url(#wl)" stroke="#8a8a8a" stroke-width="0.80"/>
<path d="M789.6 1715.4L806.4 1722.1L791.4 1729.2L774.6 1722.1Z" fill="url(#wt)" stroke="#8a8a8a" stroke-width="0.80"/>
<path d="M774.1 1742.4L790.4 1749.8L791.4 1729.2L774.6 1722.1Z" fill="url(#wl)" stroke="#8a8a8a" stroke-width="0.80"/>
<path d="M774.2 1688.3L790.6 1694.3L775.1 1700.6L758.7 1694.3Z" fill="url(#wt)" stroke="#8a8a8a" stroke-width="0.80"/>
<path d="M789.6 1715.4L774.6 1722.1L775.1 1700.6L790.6 1694.3Z" fill="url(#wr)" stroke="#8a8a8a" stroke-width="0.80"/>
<path d="M758.7 1715.4L774.6 1722.1L775.1 1700.6L758.7 1694.3Z" fill="url(#wl)" stroke="#8a8a8a" stroke-width="0.80"/>
<path d="M711.5 1832L726.4 1842.1L708.8 1852.7L694 1842.1Z" fill="url(#wt)" stroke="#8a8a8a" stroke-width="0.80"/>
<path d="M727.3 1859.2L710.3 1869.9L708.8 1852.7L726.4 1842.1Z" fill="url(#wr)" stroke="#8a8a8a" stroke-width="0.80"/>
<path d="M695.9 1859.2L710.3 1869.9L708.8 1852.7L694 1842.1Z" fill="url(#wl)" stroke="#8a8a8a" stroke-width="0.80"/>
<path d="M743 1832L758.7 1842.1L742.1 1852.7L726.4 1842.1Z" fill="url(#wt)" stroke="#8a8a8a" stroke-width="0.80"/>
<path d="M758.7 1859.2L742.6 1869.9L742.1 1852.7L758.7 1842.1Z" fill="url(#wr)" stroke="#8a8a8a" stroke-width="0.80"/>
<path d="M727.3 1859.2L742.6 1869.9L742.1 1852.7L726.4 1842.1Z" fill="url(#wl)" stroke="#8a8a8a" stroke-width="0.80"/>
<path d="M774.4 1832L791 1842.1L775.3 1852.7L758.7 1842.1Z" fill="url(#wt)" stroke="#8a8a8a" stroke-width="0.80"/>
<path d="M790.1 1859.2L774.8 1869.9L775.3 1852.7L791 1842.1Z" fill="url(#wr)" stroke="#8a8a8a" stroke-width="0.80"/>
<path d="M758.7 1859.2L774.8 1869.9L775.3 1852.7L758.7 1842.1Z" fill="url(#wl)" stroke="#8a8a8a" stroke-width="0.80"/>
<path d="M711 1722.1L726 1729.2L708.3 1736.7L693.4 1729.2Z" fill="url(#wt)" stroke="#8a8a8a" stroke-width="0.80"/>
<path d="M727 1749.8L709.8 1757.6L708.3 1736.7L726 1729.2Z" fill="url(#wr)" stroke="#8a8a8a" stroke-width="0.80"/>
<path d="M806.4 1722.1L824 1729.2L809.1 1736.7L791.4 1729.2Z" fill="url(#wt)" stroke="#8a8a8a" stroke-width="0.80"/>
<path d="M822.1 1749.8L807.6 1757.6L809.1 1736.7L824 1729.2Z" fill="url(#wr)" stroke="#8a8a8a" stroke-width="0.80"/>
<path d="M790.4 1749.8L807.6 1757.6L809.1 1736.7L791.4 1729.2Z" fill="url(#wl)" stroke="#8a8a8a" stroke-width="0.80"/>
<path d="M726.8 1694.3L742.3 1700.6L725 1707.3L709.6 1700.6Z" fill="url(#wt)" stroke="#8a8a8a" stroke-width="0.80"/>
<path d="M742.8 1722.1L726 1729.2L725 1707.3L742.3 1700.6Z" fill="url(#wr)" stroke="#8a8a8a" stroke-width="0.80"/>
<path d="M711 1722.1L726 1729.2L725 1707.3L709.6 1700.6Z" fill="url(#wl)" stroke="#8a8a8a" stroke-width="0.80"/>
<path d="M693.4 1729.2L708.3 1736.7L689.5 1744.6L674.7 1736.7Z" fill="url(#wt)" stroke="#8a8a8a" stroke-width="0.80"/>
<path d="M709.8 1757.6L691.7 1765.9L689.5 1744.6L708.3 1736.7Z" fill="url(#wr)" stroke="#8a8a8a" stroke-width="0.80"/>
<path d="M677.3 1757.6L691.7 1765.9L689.5 1744.6L674.7 1736.7Z" fill="url(#wl)" stroke="#8a8a8a" stroke-width="0.80"/>
<path d="M742.1 1852.7L758.7 1863.9L741.1 1875.8L724.5 1863.9Z" fill="url(#wt)" stroke="#8a8a8a" stroke-width="0.80"/>
<path d="M758.7 1881.3L741.6 1893.3L741.1 1875.8L758.7 1863.9Z" fill="url(#wr)" stroke="#8a8a8a" stroke-width="0.80"/>
<path d="M725.5 1881.3L741.6 1893.3L741.1 1875.8L724.5 1863.9Z" fill="url(#wl)" stroke="#8a8a8a" stroke-width="0.80"/>
<path d="M775.3 1852.7L792.9 1863.9L776.3 1875.8L758.7 1863.9Z" fill="url(#wt)" stroke="#8a8a8a" stroke-width="0.80"/>
<path d="M791.9 1881.3L775.8 1893.3L776.3 1875.8L792.9 1863.9Z" fill="url(#wr)" stroke="#8a8a8a" stroke-width="0.80"/>
<path d="M758.7 1881.3L775.8 1893.3L776.3 1875.8L758.7 1863.9Z" fill="url(#wl)" stroke="#8a8a8a" stroke-width="0.80"/>
<path d="M826.1 1707.3L845.4 1714.4L830.1 1721.9L810.7 1714.4Z" fill="url(#wt)" stroke="#8a8a8a" stroke-width="0.80"/>
<path d="M809.1 1736.7L827.9 1744.6L830.1 1721.9L810.7 1714.4Z" fill="url(#wl)" stroke="#8a8a8a" stroke-width="0.80"/>
<path d="M845.4 1714.4L865.9 1721.9L850.8 1729.9L830.1 1721.9Z" fill="url(#wt)" stroke="#8a8a8a" stroke-width="0.80"/>
<path d="M862.4 1744.6L847.8 1753L850.8 1729.9L865.9 1721.9Z" fill="url(#wr)" stroke="#8a8a8a" stroke-width="0.80"/>
<path d="M827.9 1744.6L847.8 1753L850.8 1729.9L830.1 1721.9Z" fill="url(#wl)" stroke="#8a8a8a" stroke-width="0.80"/>
</g>
<g>
<path d="M731.6 1805L745.2 1813.2L744.8 1796.5L730.9 1788.5Z" fill="url(#ol)" stroke="#d2580f" stroke-width="0.48"/>
<path d="M745.2 1813.2L744.8 1796.5L738.1 1800.8Z" fill="#000000" fill-opacity="0.05"/>
<path d="M744.8 1796.5L730.9 1788.5L738.1 1800.8Z" fill="#ffffff" fill-opacity="0.06"/>
<path d="M730.9 1788.5L731.6 1805.0L738.1 1800.8Z" fill="#ffffff" fill-opacity="0.03"/>
<path d="M785.8 1805L772.2 1813.2L772.6 1796.5L786.5 1788.5Z" fill="url(#or)" stroke="#d2580f" stroke-width="0.48"/>
<path d="M772.2 1813.2L772.6 1796.5L779.3 1800.8Z" fill="#ffffff" fill-opacity="0.06"/>
<path d="M772.6 1796.5L786.5 1788.5L779.3 1800.8Z" fill="#000000" fill-opacity="0.05"/>
<path d="M786.5 1788.5L785.8 1805.0L779.3 1800.8Z" fill="#ffffff" fill-opacity="0.03"/>
<path d="M758.7 1757.9L772.9 1764.9L758.7 1772.4L744.5 1764.9Z" fill="url(#ot)" stroke="#d2580f" stroke-width="0.48"/>
<path d="M758.7 1757.9L772.9 1764.9L758.7 1765.0Z" fill="#ffffff" fill-opacity="0.10"/>
<path d="M758.7 1772.4L744.5 1764.9L758.7 1765.0Z" fill="#000000" fill-opacity="0.04"/>
<path d="M744.5 1764.9L758.7 1757.9L758.7 1765.0Z" fill="#ffffff" fill-opacity="0.05"/>
<path d="M772.2 1813.2L758.7 1821.3L758.7 1804.4L772.6 1796.5Z" fill="url(#or)" stroke="#d2580f" stroke-width="0.48"/>
<path d="M758.7 1821.3L758.7 1804.4L765.6 1808.8Z" fill="#ffffff" fill-opacity="0.06"/>
<path d="M758.7 1804.4L772.6 1796.5L765.6 1808.8Z" fill="#000000" fill-opacity="0.05"/>
<path d="M772.6 1796.5L772.2 1813.2L765.6 1808.8Z" fill="#ffffff" fill-opacity="0.03"/>
<path d="M745.2 1813.2L758.7 1821.3L758.7 1804.4L744.8 1796.5Z" fill="url(#ol)" stroke="#d2580f" stroke-width="0.48"/>
<path d="M758.7 1821.3L758.7 1804.4L751.8 1808.8Z" fill="#000000" fill-opacity="0.05"/>
<path d="M758.7 1804.4L744.8 1796.5L751.8 1808.8Z" fill="#ffffff" fill-opacity="0.06"/>
<path d="M744.8 1796.5L745.2 1813.2L751.8 1808.8Z" fill="#ffffff" fill-opacity="0.03"/>
<path d="M744.5 1764.9L758.7 1772.4L744.5 1779.8L730.2 1772Z" fill="url(#ot)" stroke="#d2580f" stroke-width="0.48"/>
<path d="M744.5 1764.9L758.7 1772.4L744.5 1772.3Z" fill="#ffffff" fill-opacity="0.10"/>
<path d="M744.5 1779.8L730.2 1772.0L744.5 1772.3Z" fill="#000000" fill-opacity="0.04"/>
<path d="M730.2 1772.0L744.5 1764.9L744.5 1772.3Z" fill="#ffffff" fill-opacity="0.05"/>
<path d="M730.9 1788.5L744.8 1796.5L744.5 1779.8L730.2 1772Z" fill="url(#ol)" stroke="#d2580f" stroke-width="0.48"/>
<path d="M744.8 1796.5L744.5 1779.8L737.6 1784.2Z" fill="#000000" fill-opacity="0.05"/>
<path d="M744.5 1779.8L730.2 1772.0L737.6 1784.2Z" fill="#ffffff" fill-opacity="0.06"/>
<path d="M730.2 1772.0L730.9 1788.5L737.6 1784.2Z" fill="#ffffff" fill-opacity="0.03"/>
<path d="M772.9 1764.9L787.2 1772L772.9 1779.8L758.7 1772.4Z" fill="url(#ot)" stroke="#d2580f" stroke-width="0.48"/>
<path d="M772.9 1764.9L787.2 1772.0L772.9 1772.3Z" fill="#ffffff" fill-opacity="0.10"/>
<path d="M772.9 1779.8L758.7 1772.4L772.9 1772.3Z" fill="#000000" fill-opacity="0.04"/>
<path d="M758.7 1772.4L772.9 1764.9L772.9 1772.3Z" fill="#ffffff" fill-opacity="0.05"/>
<path d="M786.5 1788.5L772.6 1796.5L772.9 1779.8L787.2 1772Z" fill="url(#or)" stroke="#d2580f" stroke-width="0.48"/>
<path d="M772.6 1796.5L772.9 1779.8L779.8 1784.2Z" fill="#ffffff" fill-opacity="0.06"/>
<path d="M772.9 1779.8L787.2 1772.0L779.8 1784.2Z" fill="#000000" fill-opacity="0.05"/>
<path d="M787.2 1772.0L786.5 1788.5L779.8 1784.2Z" fill="#ffffff" fill-opacity="0.03"/>
<path d="M758.7 1772.4L772.9 1779.8L758.7 1787.5L744.5 1779.8Z" fill="url(#ot)" stroke="#d2580f" stroke-width="0.48"/>
<path d="M758.7 1772.4L772.9 1779.8L758.7 1779.9Z" fill="#ffffff" fill-opacity="0.10"/>
<path d="M758.7 1787.5L744.5 1779.8L758.7 1779.9Z" fill="#000000" fill-opacity="0.04"/>
<path d="M744.5 1779.8L758.7 1772.4L758.7 1779.9Z" fill="#ffffff" fill-opacity="0.05"/>
<path d="M772.6 1796.5L758.7 1804.4L758.7 1787.5L772.9 1779.8Z" fill="url(#or)" stroke="#d2580f" stroke-width="0.48"/>
<path d="M758.7 1804.4L758.7 1787.5L765.7 1792.1Z" fill="#ffffff" fill-opacity="0.06"/>
<path d="M758.7 1787.5L772.9 1779.8L765.7 1792.1Z" fill="#000000" fill-opacity="0.05"/>
<path d="M772.9 1779.8L772.6 1796.5L765.7 1792.1Z" fill="#ffffff" fill-opacity="0.03"/>
<path d="M744.8 1796.5L758.7 1804.4L758.7 1787.5L744.5 1779.8Z" fill="url(#ol)" stroke="#d2580f" stroke-width="0.48"/>
<path d="M758.7 1804.4L758.7 1787.5L751.7 1792.1Z" fill="#000000" fill-opacity="0.05"/>
<path d="M758.7 1787.5L744.5 1779.8L751.7 1792.1Z" fill="#ffffff" fill-opacity="0.06"/>
<path d="M744.5 1779.8L744.8 1796.5L751.7 1792.1Z" fill="#ffffff" fill-opacity="0.03"/>
<path d="M758.7 1772.4L761.9 1756.8L755.5 1756.8Z" fill="#0a0a0a"/>
<path d="M744.5 1779.8L747.7 1764.2L741.3 1764.2Z" fill="#0a0a0a"/>
<path d="M744.5 1779.8L753.5 1787.3L755.9 1782.4Z" fill="#0a0a0a"/>
<path d="M744.5 1779.8L729.9 1783.4L732.8 1789.1Z" fill="#0a0a0a"/>
<path d="M772.9 1779.8L776.1 1764.2L769.7 1764.2Z" fill="#0a0a0a"/>
<path d="M772.9 1779.8L784.6 1789.1L787.5 1783.4Z" fill="#0a0a0a"/>
<path d="M772.9 1779.8L761.5 1782.4L763.9 1787.3Z" fill="#0a0a0a"/>
<path d="M744.8 1796.5L730.3 1800.1L733.1 1805.8Z" fill="#0a0a0a"/>
<path d="M772.6 1796.5L784.3 1805.8L787.1 1800.1Z" fill="#0a0a0a"/>
<path d="M758.7 1804.4L761.4 1792.3L756.0 1792.3Z" fill="#0a0a0a"/>
<path d="M758.7 1804.4L770.4 1813.8L773.2 1808.1Z" fill="#0a0a0a"/>
<path d="M758.7 1804.4L744.2 1808.1L747.0 1813.8Z" fill="#0a0a0a"/>
<circle cx="758.7" cy="1772.4" r="1.4" fill="#e8141c"/>
<circle cx="744.5" cy="1779.8" r="1.4" fill="#e8141c"/>
<circle cx="772.9" cy="1779.8" r="1.4" fill="#e8141c"/>
<circle cx="744.8" cy="1796.5" r="1.4" fill="#e8141c"/>
<circle cx="772.6" cy="1796.5" r="1.4" fill="#e8141c"/>
<circle cx="758.7" cy="1804.4" r="1.4" fill="#e8141c"/>
</g>
<path d="M758.7 1672L637.3 1714.4L659.6 1845.8L758.7 1922.6L857.8 1845.8L880.1 1714.4Z" fill="none" stroke="#ffffff" stroke-width="2.2" stroke-linejoin="round"/>
<path d="M311.3 1802L324.2 1809.1L311.3 1816.5L298.4 1809.1Z" class="fwt"/>
<path d="M311.3 1803.6L321.4 1809.1L311.3 1814.9L301.2 1809.1Z" class="bv45"/>
<path d="M311.3 1802L324.2 1809.1L311.3 1816.5L298.4 1809.1L311.3 1802" class="sm2"/>
<path d="M311.3 1802L298.4 1809.1L298.1 1793.6L311.3 1786.7Z" class="fwr"/>
<path d="M309.9 1801.1L299.8 1806.6L299.5 1794.5L309.9 1789.1Z" class="bv45"/>
<path d="M311.3 1802L298.4 1809.1L298.1 1793.6L311.3 1786.7L311.3 1802" class="sm2"/>
<path d="M311.3 1802L324.2 1809.1L324.5 1793.6L311.3 1786.7Z" class="fwl"/>
<path d="M312.7 1801.1L322.8 1806.6L323.1 1794.5L312.7 1789.1Z" class="bv45"/>
<path d="M311.3 1802L324.2 1809.1L324.5 1793.6L311.3 1786.7L311.3 1802" class="sm2"/>
<path d="M298.4 1809.1L311.3 1816.5L297.8 1824.3L284.9 1816.5Z" class="fwt"/>
<path d="M298.3 1810.8L308.4 1816.6L297.8 1822.6L287.8 1816.6Z" class="bv45"/>
<path d="M298.4 1809.1L311.3 1816.5L297.8 1824.3L284.9 1816.5L298.4 1809.1" class="sm2"/>
<path d="M324.2 1809.1L337.7 1816.5L324.8 1824.3L311.3 1816.5Z" class="fwt"/>
<path d="M324.3 1810.8L334.8 1816.6L324.8 1822.6L314.2 1816.6Z" class="bv45"/>
<path d="M324.2 1809.1L337.7 1816.5L324.8 1824.3L311.3 1816.5L324.2 1809.1" class="sm2"/>
<path d="M298.4 1809.1L284.9 1816.5L284.2 1800.8L298.1 1793.6Z" class="fwr"/>
<path d="M296.8 1808.2L286.3 1814L285.8 1801.8L296.6 1796.1Z" class="bv45"/>
<path d="M298.4 1809.1L284.9 1816.5L284.2 1800.8L298.1 1793.6L298.4 1809.1" class="sm2"/>
<path d="M324.2 1809.1L337.7 1816.5L338.4 1800.8L324.5 1793.6Z" class="fwl"/>
<path d="M325.8 1808.2L336.3 1814L336.8 1801.8L326 1796.1Z" class="bv45"/>
<path d="M324.2 1809.1L337.7 1816.5L338.4 1800.8L324.5 1793.6L324.2 1809.1" class="sm2"/>
<path d="M311.3 1786.7L298.1 1793.6L297.7 1777.3L311.3 1770.5Z" class="fwr"/>
<path d="M309.8 1785.6L299.5 1791L299.2 1778.3L309.8 1773.1Z" class="bv45"/>
<path d="M311.3 1786.7L298.1 1793.6L297.7 1777.3L311.3 1770.5L311.3 1786.7" class="sm2"/>
<path d="M311.3 1786.7L324.5 1793.6L324.9 1777.3L311.3 1770.5Z" class="fwl"/>
<path d="M312.8 1785.6L323.1 1791L323.4 1778.3L312.8 1773.1Z" class="bv45"/>
<path d="M311.3 1786.7L324.5 1793.6L324.9 1777.3L311.3 1770.5L311.3 1786.7" class="sm2"/>
<path d="M284.9 1816.5L297.8 1824.3L283.6 1832.5L270.7 1824.3Z" class="fwt"/>
<path d="M284.7 1818.3L294.8 1824.3L283.8 1830.7L273.7 1824.3Z" class="bv45"/>
<path d="M284.9 1816.5L297.8 1824.3L283.6 1832.5L270.7 1824.3L284.9 1816.5" class="sm2"/>
<path d="M311.3 1816.5L324.8 1824.3L311.3 1832.5L297.8 1824.3Z" class="fwt"/>
<path d="M311.3 1818.3L321.8 1824.3L311.3 1830.7L300.8 1824.3Z" class="bv45"/>
<path d="M311.3 1816.5L324.8 1824.3L311.3 1832.5L297.8 1824.3L311.3 1816.5" class="sm2"/>
<path d="M337.7 1816.5L351.9 1824.3L339 1832.5L324.8 1824.3Z" class="fwt"/>
<path d="M337.9 1818.3L348.9 1824.3L338.8 1830.7L327.8 1824.3Z" class="bv45"/>
<path d="M337.7 1816.5L351.9 1824.3L339 1832.5L324.8 1824.3L337.7 1816.5" class="sm2"/>
<path d="M284.9 1816.5L270.7 1824.3L269.7 1808.4L284.2 1800.8Z" class="fwr"/>
<path d="M283.2 1815.7L272.2 1821.7L271.4 1809.3L282.7 1803.4Z" class="bv45"/>
<path d="M284.9 1816.5L270.7 1824.3L269.7 1808.4L284.2 1800.8L284.9 1816.5" class="sm2"/>
<path d="M337.7 1816.5L351.9 1824.3L352.9 1808.4L338.4 1800.8Z" class="fwl"/>
<path d="M339.4 1815.7L350.4 1821.7L351.2 1809.3L339.9 1803.4Z" class="bv45"/>
<path d="M337.7 1816.5L351.9 1824.3L352.9 1808.4L338.4 1800.8L337.7 1816.5" class="sm2"/>
<path d="M298.1 1793.6L284.2 1800.8L283.5 1784.3L297.7 1777.3Z" class="fwr"/>
<path d="M296.5 1792.6L285.7 1798.2L285.1 1785.3L296.2 1779.9Z" class="bv45"/>
<path d="M298.1 1793.6L284.2 1800.8L283.5 1784.3L297.7 1777.3L298.1 1793.6" class="sm2"/>
<path d="M324.5 1793.6L338.4 1800.8L339.1 1784.3L324.9 1777.3Z" class="fwl"/>
<path d="M326.1 1792.6L336.9 1798.2L337.5 1785.3L326.4 1779.9Z" class="bv45"/>
<path d="M324.5 1793.6L338.4 1800.8L339.1 1784.3L324.9 1777.3L324.5 1793.6" class="sm2"/>
<path d="M311.3 1770.5L297.7 1777.3L297.4 1760.1L311.3 1753.6Z" class="fwr"/>
<path d="M309.8 1769.4L299.2 1774.7L298.9 1761.2L309.8 1756.2Z" class="bv45"/>
<path d="M311.3 1770.5L297.7 1777.3L297.4 1760.1L311.3 1753.6L311.3 1770.5" class="sm2"/>
<path d="M311.3 1770.5L324.9 1777.3L325.2 1760.1L311.3 1753.6Z" class="fwl"/>
<path d="M312.8 1769.4L323.4 1774.7L323.7 1761.2L312.8 1756.2Z" class="bv45"/>
<path d="M311.3 1770.5L324.9 1777.3L325.2 1760.1L311.3 1753.6L311.3 1770.5" class="sm2"/>
<path d="M270.7 1824.3L283.6 1832.5L268.7 1841L255.9 1832.5Z" class="fwt"/>
<path d="M270.5 1826.1L280.6 1832.5L269 1839.2L259 1832.5Z" class="bv45"/>
<path d="M270.7 1824.3L283.6 1832.5L268.7 1841L255.9 1832.5L270.7 1824.3" class="sm2"/>
<path d="M297.8 1824.3L311.3 1832.5L297.1 1841L283.6 1832.5Z" class="fwt"/>
<path d="M297.7 1826.1L308.3 1832.5L297.2 1839.2L286.7 1832.5Z" class="bv45"/>
<path d="M297.8 1824.3L311.3 1832.5L297.1 1841L283.6 1832.5L297.8 1824.3" class="sm2"/>
<path d="M324.8 1824.3L339 1832.5L325.5 1841L311.3 1832.5Z" class="fwt"/>
<path d="M324.9 1826.1L335.9 1832.5L325.4 1839.2L314.3 1832.5Z" class="bv45"/>
<path d="M324.8 1824.3L339 1832.5L325.5 1841L311.3 1832.5L324.8 1824.3" class="sm2"/>
<path d="M351.9 1824.3L366.7 1832.5L353.9 1841L339 1832.5Z" class="fwt"/>
<path d="M352.1 1826.1L363.6 1832.5L353.6 1839.2L342 1832.5Z" class="bv45"/>
<path d="M351.9 1824.3L366.7 1832.5L353.9 1841L339 1832.5L351.9 1824.3" class="sm2"/>
<path d="M270.7 1824.3L255.9 1832.5L254.4 1816.4L269.7 1808.4Z" class="fwr"/>
<path d="M269 1823.5L257.4 1829.8L256.2 1817.3L268.1 1811.1Z" class="bv45"/>
<path d="M270.7 1824.3L255.9 1832.5L254.4 1816.4L269.7 1808.4L270.7 1824.3" class="sm2"/>
<path d="M351.9 1824.3L366.7 1832.5L368.2 1816.4L352.9 1808.4Z" class="fwl"/>
<path d="M353.6 1823.5L365.2 1829.8L366.4 1817.3L354.5 1811.1Z" class="bv45"/>
<path d="M351.9 1824.3L366.7 1832.5L368.2 1816.4L352.9 1808.4L351.9 1824.3" class="sm2"/>
<path d="M284.2 1800.8L269.7 1808.4L268.5 1791.7L283.5 1784.3Z" class="fwr"/>
<path d="M282.5 1799.9L271.2 1805.8L270.3 1792.7L281.9 1787Z" class="bv45"/>
<path d="M284.2 1800.8L269.7 1808.4L268.5 1791.7L283.5 1784.3L284.2 1800.8" class="sm2"/>
<path d="M338.4 1800.8L352.9 1808.4L354.1 1791.7L339.1 1784.3Z" class="fwl"/>
<path d="M340.1 1799.9L351.4 1805.8L352.3 1792.7L340.7 1787Z" class="bv45"/>
<path d="M338.4 1800.8L352.9 1808.4L354.1 1791.7L339.1 1784.3L338.4 1800.8" class="sm2"/>
<path d="M297.7 1777.3L283.5 1784.3L282.7 1766.9L297.4 1760.1Z" class="fwr"/>
<path d="M296.1 1776.1L285 1781.6L284.4 1768L295.8 1762.7Z" class="bv45"/>
<path d="M297.7 1777.3L283.5 1784.3L282.7 1766.9L297.4 1760.1L297.7 1777.3" class="sm2"/>
<path d="M324.9 1777.3L339.1 1784.3L339.9 1766.9L325.2 1760.1Z" class="fwl"/>
<path d="M326.5 1776.1L337.6 1781.6L338.2 1768L326.8 1762.7Z" class="bv45"/>
<path d="M324.9 1777.3L339.1 1784.3L339.9 1766.9L325.2 1760.1L324.9 1777.3" class="sm2"/>
<path d="M311.3 1753.6L297.4 1760.1L297 1742L311.3 1735.7Z" class="fwr"/>
<path d="M309.7 1752.3L298.9 1757.4L298.6 1743.2L309.7 1738.4Z" class="bv45"/>
<path d="M311.3 1753.6L297.4 1760.1L297 1742L311.3 1735.7L311.3 1753.6" class="sm2"/>
<path d="M311.3 1753.6L325.2 1760.1L325.6 1742L311.3 1735.7Z" class="fwl"/>
<path d="M312.9 1752.3L323.7 1757.4L324 1743.2L312.9 1738.4Z" class="bv45"/>
<path d="M311.3 1753.6L325.2 1760.1L325.6 1742L311.3 1735.7L311.3 1753.6" class="sm2"/>
<path d="M214.6 1856.4L226.4 1865.5L224 1850L212 1841Z" class="fwlo"/>
<path d="M215.6 1855.7L224.8 1862.8L223 1850.7L213.6 1843.7Z" class="bv45"/>
<path d="M226.4 1865.5L224 1850L212 1841" class="sm2"/>
<path d="M255.9 1832.5L268.7 1841L253.1 1850L240.4 1841Z" class="fwt"/>
<path d="M255.6 1834.4L265.6 1841L253.4 1848.1L243.5 1841Z" class="bv45"/>
<path d="M255.9 1832.5L268.7 1841L253.1 1850L240.4 1841L255.9 1832.5" class="sm2"/>
<path d="M283.6 1832.5L297.1 1841L282.2 1850L268.7 1841Z" class="fwt"/>
<path d="M283.5 1834.4L294 1841L282.4 1848.1L271.9 1841Z" class="bv45"/>
<path d="M283.6 1832.5L297.1 1841L282.2 1850L268.7 1841L283.6 1832.5" class="sm2"/>
<path d="M311.3 1832.5L325.5 1841L311.3 1850L297.1 1841Z" class="fwt"/>
<path d="M311.3 1834.4L322.4 1841L311.3 1848.1L300.2 1841Z" class="bv45"/>
<path d="M311.3 1832.5L325.5 1841L311.3 1850L297.1 1841L311.3 1832.5" class="sm2"/>
<path d="M339 1832.5L353.9 1841L340.4 1850L325.5 1841Z" class="fwt"/>
<path d="M339.1 1834.4L350.7 1841L340.2 1848.1L328.6 1841Z" class="bv45"/>
<path d="M339 1832.5L353.9 1841L340.4 1850L325.5 1841L339 1832.5" class="sm2"/>
<path d="M366.7 1832.5L382.2 1841L369.5 1850L353.9 1841Z" class="fwt"/>
<path d="M367 1834.4L379.1 1841L369.2 1848.1L357 1841Z" class="bv45"/>
<path d="M366.7 1832.5L382.2 1841L369.5 1850L353.9 1841L366.7 1832.5" class="sm2"/>
<path d="M408 1856.4L396.2 1865.5L398.6 1850L410.6 1841Z" class="fwro"/>
<path d="M407 1855.7L397.8 1862.8L399.6 1850.7L409 1843.7Z" class="bv45"/>
<path d="M396.2 1865.5L398.6 1850L410.6 1841" class="sm2"/>
<path d="M255.9 1832.5L240.4 1841L238.4 1824.8L254.4 1816.4Z" class="fwr"/>
<path d="M254 1831.6L241.9 1838.3L240.4 1825.7L252.9 1819.1Z" class="bv45"/>
<path d="M255.9 1832.5L240.4 1841L238.4 1824.8L254.4 1816.4L255.9 1832.5" class="sm2"/>
<path d="M366.7 1832.5L382.2 1841L384.2 1824.8L368.2 1816.4Z" class="fwl"/>
<path d="M368.6 1831.6L380.7 1838.3L382.2 1825.7L369.7 1819.1Z" class="bv45"/>
<path d="M366.7 1832.5L382.2 1841L384.2 1824.8L368.2 1816.4L366.7 1832.5" class="sm2"/>
<path d="M269.7 1808.4L254.4 1816.4L252.8 1799.5L268.5 1791.7Z" class="fwr"/>
<path d="M267.8 1807.5L256 1813.7L254.7 1800.5L267 1794.4Z" class="bv45"/>
<path d="M269.7 1808.4L254.4 1816.4L252.8 1799.5L268.5 1791.7L269.7 1808.4" class="sm2"/>
<path d="M352.9 1808.4L368.2 1816.4L369.8 1799.5L354.1 1791.7Z" class="fwl"/>
<path d="M354.8 1807.5L366.6 1813.7L367.9 1800.5L355.6 1794.4Z" class="bv45"/>
<path d="M352.9 1808.4L368.2 1816.4L369.8 1799.5L354.1 1791.7L352.9 1808.4" class="sm2"/>
<path d="M283.5 1784.3L268.5 1791.7L267.4 1774.1L282.7 1766.9Z" class="fwr"/>
<path d="M281.7 1783.2L270.1 1789L269.2 1775.2L281.1 1769.6Z" class="bv45"/>
<path d="M283.5 1784.3L268.5 1791.7L267.4 1774.1L282.7 1766.9L283.5 1784.3" class="sm2"/>
<path d="M339.1 1784.3L354.1 1791.7L355.2 1774.1L339.9 1766.9Z" class="fwl"/>
<path d="M340.9 1783.2L352.5 1789L353.4 1775.2L341.5 1769.6Z" class="bv45"/>
<path d="M339.1 1784.3L354.1 1791.7L355.2 1774.1L339.9 1766.9L339.1 1784.3" class="sm2"/>
<path d="M297.4 1760.1L282.7 1766.9L281.9 1748.5L297 1742Z" class="fwr"/>
<path d="M295.7 1758.8L284.3 1764.1L283.7 1749.8L295.4 1744.7Z" class="bv45"/>
<path d="M297.4 1760.1L282.7 1766.9L281.9 1748.5L297 1742L297.4 1760.1" class="sm2"/>
<path d="M325.2 1760.1L339.9 1766.9L340.7 1748.5L325.6 1742Z" class="fwl"/>
<path d="M326.9 1758.8L338.3 1764.1L338.9 1749.8L327.2 1744.7Z" class="bv45"/>
<path d="M325.2 1760.1L339.9 1766.9L340.7 1748.5L325.6 1742L325.2 1760.1" class="sm2"/>
<path d="M311.3 1735.7L297 1742L296.6 1722.8L311.3 1716.9Z" class="fwr"/>
<path d="M309.7 1734.3L298.5 1739.2L298.2 1724.3L309.7 1719.6Z" class="bv45"/>
<path d="M311.3 1735.7L297 1742L296.6 1722.8L311.3 1716.9L311.3 1735.7" class="sm2"/>
<path d="M311.3 1735.7L325.6 1742L326 1722.8L311.3 1716.9Z" class="fwl"/>
<path d="M312.9 1734.3L324.1 1739.2L324.4 1724.3L312.9 1719.6Z" class="bv45"/>
<path d="M311.3 1735.7L325.6 1742L326 1722.8L311.3 1716.9L311.3 1735.7" class="sm2"/>
<path d="M311.3 1686.7L325.7 1691.7L311.3 1697L296.9 1691.7Z" class="fwt"/>
<path d="M311.3 1687.8L322.5 1691.7L311.3 1695.9L300.1 1691.7Z" class="bv45"/>
<path d="M325.7 1691.7L311.3 1697L296.9 1691.7" class="sm2"/>
<path d="M240.4 1841L253.1 1850L236.7 1859.5L224 1850Z" class="fwt"/>
<path d="M240 1843L249.9 1850L237.1 1857.4L227.2 1850Z" class="bv45"/>
<path d="M240.4 1841L253.1 1850L236.7 1859.5M224 1850L240.4 1841" class="sm2"/>
<path d="M226.4 1865.5L238.7 1875.1L236.7 1859.5L224 1850Z" class="fwlo"/>
<path d="M227.5 1864.8L237.1 1872.3L235.5 1860.1L225.7 1852.8Z" class="bv45"/>
<path d="M238.7 1875.1L236.7 1859.5M224 1850L226.4 1865.5" class="sm2"/>
<path d="M268.7 1841L282.2 1850L266.5 1859.5L253.1 1850Z" class="fwt"/>
<path d="M268.5 1843L279 1850L266.8 1857.4L256.3 1850Z" class="bv45"/>
<path d="M268.7 1841L282.2 1850L266.5 1859.5L253.1 1850L268.7 1841" class="sm2"/>
<path d="M297.1 1841L311.3 1850L296.4 1859.5L282.2 1850Z" class="fwt"/>
<path d="M297 1843L308.1 1850L296.5 1857.4L285.4 1850Z" class="bv45"/>
<path d="M297.1 1841L311.3 1850L296.4 1859.5L282.2 1850L297.1 1841" class="sm2"/>
<path d="M325.5 1841L340.4 1850L326.2 1859.5L311.3 1850Z" class="fwt"/>
<path d="M325.6 1843L337.2 1850L326.1 1857.4L314.5 1850Z" class="bv45"/>
<path d="M325.5 1841L340.4 1850L326.2 1859.5L311.3 1850L325.5 1841" class="sm2"/>
<path d="M353.9 1841L369.5 1850L356.1 1859.5L340.4 1850Z" class="fwt"/>
<path d="M354.1 1843L366.3 1850L355.8 1857.4L343.6 1850Z" class="bv45"/>
<path d="M353.9 1841L369.5 1850L356.1 1859.5L340.4 1850L353.9 1841" class="sm2"/>
<path d="M382.2 1841L398.6 1850L385.9 1859.5L369.5 1850Z" class="fwt"/>
<path d="M382.6 1843L395.4 1850L385.5 1857.4L372.7 1850Z" class="bv45"/>
<path d="M382.2 1841L398.6 1850M385.9 1859.5L369.5 1850L382.2 1841" class="sm2"/>
<path d="M396.2 1865.5L383.9 1875.1L385.9 1859.5L398.6 1850Z" class="fwro"/>
<path d="M395.1 1864.8L385.5 1872.3L387.1 1860.1L396.9 1852.8Z" class="bv45"/>
<path d="M383.9 1875.1L385.9 1859.5M398.6 1850L396.2 1865.5" class="sm2"/>
<path d="M240.4 1841L224 1850L221.6 1833.6L238.4 1824.8Z" class="fwr"/>
<path d="M238.3 1840.2L225.6 1847.2L223.7 1834.4L236.8 1827.6Z" class="bv45"/>
<path d="M240.4 1841L224 1850M221.6 1833.6L238.4 1824.8L240.4 1841" class="sm2"/>
<path d="M212 1841L224 1850L221.6 1833.6L209.2 1824.8Z" class="fwlo"/>
<path d="M213 1840.2L222.4 1847.2L220.5 1834.4L210.9 1827.6Z" class="bv45"/>
<path d="M212 1841L224 1850M221.6 1833.6L209.2 1824.8" class="sm2"/>
<path d="M410.6 1841L398.6 1850L401 1833.6L413.4 1824.8Z" class="fwro"/>
<path d="M409.6 1840.2L400.2 1847.2L402.1 1834.4L411.7 1827.6Z" class="bv45"/>
<path d="M410.6 1841L398.6 1850M401 1833.6L413.4 1824.8" class="sm2"/>
<path d="M382.2 1841L398.6 1850L401 1833.6L384.2 1824.8Z" class="fwl"/>
<path d="M384.3 1840.2L397 1847.2L398.9 1834.4L385.8 1827.6Z" class="bv45"/>
<path d="M382.2 1841L398.6 1850M401 1833.6L384.2 1824.8L382.2 1841" class="sm2"/>
<path d="M254.4 1816.4L238.4 1824.8L236.3 1807.7L252.8 1799.5Z" class="fwr"/>
<path d="M252.5 1815.5L240 1822L238.3 1808.6L251.2 1802.3Z" class="bv45"/>
<path d="M254.4 1816.4L238.4 1824.8L236.3 1807.7L252.8 1799.5L254.4 1816.4" class="sm2"/>
<path d="M368.2 1816.4L384.2 1824.8L386.3 1807.7L369.8 1799.5Z" class="fwl"/>
<path d="M370.1 1815.5L382.6 1822L384.3 1808.6L371.4 1802.3Z" class="bv45"/>
<path d="M368.2 1816.4L384.2 1824.8L386.3 1807.7L369.8 1799.5L368.2 1816.4" class="sm2"/>
<path d="M268.5 1791.7L252.8 1799.5L251.2 1781.6L267.4 1774.1Z" class="fwr"/>
<path d="M266.7 1790.6L254.4 1796.7L253.1 1782.7L265.7 1776.8Z" class="bv45"/>
<path d="M268.5 1791.7L252.8 1799.5L251.2 1781.6L267.4 1774.1L268.5 1791.7" class="sm2"/>
<path d="M354.1 1791.7L369.8 1799.5L371.4 1781.6L355.2 1774.1Z" class="fwl"/>
<path d="M355.9 1790.6L368.2 1796.7L369.5 1782.7L356.9 1776.8Z" class="bv45"/>
<path d="M354.1 1791.7L369.8 1799.5L371.4 1781.6L355.2 1774.1L354.1 1791.7" class="sm2"/>
<path d="M282.7 1766.9L267.4 1774.1L266.1 1755.4L281.9 1748.5Z" class="fwr"/>
<path d="M280.9 1765.6L268.9 1771.2L268 1756.7L280.3 1751.3Z" class="bv45"/>
<path d="M282.7 1766.9L267.4 1774.1L266.1 1755.4L281.9 1748.5L282.7 1766.9" class="sm2"/>
<path d="M339.9 1766.9L355.2 1774.1L356.5 1755.4L340.7 1748.5Z" class="fwl"/>
<path d="M341.7 1765.6L353.7 1771.2L354.6 1756.7L342.3 1751.3Z" class="bv45"/>
<path d="M339.9 1766.9L355.2 1774.1L356.5 1755.4L340.7 1748.5L339.9 1766.9" class="sm2"/>
<path d="M297 1742L281.9 1748.5L281.1 1729L296.6 1722.8Z" class="fwr"/>
<path d="M295.3 1740.5L283.5 1745.7L282.9 1730.5L294.9 1725.6Z" class="bv45"/>
<path d="M297 1742L281.9 1748.5L281.1 1729L296.6 1722.8L297 1742" class="sm2"/>
<path d="M325.6 1742L340.7 1748.5L341.5 1729L326 1722.8Z" class="fwl"/>
<path d="M327.3 1740.5L339.1 1745.7L339.7 1730.5L327.7 1725.6Z" class="bv45"/>
<path d="M325.6 1742L340.7 1748.5L341.5 1729L326 1722.8L325.6 1742" class="sm2"/>
<path d="M296.9 1691.7L311.3 1697L296.2 1702.6L281.8 1697Z" class="fwt"/>
<path d="M296.8 1692.9L308.1 1697L296.2 1701.4L285 1697Z" class="bv45"/>
<path d="M296.9 1691.7L311.3 1697M296.2 1702.6L281.8 1697" class="sm2"/>
<path d="M311.3 1716.9L296.6 1722.8L296.2 1702.6L311.3 1697Z" class="fwr"/>
<path d="M309.7 1715.3L298.2 1720L297.8 1704.2L309.7 1699.8Z" class="bv45"/>
<path d="M311.3 1716.9L296.6 1722.8L296.2 1702.6M311.3 1697L311.3 1716.9" class="sm2"/>
<path d="M325.7 1691.7L340.8 1697L326.4 1702.6L311.3 1697Z" class="fwt"/>
<path d="M325.8 1692.9L337.6 1697L326.4 1701.4L314.5 1697Z" class="bv45"/>
<path d="M340.8 1697L326.4 1702.6M311.3 1697L325.7 1691.7" class="sm2"/>
<path d="M311.3 1716.9L326 1722.8L326.4 1702.6L311.3 1697Z" class="fwl"/>
<path d="M312.9 1715.3L324.4 1720L324.8 1704.2L312.9 1699.8Z" class="bv45"/>
<path d="M311.3 1716.9L326 1722.8L326.4 1702.6M311.3 1697L311.3 1716.9" class="sm2"/>
<path d="M253.1 1850L266.5 1859.5L250 1869.4L236.7 1859.5Z" class="fwt"/>
<path d="M252.8 1852.1L263.2 1859.5L250.4 1867.3L240 1859.5Z" class="bv45"/>
<path d="M253.1 1850L266.5 1859.5L250 1869.4M236.7 1859.5L253.1 1850" class="sm2"/>
<path d="M238.7 1875.1L251.8 1885.2L250 1869.4L236.7 1859.5Z" class="fwlo"/>
<path d="M240 1874.5L250.1 1882.3L248.8 1870L238.4 1862.3Z" class="bv45"/>
<path d="M251.8 1885.2L250 1869.4M236.7 1859.5L238.7 1875.1" class="sm2"/>
<path d="M282.2 1850L296.4 1859.5L280.7 1869.4L266.5 1859.5Z" class="fwt"/>
<path d="M282 1852.1L293.1 1859.5L280.8 1867.3L269.8 1859.5Z" class="bv45"/>
<path d="M282.2 1850L296.4 1859.5L280.7 1869.4L266.5 1859.5L282.2 1850" class="sm2"/>
<path d="M311.3 1850L326.2 1859.5L311.3 1869.4L296.4 1859.5Z" class="fwt"/>
<path d="M311.3 1852.1L322.9 1859.5L311.3 1867.3L299.7 1859.5Z" class="bv45"/>
<path d="M311.3 1850L326.2 1859.5L311.3 1869.4L296.4 1859.5L311.3 1850" class="sm2"/>
<path d="M340.4 1850L356.1 1859.5L341.9 1869.4L326.2 1859.5Z" class="fwt"/>
<path d="M340.6 1852.1L352.8 1859.5L341.8 1867.3L329.5 1859.5Z" class="bv45"/>
<path d="M340.4 1850L356.1 1859.5L341.9 1869.4L326.2 1859.5L340.4 1850" class="sm2"/>
<path d="M369.5 1850L385.9 1859.5L372.6 1869.4L356.1 1859.5Z" class="fwt"/>
<path d="M369.8 1852.1L382.6 1859.5L372.2 1867.3L359.4 1859.5Z" class="bv45"/>
<path d="M369.5 1850L385.9 1859.5M372.6 1869.4L356.1 1859.5L369.5 1850" class="sm2"/>
<path d="M383.9 1875.1L370.8 1885.2L372.6 1869.4L385.9 1859.5Z" class="fwro"/>
<path d="M382.6 1874.5L372.5 1882.3L373.8 1870L384.2 1862.3Z" class="bv45"/>
<path d="M370.8 1885.2L372.6 1869.4M385.9 1859.5L383.9 1875.1" class="sm2"/>
<path d="M238.4 1824.8L221.6 1833.6L218.9 1816.3L236.3 1807.7Z" class="fwr"/>
<path d="M236.3 1823.9L223.1 1830.8L221.1 1817.2L234.7 1810.5Z" class="bv45"/>
<path d="M238.4 1824.8L221.6 1833.6M218.9 1816.3L236.3 1807.7L238.4 1824.8" class="sm2"/>
<path d="M209.2 1824.8L221.6 1833.6L218.9 1816.3L206.3 1807.7Z" class="fwlo"/>
<path d="M210.3 1823.9L219.9 1830.8L217.8 1817.2L208 1810.5Z" class="bv45"/>
<path d="M209.2 1824.8L221.6 1833.6M218.9 1816.3L206.3 1807.7" class="sm2"/>
<path d="M413.4 1824.8L401 1833.6L403.7 1816.3L416.3 1807.7Z" class="fwro"/>
<path d="M412.3 1823.9L402.7 1830.8L404.8 1817.2L414.6 1810.5Z" class="bv45"/>
<path d="M413.4 1824.8L401 1833.6M403.7 1816.3L416.3 1807.7" class="sm2"/>
<path d="M384.2 1824.8L401 1833.6L403.7 1816.3L386.3 1807.7Z" class="fwl"/>
<path d="M386.3 1823.9L399.5 1830.8L401.5 1817.2L387.9 1810.5Z" class="bv45"/>
<path d="M384.2 1824.8L401 1833.6M403.7 1816.3L386.3 1807.7L384.2 1824.8" class="sm2"/>
<path d="M252.8 1799.5L236.3 1807.7L234.1 1789.5L251.2 1781.6Z" class="fwr"/>
<path d="M250.8 1798.4L237.9 1804.8L236.2 1790.6L249.5 1784.4Z" class="bv45"/>
<path d="M252.8 1799.5L236.3 1807.7L234.1 1789.5L251.2 1781.6L252.8 1799.5" class="sm2"/>
<path d="M369.8 1799.5L386.3 1807.7L388.5 1789.5L371.4 1781.6Z" class="fwl"/>
<path d="M371.8 1798.4L384.7 1804.8L386.4 1790.6L373.1 1784.4Z" class="bv45"/>
<path d="M369.8 1799.5L386.3 1807.7L388.5 1789.5L371.4 1781.6L369.8 1799.5" class="sm2"/>
<path d="M267.4 1774.1L251.2 1781.6L249.4 1762.6L266.1 1755.4Z" class="fwr"/>
<path d="M265.4 1772.8L252.8 1778.7L251.4 1763.9L264.4 1758.2Z" class="bv45"/>
<path d="M267.4 1774.1L251.2 1781.6L249.4 1762.6L266.1 1755.4L267.4 1774.1" class="sm2"/>
<path d="M355.2 1774.1L371.4 1781.6L373.2 1762.6L356.5 1755.4Z" class="fwl"/>
<path d="M357.2 1772.8L369.8 1778.7L371.2 1763.9L358.2 1758.2Z" class="bv45"/>
<path d="M355.2 1774.1L371.4 1781.6L373.2 1762.6L356.5 1755.4L355.2 1774.1" class="sm2"/>
<path d="M281.9 1748.5L266.1 1755.4L264.8 1735.6L281.1 1729Z" class="fwr"/>
<path d="M280.1 1747.1L267.7 1752.5L266.7 1737L279.4 1731.9Z" class="bv45"/>
<path d="M281.9 1748.5L266.1 1755.4L264.8 1735.6L281.1 1729L281.9 1748.5" class="sm2"/>
<path d="M340.7 1748.5L356.5 1755.4L357.8 1735.6L341.5 1729Z" class="fwl"/>
<path d="M342.5 1747.1L354.9 1752.5L355.9 1737L343.2 1731.9Z" class="bv45"/>
<path d="M340.7 1748.5L356.5 1755.4L357.8 1735.6L341.5 1729L340.7 1748.5" class="sm2"/>
<path d="M281.8 1697L296.2 1702.6L280.2 1708.4L265.9 1702.6Z" class="fwt"/>
<path d="M281.6 1698.3L292.8 1702.6L280.4 1707.2L269.2 1702.6Z" class="bv45"/>
<path d="M281.8 1697L296.2 1702.6M280.2 1708.4L265.9 1702.6" class="sm2"/>
<path d="M296.6 1722.8L281.1 1729L280.2 1708.4L296.2 1702.6Z" class="fwr"/>
<path d="M294.8 1721.3L282.7 1726.1L282 1710L294.5 1705.5Z" class="bv45"/>
<path d="M296.6 1722.8L281.1 1729L280.2 1708.4M296.2 1702.6L296.6 1722.8" class="sm2"/>
<path d="M340.8 1697L356.7 1702.6L342.4 1708.4L326.4 1702.6Z" class="fwt"/>
<path d="M341 1698.3L353.4 1702.6L342.2 1707.2L329.8 1702.6Z" class="bv45"/>
<path d="M356.7 1702.6L342.4 1708.4M326.4 1702.6L340.8 1697" class="sm2"/>
<path d="M326 1722.8L341.5 1729L342.4 1708.4L326.4 1702.6Z" class="fwl"/>
<path d="M327.8 1721.3L339.9 1726.1L340.6 1710L328.1 1705.5Z" class="bv45"/>
<path d="M326 1722.8L341.5 1729L342.4 1708.4M326.4 1702.6L326 1722.8" class="sm2"/>
<path d="M266.5 1859.5L280.7 1869.4L264.1 1879.9L250 1869.4Z" class="fwt"/>
<path d="M266.3 1861.7L277.3 1869.4L264.4 1877.6L253.4 1869.4Z" class="bv45"/>
<path d="M266.5 1859.5L280.7 1869.4L264.1 1879.9M250 1869.4L266.5 1859.5" class="sm2"/>
<path d="M251.8 1885.2L265.5 1895.8L264.1 1879.9L250 1869.4Z" class="fwlo"/>
<path d="M253.1 1884.6L263.8 1892.9L262.7 1880.5L251.7 1872.3Z" class="bv45"/>
<path d="M265.5 1895.8L264.1 1879.9M250 1869.4L251.8 1885.2" class="sm2"/>
<path d="M296.4 1859.5L311.3 1869.4L295.6 1879.9L280.7 1869.4Z" class="fwt"/>
<path d="M296.3 1861.7L307.9 1869.4L295.7 1877.6L284 1869.4Z" class="bv45"/>
<path d="M296.4 1859.5L311.3 1869.4L295.6 1879.9L280.7 1869.4L296.4 1859.5" class="sm2"/>
<path d="M326.2 1859.5L341.9 1869.4L327 1879.9L311.3 1869.4Z" class="fwt"/>
<path d="M326.3 1861.7L338.6 1869.4L326.9 1877.6L314.7 1869.4Z" class="bv45"/>
<path d="M326.2 1859.5L341.9 1869.4L327 1879.9L311.3 1869.4L326.2 1859.5" class="sm2"/>
<path d="M356.1 1859.5L372.6 1869.4L358.5 1879.9L341.9 1869.4Z" class="fwt"/>
<path d="M356.3 1861.7L369.2 1869.4L358.2 1877.6L345.3 1869.4Z" class="bv45"/>
<path d="M356.1 1859.5L372.6 1869.4M358.5 1879.9L341.9 1869.4L356.1 1859.5" class="sm2"/>
<path d="M370.8 1885.2L357.1 1895.8L358.5 1879.9L372.6 1869.4Z" class="fwro"/>
<path d="M369.5 1884.6L358.8 1892.9L359.9 1880.5L370.9 1872.3Z" class="bv45"/>
<path d="M357.1 1895.8L358.5 1879.9M372.6 1869.4L370.8 1885.2" class="sm2"/>
<path d="M236.3 1807.7L218.9 1816.3L216.1 1797.9L234.1 1789.5Z" class="fwr"/>
<path d="M234.1 1806.6L220.6 1813.3L218.4 1799L232.4 1792.5Z" class="bv45"/>
<path d="M236.3 1807.7L218.9 1816.3M216.1 1797.9L234.1 1789.5L236.3 1807.7" class="sm2"/>
<path d="M206.3 1807.7L218.9 1816.3L216.1 1797.9L203.3 1789.5Z" class="fwlo"/>
<path d="M207.4 1806.6L217.2 1813.3L215 1799L205 1792.5Z" class="bv45"/>
<path d="M206.3 1807.7L218.9 1816.3M216.1 1797.9L203.3 1789.5" class="sm2"/>
<path d="M416.3 1807.7L403.7 1816.3L406.5 1797.9L419.3 1789.5Z" class="fwro"/>
<path d="M415.2 1806.6L405.4 1813.3L407.6 1799L417.6 1792.5Z" class="bv45"/>
<path d="M416.3 1807.7L403.7 1816.3M406.5 1797.9L419.3 1789.5" class="sm2"/>
<path d="M386.3 1807.7L403.7 1816.3L406.5 1797.9L388.5 1789.5Z" class="fwl"/>
<path d="M388.5 1806.6L402 1813.3L404.2 1799L390.2 1792.5Z" class="bv45"/>
<path d="M386.3 1807.7L403.7 1816.3M406.5 1797.9L388.5 1789.5L386.3 1807.7" class="sm2"/>
<path d="M251.2 1781.6L234.1 1789.5L231.8 1770.3L249.4 1762.6Z" class="fwr"/>
<path d="M249.1 1780.4L235.8 1786.6L234 1771.5L247.7 1765.6Z" class="bv45"/>
<path d="M251.2 1781.6L234.1 1789.5L231.8 1770.3L249.4 1762.6L251.2 1781.6" class="sm2"/>
<path d="M371.4 1781.6L388.5 1789.5L390.8 1770.3L373.2 1762.6Z" class="fwl"/>
<path d="M373.5 1780.4L386.8 1786.6L388.6 1771.5L374.9 1765.6Z" class="bv45"/>
<path d="M371.4 1781.6L388.5 1789.5L390.8 1770.3L373.2 1762.6L371.4 1781.6" class="sm2"/>
<path d="M266.1 1755.4L249.4 1762.6L247.5 1742.5L264.8 1735.6Z" class="fwr"/>
<path d="M264.1 1754L251.1 1759.6L249.6 1744L263 1738.6Z" class="bv45"/>
<path d="M266.1 1755.4L249.4 1762.6L247.5 1742.5L264.8 1735.6L266.1 1755.4" class="sm2"/>
<path d="M356.5 1755.4L373.2 1762.6L375.1 1742.5L357.8 1735.6Z" class="fwl"/>
<path d="M358.5 1754L371.5 1759.6L373 1744L359.6 1738.6Z" class="bv45"/>
<path d="M356.5 1755.4L373.2 1762.6L375.1 1742.5L357.8 1735.6L356.5 1755.4" class="sm2"/>
<path d="M265.9 1702.6L280.2 1708.4L263.4 1714.6L249.1 1708.4Z" class="fwt"/>
<path d="M265.6 1703.9L276.8 1708.5L263.6 1713.3L252.5 1708.5Z" class="bv45"/>
<path d="M265.9 1702.6L280.2 1708.4M263.4 1714.6L249.1 1708.4" class="sm2"/>
<path d="M281.1 1729L264.8 1735.6L263.4 1714.6L280.2 1708.4Z" class="fwr"/>
<path d="M279.2 1727.5L266.4 1732.6L265.3 1716.2L278.5 1711.4Z" class="bv45"/>
<path d="M281.1 1729L264.8 1735.6L263.4 1714.6M280.2 1708.4L281.1 1729" class="sm2"/>
<path d="M356.7 1702.6L373.5 1708.4L359.2 1714.6L342.4 1708.4Z" class="fwt"/>
<path d="M357 1703.9L370.1 1708.5L359 1713.3L345.8 1708.5Z" class="bv45"/>
<path d="M373.5 1708.4L359.2 1714.6M342.4 1708.4L356.7 1702.6" class="sm2"/>
<path d="M341.5 1729L357.8 1735.6L359.2 1714.6L342.4 1708.4Z" class="fwl"/>
<path d="M343.4 1727.5L356.2 1732.6L357.3 1716.2L344.1 1711.4Z" class="bv45"/>
<path d="M341.5 1729L357.8 1735.6L359.2 1714.6M342.4 1708.4L341.5 1729" class="sm2"/>
<path d="M280.7 1869.4L295.6 1879.9L278.9 1891L264.1 1879.9Z" class="fwt"/>
<path d="M280.5 1871.8L292.1 1879.9L279.1 1888.6L267.5 1879.9Z" class="bv45"/>
<path d="M280.7 1869.4L295.6 1879.9L278.9 1891M264.1 1879.9L280.7 1869.4" class="sm2"/>
<path d="M265.5 1895.8L279.9 1907L278.9 1891L264.1 1879.9Z" class="fwlo"/>
<path d="M266.9 1895.3L278.2 1904L277.4 1891.5L265.8 1882.9Z" class="bv45"/>
<path d="M279.9 1907L278.9 1891M264.1 1879.9L265.5 1895.8" class="sm2"/>
<path d="M311.3 1869.4L327 1879.9L311.3 1891L295.6 1879.9Z" class="fwt"/>
<path d="M311.3 1871.8L323.6 1879.9L311.3 1888.6L299 1879.9Z" class="bv45"/>
<path d="M311.3 1869.4L327 1879.9L311.3 1891L295.6 1879.9L311.3 1869.4" class="sm2"/>
<path d="M341.9 1869.4L358.5 1879.9L343.7 1891L327 1879.9Z" class="fwt"/>
<path d="M342.1 1871.8L355.1 1879.9L343.5 1888.6L330.5 1879.9Z" class="bv45"/>
<path d="M341.9 1869.4L358.5 1879.9M343.7 1891L327 1879.9L341.9 1869.4" class="sm2"/>
<path d="M357.1 1895.8L342.7 1907L343.7 1891L358.5 1879.9Z" class="fwro"/>
<path d="M355.7 1895.3L344.4 1904L345.2 1891.5L356.8 1882.9Z" class="bv45"/>
<path d="M342.7 1907L343.7 1891M358.5 1879.9L357.1 1895.8" class="sm2"/>
<path d="M234.1 1789.5L216.1 1797.9L213.2 1778.4L231.8 1770.3Z" class="fwr"/>
<path d="M231.9 1788.3L217.8 1794.9L215.5 1779.6L230 1773.3Z" class="bv45"/>
<path d="M234.1 1789.5L216.1 1797.9M213.2 1778.4L231.8 1770.3L234.1 1789.5" class="sm2"/>
<path d="M203.3 1789.5L216.1 1797.9L213.2 1778.4L200 1770.3Z" class="fwlo"/>
<path d="M204.3 1788.3L214.4 1794.9L212.1 1779.6L201.8 1773.3Z" class="bv45"/>
<path d="M203.3 1789.5L216.1 1797.9M213.2 1778.4L200 1770.3" class="sm2"/>
<path d="M419.3 1789.5L406.5 1797.9L409.4 1778.4L422.6 1770.3Z" class="fwro"/>
<path d="M418.3 1788.3L408.2 1794.9L410.5 1779.6L420.8 1773.3Z" class="bv45"/>
<path d="M419.3 1789.5L406.5 1797.9M409.4 1778.4L422.6 1770.3" class="sm2"/>
<path d="M388.5 1789.5L406.5 1797.9L409.4 1778.4L390.8 1770.3Z" class="fwl"/>
<path d="M390.7 1788.3L404.8 1794.9L407.1 1779.6L392.6 1773.3Z" class="bv45"/>
<path d="M388.5 1789.5L406.5 1797.9M409.4 1778.4L390.8 1770.3L388.5 1789.5" class="sm2"/>
<path d="M249.4 1762.6L231.8 1770.3L229.3 1749.8L247.5 1742.5Z" class="fwr"/>
<path d="M247.2 1761.2L233.5 1767.2L231.6 1751.3L245.8 1745.6Z" class="bv45"/>
<path d="M249.4 1762.6L231.8 1770.3L229.3 1749.8L247.5 1742.5L249.4 1762.6" class="sm2"/>
<path d="M373.2 1762.6L390.8 1770.3L393.3 1749.8L375.1 1742.5Z" class="fwl"/>
<path d="M375.4 1761.2L389.1 1767.2L391 1751.3L376.8 1745.6Z" class="bv45"/>
<path d="M373.2 1762.6L390.8 1770.3L393.3 1749.8L375.1 1742.5L373.2 1762.6" class="sm2"/>
<path d="M249.1 1708.4L263.4 1714.6L245.5 1721.2L231.4 1714.6Z" class="fwt"/>
<path d="M248.7 1709.8L259.8 1714.6L245.9 1719.7L234.9 1714.6Z" class="bv45"/>
<path d="M249.1 1708.4L263.4 1714.6M245.5 1721.2L231.4 1714.6" class="sm2"/>
<path d="M264.8 1735.6L247.5 1742.5L245.5 1721.2L263.4 1714.6Z" class="fwr"/>
<path d="M262.7 1734L249.2 1739.4L247.7 1722.8L261.6 1717.7Z" class="bv45"/>
<path d="M264.8 1735.6L247.5 1742.5L245.5 1721.2M263.4 1714.6L264.8 1735.6" class="sm2"/>
<path d="M373.5 1708.4L391.2 1714.6L377.1 1721.2L359.2 1714.6Z" class="fwt"/>
<path d="M373.9 1709.8L387.7 1714.6L376.7 1719.7L362.8 1714.6Z" class="bv45"/>
<path d="M391.2 1714.6L377.1 1721.2M359.2 1714.6L373.5 1708.4" class="sm2"/>
<path d="M357.8 1735.6L375.1 1742.5L377.1 1721.2L359.2 1714.6Z" class="fwl"/>
<path d="M359.9 1734L373.4 1739.4L374.9 1722.8L361 1717.7Z" class="bv45"/>
<path d="M357.8 1735.6L375.1 1742.5L377.1 1721.2M359.2 1714.6L357.8 1735.6" class="sm2"/>
<path d="M295.6 1879.9L311.3 1891L294.7 1902.7L278.9 1891Z" class="fwt"/>
<path d="M295.5 1882.4L307.7 1891L294.8 1900.2L282.5 1891Z" class="bv45"/>
<path d="M295.6 1879.9L311.3 1891L294.7 1902.7M278.9 1891L295.6 1879.9" class="sm2"/>
<path d="M279.9 1907L295.2 1918.8L294.7 1902.7L278.9 1891Z" class="fwlo"/>
<path d="M281.5 1906.5L293.4 1915.7L293 1903.2L280.7 1894.1Z" class="bv45"/>
<path d="M295.2 1918.8L294.7 1902.7M278.9 1891L279.9 1907" class="sm2"/>
<path d="M327 1879.9L343.7 1891L327.9 1902.7L311.3 1891Z" class="fwt"/>
<path d="M327.1 1882.4L340.1 1891L327.8 1900.2L314.9 1891Z" class="bv45"/>
<path d="M327 1879.9L343.7 1891M327.9 1902.7L311.3 1891L327 1879.9" class="sm2"/>
<path d="M342.7 1907L327.4 1918.8L327.9 1902.7L343.7 1891Z" class="fwro"/>
<path d="M341.1 1906.5L329.2 1915.7L329.6 1903.2L341.9 1894.1Z" class="bv45"/>
<path d="M327.4 1918.8L327.9 1902.7M343.7 1891L342.7 1907" class="sm2"/>
<path d="M231.8 1770.3L213.2 1778.4L210 1757.6L229.3 1749.8Z" class="fwr"/>
<path d="M229.4 1768.9L214.9 1775.2L212.5 1759L227.5 1753Z" class="bv45"/>
<path d="M231.8 1770.3L213.2 1778.4M210 1757.6L229.3 1749.8L231.8 1770.3" class="sm2"/>
<path d="M200 1770.3L213.2 1778.4L210 1757.6L196.5 1749.8Z" class="fwlo"/>
<path d="M201.1 1768.9L211.4 1775.2L208.9 1759L198.4 1753Z" class="bv45"/>
<path d="M200 1770.3L213.2 1778.4M210 1757.6L196.5 1749.8" class="sm2"/>
<path d="M422.6 1770.3L409.4 1778.4L412.6 1757.6L426.1 1749.8Z" class="fwro"/>
<path d="M421.5 1768.9L411.2 1775.2L413.7 1759L424.2 1753Z" class="bv45"/>
<path d="M422.6 1770.3L409.4 1778.4M412.6 1757.6L426.1 1749.8" class="sm2"/>
<path d="M390.8 1770.3L409.4 1778.4L412.6 1757.6L393.3 1749.8Z" class="fwl"/>
<path d="M393.2 1768.9L407.7 1775.2L410.1 1759L395.1 1753Z" class="bv45"/>
<path d="M390.8 1770.3L409.4 1778.4M412.6 1757.6L393.3 1749.8L390.8 1770.3" class="sm2"/>
<path d="M231.4 1714.6L245.5 1721.2L226.7 1728.1L212.7 1721.2Z" class="fwt"/>
<path d="M230.9 1716.1L241.9 1721.2L227.2 1726.6L216.3 1721.2Z" class="bv45"/>
<path d="M231.4 1714.6L245.5 1721.2M226.7 1728.1L212.7 1721.2" class="sm2"/>
<path d="M247.5 1742.5L229.3 1749.8L226.7 1728.1L245.5 1721.2Z" class="fwr"/>
<path d="M245.3 1741L231.1 1746.7L229 1729.7L243.7 1724.3Z" class="bv45"/>
<path d="M247.5 1742.5L229.3 1749.8L226.7 1728.1M245.5 1721.2L247.5 1742.5" class="sm2"/>
<path d="M391.2 1714.6L409.9 1721.2L395.9 1728.1L377.1 1721.2Z" class="fwt"/>
<path d="M391.7 1716.1L406.3 1721.2L395.4 1726.6L380.7 1721.2Z" class="bv45"/>
<path d="M409.9 1721.2L395.9 1728.1M377.1 1721.2L391.2 1714.6" class="sm2"/>
<path d="M375.1 1742.5L393.3 1749.8L395.9 1728.1L377.1 1721.2Z" class="fwl"/>
<path d="M377.3 1741L391.5 1746.7L393.6 1729.7L378.9 1724.3Z" class="bv45"/>
<path d="M375.1 1742.5L393.3 1749.8L395.9 1728.1M377.1 1721.2L375.1 1742.5" class="sm2"/>
<path d="M311.3 1891L327.9 1902.7L311.3 1915.2L294.7 1902.7Z" class="fwt"/>
<path d="M311.3 1893.6L324.3 1902.8L311.3 1912.5L298.3 1902.8Z" class="bv45"/>
<path d="M311.3 1891L327.9 1902.7M294.7 1902.7L311.3 1891" class="sm2"/>
<path d="M327.4 1918.8L311.3 1931.3L311.3 1915.2L327.9 1902.7Z" class="fwro"/>
<path d="M325.7 1918.4L313.1 1928.1L313.1 1915.6L326.1 1905.9Z" class="bv45"/>
<path d="M327.9 1902.7L327.4 1918.8" class="sm2"/>
<path d="M295.2 1918.8L311.3 1931.3L311.3 1915.2L294.7 1902.7Z" class="fwlo"/>
<path d="M296.9 1918.4L309.5 1928.1L309.5 1915.6L296.5 1905.9Z" class="bv45"/>
<path d="M294.7 1902.7L295.2 1918.8" class="sm2"/>
<path d="M212.7 1721.2L226.7 1728.1L206.7 1735.4L192.8 1728.1Z" class="fwt"/>
<path d="M212 1722.7L223 1728.1L207.3 1733.8L196.6 1728.1Z" class="bv45"/>
<path d="M212.7 1721.2L226.7 1728.1" class="sm2"/>
<path d="M229.3 1749.8L210 1757.6L206.7 1735.4L226.7 1728.1Z" class="fwr"/>
<path d="M226.9 1748.3L211.8 1754.3L209.2 1737L224.8 1731.3Z" class="bv45"/>
<path d="M229.3 1749.8L210 1757.6M226.7 1728.1L229.3 1749.8" class="sm2"/>
<path d="M196.5 1749.8L210 1757.6L206.7 1735.4L192.8 1728.1Z" class="fwlo"/>
<path d="M197.6 1748.3L208.2 1754.3L205.5 1737L194.7 1731.3Z" class="bv45"/>
<path d="M196.5 1749.8L210 1757.6" class="sm2"/>
<path d="M409.9 1721.2L429.8 1728.1L415.9 1735.4L395.9 1728.1Z" class="fwt"/>
<path d="M410.6 1722.7L426 1728.1L415.3 1733.8L399.6 1728.1Z" class="bv45"/>
<path d="M395.9 1728.1L409.9 1721.2" class="sm2"/>
<path d="M426.1 1749.8L412.6 1757.6L415.9 1735.4L429.8 1728.1Z" class="fwro"/>
<path d="M425 1748.3L414.4 1754.3L417.1 1737L427.9 1731.3Z" class="bv45"/>
<path d="M426.1 1749.8L412.6 1757.6" class="sm2"/>
<path d="M393.3 1749.8L412.6 1757.6L415.9 1735.4L395.9 1728.1Z" class="fwl"/>
<path d="M395.7 1748.3L410.8 1754.3L413.4 1737L397.8 1731.3Z" class="bv45"/>
<path d="M393.3 1749.8L412.6 1757.6M395.9 1728.1L393.3 1749.8" class="sm2"/>
<ellipse cx="311.3" cy="1797.6" rx="58.0" ry="62.0" fill="url(#glow)"/>
<g opacity="0.90">
<path d="M284.9 1816.5L298.1 1824.5L297.7 1808.2L284.2 1800.4Z" fill="url(#ol)" stroke="#d2580f" stroke-width="0.48"/>
<path d="M298.1 1824.5L297.7 1808.2L291.2 1812.4Z" fill="#000000" fill-opacity="0.05"/>
<path d="M297.7 1808.2L284.2 1800.4L291.2 1812.4Z" fill="#ffffff" fill-opacity="0.06"/>
<path d="M284.2 1800.4L284.9 1816.5L291.2 1812.4Z" fill="#ffffff" fill-opacity="0.03"/>
<path d="M337.7 1816.5L324.5 1824.5L324.9 1808.2L338.4 1800.4Z" fill="url(#or)" stroke="#d2580f" stroke-width="0.48"/>
<path d="M324.5 1824.5L324.9 1808.2L331.4 1812.4Z" fill="#ffffff" fill-opacity="0.06"/>
<path d="M324.9 1808.2L338.4 1800.4L331.4 1812.4Z" fill="#000000" fill-opacity="0.05"/>
<path d="M338.4 1800.4L337.7 1816.5L331.4 1812.4Z" fill="#ffffff" fill-opacity="0.03"/>
<path d="M311.3 1770.5L325.2 1777.4L311.3 1784.7L297.4 1777.4Z" fill="url(#ot)" stroke="#d2580f" stroke-width="0.48"/>
<path d="M311.3 1770.5L325.2 1777.4L311.3 1777.5Z" fill="#ffffff" fill-opacity="0.10"/>
<path d="M311.3 1784.7L297.4 1777.4L311.3 1777.5Z" fill="#000000" fill-opacity="0.04"/>
<path d="M297.4 1777.4L311.3 1770.5L311.3 1777.5Z" fill="#ffffff" fill-opacity="0.05"/>
<path d="M324.5 1824.5L311.3 1832.5L311.3 1816L324.9 1808.2Z" fill="url(#or)" stroke="#d2580f" stroke-width="0.48"/>
<path d="M311.3 1832.5L311.3 1816.0L318.0 1820.3Z" fill="#ffffff" fill-opacity="0.06"/>
<path d="M311.3 1816.0L324.9 1808.2L318.0 1820.3Z" fill="#000000" fill-opacity="0.05"/>
<path d="M324.9 1808.2L324.5 1824.5L318.0 1820.3Z" fill="#ffffff" fill-opacity="0.03"/>
<path d="M298.1 1824.5L311.3 1832.5L311.3 1816L297.7 1808.2Z" fill="url(#ol)" stroke="#d2580f" stroke-width="0.48"/>
<path d="M311.3 1832.5L311.3 1816.0L304.6 1820.3Z" fill="#000000" fill-opacity="0.05"/>
<path d="M311.3 1816.0L297.7 1808.2L304.6 1820.3Z" fill="#ffffff" fill-opacity="0.06"/>
<path d="M297.7 1808.2L298.1 1824.5L304.6 1820.3Z" fill="#ffffff" fill-opacity="0.03"/>
<path d="M297.4 1777.4L311.3 1784.7L297.4 1791.9L283.5 1784.3Z" fill="url(#ot)" stroke="#d2580f" stroke-width="0.48"/>
<path d="M297.4 1777.4L311.3 1784.7L297.4 1784.6Z" fill="#ffffff" fill-opacity="0.10"/>
<path d="M297.4 1791.9L283.5 1784.3L297.4 1784.6Z" fill="#000000" fill-opacity="0.04"/>
<path d="M283.5 1784.3L297.4 1777.4L297.4 1784.6Z" fill="#ffffff" fill-opacity="0.05"/>
<path d="M284.2 1800.4L297.7 1808.2L297.4 1791.9L283.5 1784.3Z" fill="url(#ol)" stroke="#d2580f" stroke-width="0.48"/>
<path d="M297.7 1808.2L297.4 1791.9L290.7 1796.2Z" fill="#000000" fill-opacity="0.05"/>
<path d="M297.4 1791.9L283.5 1784.3L290.7 1796.2Z" fill="#ffffff" fill-opacity="0.06"/>
<path d="M283.5 1784.3L284.2 1800.4L290.7 1796.2Z" fill="#ffffff" fill-opacity="0.03"/>
<path d="M325.2 1777.4L339.1 1784.3L325.2 1791.9L311.3 1784.7Z" fill="url(#ot)" stroke="#d2580f" stroke-width="0.48"/>
<path d="M325.2 1777.4L339.1 1784.3L325.2 1784.6Z" fill="#ffffff" fill-opacity="0.10"/>
<path d="M325.2 1791.9L311.3 1784.7L325.2 1784.6Z" fill="#000000" fill-opacity="0.04"/>
<path d="M311.3 1784.7L325.2 1777.4L325.2 1784.6Z" fill="#ffffff" fill-opacity="0.05"/>
<path d="M338.4 1800.4L324.9 1808.2L325.2 1791.9L339.1 1784.3Z" fill="url(#or)" stroke="#d2580f" stroke-width="0.48"/>
<path d="M324.9 1808.2L325.2 1791.9L331.9 1796.2Z" fill="#ffffff" fill-opacity="0.06"/>
<path d="M325.2 1791.9L339.1 1784.3L331.9 1796.2Z" fill="#000000" fill-opacity="0.05"/>
<path d="M339.1 1784.3L338.4 1800.4L331.9 1796.2Z" fill="#ffffff" fill-opacity="0.03"/>
<path d="M311.3 1784.7L325.2 1791.9L311.3 1799.5L297.4 1791.9Z" fill="url(#ot)" stroke="#d2580f" stroke-width="0.48"/>
<path d="M311.3 1784.7L325.2 1791.9L311.3 1792.0Z" fill="#ffffff" fill-opacity="0.10"/>
<path d="M311.3 1799.5L297.4 1791.9L311.3 1792.0Z" fill="#000000" fill-opacity="0.04"/>
<path d="M297.4 1791.9L311.3 1784.7L311.3 1792.0Z" fill="#ffffff" fill-opacity="0.05"/>
<path d="M324.9 1808.2L311.3 1816L311.3 1799.5L325.2 1791.9Z" fill="url(#or)" stroke="#d2580f" stroke-width="0.48"/>
<path d="M311.3 1816.0L311.3 1799.5L318.2 1803.9Z" fill="#ffffff" fill-opacity="0.06"/>
<path d="M311.3 1799.5L325.2 1791.9L318.2 1803.9Z" fill="#000000" fill-opacity="0.05"/>
<path d="M325.2 1791.9L324.9 1808.2L318.2 1803.9Z" fill="#ffffff" fill-opacity="0.03"/>
<path d="M297.7 1808.2L311.3 1816L311.3 1799.5L297.4 1791.9Z" fill="url(#ol)" stroke="#d2580f" stroke-width="0.48"/>
<path d="M311.3 1816.0L311.3 1799.5L304.4 1803.9Z" fill="#000000" fill-opacity="0.05"/>
<path d="M311.3 1799.5L297.4 1791.9L304.4 1803.9Z" fill="#ffffff" fill-opacity="0.06"/>
<path d="M297.4 1791.9L297.7 1808.2L304.4 1803.9Z" fill="#ffffff" fill-opacity="0.03"/>
<path d="M311.3 1784.7L314.5 1769.5L308.1 1769.5Z" fill="#0a0a0a"/>
<path d="M297.4 1791.9L300.6 1776.7L294.2 1776.7Z" fill="#0a0a0a"/>
<path d="M297.4 1791.9L306.2 1799.3L308.6 1794.4Z" fill="#0a0a0a"/>
<path d="M297.4 1791.9L283.2 1795.4L286.0 1801.1Z" fill="#0a0a0a"/>
<path d="M325.2 1791.9L328.4 1776.7L322.0 1776.7Z" fill="#0a0a0a"/>
<path d="M325.2 1791.9L336.6 1801.1L339.4 1795.4Z" fill="#0a0a0a"/>
<path d="M325.2 1791.9L314.0 1794.4L316.4 1799.3Z" fill="#0a0a0a"/>
<path d="M297.7 1808.2L283.5 1811.7L286.4 1817.4Z" fill="#0a0a0a"/>
<path d="M324.9 1808.2L336.2 1817.4L339.1 1811.7Z" fill="#0a0a0a"/>
<path d="M311.3 1816.0L314.0 1804.1L308.6 1804.1Z" fill="#0a0a0a"/>
<path d="M311.3 1816.0L322.7 1825.2L325.5 1819.4Z" fill="#0a0a0a"/>
<path d="M311.3 1816.0L297.1 1819.4L299.9 1825.2Z" fill="#0a0a0a"/>
<circle cx="311.3" cy="1784.7" r="1.4" fill="#e8141c"/>
<circle cx="297.4" cy="1791.9" r="1.4" fill="#e8141c"/>
<circle cx="325.2" cy="1791.9" r="1.4" fill="#e8141c"/>
<circle cx="297.7" cy="1808.2" r="1.4" fill="#e8141c"/>
<circle cx="324.9" cy="1808.2" r="1.4" fill="#e8141c"/>
<circle cx="311.3" cy="1816.0" r="1.4" fill="#e8141c"/>
</g>
<g opacity="0.58">
<path d="M224 1850L236.7 1859.5L234.5 1842.9L221.6 1833.6Z" class="fwlo"/>
<path d="M225.2 1849.2L235 1856.6L233.3 1843.7L223.2 1836.5Z" class="bv30"/>
<path d="M236.7 1859.5L234.5 1842.9L221.6 1833.6" class="sm3"/>
<path d="M398.6 1850L385.9 1859.5L388.1 1842.9L401 1833.6Z" class="fwro"/>
<path d="M397.4 1849.2L387.6 1856.6L389.3 1843.7L399.4 1836.5Z" class="bv30"/>
<path d="M385.9 1859.5L388.1 1842.9L401 1833.6" class="sm3"/>
<path d="M311.3 1697L326.4 1702.6L311.3 1708.4L296.2 1702.6Z" class="fwt"/>
<path d="M311.3 1698.3L323.1 1702.6L311.3 1707.2L299.5 1702.6Z" class="bv30"/>
<path d="M326.4 1702.6L311.3 1708.4L296.2 1702.6" class="sm3"/>
<path d="M236.7 1859.5L250 1869.4L248.2 1852.7L234.5 1842.9Z" class="fwlo"/>
<path d="M237.9 1858.7L248.3 1866.5L246.9 1853.5L236.2 1845.8Z" class="bv30"/>
<path d="M250 1869.4L248.2 1852.7L234.5 1842.9L236.7 1859.5" class="sm3"/>
<path d="M385.9 1859.5L372.6 1869.4L374.4 1852.7L388.1 1842.9Z" class="fwro"/>
<path d="M384.7 1858.7L374.3 1866.5L375.7 1853.5L386.4 1845.8Z" class="bv30"/>
<path d="M372.6 1869.4L374.4 1852.7L388.1 1842.9L385.9 1859.5" class="sm3"/>
<path d="M221.6 1833.6L234.5 1842.9L232.2 1825.4L218.9 1816.3Z" class="fwlo"/>
<path d="M222.7 1832.7L232.8 1840L231 1826.3L220.7 1819.2Z" class="bv30"/>
<path d="M221.6 1833.6L234.5 1842.9L232.2 1825.4L218.9 1816.3" class="sm3"/>
<path d="M401 1833.6L388.1 1842.9L390.4 1825.4L403.7 1816.3Z" class="fwro"/>
<path d="M399.9 1832.7L389.8 1840L391.6 1826.3L401.9 1819.2Z" class="bv30"/>
<path d="M401 1833.6L388.1 1842.9L390.4 1825.4L403.7 1816.3" class="sm3"/>
<path d="M296.2 1702.6L311.3 1708.4L295.3 1714.6L280.2 1708.4Z" class="fwt"/>
<path d="M296.1 1703.9L307.9 1708.5L295.4 1713.3L283.6 1708.5Z" class="bv30"/>
<path d="M296.2 1702.6L311.3 1708.4L295.3 1714.6L280.2 1708.4" class="sm3"/>
<path d="M326.4 1702.6L342.4 1708.4L327.3 1714.6L311.3 1708.4Z" class="fwt"/>
<path d="M326.5 1703.9L339 1708.5L327.2 1713.3L314.7 1708.5Z" class="bv30"/>
<path d="M342.4 1708.4L327.3 1714.6L311.3 1708.4L326.4 1702.6" class="sm3"/>
<path d="M250 1869.4L264.1 1879.9L262.6 1863.1L248.2 1852.7Z" class="fwlo"/>
<path d="M251.4 1868.7L262.4 1876.9L261.2 1863.8L250 1855.7Z" class="bv30"/>
<path d="M264.1 1879.9L262.6 1863.1L248.2 1852.7L250 1869.4" class="sm3"/>
<path d="M372.6 1869.4L358.5 1879.9L360 1863.1L374.4 1852.7Z" class="fwro"/>
<path d="M371.2 1868.7L360.2 1876.9L361.4 1863.8L372.6 1855.7Z" class="bv30"/>
<path d="M358.5 1879.9L360 1863.1L374.4 1852.7L372.6 1869.4" class="sm3"/>
<path d="M234.5 1842.9L248.2 1852.7L246.2 1835L232.2 1825.4Z" class="fwlo"/>
<path d="M235.8 1842.1L246.4 1849.7L244.9 1835.9L234 1828.4Z" class="bv30"/>
<path d="M234.5 1842.9L248.2 1852.7L246.2 1835L232.2 1825.4L234.5 1842.9" class="sm3"/>
<path d="M388.1 1842.9L374.4 1852.7L376.4 1835L390.4 1825.4Z" class="fwro"/>
<path d="M386.8 1842.1L376.2 1849.7L377.7 1835.9L388.6 1828.4Z" class="bv30"/>
<path d="M388.1 1842.9L374.4 1852.7L376.4 1835L390.4 1825.4L388.1 1842.9" class="sm3"/>
<path d="M218.9 1816.3L232.2 1825.4L229.8 1806.8L216.1 1797.9Z" class="fwlo"/>
<path d="M220.1 1815.3L230.5 1822.3L228.5 1807.8L217.9 1800.9Z" class="bv30"/>
<path d="M218.9 1816.3L232.2 1825.4L229.8 1806.8L216.1 1797.9" class="sm3"/>
<path d="M403.7 1816.3L390.4 1825.4L392.8 1806.8L406.5 1797.9Z" class="fwro"/>
<path d="M402.5 1815.3L392.1 1822.3L394.1 1807.8L404.7 1800.9Z" class="bv30"/>
<path d="M403.7 1816.3L390.4 1825.4L392.8 1806.8L406.5 1797.9" class="sm3"/>
<path d="M280.2 1708.4L295.3 1714.6L278.4 1721.2L263.4 1714.6Z" class="fwt"/>
<path d="M280 1709.8L291.8 1714.6L278.6 1719.7L266.9 1714.6Z" class="bv30"/>
<path d="M280.2 1708.4L295.3 1714.6L278.4 1721.2L263.4 1714.6" class="sm3"/>
<path d="M311.3 1708.4L327.3 1714.6L311.3 1721.2L295.3 1714.6Z" class="fwt"/>
<path d="M311.3 1709.8L323.8 1714.6L311.3 1719.7L298.8 1714.6Z" class="bv30"/>
<path d="M311.3 1708.4L327.3 1714.6L311.3 1721.2L295.3 1714.6L311.3 1708.4" class="sm3"/>
<path d="M342.4 1708.4L359.2 1714.6L344.2 1721.2L327.3 1714.6Z" class="fwt"/>
<path d="M342.6 1709.8L355.7 1714.6L344 1719.7L330.8 1714.6Z" class="bv30"/>
<path d="M359.2 1714.6L344.2 1721.2L327.3 1714.6L342.4 1708.4" class="sm3"/>
<path d="M264.1 1879.9L278.9 1891L277.9 1874L262.6 1863.1Z" class="fwlo"/>
<path d="M265.6 1879.3L277.2 1887.9L276.4 1874.7L264.4 1866.1Z" class="bv30"/>
<path d="M278.9 1891L277.9 1874L262.6 1863.1L264.1 1879.9" class="sm3"/>
<path d="M358.5 1879.9L343.7 1891L344.7 1874L360 1863.1Z" class="fwro"/>
<path d="M357 1879.3L345.4 1887.9L346.2 1874.7L358.2 1866.1Z" class="bv30"/>
<path d="M343.7 1891L344.7 1874L360 1863.1L358.5 1879.9" class="sm3"/>
<path d="M248.2 1852.7L262.6 1863.1L261.1 1845.2L246.2 1835Z" class="fwlo"/>
<path d="M249.6 1851.9L260.8 1860L259.6 1846L248.1 1838.1Z" class="bv30"/>
<path d="M248.2 1852.7L262.6 1863.1L261.1 1845.2L246.2 1835L248.2 1852.7" class="sm3"/>
<path d="M374.4 1852.7L360 1863.1L361.5 1845.2L376.4 1835Z" class="fwro"/>
<path d="M373 1851.9L361.8 1860L363 1846L374.5 1838.1Z" class="bv30"/>
<path d="M374.4 1852.7L360 1863.1L361.5 1845.2L376.4 1835L374.4 1852.7" class="sm3"/>
<path d="M232.2 1825.4L246.2 1835L244.2 1816.1L229.8 1806.8Z" class="fwlo"/>
<path d="M233.5 1824.4L244.4 1831.9L242.8 1817.2L231.6 1809.8Z" class="bv30"/>
<path d="M232.2 1825.4L246.2 1835L244.2 1816.1L229.8 1806.8L232.2 1825.4" class="sm3"/>
<path d="M390.4 1825.4L376.4 1835L378.4 1816.1L392.8 1806.8Z" class="fwro"/>
<path d="M389.1 1824.4L378.2 1831.9L379.8 1817.2L391 1809.8Z" class="bv30"/>
<path d="M390.4 1825.4L376.4 1835L378.4 1816.1L392.8 1806.8L390.4 1825.4" class="sm3"/>
<path d="M216.1 1797.9L229.8 1806.8L227.1 1786.9L213.2 1778.4Z" class="fwlo"/>
<path d="M217.3 1796.7L227.9 1803.6L225.9 1788.2L215 1781.5Z" class="bv30"/>
<path d="M216.1 1797.9L229.8 1806.8L227.1 1786.9L213.2 1778.4" class="sm3"/>
<path d="M406.5 1797.9L392.8 1806.8L395.5 1786.9L409.4 1778.4Z" class="fwro"/>
<path d="M405.3 1796.7L394.7 1803.6L396.7 1788.2L407.6 1781.5Z" class="bv30"/>
<path d="M406.5 1797.9L392.8 1806.8L395.5 1786.9L409.4 1778.4" class="sm3"/>
<path d="M263.4 1714.6L278.4 1721.2L260.5 1728.1L245.5 1721.2Z" class="fwt"/>
<path d="M263 1716.1L274.8 1721.2L260.8 1726.6L249.2 1721.2Z" class="bv30"/>
<path d="M263.4 1714.6L278.4 1721.2L260.5 1728.1L245.5 1721.2" class="sm3"/>
<path d="M295.3 1714.6L311.3 1721.2L294.4 1728.1L278.4 1721.2Z" class="fwt"/>
<path d="M295.2 1716.1L307.7 1721.2L294.5 1726.6L282 1721.2Z" class="bv30"/>
<path d="M295.3 1714.6L311.3 1721.2L294.4 1728.1L278.4 1721.2L295.3 1714.6" class="sm3"/>
<path d="M327.3 1714.6L344.2 1721.2L328.2 1728.1L311.3 1721.2Z" class="fwt"/>
<path d="M327.4 1716.1L340.6 1721.2L328.1 1726.6L314.9 1721.2Z" class="bv30"/>
<path d="M327.3 1714.6L344.2 1721.2L328.2 1728.1L311.3 1721.2L327.3 1714.6" class="sm3"/>
<path d="M359.2 1714.6L377.1 1721.2L362.1 1728.1L344.2 1721.2Z" class="fwt"/>
<path d="M359.6 1716.1L373.4 1721.2L361.8 1726.6L347.8 1721.2Z" class="bv30"/>
<path d="M377.1 1721.2L362.1 1728.1L344.2 1721.2L359.2 1714.6" class="sm3"/>
<path d="M278.9 1891L294.7 1902.7L294.1 1885.6L277.9 1874Z" class="fwlo"/>
<path d="M280.6 1890.4L292.8 1899.6L292.4 1886.2L279.8 1877.2Z" class="bv30"/>
<path d="M294.7 1902.7L294.1 1885.6L277.9 1874L278.9 1891" class="sm3"/>
<path d="M343.7 1891L327.9 1902.7L328.5 1885.6L344.7 1874Z" class="fwro"/>
<path d="M342 1890.4L329.8 1899.6L330.2 1886.2L342.8 1877.2Z" class="bv30"/>
<path d="M327.9 1902.7L328.5 1885.6L344.7 1874L343.7 1891" class="sm3"/>
<path d="M262.6 1863.1L277.9 1874L276.8 1855.9L261.1 1845.2Z" class="fwlo"/>
<path d="M264.2 1862.3L276.1 1870.8L275.2 1856.7L263 1848.3Z" class="bv30"/>
<path d="M262.6 1863.1L277.9 1874L276.8 1855.9L261.1 1845.2L262.6 1863.1" class="sm3"/>
<path d="M360 1863.1L344.7 1874L345.8 1855.9L361.5 1845.2Z" class="fwro"/>
<path d="M358.4 1862.3L346.5 1870.8L347.4 1856.7L359.6 1848.3Z" class="bv30"/>
<path d="M360 1863.1L344.7 1874L345.8 1855.9L361.5 1845.2L360 1863.1" class="sm3"/>
<path d="M246.2 1835L261.1 1845.2L259.4 1826.1L244.2 1816.1Z" class="fwlo"/>
<path d="M247.7 1834L259.2 1841.9L258 1827.1L246 1819.3Z" class="bv30"/>
<path d="M246.2 1835L261.1 1845.2L259.4 1826.1L244.2 1816.1L246.2 1835" class="sm3"/>
<path d="M376.4 1835L361.5 1845.2L363.2 1826.1L378.4 1816.1Z" class="fwro"/>
<path d="M374.9 1834L363.4 1841.9L364.6 1827.1L376.6 1819.3Z" class="bv30"/>
<path d="M376.4 1835L361.5 1845.2L363.2 1826.1L378.4 1816.1L376.4 1835" class="sm3"/>
<path d="M229.8 1806.8L244.2 1816.1L241.9 1796L227.1 1786.9Z" class="fwlo"/>
<path d="M231.1 1805.6L242.3 1812.9L240.6 1797.2L229 1790.1Z" class="bv30"/>
<path d="M229.8 1806.8L244.2 1816.1L241.9 1796L227.1 1786.9L229.8 1806.8" class="sm3"/>
<path d="M392.8 1806.8L378.4 1816.1L380.7 1796L395.5 1786.9Z" class="fwro"/>
<path d="M391.5 1805.6L380.3 1812.9L382 1797.2L393.6 1790.1Z" class="bv30"/>
<path d="M392.8 1806.8L378.4 1816.1L380.7 1796L395.5 1786.9L392.8 1806.8" class="sm3"/>
<path d="M213.2 1778.4L227.1 1786.9L224.4 1765.8L210 1757.6Z" class="fwlo"/>
<path d="M214.4 1777L225.3 1783.7L223.1 1767.2L211.9 1760.8Z" class="bv30"/>
<path d="M213.2 1778.4L227.1 1786.9L224.4 1765.8L210 1757.6" class="sm3"/>
<path d="M409.4 1778.4L395.5 1786.9L398.2 1765.8L412.6 1757.6Z" class="fwro"/>
<path d="M408.2 1777L397.3 1783.7L399.5 1767.2L410.7 1760.8Z" class="bv30"/>
<path d="M409.4 1778.4L395.5 1786.9L398.2 1765.8L412.6 1757.6" class="sm3"/>
<path d="M245.5 1721.2L260.5 1728.1L241.6 1735.4L226.7 1728.1Z" class="fwt"/>
<path d="M245.1 1722.7L256.8 1728.1L242 1733.8L230.4 1728.1Z" class="bv30"/>
<path d="M245.5 1721.2L260.5 1728.1L241.6 1735.4L226.7 1728.1" class="sm3"/>
<path d="M278.4 1721.2L294.4 1728.1L276.4 1735.4L260.5 1728.1Z" class="fwt"/>
<path d="M278.2 1722.7L290.7 1728.1L276.6 1733.8L264.3 1728.1Z" class="bv30"/>
<path d="M278.4 1721.2L294.4 1728.1L276.4 1735.4L260.5 1728.1L278.4 1721.2" class="sm3"/>
<path d="M311.3 1721.2L328.2 1728.1L311.3 1735.4L294.4 1728.1Z" class="fwt"/>
<path d="M311.3 1722.7L324.5 1728.1L311.3 1733.8L298.1 1728.1Z" class="bv30"/>
<path d="M311.3 1721.2L328.2 1728.1L311.3 1735.4L294.4 1728.1L311.3 1721.2" class="sm3"/>
<path d="M344.2 1721.2L362.1 1728.1L346.2 1735.4L328.2 1728.1Z" class="fwt"/>
<path d="M344.4 1722.7L358.3 1728.1L346 1733.8L331.9 1728.1Z" class="bv30"/>
<path d="M344.2 1721.2L362.1 1728.1L346.2 1735.4L328.2 1728.1L344.2 1721.2" class="sm3"/>
<path d="M377.1 1721.2L395.9 1728.1L381 1735.4L362.1 1728.1Z" class="fwt"/>
<path d="M377.5 1722.7L392.2 1728.1L380.6 1733.8L365.8 1728.1Z" class="bv30"/>
<path d="M395.9 1728.1L381 1735.4L362.1 1728.1L377.1 1721.2" class="sm3"/>
<path d="M327.9 1902.7L311.3 1915.2L311.3 1898L328.5 1885.6Z" class="fwro"/>
<path d="M326.1 1902.2L313.2 1911.9L313.2 1898.5L326.6 1888.9Z" class="bv30"/>
<path d="M311.3 1898L328.5 1885.6L327.9 1902.7" class="sm3"/>
<path d="M294.7 1902.7L311.3 1915.2L311.3 1898L294.1 1885.6Z" class="fwlo"/>
<path d="M296.5 1902.2L309.4 1911.9L309.4 1898.5L296 1888.9Z" class="bv30"/>
<path d="M311.3 1898L294.1 1885.6L294.7 1902.7" class="sm3"/>
<path d="M277.9 1874L294.1 1885.6L293.5 1867.4L276.8 1855.9Z" class="fwlo"/>
<path d="M279.6 1873.3L292.2 1882.4L291.8 1868.1L278.7 1859.2Z" class="bv30"/>
<path d="M277.9 1874L294.1 1885.6L293.5 1867.4L276.8 1855.9L277.9 1874" class="sm3"/>
<path d="M344.7 1874L328.5 1885.6L329.1 1867.4L345.8 1855.9Z" class="fwro"/>
<path d="M343 1873.3L330.4 1882.4L330.8 1868.1L343.9 1859.2Z" class="bv30"/>
<path d="M344.7 1874L328.5 1885.6L329.1 1867.4L345.8 1855.9L344.7 1874" class="sm3"/>
<path d="M261.1 1845.2L276.8 1855.9L275.6 1836.6L259.4 1826.1Z" class="fwlo"/>
<path d="M262.7 1844.2L274.9 1852.6L274 1837.6L261.4 1829.3Z" class="bv30"/>
<path d="M261.1 1845.2L276.8 1855.9L275.6 1836.6L259.4 1826.1L261.1 1845.2" class="sm3"/>
<path d="M361.5 1845.2L345.8 1855.9L347 1836.6L363.2 1826.1Z" class="fwro"/>
<path d="M359.9 1844.2L347.7 1852.6L348.6 1837.6L361.2 1829.3Z" class="bv30"/>
<path d="M361.5 1845.2L345.8 1855.9L347 1836.6L363.2 1826.1L361.5 1845.2" class="sm3"/>
<path d="M244.2 1816.1L259.4 1826.1L257.7 1805.7L241.9 1796Z" class="fwlo"/>
<path d="M245.6 1815L257.5 1822.7L256.2 1806.8L243.9 1799.3Z" class="bv30"/>
<path d="M244.2 1816.1L259.4 1826.1L257.7 1805.7L241.9 1796L244.2 1816.1" class="sm3"/>
<path d="M378.4 1816.1L363.2 1826.1L364.9 1805.7L380.7 1796Z" class="fwro"/>
<path d="M377 1815L365.1 1822.7L366.4 1806.8L378.7 1799.3Z" class="bv30"/>
<path d="M378.4 1816.1L363.2 1826.1L364.9 1805.7L380.7 1796L378.4 1816.1" class="sm3"/>
<path d="M227.1 1786.9L241.9 1796L239.6 1774.5L224.4 1765.8Z" class="fwlo"/>
<path d="M228.5 1785.6L240 1792.7L238.2 1775.9L226.3 1769.1Z" class="bv30"/>
<path d="M227.1 1786.9L241.9 1796L239.6 1774.5L224.4 1765.8L227.1 1786.9" class="sm3"/>
<path d="M395.5 1786.9L380.7 1796L383 1774.5L398.2 1765.8Z" class="fwro"/>
<path d="M394.1 1785.6L382.6 1792.7L384.4 1775.9L396.3 1769.1Z" class="bv30"/>
<path d="M395.5 1786.9L380.7 1796L383 1774.5L398.2 1765.8L395.5 1786.9" class="sm3"/>
<path d="M226.7 1728.1L241.6 1735.4L221.4 1743.2L206.7 1735.4Z" class="fwt"/>
<path d="M226.1 1729.7L237.7 1735.5L222 1741.6L210.5 1735.5Z" class="bv30"/>
<path d="M226.7 1728.1L241.6 1735.4L221.4 1743.2" class="sm3"/>
<path d="M210 1757.6L224.4 1765.8L221.4 1743.2L206.7 1735.4Z" class="fwlo"/>
<path d="M211.3 1756L222.4 1762.5L220.1 1744.8L208.6 1738.8Z" class="bv30"/>
<path d="M210 1757.6L224.4 1765.8L221.4 1743.2" class="sm3"/>
<path d="M260.5 1728.1L276.4 1735.4L257.4 1743.2L241.6 1735.4Z" class="fwt"/>
<path d="M260.2 1729.7L272.6 1735.5L257.7 1741.6L245.4 1735.5Z" class="bv30"/>
<path d="M260.5 1728.1L276.4 1735.4L257.4 1743.2L241.6 1735.4L260.5 1728.1" class="sm3"/>
<path d="M294.4 1728.1L311.3 1735.4L293.3 1743.2L276.4 1735.4Z" class="fwt"/>
<path d="M294.3 1729.7L307.5 1735.5L293.4 1741.6L280.3 1735.5Z" class="bv30"/>
<path d="M294.4 1728.1L311.3 1735.4L293.3 1743.2L276.4 1735.4L294.4 1728.1" class="sm3"/>
<path d="M328.2 1728.1L346.2 1735.4L329.3 1743.2L311.3 1735.4Z" class="fwt"/>
<path d="M328.3 1729.7L342.3 1735.5L329.2 1741.6L315.1 1735.5Z" class="bv30"/>
<path d="M328.2 1728.1L346.2 1735.4L329.3 1743.2L311.3 1735.4L328.2 1728.1" class="sm3"/>
<path d="M362.1 1728.1L381 1735.4L365.2 1743.2L346.2 1735.4Z" class="fwt"/>
<path d="M362.4 1729.7L377.2 1735.5L364.9 1741.6L350 1735.5Z" class="bv30"/>
<path d="M362.1 1728.1L381 1735.4L365.2 1743.2L346.2 1735.4L362.1 1728.1" class="sm3"/>
<path d="M395.9 1728.1L415.9 1735.4L401.2 1743.2L381 1735.4Z" class="fwt"/>
<path d="M396.5 1729.7L412.1 1735.5L400.6 1741.6L384.9 1735.5Z" class="bv30"/>
<path d="M401.2 1743.2L381 1735.4L395.9 1728.1" class="sm3"/>
<path d="M412.6 1757.6L398.2 1765.8L401.2 1743.2L415.9 1735.4Z" class="fwro"/>
<path d="M411.3 1756L400.2 1762.5L402.5 1744.8L414 1738.8Z" class="bv30"/>
<path d="M412.6 1757.6L398.2 1765.8L401.2 1743.2" class="sm3"/>
<path d="M328.5 1885.6L311.3 1898L311.3 1879.5L329.1 1867.4Z" class="fwro"/>
<path d="M326.6 1885L313.2 1894.6L313.2 1880.2L327.1 1870.7Z" class="bv30"/>
<path d="M328.5 1885.6L311.3 1898M311.3 1879.5L329.1 1867.4L328.5 1885.6" class="sm3"/>
<path d="M294.1 1885.6L311.3 1898L311.3 1879.5L293.5 1867.4Z" class="fwlo"/>
<path d="M296 1885L309.4 1894.6L309.4 1880.2L295.5 1870.7Z" class="bv30"/>
<path d="M294.1 1885.6L311.3 1898M311.3 1879.5L293.5 1867.4L294.1 1885.6" class="sm3"/>
<path d="M276.8 1855.9L293.5 1867.4L292.9 1847.8L275.6 1836.6Z" class="fwlo"/>
<path d="M278.6 1855L291.6 1864L291.1 1848.7L277.6 1840Z" class="bv30"/>
<path d="M276.8 1855.9L293.5 1867.4L292.9 1847.8L275.6 1836.6L276.8 1855.9" class="sm3"/>
<path d="M345.8 1855.9L329.1 1867.4L329.7 1847.8L347 1836.6Z" class="fwro"/>
<path d="M344 1855L331 1864L331.5 1848.7L345 1840Z" class="bv30"/>
<path d="M345.8 1855.9L329.1 1867.4L329.7 1847.8L347 1836.6L345.8 1855.9" class="sm3"/>
<path d="M259.4 1826.1L275.6 1836.6L274.4 1815.9L257.7 1805.7Z" class="fwlo"/>
<path d="M261 1825L273.7 1833.2L272.7 1817.1L259.7 1809.1Z" class="bv30"/>
<path d="M259.4 1826.1L275.6 1836.6L274.4 1815.9L257.7 1805.7L259.4 1826.1" class="sm3"/>
<path d="M363.2 1826.1L347 1836.6L348.2 1815.9L364.9 1805.7Z" class="fwro"/>
<path d="M361.6 1825L348.9 1833.2L349.9 1817.1L362.9 1809.1Z" class="bv30"/>
<path d="M363.2 1826.1L347 1836.6L348.2 1815.9L364.9 1805.7L363.2 1826.1" class="sm3"/>
<path d="M241.9 1796L257.7 1805.7L255.8 1783.8L239.6 1774.5Z" class="fwlo"/>
<path d="M243.4 1794.7L255.7 1802.2L254.2 1785.2L241.6 1778Z" class="bv30"/>
<path d="M241.9 1796L257.7 1805.7L255.8 1783.8L239.6 1774.5L241.9 1796" class="sm3"/>
<path d="M380.7 1796L364.9 1805.7L366.8 1783.8L383 1774.5Z" class="fwro"/>
<path d="M379.2 1794.7L366.9 1802.2L368.4 1785.2L381 1778Z" class="bv30"/>
<path d="M380.7 1796L364.9 1805.7L366.8 1783.8L383 1774.5L380.7 1796" class="sm3"/>
<path d="M241.6 1735.4L257.4 1743.2L237.1 1751.6L221.4 1743.2Z" class="fwt"/>
<path d="M241.1 1737.2L253.4 1743.3L237.6 1749.8L225.3 1743.3Z" class="bv30"/>
<path d="M241.6 1735.4L257.4 1743.2L237.1 1751.6M221.4 1743.2L241.6 1735.4" class="sm3"/>
<path d="M224.4 1765.8L239.6 1774.5L237.1 1751.6L221.4 1743.2Z" class="fwlo"/>
<path d="M225.7 1764.3L237.6 1771.1L235.6 1753.2L223.4 1746.7Z" class="bv30"/>
<path d="M224.4 1765.8L239.6 1774.5L237.1 1751.6M221.4 1743.2L224.4 1765.8" class="sm3"/>
<path d="M276.4 1735.4L293.3 1743.2L274.2 1751.6L257.4 1743.2Z" class="fwt"/>
<path d="M276.2 1737.2L289.4 1743.3L274.4 1749.8L261.3 1743.3Z" class="bv30"/>
<path d="M276.4 1735.4L293.3 1743.2L274.2 1751.6L257.4 1743.2L276.4 1735.4" class="sm3"/>
<path d="M311.3 1735.4L329.3 1743.2L311.3 1751.6L293.3 1743.2Z" class="fwt"/>
<path d="M311.3 1737.2L325.3 1743.3L311.3 1749.8L297.3 1743.3Z" class="bv30"/>
<path d="M311.3 1735.4L329.3 1743.2L311.3 1751.6L293.3 1743.2L311.3 1735.4" class="sm3"/>
<path d="M346.2 1735.4L365.2 1743.2L348.4 1751.6L329.3 1743.2Z" class="fwt"/>
<path d="M346.4 1737.2L361.3 1743.3L348.2 1749.8L333.2 1743.3Z" class="bv30"/>
<path d="M346.2 1735.4L365.2 1743.2L348.4 1751.6L329.3 1743.2L346.2 1735.4" class="sm3"/>
<path d="M381 1735.4L401.2 1743.2L385.5 1751.6L365.2 1743.2Z" class="fwt"/>
<path d="M381.5 1737.2L397.3 1743.3L385 1749.8L369.2 1743.3Z" class="bv30"/>
<path d="M381 1735.4L401.2 1743.2M385.5 1751.6L365.2 1743.2L381 1735.4" class="sm3"/>
<path d="M398.2 1765.8L383 1774.5L385.5 1751.6L401.2 1743.2Z" class="fwro"/>
<path d="M396.9 1764.3L385 1771.1L387 1753.2L399.2 1746.7Z" class="bv30"/>
<path d="M398.2 1765.8L383 1774.5L385.5 1751.6M401.2 1743.2L398.2 1765.8" class="sm3"/>
<path d="M329.1 1867.4L311.3 1879.5L311.3 1859.8L329.7 1847.8Z" class="fwro"/>
<path d="M327.2 1866.5L313.3 1876L313.3 1860.6L327.6 1851.3Z" class="bv30"/>
<path d="M329.1 1867.4L311.3 1879.5M311.3 1859.8L329.7 1847.8L329.1 1867.4" class="sm3"/>
<path d="M293.5 1867.4L311.3 1879.5L311.3 1859.8L292.9 1847.8Z" class="fwlo"/>
<path d="M295.4 1866.5L309.3 1876L309.3 1860.6L295 1851.3Z" class="bv30"/>
<path d="M293.5 1867.4L311.3 1879.5M311.3 1859.8L292.9 1847.8L293.5 1867.4" class="sm3"/>
<path d="M275.6 1836.6L292.9 1847.8L292.2 1826.9L274.4 1815.9Z" class="fwlo"/>
<path d="M277.4 1835.6L290.9 1844.3L290.4 1828L276.5 1819.4Z" class="bv30"/>
<path d="M275.6 1836.6L292.9 1847.8L292.2 1826.9L274.4 1815.9L275.6 1836.6" class="sm3"/>
<path d="M347 1836.6L329.7 1847.8L330.4 1826.9L348.2 1815.9Z" class="fwro"/>
<path d="M345.2 1835.6L331.7 1844.3L332.2 1828L346.1 1819.4Z" class="bv30"/>
<path d="M347 1836.6L329.7 1847.8L330.4 1826.9L348.2 1815.9L347 1836.6" class="sm3"/>
<path d="M257.7 1805.7L274.4 1815.9L273.1 1793.8L255.8 1783.8Z" class="fwlo"/>
<path d="M259.3 1804.4L272.4 1812.4L271.3 1795.1L257.9 1787.4Z" class="bv30"/>
<path d="M257.7 1805.7L274.4 1815.9L273.1 1793.8L255.8 1783.8L257.7 1805.7" class="sm3"/>
<path d="M364.9 1805.7L348.2 1815.9L349.5 1793.8L366.8 1783.8Z" class="fwro"/>
<path d="M363.3 1804.4L350.2 1812.4L351.3 1795.1L364.7 1787.4Z" class="bv30"/>
<path d="M364.9 1805.7L348.2 1815.9L349.5 1793.8L366.8 1783.8L364.9 1805.7" class="sm3"/>
<path d="M257.4 1743.2L274.2 1751.6L253.8 1760.4L237.1 1751.6Z" class="fwt"/>
<path d="M257 1745.1L270.1 1751.6L254.2 1758.5L241.1 1751.6Z" class="bv30"/>
<path d="M257.4 1743.2L274.2 1751.6L253.8 1760.4M237.1 1751.6L257.4 1743.2" class="sm3"/>
<path d="M239.6 1774.5L255.8 1783.8L253.8 1760.4L237.1 1751.6Z" class="fwlo"/>
<path d="M241.1 1773L253.7 1780.3L252.2 1762L239.1 1755.1Z" class="bv30"/>
<path d="M239.6 1774.5L255.8 1783.8L253.8 1760.4M237.1 1751.6L239.6 1774.5" class="sm3"/>
<path d="M293.3 1743.2L311.3 1751.6L292.1 1760.4L274.2 1751.6Z" class="fwt"/>
<path d="M293.2 1745.1L307.2 1751.6L292.3 1758.5L278.3 1751.6Z" class="bv30"/>
<path d="M293.3 1743.2L311.3 1751.6L292.1 1760.4L274.2 1751.6L293.3 1743.2" class="sm3"/>
<path d="M329.3 1743.2L348.4 1751.6L330.5 1760.4L311.3 1751.6Z" class="fwt"/>
<path d="M329.4 1745.1L344.3 1751.6L330.3 1758.5L315.4 1751.6Z" class="bv30"/>
<path d="M329.3 1743.2L348.4 1751.6L330.5 1760.4L311.3 1751.6L329.3 1743.2" class="sm3"/>
<path d="M365.2 1743.2L385.5 1751.6L368.8 1760.4L348.4 1751.6Z" class="fwt"/>
<path d="M365.6 1745.1L381.5 1751.6L368.4 1758.5L352.5 1751.6Z" class="bv30"/>
<path d="M365.2 1743.2L385.5 1751.6M368.8 1760.4L348.4 1751.6L365.2 1743.2" class="sm3"/>
<path d="M383 1774.5L366.8 1783.8L368.8 1760.4L385.5 1751.6Z" class="fwro"/>
<path d="M381.5 1773L368.9 1780.3L370.4 1762L383.5 1755.1Z" class="bv30"/>
<path d="M383 1774.5L366.8 1783.8L368.8 1760.4M385.5 1751.6L383 1774.5" class="sm3"/>
<path d="M329.7 1847.8L311.3 1859.8L311.3 1838.6L330.4 1826.9Z" class="fwro"/>
<path d="M327.7 1846.8L313.4 1856.2L313.4 1839.6L328.2 1830.5Z" class="bv30"/>
<path d="M329.7 1847.8L311.3 1859.8M311.3 1838.6L330.4 1826.9L329.7 1847.8" class="sm3"/>
<path d="M292.9 1847.8L311.3 1859.8L311.3 1838.6L292.2 1826.9Z" class="fwlo"/>
<path d="M294.9 1846.8L309.2 1856.2L309.2 1839.6L294.4 1830.5Z" class="bv30"/>
<path d="M292.9 1847.8L311.3 1859.8M311.3 1838.6L292.2 1826.9L292.9 1847.8" class="sm3"/>
<path d="M274.4 1815.9L292.2 1826.9L291.5 1804.3L273.1 1793.8Z" class="fwlo"/>
<path d="M276.2 1814.7L290.2 1823.2L289.6 1805.6L275.2 1797.4Z" class="bv30"/>
<path d="M274.4 1815.9L292.2 1826.9L291.5 1804.3L273.1 1793.8L274.4 1815.9" class="sm3"/>
<path d="M348.2 1815.9L330.4 1826.9L331.1 1804.3L349.5 1793.8Z" class="fwro"/>
<path d="M346.4 1814.7L332.4 1823.2L333 1805.6L347.4 1797.4Z" class="bv30"/>
<path d="M348.2 1815.9L330.4 1826.9L331.1 1804.3L349.5 1793.8L348.2 1815.9" class="sm3"/>
<path d="M274.2 1751.6L292.1 1760.4L271.6 1769.9L253.8 1760.4Z" class="fwt"/>
<path d="M273.9 1753.5L287.9 1760.5L271.9 1767.9L258 1760.5Z" class="bv30"/>
<path d="M274.2 1751.6L292.1 1760.4L271.6 1769.9M253.8 1760.4L274.2 1751.6" class="sm3"/>
<path d="M255.8 1783.8L273.1 1793.8L271.6 1769.9L253.8 1760.4Z" class="fwlo"/>
<path d="M257.5 1782.3L271 1790.1L269.8 1771.5L255.9 1764.1Z" class="bv30"/>
<path d="M255.8 1783.8L273.1 1793.8L271.6 1769.9M253.8 1760.4L255.8 1783.8" class="sm3"/>
<path d="M311.3 1751.6L330.5 1760.4L311.3 1769.9L292.1 1760.4Z" class="fwt"/>
<path d="M311.3 1753.5L326.3 1760.5L311.3 1767.9L296.3 1760.5Z" class="bv30"/>
<path d="M311.3 1751.6L330.5 1760.4L311.3 1769.9L292.1 1760.4L311.3 1751.6" class="sm3"/>
<path d="M348.4 1751.6L368.8 1760.4L351 1769.9L330.5 1760.4Z" class="fwt"/>
<path d="M348.7 1753.5L364.6 1760.5L350.7 1767.9L334.7 1760.5Z" class="bv30"/>
<path d="M348.4 1751.6L368.8 1760.4M351 1769.9L330.5 1760.4L348.4 1751.6" class="sm3"/>
<path d="M366.8 1783.8L349.5 1793.8L351 1769.9L368.8 1760.4Z" class="fwro"/>
<path d="M365.1 1782.3L351.6 1790.1L352.8 1771.5L366.7 1764.1Z" class="bv30"/>
<path d="M366.8 1783.8L349.5 1793.8L351 1769.9M368.8 1760.4L366.8 1783.8" class="sm3"/>
<path d="M330.4 1826.9L311.3 1838.6L311.3 1815.7L331.1 1804.3Z" class="fwro"/>
<path d="M328.3 1825.7L313.4 1834.8L313.4 1816.9L328.9 1808.1Z" class="bv30"/>
<path d="M330.4 1826.9L311.3 1838.6M311.3 1815.7L331.1 1804.3L330.4 1826.9" class="sm3"/>
<path d="M292.2 1826.9L311.3 1838.6L311.3 1815.7L291.5 1804.3Z" class="fwlo"/>
<path d="M294.3 1825.7L309.2 1834.8L309.2 1816.9L293.7 1808.1Z" class="bv30"/>
<path d="M292.2 1826.9L311.3 1838.6M311.3 1815.7L291.5 1804.3L292.2 1826.9" class="sm3"/>
<path d="M292.1 1760.4L311.3 1769.9L290.7 1780.1L271.6 1769.9Z" class="fwt"/>
<path d="M292 1762.5L306.9 1769.9L290.9 1777.9L276 1769.9Z" class="bv30"/>
<path d="M292.1 1760.4L311.3 1769.9L290.7 1780.1M271.6 1769.9L292.1 1760.4" class="sm3"/>
<path d="M273.1 1793.8L291.5 1804.3L290.7 1780.1L271.6 1769.9Z" class="fwlo"/>
<path d="M275 1792.3L289.4 1800.5L288.8 1781.6L273.8 1773.7Z" class="bv30"/>
<path d="M273.1 1793.8L291.5 1804.3L290.7 1780.1M271.6 1769.9L273.1 1793.8" class="sm3"/>
<path d="M330.5 1760.4L351 1769.9L331.9 1780.1L311.3 1769.9Z" class="fwt"/>
<path d="M330.6 1762.5L346.6 1769.9L331.7 1777.9L315.7 1769.9Z" class="bv30"/>
<path d="M330.5 1760.4L351 1769.9M331.9 1780.1L311.3 1769.9L330.5 1760.4" class="sm3"/>
<path d="M349.5 1793.8L331.1 1804.3L331.9 1780.1L351 1769.9Z" class="fwro"/>
<path d="M347.6 1792.3L333.2 1800.5L333.8 1781.6L348.8 1773.7Z" class="bv30"/>
<path d="M349.5 1793.8L331.1 1804.3L331.9 1780.1M351 1769.9L349.5 1793.8" class="sm3"/>
<path d="M311.3 1769.9L331.9 1780.1L311.3 1791L290.7 1780.1Z" class="fwt"/>
<path d="M311.3 1772.2L327.3 1780.1L311.3 1788.6L295.3 1780.1Z" class="bv30"/>
<path d="M311.3 1769.9L331.9 1780.1M290.7 1780.1L311.3 1769.9" class="sm3"/>
<path d="M331.1 1804.3L311.3 1815.7L311.3 1791L331.9 1780.1Z" class="fwro"/>
<path d="M328.9 1802.9L313.5 1811.7L313.5 1792.5L329.5 1784Z" class="bv30"/>
<path d="M331.1 1804.3L311.3 1815.7M331.9 1780.1L331.1 1804.3" class="sm3"/>
<path d="M291.5 1804.3L311.3 1815.7L311.3 1791L290.7 1780.1Z" class="fwlo"/>
<path d="M293.7 1802.9L309.1 1811.7L309.1 1792.5L293.1 1784Z" class="bv30"/>
<path d="M291.5 1804.3L311.3 1815.7M290.7 1780.1L291.5 1804.3" class="sm3"/>
</g>
<g opacity="0.40">
<path d="M284.9 1816.5L298.1 1824.5L297.7 1808.2L284.2 1800.4Z" fill="url(#ol)" stroke="#d2580f" stroke-width="0.48"/>
<path d="M298.1 1824.5L297.7 1808.2L291.2 1812.4Z" fill="#000000" fill-opacity="0.05"/>
<path d="M297.7 1808.2L284.2 1800.4L291.2 1812.4Z" fill="#ffffff" fill-opacity="0.06"/>
<path d="M284.2 1800.4L284.9 1816.5L291.2 1812.4Z" fill="#ffffff" fill-opacity="0.03"/>
<path d="M337.7 1816.5L324.5 1824.5L324.9 1808.2L338.4 1800.4Z" fill="url(#or)" stroke="#d2580f" stroke-width="0.48"/>
<path d="M324.5 1824.5L324.9 1808.2L331.4 1812.4Z" fill="#ffffff" fill-opacity="0.06"/>
<path d="M324.9 1808.2L338.4 1800.4L331.4 1812.4Z" fill="#000000" fill-opacity="0.05"/>
<path d="M338.4 1800.4L337.7 1816.5L331.4 1812.4Z" fill="#ffffff" fill-opacity="0.03"/>
<path d="M311.3 1770.5L325.2 1777.4L311.3 1784.7L297.4 1777.4Z" fill="url(#ot)" stroke="#d2580f" stroke-width="0.48"/>
<path d="M311.3 1770.5L325.2 1777.4L311.3 1777.5Z" fill="#ffffff" fill-opacity="0.10"/>
<path d="M311.3 1784.7L297.4 1777.4L311.3 1777.5Z" fill="#000000" fill-opacity="0.04"/>
<path d="M297.4 1777.4L311.3 1770.5L311.3 1777.5Z" fill="#ffffff" fill-opacity="0.05"/>
<path d="M324.5 1824.5L311.3 1832.5L311.3 1816L324.9 1808.2Z" fill="url(#or)" stroke="#d2580f" stroke-width="0.48"/>
<path d="M311.3 1832.5L311.3 1816.0L318.0 1820.3Z" fill="#ffffff" fill-opacity="0.06"/>
<path d="M311.3 1816.0L324.9 1808.2L318.0 1820.3Z" fill="#000000" fill-opacity="0.05"/>
<path d="M324.9 1808.2L324.5 1824.5L318.0 1820.3Z" fill="#ffffff" fill-opacity="0.03"/>
<path d="M298.1 1824.5L311.3 1832.5L311.3 1816L297.7 1808.2Z" fill="url(#ol)" stroke="#d2580f" stroke-width="0.48"/>
<path d="M311.3 1832.5L311.3 1816.0L304.6 1820.3Z" fill="#000000" fill-opacity="0.05"/>
<path d="M311.3 1816.0L297.7 1808.2L304.6 1820.3Z" fill="#ffffff" fill-opacity="0.06"/>
<path d="M297.7 1808.2L298.1 1824.5L304.6 1820.3Z" fill="#ffffff" fill-opacity="0.03"/>
<path d="M297.4 1777.4L311.3 1784.7L297.4 1791.9L283.5 1784.3Z" fill="url(#ot)" stroke="#d2580f" stroke-width="0.48"/>
<path d="M297.4 1777.4L311.3 1784.7L297.4 1784.6Z" fill="#ffffff" fill-opacity="0.10"/>
<path d="M297.4 1791.9L283.5 1784.3L297.4 1784.6Z" fill="#000000" fill-opacity="0.04"/>
<path d="M283.5 1784.3L297.4 1777.4L297.4 1784.6Z" fill="#ffffff" fill-opacity="0.05"/>
<path d="M284.2 1800.4L297.7 1808.2L297.4 1791.9L283.5 1784.3Z" fill="url(#ol)" stroke="#d2580f" stroke-width="0.48"/>
<path d="M297.7 1808.2L297.4 1791.9L290.7 1796.2Z" fill="#000000" fill-opacity="0.05"/>
<path d="M297.4 1791.9L283.5 1784.3L290.7 1796.2Z" fill="#ffffff" fill-opacity="0.06"/>
<path d="M283.5 1784.3L284.2 1800.4L290.7 1796.2Z" fill="#ffffff" fill-opacity="0.03"/>
<path d="M325.2 1777.4L339.1 1784.3L325.2 1791.9L311.3 1784.7Z" fill="url(#ot)" stroke="#d2580f" stroke-width="0.48"/>
<path d="M325.2 1777.4L339.1 1784.3L325.2 1784.6Z" fill="#ffffff" fill-opacity="0.10"/>
<path d="M325.2 1791.9L311.3 1784.7L325.2 1784.6Z" fill="#000000" fill-opacity="0.04"/>
<path d="M311.3 1784.7L325.2 1777.4L325.2 1784.6Z" fill="#ffffff" fill-opacity="0.05"/>
<path d="M338.4 1800.4L324.9 1808.2L325.2 1791.9L339.1 1784.3Z" fill="url(#or)" stroke="#d2580f" stroke-width="0.48"/>
<path d="M324.9 1808.2L325.2 1791.9L331.9 1796.2Z" fill="#ffffff" fill-opacity="0.06"/>
<path d="M325.2 1791.9L339.1 1784.3L331.9 1796.2Z" fill="#000000" fill-opacity="0.05"/>
<path d="M339.1 1784.3L338.4 1800.4L331.9 1796.2Z" fill="#ffffff" fill-opacity="0.03"/>
<path d="M311.3 1784.7L325.2 1791.9L311.3 1799.5L297.4 1791.9Z" fill="url(#ot)" stroke="#d2580f" stroke-width="0.48"/>
<path d="M311.3 1784.7L325.2 1791.9L311.3 1792.0Z" fill="#ffffff" fill-opacity="0.10"/>
<path d="M311.3 1799.5L297.4 1791.9L311.3 1792.0Z" fill="#000000" fill-opacity="0.04"/>
<path d="M297.4 1791.9L311.3 1784.7L311.3 1792.0Z" fill="#ffffff" fill-opacity="0.05"/>
<path d="M324.9 1808.2L311.3 1816L311.3 1799.5L325.2 1791.9Z" fill="url(#or)" stroke="#d2580f" stroke-width="0.48"/>
<path d="M311.3 1816.0L311.3 1799.5L318.2 1803.9Z" fill="#ffffff" fill-opacity="0.06"/>
<path d="M311.3 1799.5L325.2 1791.9L318.2 1803.9Z" fill="#000000" fill-opacity="0.05"/>
<path d="M325.2 1791.9L324.9 1808.2L318.2 1803.9Z" fill="#ffffff" fill-opacity="0.03"/>
<path d="M297.7 1808.2L311.3 1816L311.3 1799.5L297.4 1791.9Z" fill="url(#ol)" stroke="#d2580f" stroke-width="0.48"/>
<path d="M311.3 1816.0L311.3 1799.5L304.4 1803.9Z" fill="#000000" fill-opacity="0.05"/>
<path d="M311.3 1799.5L297.4 1791.9L304.4 1803.9Z" fill="#ffffff" fill-opacity="0.06"/>
<path d="M297.4 1791.9L297.7 1808.2L304.4 1803.9Z" fill="#ffffff" fill-opacity="0.03"/>
<path d="M311.3 1784.7L314.5 1769.5L308.1 1769.5Z" fill="#0a0a0a"/>
<path d="M297.4 1791.9L300.6 1776.7L294.2 1776.7Z" fill="#0a0a0a"/>
<path d="M297.4 1791.9L306.2 1799.3L308.6 1794.4Z" fill="#0a0a0a"/>
<path d="M297.4 1791.9L283.2 1795.4L286.0 1801.1Z" fill="#0a0a0a"/>
<path d="M325.2 1791.9L328.4 1776.7L322.0 1776.7Z" fill="#0a0a0a"/>
<path d="M325.2 1791.9L336.6 1801.1L339.4 1795.4Z" fill="#0a0a0a"/>
<path d="M325.2 1791.9L314.0 1794.4L316.4 1799.3Z" fill="#0a0a0a"/>
<path d="M297.7 1808.2L283.5 1811.7L286.4 1817.4Z" fill="#0a0a0a"/>
<path d="M324.9 1808.2L336.2 1817.4L339.1 1811.7Z" fill="#0a0a0a"/>
<path d="M311.3 1816.0L314.0 1804.1L308.6 1804.1Z" fill="#0a0a0a"/>
<path d="M311.3 1816.0L322.7 1825.2L325.5 1819.4Z" fill="#0a0a0a"/>
<path d="M311.3 1816.0L297.1 1819.4L299.9 1825.2Z" fill="#0a0a0a"/>
<circle cx="311.3" cy="1784.7" r="1.4" fill="#e8141c"/>
<circle cx="297.4" cy="1791.9" r="1.4" fill="#e8141c"/>
<circle cx="325.2" cy="1791.9" r="1.4" fill="#e8141c"/>
<circle cx="297.7" cy="1808.2" r="1.4" fill="#e8141c"/>
<circle cx="324.9" cy="1808.2" r="1.4" fill="#e8141c"/>
<circle cx="311.3" cy="1816.0" r="1.4" fill="#e8141c"/>
</g>
<path d="M311.3 1686.7L192.8 1728.1L214.6 1856.4L311.3 1931.3L408 1856.4L429.8 1728.1Z" fill="none" stroke="#ffffff" stroke-width="2.2" stroke-linejoin="round"/>
<text x="82.01" y="1400.30" font-size="36.65" textLength="165.80" lengthAdjust="spacingAndGlyphs">Nucleation</text>
<text x="293.50" y="1384.30" font-size="35.35" textLength="283.06" lengthAdjust="spacingAndGlyphs">Partial termination</text>
<text x="364.21" y="1424.30" font-size="34.48" textLength="144.01" lengthAdjust="spacingAndGlyphs">of growth</text>
<text x="658.25" y="1384.30" font-size="35.27" textLength="223.26" lengthAdjust="spacingAndGlyphs">Crystal growth</text>
<text x="592.81" y="1424.30" font-size="33.93" textLength="371.31" lengthAdjust="spacingAndGlyphs">on non-terminated parts</text>
<text x="653.42" y="1983.30" font-size="35.84" textLength="257.10" lengthAdjust="spacingAndGlyphs">Space enclosing</text>
<text x="227.73" y="1989.50" font-size="36.36" textLength="188.13" lengthAdjust="spacingAndGlyphs">pmg-MOF-5</text>
</svg></body></html>
